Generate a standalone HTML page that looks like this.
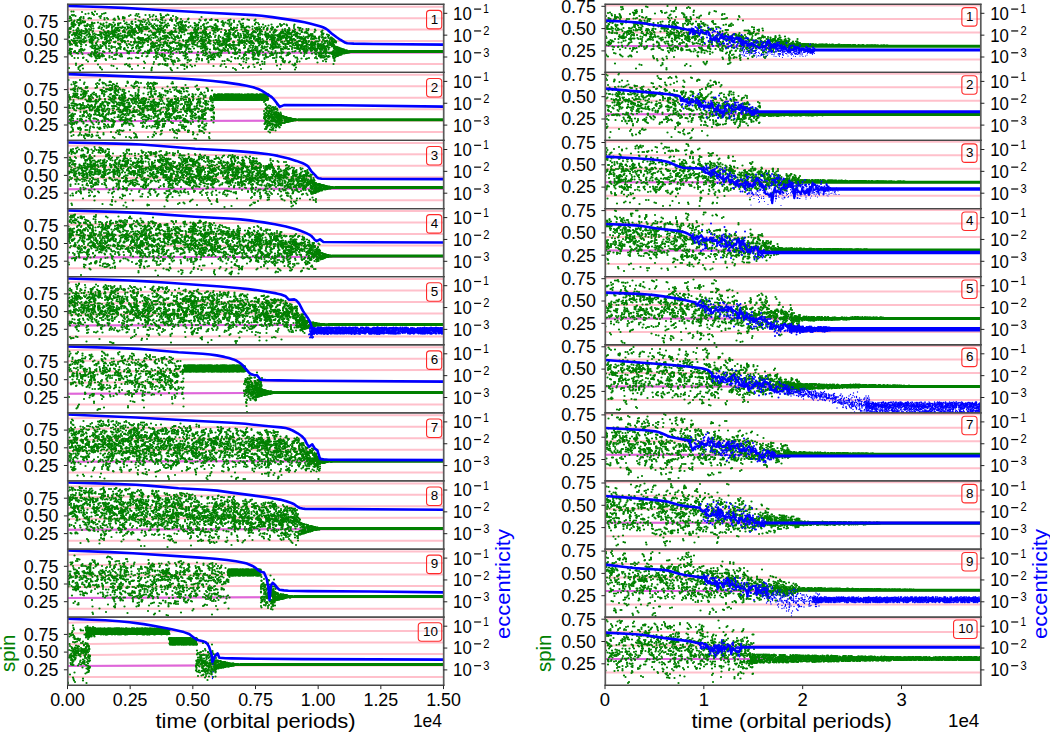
<!DOCTYPE html>
<html><head><meta charset="utf-8"><style>
html,body{margin:0;padding:0;background:#fff;}
svg{display:block;}
text{font-family:"Liberation Sans",sans-serif;}
</style></head><body>
<svg width="1050" height="732" viewBox="0 0 1050 732">
<rect width="1050" height="732" fill="#fff"/>
<g>
<path d="M67.5 64.00 L443.5 64.00" stroke="#ffc0cb" stroke-width="2" fill="none"/>
<path d="M67.5 53.14 L211.5 52.68 L443.5 52.54" stroke="#ffc0cb" stroke-width="2" fill="none"/>
<path d="M67.5 53.14 L211.5 52.68 L443.5 52.54" stroke="#dd66dd" stroke-width="2" fill="none"/>
<path d="M67.5 42.29 L211.5 41.36 L319.5 41.10 L443.5 41.08" stroke="#ffc0cb" stroke-width="2" fill="none"/>
<path d="M67.5 31.43 L163.5 30.38 L211.5 30.04 L319.5 29.65 L443.5 29.62" stroke="#ffc0cb" stroke-width="2" fill="none"/>
<path d="M67.5 20.57 L163.5 19.17 L211.5 18.72 L319.5 18.20 L443.5 18.16" stroke="#ffc0cb" stroke-width="2" fill="none"/>
<path d="M67.5 9.72 L163.5 7.96 L211.5 7.40 L319.5 6.74 L443.5 6.70" stroke="#ffc0cb" stroke-width="2" fill="none"/>
<clipPath id="c00"><rect x="67.5" y="4.50" width="376.00" height="68.10"/></clipPath>
<g clip-path="url(#c00)">
<line x1="352" x2="443.5" y1="51.6" y2="51.6" stroke="#008000" stroke-width="3"/>
<marker id="k0" markerUnits="userSpaceOnUse" markerWidth="1" markerHeight="1" overflow="visible"><circle r="2.2" fill="#008000"/></marker>
<path transform="scale(.5)" d="M139 37l-1 5 1 14 0 1-2 2-1 4 2 1-1 1 2 2-2 3-1 2 2 1 0 2-1 7 2 0-3 2 3 0 0 1-1 16 0 5-1 1 1 29 3-27 1-2-2-1 1-2 1-1-1 0-1-4 2-1-2-1 0-7 2-2-2-1 0-3 3-4-2-16 0-6 0-1 0-1 2-3 0-5-1-7 1-1-1-4-2 0 0-3 3-10 4 0-3 7 2 1 1 13-3 1 0 3 3 0-3 1 3 2-2 1 2 1 0 1 0 7 0 5-1 3-2 1 2 11 0 1-2 7 0 9 0 14 5 4 1-12-2 0 1-1 1-1 1-12-1-3-1-1-1 0 1-3 2-1-2 0 1-1-2 0 0-4 2-5 1-2-2-1 1-3-2 0 2-16 1-1-3-2 0-4 1-2 2-9-3-2 7 10-1 4 1 13-2 3 0 1 1 2 1 0-1 1-2 2 2 0 1 1-2 1 0 2 2 2-3 4 2 5-2 5 2 0-1 3-1 2 3 1-2 14 1 0-2 21 0 3 5 8 0-3 2-2-3-17 0-9 2-4 1-3-1-16 1-2 0-1-3-4 3-1-3 0 2-1 0-1 0-1 0-4 1-2 0-2-3-3 3-1-2-3-1-2 2-5 1-2-2-2 1-1 0-6 0-1 4-5-2 2 1 0 0 3 0 3 0 3 1 2 1 13-1 3-1 1 2 2-2 4 1 0 1 2-1 4-1 5 1 0 1 0-1 1 1 1-3 3 2 2 1 1-1 4 0 5-1 1 1 3 1 3-2 27-1 9 6-4-1-7-1 0 2-14 1-1-2-7 2-7-2-1-1-2 0-14 2-5-2-12 2-5-1-17 0-1 0-2 2-5 0-3-3-10 7 4-3 15 2 0 0 1-2 1 1 6 1 1 1 5-3 5 3 4-3 1 2 0-1 7 2 2-3 2 0 4 2 1 1 0-3 2 1 14 4 21-1-30 1-9 0-10 2-2-3-4 2-1-2-2 3-1-2-2-1 0 2-7-1 0 1-1-1 0 2-3 2-21 2 9-2 1 1 13 0 8 0 6 0 3 1 3-2 4 2 5 0 3-2 27-1 14 7-10-2-2-1 0 1-1 2-1-1-2-1-14 2-7-3-1 0-2 3-1-1 0-1-3 2-1-1-1 1-1 0-1-3-2 0-4 2-9-2 0 3-3-1-3-2-1 2-3 1-1-1-12 2-12 1 3 1 0-2 17 0 1 3 1-3 1 2 4 1 5-1 5-1 2 1 4-2 5 1 0 2 1-2 4-1 1 3 1-2 2-1 3 1 1 0 3-1 3 3 0-3 3 1 1-1 8 3 3 3 15 1-8 0-2-2-1-1-2 0-2 3-1-1-1 1-1-2 0 1-3 1-3-3-1 2-2 1-3-1-1-1-14 2-1 0-2-2-3 0-4 0-21-1-16 2-7 4 5-2 41 3 7 0 6-2 3-1 2 2 3 0 7-2 2 3 0 0 5-3 1 1 0-1 3 2 4 1 1-3 3 2 1-2 4 4 8 3-13-1 0 0-3-1-2 0-1-1 0 2-1 1-2 0-6-1-4-1 0 0-4 0-14 2-9-2 0-1 0 3-14-2 0 2-3-3-8 3-12 3-1-1 4 0 11 1 2 1 9-3 6 3 1-1 2-1 1-1 1 3 1-2 3 2 3 0 1-2 13 1 3-2 2 0 1 2 0 1 15-3 2 1 0-1 21 1 2 3 3 1-26-1-2 2-1-2-2 3-5-1 0-1-11 1-5 0-3-2-10 2-8 1-6-3-5 3-4-1-1 1-3-3-19 7-2-3 1 1 9 0 3 0 14 0 10 1 1 1 1 0 1-3 3 2 1 1 4-2 1 2 1-1 3-2 6 1 1 2 1-3 2 3 2-2 13-1 8 3 6 1 2 1-23-1-3 0-7 3-3-3 0 2-2 0-1-1-3 0-1 1-1-1-4 0-1 1-1-2-3 2-2 1-2-2-7 1-2-1-3 0-6 1-9 2 2 3 10-2 3 1 1-1 2 0 8-1 1 0 2 1 1 1 2 0 3-2 1 2 2 0 7 0 1 0 5 0 5 0 6 1 5 0 9 0 3 4 16-3-30 3-5 0-2 0-2-3-6 2-5 0-1-2-2 2-4-1-6 2-4-3 0 2-15-1 0 6-10 0 6-3 5 3 3-3 1 0 1 0 3 0 4 1 0 2 0-1 2 0 2-2 1 2 2 1 3-2 1 1 0 0 4 0 17-2 11 0 9 3 4 0 14 4-14-2-8 1-16 0-9-2-1 3-1-2-10-1-1 3-1-2 0 2-1-2-1 0-3 1-1-2-1 2-1 0-1 1-1-2-2 2-3-2-5 1-2 0-9-1-3 6 18-3 1 2 3-2 2 3 0-2 4 2 5-1 4-2 1 3 1-2 22 1 3-1 2 0 4 1 2-2 1 2 27 5-26-2-14 0-1 1-7 1-1-3-1 0-7 3-1-2-3-1-1 1-2 2-1-2-3 0-1 1-6-1-1 2-1-3-3 2-2-1-5-1 0 2-3-2 0 2-9-1-2-1-3 5 13 0 9 2 1-2 11 1 5-1 5 1 4 1 1-2 6-1 4 2 2-2 2 1 2 1 10 1 2-2 3 3 0 0-29 1-2 0-2-1-2 2-2-1-2 0-3 1-7 0-2 0-7-1-2 1-16 0-2 0-1 3 1 0 2-1 5 2 5 0 8 0 1-2 4 1 2 0 1 1 2-1 5 2 1 0 1-2 2-1 1 0 7 1 0 2 1-1 2-1 11-1 2 1 0 0 1 1 30 3-1 2-22 0-4-2-1 1-10-1-3 0-13 0-1 2-2-1 0 1-6-2-7 2-6-1-4-1-4 5-13 0 17-2 6 2 0-2 2 3 4-2 2 0 2-1 3 2 3-2 11 2 6-2 7 1 9 1 0 0 3 1 9-3 1 3 12-3 2 3 2 1 0 3-16-1-15-2 0 3-11-3-2 2-5 0-10 1-2-1-2-2-1 1-3-1 0 0-1 2-1 1-2 0-1-2-4 2-1 0-1-2-3 2-5 0-3-2-14 3 13 1 5-1 6 2 4-2 2 1 0 1 1 1 0-1 3-1 1 1 3-2 4 1 3 1 15 0 5-2 2 3 5-3 36 5-51 1-3-1 0-1 0 3-1-1-3-1-3 0-7 0-1-1-3 2-1-1-2-1 0 3-1-3 0 2-4 0-1 1-13 0-6 0-7 2-3 2 4-3 18 2 1 1 2-2 1-1 9 2 3 1 10-2 9 1 0 0 6 1 2-3 1 1 3 1 8-2 10 3 1 1 15 1-15-1-10 0-2 3-2-2-1 2-4-1-1-2-4 0-2 1-4 2-3-2 0 1-5 0-1-2 0 3-1-2-2-1-8 3-2-1-4 0-1 1-1 0-1 0-1-1 0-2 0 2-3 1-3-2-9 2-7-2-6 3 14 3 0-2 4 1 3 1 6-2 2 1 3 0 2 1 4-3 10 2 0-2 2 1 0 1 0 0 3-2 5 2 0-1 1-1 7 2 0 1 0-2 6 3 12 1-5 2-1-2-13 0-3 2-3-1-2-1-1 0-4 0-1 1-3-1 0-1-13 1-1-1-4 2-4-1-4-1 0 1-6 2-5 4-9 0 11-2 3-1 10 3 0-3 4 2 0 0 11-2 10 3 0-2 1 0 1 1 0-1 4 1 18-2 20 2 3-2 10 5-23 2-1 0-6-1-2 0-22 0-1-2-1 0-2 2-1 1-7-3-11 3-1-3-1 3-1 0-2-1-1-2-4 2-3 5-16-3 8 1 4 2 3-1 4 1 0-1 8 0 6 0 10-1 2 0 1 1 1-1 3-1 2 0 2 0 6 0 11 3 1 0 1-1 1 0 2-2 1 7 34 0-3 0-36-3-2 0-1 2-1 0-4 1-2-1-4 0-1 0-7-2-2 3-3-2-4 2-7-2-3 2-8-1-5-2-14 7-4-2 3 0 7 1 11-2 1 2 3 1 2-1 9 1 1-2 2 2 1 0 6-2 8-1 2 2 0 0 2 1 0-2 4 1 0 1 1-2 2 2 33-3 7 4-11 0-10 3-10 0-4-1 0-2-5 2-3 0-2-2-3 3-1 0-11 0-2-3-3 2-1 1-2 0-1-1 0-1-1 1-8-2-3 1-6 2-8 1-7 1 5-1 13 3 0-1 1-2 7 2 1-1 4-1 8 3 2-1 7 0 5 0 6-2 1 1 4 2 0-3 7 3 1-2 1-1 1 3 1-2 3-1 1 1 3-1 3 6 11-1 0-1-15 3-5-3-8 2-3-2-1 3-3-2-3 0-1 1-8-1-4 2-9 0-3-3-2 1-2-1-3 3-1-3 0 0-2 0-15 5-13 1 3 0 4 0 4-2 5 2 2-2 5 2 0 1 0-3 2 3 3-3 1 1 0 0 1-1 1 2 0 1 0-1 2-2 2 1 1 0 11 0 3 1 0-2 3 1 4-1 4 3 0-3 2 3 10-1 10-2 17 5 0 2-13-2-3-1 0 0-1 1-3-1 0 1-8-1-5 3-3-1-2 1-5 0-7-3 0 2-5 0-1 0-8 1-2-1-1 0-4 1-3-2-8-1 0 1-5-1-3 2-3-1 0 3-1 3 7-2 4 1 6-2 2 2 7-2 4 3 1-3 1 2 5-1 3 0 3 1 6 1 0-1 3-2 2 0 11 0 1 2 2-1 7 1 2-1 1 2 5-3 1 1 2 2 2 0 6-2 1 2 1 4 1-1 0 1-3-1-11-1-17-1 0 2-9 0-3-2-1 3-1-3 0 0-8 1-3-1 0 3-1-1 0-2 0 3-1 0-1-1 0-1-1 1-16-1-2 2-2-3-2 0-18 3-2 2 1-1 17 2 4 1 14-3 1 1 1-1 8 3 1-3 5 0 10 2 0-2 1 2 2-2 7 3 0-2 3 1 8-1 6 5 21-1-3 1-17-1-5 2-1-2-4 1-3 0-2 0-1-2-4 2-1-1-1 2-1-2-2-1-7 0-1 2-1 1-11-2-4 2-1-3 0 2-1-2-2 1-2 2-2 0-22-3 0 2-4 4-4-2 8 0 2 1 22 1 0-2 1 0 3 3 2-3 6 3 2-1 5 0 1-2 2 3 10-2 6 1 6-1 13 0 1-1 1 2 3 1 3-3 12 6-17-2-2 1-1-1-21 3-1 0-1 0-12-2-2 1-4 1-1-1-3-1-3 1-9 0-2 1-2 0-3-3-1 1-6 3-16 3 2-2 2 0 1-1 3 3 4-1 1-2 5 1 12 2 7-1 2-2 1 2 12 0 6-1 5 2 2-2 5 1 12 1 20 1-14 3-1-2-3 2-15-2-4 0-2 2-6-1-1 0-2-1-3 2-4-1-5-2 0 0-3 2-7 1-4-2-5 2-2 0-1-2-3 0-3 2-3-1 0 4-7-1 5 0 1 1 1 1 2-1 2 1 1-2 4 1 1 1 1-2 2-1 1 3 0-2 1 1 3 0 8 0 2 0 2-1 12 0 1 0 3 1 1 1 0-3 2 3 1-3 3 2 0-2 8 2 24 4 0-1-1 2-18 0-5-2-2-1 0 1-13-1-2 3-7-1-2-2-15 1-1 1-5-2 0 3-3-3 0 1-3 1-1 0-2-2-5 1-3 5 2 1 6-2 2 1 4-2 4 2 1-2 3 1 5-1 21 3 1-2 2 2 0-1 10 1 3-1 5 1 0 0 2-1 4-1 12 0 3 0 6 5-3 0-2 1-8 0-5-3-4 3-2-3-5 2-1-2-1 0-7 1-3 0-2 2-1 0-1-2-4-1-1 0-3 3-1 0-1-1-2-2 0 0-20 1-1-1-1 0-7 1-9 4-6-1 2 2 6-1 9 0 1-1 12 2 9 1 0-2 3 0 1 0 3 2 6-3 1 2 7-1 1 1 5 1 1-2 15 2 3 2 8 1-10 1-16 0-1-2-5 0-17 0-1 2-2-3 0 2-2 1-3-2 0 1-1 1-1-2-3 1-1-1 0-1 0 2-1 1-1-2-13 4 3-1 11 2 0-2 2 0 2 1 3 1 0 1 1-3 2 1 0 1 0 1 0-3 2 3 0-2 2-1 2 3 0-3 4 3 0-2 2 0 5-1 40 6-2-2-34 3-7-3-1 1-4 1-3 1-1 0-5-3-2 2-1 1-4 0-2-3-2 3-1-1 0-1 0 1-4-2 0 2-3-1 0 2-2-1-4 0-4-1-1 4 3 0 3-1 7 1 2 1 1-2 2 3 1-2 1 1 4-1 1 0 2 2 2-1 5 1 6-1 4 1 3-1 16 1 2 0 4-2 3 0 5 5-4 0-2-1-7-1-6 2-11 0-10-2-5 1-3-1-4 1-4-1-8 1-2-1 0 1-2-1-4 0-1 0-1 2-4 1-6 4-5-2 7 1 12 0 4-2 8 2 0 0 1-1 7 2 4-1 1 1 2-3 1 2 0 0 1 0 5-1 6 1 0 0 4 1 7 1 17 0-3 2-8 0-6 0-3-1-5 1-2 1-1 0-2-3-1 2-1-1-1 2-1-2 0 0-3 2-1-2-1 0-1 1-2-1-4-1-1 1-4 2-3-1-2-1-1 2-1-1-1 1-11-1-1 4-10 1 1-3 7 1 6 0 1 2 2-2 1 0 2 1 0 1 3-2 2 2 0 0 2-1 2 1 3-3 3 2 0-1 5 2 0 0 1-2 3-1 1 3 3 0 1-3 1 2 1-2 2 1 0 2 0-3 1 3 1-2 1 1 4 1 2-3 5 2 4 4 7 1-5-2-4-1-1 2-1-2-2 2-6-1 0 2-2-1 0-2 0 1-4 2-7-3-5 1-4 2-5-2-1 0-1-1-1 2-1-2-1 0-3 1-6 0-3 0-8-1-8 4 6 0 9 1 14 0 6 1 0 0 1-2 1 2 3 1 2-2 2 1 2 0 1 1 18-1 7-1 4-1 2 1 5 0 3 5-6 1-4 0-1-3 0 2-1 0-3-1-4-1-7 1-12-1 0 1-5 0-1 1-7-2-3 0-5 0-1 2-12-2 0 3-13-3 0 3-2 2 16 2 1-1 1-2 1 1 4 2 7 0 13 0 9 0 17-1 2-2 2 3 3-1 2-1 2 2 14 1-13 2-5-1-3 0-3 2-9-3-1 3-1-3-1 1-1-1-3 3-4-1-2-2-1 3-5-1-6 1-3 0-6-3-1 2-3-2 0 2-2-1-1 2-3-2-5 2-2 0-8 3 0 1 0-3 11 2 2 1 0-3 2 1 0 0 2 2 0-3 3 3 2-2 18 1 2 0 3 1 0 0 10-2 3-1 9 3 2 0 1 0 1 4 3-1-2-1-4-1-2 2-1 1-4 0-2-2 0-1-2 3-5 0-2-3-1 0-1 3-3-2 0 2-3-3-1 2-1-1-3 0-3 1-3-1-11-1-1 3-1-3-15 7 1 0 14-1 6-1 10 0 9-1 5 1 3 2 0-1 10 0 3 1 2-2 2 1 3 1 18-2 3 4-10-1-19 3-2-2-1 2-4-3-5 2-1-2-1 0-2 3-1 0-1-1-3 1-2 0-3-2 0 1-2 1-23-2-2 1-4 1-1-2-3 6 3-3 3 2 12 0 6 0 1 1 2-2 1 1 8 0 2-2 2 1 0 0 1 0 2 2 2-2 2 2 3-3 5 2 2 0 3-1 20 0 6 3 6 3-14 0-2-1-17-2-6 0-2 0-2 3-1-2-1 0-3 0-2 1-1 1-1-1 0-1-1 0-3 2-5-1 0-1 0-1-5 2-1-2-4 0-1 3-15 3-7-2 1 3 3-1 4 1 4 0 8-1 1 1 2-2 3-1 2 2 0-2 3 3 1 0 1-2 1 1 0-1 1 0 1 2 0-2 1 1 1-2 1 2 0-1 1-1 2 2 0 0 7-1 1 2 1-1 1-2 6 0 3 1 2 1 3 0 15 4 2 1-9 0-16-1-3-2 0 0-3 3-2-3-2 1-9 1-2-2-8 0-2 1-2 2-6 0-1-1 0 0-3 0-5 0-1 1-2-2-8 3 19 1 0 1 1 0 1 1 6-2 3 2 0 0 2 0 12-1 2 1 0-2 5 1 2 1 4 0 1-1 9 0 30 4 2 1-21-1-1-1-8 1-2 1-2-1-3 1-2-2-1 2-3-3-3 0-3 0-5 3-9-2-1 2-1 0-2-3-3 2-4 1-2-3-4 0-2 0-1 0-11 0-3 7 9-1 5-2 1 2 5-1 11 0 2-1 16 1 7 0 9 1 1-2 1 0 32 7-12-3-11 0-1 3-4-3-8 2-4 1-1-1-8-2-1 3-2-2 0 0-3 2-1 0-1 0-3-3 0 3-4-1-2-1-3-1-1 1-3-1-1 3-23-1 0 3 4 1 2 1 3 0 2 0 1 0 4-2 9 1 3 0 3 0 8 0 1 0 1 1 0-1 2-2 15 0 4 3 12-1 13 4 6 1-13-1-8-1-29-1-1 1-3-1-2 3-4 0-9-1-4-1-8 0-2 1-2 0-4-2-8 3-1 1 17 1 3 1 0 0 4 0 1 1 6-3 1 0 2 3 0 0 2-2 2 0 5-1 1 2 2-2 1 2 1-2 4 2 2 0 3-2 1 3 8-1 3-2 2 2 1-2 2 0 6 4 7 1-5 0-4-1-6 2-6-1-16 2-6-2 0 2-1-2-1 2-5-2 0-1 0 0-3 3-4 0-1-1-1-1-2 1-3-2-1 0-5 2-2 1-14 3 1-1 13 2 2-2 7-1 3 1 5-1 3 1 0 2 5 0 5-2 1 2 2 0 6-2 5-1 3 3 1-2 1 1 1 0 2-1 12 1 16-2 2 6-33-1 0 0-7 1-5-2-4 3-1 0-1 0-1-2-1 1-5 0-1-2-1 2-3 1-3-3 0 3-1 2-15 0 5 1 5 1 2-3 1 2 5 1 0-3 2 0 9 2 3-2 1 2 0 0 5 0 3-1 2-1 4 2 1 1 0-3 1 2 3-1 3 2 1-1 1 1 4-2 1 1 0 1 3 0 1 0 10 2 5 1-16 1-1-2-6 1-3-2-3 0-5 2-3 1-3 0-1-3-6 3-6-3-3 1-2-1 0 1-1 2-2-3 0 1-9 1-1-2-1 2-6 0-7 0-1-1-7 2-2 1 6 2 10-1 3-1 1 3 0 0 3-3 3 1 13 0 1 2 1-3 1 3 1-3 12 3 0-3 4 3 0-3 3 3 1-1 2 1 0 0 3-1 11 0 8 2-1 1-6 0-7-1-2 3-1-1 0-2 0 3-3-3 0 3-3-2 0 1-12 1-3 0-2-2 0 0-1 2-1-2-2-1 0 1-3-1 0 3-1-3 0 1-1 1-1-1-2-1-2 0-3 2-2 0-8-2-1 2-4 0-5-2-3 7 8-3 3 2 3-2 2 0 2 0 2 1 0 1 2-2 2 0 5 0 1 1 3 0 3 1 2-2 5 3 6 0 5-2 1-1 1 1 1-1 27 2 8 3-10-1-5 2-13 0-6 0-7-2-2 1-1-1-2 2-5-2 0 1-2-1 0 1-2 2-2-2-3 0-9-1-6 3-5-1-9 5 3-3 3 3 9 0 2-1 3 1 2-3 13 1 9 0 3 2 4 0 8 0 1 0 2-2 5 0 2 0 6 0 4 4-13-1-2 2-13-2 0 2-1-2-5 3-1-2-5 1-1-1-2 1-1-2-1 2-4 0-1-1-4 1-1-2 0 3-1-3-1 1-2 0-1 1-8 1-2-1 0 1-2 2-5-1 16 1 2 1 2-1 3 1 0-2 2 0 12 1 15-1 11 4-2 3-2 0-1-3-2 3-3-2-7-1-1 3-2-1-2-1-3 2-10-3 0 3-2-1-2 0-1 1-1-2-1 2-3-3-5 3-4-1-3 1-8 1 5 2 1-1 3 2 6 0 2-1 4-1 1 1 3 0 1-1 2 2 0-2 1-1 2 2 0 1 1-2 1-1 1 2 2-2 1 1 0 2 1-1 2-1 1-1 1 1 1-1 1 3 0-2 1 1 0 0 2 1 0 0 1-2 2-1 8 1 0 0 3 1 0 0 6 3 0 0-9 2-2 0-3-1-7-1 0 2-2 0-1 0-2-1-1-1 0 2-3-3 0 3-2-2-2 0-3 0-2 1-2-2-3 2-2-1-5 2-2-2-2 1-2 4-5-1 7 2 9-2 1 2 6-1 3-2 3 2 3 1 2 0 1-2 4-1 2 2 0 1 11-2 2 0 4 0 3-1 6 0 3 2 7 5-25-1-11-2 0 1-2 1-3 1-1-3-8 1-2 1-3 1-1-3-2 3-2-1-1 1-1 0-2-3-14 4-5 1 2 1 2 1 11-1 1-1 2 2 0 0 1-3 1 1 3-1 2 2 1 1 0-1 2 0 1 1 1-1 1-2 1 2 4-1 9 1 4 1 1-1 2 1 3 0 3 0 1-1 6-2 1 3 2-1 13-2 9 7-14-1-1-1-2 1-2 0-2 1-12-2 0-1 0 2-6-1-1 2-4 0-6 0-1-2-1-1-3 2-7-1-2-1 0 3-1-3 0 2-2 1-4 0-1-3-1 2-2-1-1 0-3-1-9 4-2 2 10 0 3 1 2-1 4 1 2-2 2 0 2 0 2 0 8 1 5 1 3 0 3-1 2-1 1 1 25-1 3 4-14 2-1 0-4-3-9 2-3 1-6-3 0 3-2 0-3-1-2-2-1 2-3-1 0-1 0 0-1 0-1 3-2-1 0 0-2-1-1 0-1 2-2-1-2 1-2 0-3-1-9-1-2 5 7 1 2-1 2 1 1-2 2 1 2-2 1 1 1 1 0 0 1-1 5 2 0-2 2 1 7-2 1 1 0-1 1 2 1 1 1-3 1 1 1-1 10 2 0 0 7 0 3-2 1 0 1 2 15 2-2 0-16 3-14-3-1 2-6-1 0 2-5-3-1 1-1 2-1-1 0 0-2-2 0 2-1-1 0 2-5-2-2 1-1-2-1 6-5 1 1-2 2-1 1 3 5-3 3 3 5-2 1 0 3-1 3 3 2-2 2 1 1-1 5-1 3 1 5 0 26 5 10-2-8 1-1 2-1-1-2 1-12-3-3 1-9 2-1-2-6 0-5 1-5-1-5 2-1-3-2 3-7-2-2 0-4 1-2-2-1 2-3-2-3 0-4 1-3 5 16-2 2 0 1 1 2 1 0-2 3 2 0 1 3-2 8 2 0 0 1-3 1 0 3 0 1 2 0 0 2 1 2-3 2 1 1 1 0 0 18 1 3-1 4 0 2-2 11 7-12 0-20 0-4-1-1-2 0 1-2 0-1-1-2 0-1 3-2-2 0-1-2 3-6-2 0 2-5-1-3 0-1-2-6 3-6 0-3 0-2-3-1 5 1 2 5 0 3-3 4 2 6 0 1 1 2-1 1-2 4 3 7-2 2 0 1 1 0 1 0-1 3 1 0-2 2-1 4 2 5 1 11 3-18-2-1 3-1-3-3 1-3 0-2 1-2-1-1 2-2-3 0 2-1-2 0 3-4 0-1-2-1 0-1 2-3-3-9 1-6 4 7 1 0 0 11 1 0-1 2-2 1 1 0 1 0-1 1 1 0 1 0-3 1 1 0 2 4-2 1 1 6-2 1 0 3 2 0-2 4 1 0 1 0 0 2-2 1 2 0 0 2-1 3-1 4 4 6 2-1-1-11 0-3 2-2-2 0 2-2-2-1 0-2 0-4-1 0 3-3-1-1-1 0 0-1 0-2-1-1 1-2-1 0 0-8 3-1 0-7-2 0-1-2 1-2 0-4 4 0-1 3 1 8 1 3 0 1-2 3 2 6-1 2-1 5 3 1-3 4 2 3 0 19 4-14-1-2 0-1 1-1 0-2-2 0 2-2 1-1-1-3-1-1 1-1 1-1-1-1 1-3-1-5 1-3 0-3-3-1 2-1-1-1 1-1 3 0 0 3 0 1 1 5-1 1-1 6 1 2 2 0-3 1 1 3 2 0-1 1-2 1 1 2 0 1 2 0-1 2 0 1-2 3 0 6 6 9 1-8-2-3 1-4 0-1-2-1 3-1-2-1 1-3-1-3 2-2-2-1 1-1 0-2-2 0 3-2-3-5 3-2-1-1-1 0 1-1 0-1-2 0 1-9 2-3-1-2 2 18 0 6 2 0 1 0 0 5 0 4-3 5 3 0-3 1 1 0 1 2-1 1-1 2 3 2-3 3 1 1-1 5 2 3 1 8 3-13 0-1 1-1 0-2-1-1 0-1 1-1-1-8-2-1 1-1 1-2-2 0 3-2-3 0 3-2-2 0 0-1 0-5 2-3-2-3 1-1 0-1 1-1 0-1 4-10 0 1 0 6-1 18-2 2 0 1 3 0-2 3 2 2-1 1 0 1-2 1 1 3 1 2-1 3 2 1-2 3 2 1-2 1 0 2 2 0 3 7 0-7-2-3 3-1-3-4 3-1 0-1-3-5 0-2 1-1 1-1 0-1 0-1-1-1-1 0 3-3-1-1-1 0-1-5 2-4 1-1-2-4-1 0 1-2 1-4-1-1 2-1-3-1 1-5 6 14-3 1 3 0-1 6-1 1 1 3-2 1 1 5 0 1 1 0-2 2 3 0-2 1 0 2 0 1 1 0-1 2 0 1 1 1-2 1 1 0 1 0 1 4-2 5 1 0-2 2 2 4 2 4 1-5-1-5 1-1-1-5 0-3 0-1 1-1-1-2 0-1 0-1 0-1 2-4 0-1 1-1 0-5-3-3 2-2 0-12 3 1 1 1-2 2 1 3 2 6-3 2 0 4 2 2-2 4 3 1-2 1 0 3-1 6 1 1 2 0-2 6 0 1 2 0-3 1 4-7 3-2-3 0 2-15-1 0 2-2-2-1-1 0 2-1-2 0 0-1 3-3-1-4-2 0 3-1 0-1 0-1-2 0 4 2 2 1-3 1 0 3 2 0-1 2 2 0-3 3 2 0 0 1-1 2 2 0-1 2-2 1 3 0 0 8 0 2-2 1-1 2 0 1 1 0 1 0 1 0-3 1 2 0 0 2 0 3 1 1 0 2 0 12 2-6 0-2-1-3 0-1 2-1-1 0 2-3-2-2-1 0 0-1 2-2-1 0 0-1 2-1-3 0 2-3 0-3 0-1-2-1 0-1 2-2-1 0 2-1-2 0-1 0 0-1 0-2 1-5 0-1 2-1-1 0 1-1-2-2 3 4 0 1 0 9 2 0-1 1 1 0 1 0-2 1 0 1-1 1 3 0 0 1-2 2 0 1 2 0-3 3 0 3 1 0 1 0 1 1-3 2 1 1 1 0 1 0-3 1 5-2-1 0 1-1-1 0 2-1-2 0 0-2 0-2 2-1-2 0 0-1 3-2-2 0 1-1 1-2-1 0-2 0 0-1 3-1-1 0-2 0 1-1 3 2 2 0-2 1 3 0-1 1-2 1 1 0-1 2 3 0-3 2 3 0-3 2 1 0 2 0-3 1 2 1 0 1 1 0-3 1 6-3-1 0 0-2 2-1-3 0 3-1-1-1-2 0 2-1-1 0 2-1-2 0 2-1-1 0-1 0-1-1 4 1 0 1 1 0-1 1 1 0 1 0-2 1 1 0 1 0 1 0-3 1 1 0-1 1 1 0 1 0 1 0-3 1 2 0 1 0-3 1 2 0 1 0-2 1 4-1 2-1-1 0-2 0 3-1-1 0-2 0 3-1-1 0-1 0-1 0 3-1-1 0-2 0 2-1-1 0-1 0 6 1 1 0-3 2 1 0 2 0-3 1 1 0 2 0 4-1-1 0-1 0-1 0 3-1-1 0-1 0-1 0 3-1-1 0-1 0-1 0 4 1 1 0 1 0 1 0-3 1 1 0 1 0 1 0 1 0 3-1-1 0-1 0-1 0 4 0 1 0 1 0 1 0 4 0-1 0-1 0-1 0 4 0" fill="none" stroke="none" marker-start="url(#k0)" marker-mid="url(#k0)" marker-end="url(#k0)"/>
<path d="M67.5 6.0 L102.0 7.0 L123.4 7.9 L155.6 9.7 L200.1 12.3 L253.9 15.1 L261.6 15.7 L272.3 17.1 L290.7 19.9 L298.4 21.1 L304.6 22.3 L310.8 23.7 L315.4 24.9 L320.0 26.2 L323.0 27.3 L326.0 28.7 L327.8 30.0 L331.3 33.3 L336.7 37.3 L340.2 39.7 L345.5 42.8 L347.3 43.3 L353.8 43.6 L373.7 44.0 L443.5 44.6" stroke="#0000ff" stroke-width="2.6" fill="none" stroke-linejoin="round"/>
</g></g>
<g>
<path d="M67.5 132.10 L443.5 132.10" stroke="#ffc0cb" stroke-width="2" fill="none"/>
<path d="M67.5 121.24 L265.5 120.65 L443.5 120.64" stroke="#ffc0cb" stroke-width="2" fill="none"/>
<path d="M67.5 121.24 L265.5 120.65 L265.8 120.65" stroke="#dd66dd" stroke-width="2" fill="none"/>
<path d="M67.5 110.39 L139.5 109.85 L265.5 109.20 L443.5 109.18" stroke="#ffc0cb" stroke-width="2" fill="none"/>
<path d="M67.5 99.53 L139.5 98.73 L265.5 97.75 L443.5 97.72" stroke="#ffc0cb" stroke-width="2" fill="none"/>
<path d="M67.5 88.67 L139.5 87.60 L265.5 86.30 L443.5 86.26" stroke="#ffc0cb" stroke-width="2" fill="none"/>
<path d="M67.5 77.82 L139.5 76.48 L265.5 74.86 L443.5 74.80" stroke="#ffc0cb" stroke-width="2" fill="none"/>
<clipPath id="c01"><rect x="67.5" y="72.60" width="376.00" height="68.10"/></clipPath>
<g clip-path="url(#c01)">
<rect x="214" y="95.00" width="54.60000000000002" height="4.80" fill="#008000"/>
<line x1="298" x2="443.5" y1="119.8" y2="119.8" stroke="#008000" stroke-width="3"/>
<path transform="scale(.5)" d="M137 160l-1 25 2 5-1 3 1 1 1 2-2 5 0 3 0 6 2 1-2 1 1 0-1 3 0 2 0 5 2 3-3 1 3 6-3 2 3 5-1 7 5 26-2-7 2-2 0-9-2-6 1-4-1-3 1-1 1-3 0-1 0-4-1 0 0-1 1-2-3-13 3-9-2-8-1-1 1-4 1-15 1-10 4-5 0 13-2 2 2 8 0 4 0 1-2 2 2 6 0 3-2 3 2 1-3 4 3 1-2 4 2 0-2 11 2 2-1 3 1 0-3 3 2 2 0 4-1 5 2 1-3 1 0 2 1 6 1 3 0 3 1 8 1-22 1-3 1-17-1-8-1-2 1-6 1-4-1-1 1-13 0-1-1 0 2-2-3 0 3-2-3-1 3-1-1-4-2-2 2-2 0-3 0-4-2-4 2-1 1-3 2 1 0 7 2 6 0 4-1 5 1 1-1 3-2 1 2 3-2 13 1 2 1 0-1 1 1 0 0 5-2 5 3 17-3 6 3 0-2 3 4 24 2-2-2-11 0-1 2-1-3 0 2-39 1-8-3 0 1-12 0-3 0-19 3-15 2 16-2 1 3 6-1 6 0 1-1 7-1 11 2 2 1 0-1 1 0 1-1 3 1 1-1 3 0 5-1 8 2 5-2 1 2 2-2 1 0 14 1 3 1 0-1 3-1 5 3 4 4-23 0-3-3-1 0-4 1-6 2-3-2 0 0-13 2-1 0-1-2-4 1-1 0-4-2-9 3-2-2 0 2-2 0-3-1-2 1-1 0-2 0-4-3-2 5-14-1 3 3 8-2 6 1 1-1 1 2 0-1 1-1 1 2 0-1 1-2 1 1 0 2 0 0 3-1 2 1 6-2 13 0 4-1 1 0 6 1 1 2 0-3 2 0 6 3 21 0 7 0 8-3 3 0 3 2 3 3-6 0-1 1-1 0-9 1-10-2 0-1-9 1-7 1-8-2-3 1-1-1-7 3-1-2-2 2-9-1-1 0-1-1-14 0-2-1-2 2-7 1-2-3 0 4 8 1 10 1 4 1 0-1 2 0 1 1 0-3 3 3 0-1 1-2 6 1 1 1 5 1 0 0 2 0 11-3 2 1 2 1 5 1 23 0 4-1 5 1 2-3 1 7 2-3-18 1-3 2-9-2-3-1-3 0-4 1-1 0-1 1-2 1-9-3 0 3-1-3 0 0-1 1-6 2-1-2 0-1 0 3-1 0-1-1-7-2 0 1-2 0-1 1-1-1-2-1-4 3-3-1 0 3-3-1 7 2 2 0 7-2 9 1 4 0 3 2 18-2 9 2 3-1 5-2 15 1 3 3-17 2-18-2 0 2-8-2 0 3-2-1-3 0-3-2-5 2-2-2 0 2-1 0-3 1-2 0-4-1-2-2-13 0-4 3-9 4-10-3 2 2 4 0 3-2 13 0 3 3 2-1 1-2 6 1 0-1 1 2 2-1 3 2 8 0 3-2 1 2 1-2 1 0 3 1 7-1 8 0 6 2 11 0 10-2 6 5 4-2-4 3-13-1-1-1-9 1-3-2-5 3-10-2 0 1-1 1-2-1-2-2-2 0-1 2-1 0-2-1-3 2-2-3-1 0-10 2-3 1-1 0-3 0-4-1-24 1-7 1-2 1 21 2 0-2 18 0 10 1 0-2 3 2 0-2 1 2 0 1 3 0 5 0 10-3 2 2 0-2 23 1 2-1 19 7-7 0-3-2-23-1 0 1-2 2-8-1 0-2-3 0-1 2-1 0-1 0-4-1 0 2-1-1-2-1-2 2-7-2-3 0-1 2-2-2 0 0-1-1-17 1-2-1-2 3-1-3-2 3-5-1-8-1-2 3 1 3 2-2 14 1 2-2 4 1 1-1 3 2 6 0 1 0 4 1 0-3 8 2 1-1 4-1 2 3 4-1 1 1 9-3 2 3 1-2 1 2 0-2 1 0 2 1 3-2 6 2 1-2 4 1 3 6-1-3-3 3-14-3 0 0-8 2-2 0-9-1 0 2-11 0-2-2-2 0-21 1-4-2-1 1-7 6-7-2 7-1 7 2 2-1 13 1 6-2 6 1 1 2 0-1 1-2 4 0 6 3 1-1 4-1 3 1 1-1 3-1 9 2 2-2 9 1 3 2 2 3 10 1-10-1-12 1-4-1-10 1-25-2-3 1-2-1-2-1-1 0-6 2-1-1-7 1-1-1 0-1-1 3-3-3 0 0-6 2-6-2-1 6 5-2 3 1 3 0 4 0 1 0 13 2 1-1 1-1 3-1 1 0 4 2 3-2 7 2 1-1 4 1 4-1 4 1 1-2 1 1 13 1 0 0 3 1 0 0 4 0 2-3 1 3 0-2 2 0 1 1 0 0 21 3 2-1-31 2-2-2-1 1-7-1-8 2-1-2-1 2-1-2-7 0-4 3-1-3-1 0-5 3-3-3-1 0-3 3-2-2-1 2-1-1-1-2-3 3-4-1-2-1 0 0-3 1-1 1-2 0-2-1-1 0-3-2-4 6-2-2 4 2 2-2 5 1 3-1 1 0 8 2 0 1 0-2 15 2 2-1 2-1 4 1 6 1 15 0 27 0 1-3 3 5 3 1-4 1-4 0-21-2-5 0-4 0-7 0-4 1-3-2 0 3-5-2-2 1-4 0-8 0-1 1-4-2-7-1-3 0-1 1-2 2-3-3-3 5 6 2 12-3 4 3 1-3 3 2 0-1 1 1 5 1 2-3 1 0 3 0 9 1 0 2 3-3 1 0 1 3 0-2 6-1 3 3 2-1 2 0 1-1 2 1 20-2 8 5-7 2-1-3-9 2-3-2 0 1-9-1-5 2-1-2-5 2-2-2-3 3-2-1 0 1-2 0-1 0-8-1 0-2-1 3-2-1-1-1-1 2-3-3-1 3-2-1 0-2-1 1-2 0-3 0-2 0-2-1-1 1-7 1-3 3 1-1 4 3 2-2 1-1 1 1 2 1 2-2 2 0 1 2 0 1 0-3 2 1 0 2 4-2 2 0 4 0 1 0 4 0 1 2 1 0 1-2 1 1 0-1 1 1 4 1 7-3 1 1 1 2 5 0 3-3 2 1 1 1 0 0 3 0 1-2 1 2 1 2 27 0-27 1-1-1-1 3-1-2-4 2-1-3 0 2-1-1-7 1-5 1-4-3 0 1-1 1-2-2 0 3-1-1-2-1-2 2-1-1-8 1-4 0-1-3-28 3-6 0-3 1 2 2 18 0 14-2 3 2 5 0 1 1 1-2 2 2 1-2 3 2 1-3 1 2 4 1 5 0 3-3 1 1 2-1 9 2 0-1 8 2 3 0 24 3 2-2-16 3-13-3 0 3-5-2-1-1-1 1-2 0-1 2-1-3-12 0-3 0-7 2-2 1-11 0-1-1-2 1-7-2-1 2-19 3 2 1 0-2 19 2 4-1 2-1 1-1 5 2 3 1 10 0 4-2 2 1 1-2 1 3 5-2 1 1 1-1 17 2 3 2 23 2-1 0-6-3-2 2-26-1-7 2-9-3 0 0-1 1-3 0-6 0-8 0-3-1-3 2-3-1 0-1 0 3-4 0-3 0-4-3-10 2-3-1-5 1-2 2-3 3 1-3 2 2 6 0 19 0 5-2 3 0 3 0 2 3 0-3 4 2 12-2 2 2 2-2 46 1 3 1 2 5-45-3-1 3-2-1-5-1-8 2-1-3-2 1-4 1-6-1-3 0-2-1-3 2-2-2-1 0-2 1-4 0-3 0-2 1-4-1-9 5 0 0 34-1 3-1 2 2 0-2 1 3 0-2 6-1 2 0 3 3 2-2 6-1 2 3 0-1 3 1 6-1 10 3 8 2-1-1-2-1-5 2-2-1-5-1-5 1-5 1-5-2 0 2-2-2 0 2-2-1 0 1-1-2-1-1-1 1-1 1-5 1-1-1-3-2-3 2-2-2-3 3-1-3-1 3-1 0-9 2-12-1 21 3 4 0 1-2 1 1 1-2 1 1 0 0 1 1 2-2 1 2 4 1 2-1 1-2 1 0 13 1 2-1 2 2 6 0 7 3 10 1-3-2-11 1-2 1-5-2-1 0-2 3-11-2-4 2-3-2-2 1-1 1-6-2-6-1-2 3-20-1-9 2-3 2 3-2 4 0 1 1 12-1 4 3 5-1 5-1 5 0 8 2 0 0 1-3 5 1 2 0 10 2 2-2 3 0 2 1 0-2 2 3 13-3 22 7-19-1-17 1-5-1-13-2-1 2-1 1-2-1-3-2-2 2-2-1-2 2-3-1-1-1-9 2-3-1-3 0-2 1-3-2 0 2-3-1-3-2 0 1-3-1 0 3-7-2-1 4 1 2 2 0 1-1 2 1 6-2 13 0 2 1 1 1 6 0 1-2 2 2 1 0 2-2 3-1 2 3 0-3 2 0 1 3 0-2 2 1 0 1 3-1 1 1 3-1 1 1 12-2 16 2 17-2 5 3-3 1-7 2-11-3 0 2-4-1-6-1-9 3-2-1-2 1-3-3 0 1-5 1-1 0-2-1-1 2-2-1-4 1-3-1 0-1-3 1-2-2-5 3-10-2-1 2-1-2-4 0-5-1-3 3-7-1-1 1-1-3-1 6 2-2 15 0 23 3 1 0 1 0 2-2 1 0 2 2 10-3 1 3 8-3 2 1 0 2 7-3 2 0 2 2 0 1 1-2 1-1 2 1 0 2 6-1 3-2 10 5-12-1 0 0-3 3-2-3-1 0-1 2-2-1-2 1-7-2-1 0-4 1-3 1-8-2-7 1-2 2-4-2 0 1-3 1-6-3-6 3-1-1 0 1-6 1 3 3 0-1 2-1 2 0 2 2 1 0 3-2 3 2 6 0 8-2 3-1 3 2 3-1 1 0 1 0 2 2 11-3 3 2 19 1 5-2 2 3-8 1-7 1-3 0-3-1-6-1-1 1-3 1-1 0-13 1-9 0-9-2-4 0-8 2-4-2-13 5 4 1 2 0 8-2 17 2 7 0 12-1 1 1 4-3 6 1 4 2 0-1 5-2 1 0 3 0 2 7-14 0-4-3 0 2-1 0-4-1-1 2-1-3-1 1-2-1-1 2-2-1-4 1-1 1-6-1 0 0-2 1-7-1-4 1-12 0-4-1 0 1-9 2 10 0 14 1 6 1 2-2 1-1 3 2 0-2 1 0 2 1 1 0 2 1 3-1 1-1 2 2 5-2 2 2 0 1 2 0 3-2 1 1 4 0 2 0 1 2 19 2-16 1-7-3-2 1-3 2-1 0-3-3 0 1-16-1 0 3-2-2-1-1-2 2-3 0-1-1-2 1-1 0-16-2-5 3-12 2-3 1 3 0 8-2 24 0 3 3 3-2 1 1 3-2 1 0 2 2 1 1 2-2 2 1 0 0 3 0 1 0 2 1 4-3 2 0 17 2 0-1 12 1 2 3 15 2-9-3-2 1-2 2-24-1-2-1 0-1-2 1-10-1 0 3-1-1-2-1 0 2-3-1 0-2-10 1-2 0-2 2-6-1 0 1-1-2-5 0-12 0-5 4-1-1 4 3 3-1 1-2 11 3 6-2 1 0 1-1 2 0 3 3 0-3 4 0 4 3 2-2 5 1 0 0 11-1 1 2 3-2 1-1 1 0 1 1 21 1 7 0 9 5-14-3 0 1-3 1-9 1-13 0-2-2-3-1-7 3-1-3-12 0-5 1-1 1-4-2-1 0-3 0-2 1-12 1-1-1 0 2-2 4-5-1 7-2 3 3 1 0 6-1 4 0 3-1 9 1 10 0 5-2 8 1 0 2 3-2 1 0 9 1 5 2 6 3-3-3 0 2-3 0-9 1-2-1-9 1-11-1-3-2-8 3-8-2-3 2-18 0-2-1-1 5-6-3 13 3 9-3 2 3 1-3 4 2 5 1 0-1 4-2 4 0 1 0 3 2 5 0 2-2 14 2 1 1 1-2 2 2 1-2 2-1 9 2 1-2 3 2 3 2-7 3-9-3 0 2-3-2-9 2-5-2-3 3-2-2 0 0-1 1-1-1-3 2-1-1-4 0-2 1-1-2 0 2-5-2-1-1-4 2-5 1-11-2-1 0-6 3 0 2 13-1 1 1 7 0 3 1 1-1 1-1 3-1 4 2 0 0 3 0 3 0 1-1 2 2 1-3 1 3 0-2 23-1 2 0 16 2 0-2 3 1 0 5-16-1-3 1-8 0-4-1-1 2-4-1-4-2-1 3-1-3-1 3-2-3-1 0-4 0-3 3-2 0-2-1 0-1 0 1-3-1 0-1-3 0-2 5-11 1 2-2 3 3 0-1 2 1 3-1 2 0 1 0 18-2 4 2 1-2 3 1 4 2 0-2 3 0 5 1 5 0 20 1 2-1 3 3 8 2-40-2-2 1-4 0-4 0-7 1-2-2-1 0-4 2-24 0-16 3-2 0 7 0 21 0 8 1 0-1 4-1 2 1 3-2 1 0 12 1 6 2 34-3 9 7-15 0-3-1-6-1-2 0-9 0-2 2-3 0-1-2-1 2-1 0-2-2 0-1-9 1-1 1-5-2-1 3-7-3-5 0-1 1-2 2-3-1 0-1-1 0-5-1-13 2-2 4 7 1 3-3 1 1 8-1 5 1 2-1 1 0 1 0 6 3 1-2 9 1 14-1 1 1 0-2 14 2 11 1 0 2 1 2-7-2-1 0-9-1 0 1-3 2-5-2-1 0-1 0-1-1-1 2-1-2-2 2-2-1 0-1 0 0-5 1-1-1-3 1-7 2-7 0-8 0-7-3-3 5-3 2 6-3 3 3 0-1 8 1 0 0 4-1 2 1 7-1 3-2 2 3 1-3 2 0 4 2 1-2 2 2 0 0 8 1 0-2 11 0 4 0 6 2 0-3 7 4-15 1-4-1-21 0-8 0-8 2-3-2-2 1-3 2-25-2-1 3 4 0 2 1 21-1 6 0 7 0 2 3 1 0 47-1 8 1 3 4-37 0-6-2-13 2-1-1 0 0-3 1-6-1-9 0-2 0-2-2 0 3-2-2-1 0-1 1-1 0-1 2-11 3 12-3 2 1 1 1 1-1 1 1 0 1 2-2 1 2 0-2 4 1 6-1 2 0 4-1 2 2 0-2 2 3 4 0 8-1 2 1 10 1-7 0-3 0-8 0-2 0-10 2-15-1 0 2-1-1 0-1 0-1 0 2-1-1 0-1 0 1-6-1 0 2-1-1 0 2-1-1 0-2 0 2-1-1 0-1 0 7 0-3 1 2 0 1 0-3 1 1 0 1 0 1 0-2 1 1 0 1 0-1 6-2 1 2 0 1 0-3 1 1 0 1 0 5 0-1 0-1 0-1 0 3-1-2 0 1-1-1 0-1 0 3-7-2 0-1 0 3-1-1 0-2 0 3-1-1 0-1 0-1 0 4 0 2 0 1 0-2 1 1 0 1 0-2 1 1 0 1 0-3 1 2 0-2 6 1 0-1 1 1 0 1 0 1 0-3 1 1 0 1 0 3 0-1 0 3-1-2 0 2-1-1 0-1 0 2-6-2 0-1 0 3-1-2 0-1 0 3-1-1 0-1 0 0-1-1 0 5 0 1 0 1 0-2 1 1 0-2 1 1 0 1 0-2 1 1 0 1 0 1 0-2 6-1 1 1 0 1 0-2 1 3 0 4 0-3 0 3-1-1 0-1 0 2-1-2 0 2-6-2 0-1 0 3-1-1 0-1 0 1-1-1 0-1 0 3-1-1 0-1 0-1 0 4 0 1 0 1 0 1 0-3 1 1 0 1 0 1 0-3 1 1 0 1 0 1 0-2 1 2 0-3 6 3 0-3 1 1 0 2 0-3 1 1 0 2 0 2 0 2-1-1 0-2 0 2-7-2 0 3-1-1 0-2 0 3-1-1 0-1 0-1 0 3-1-1 0-1 0 3 0 1 0 1 0 1 0-3 1 1 0 1 0 1 0-3 1 2 0 1 0-3 1 1 0 1 0 1 0 0 6-3 1 1 0 1 0 1 0-3 1 1 0 2 0 3 0-1 0-1 0 3-1-1 0-1 0-1 0 3-1-1 0-1 0 2-6-3 0 3-1-1 0-1 0-1 0 3-1-1 0-1 0 2-1-2 0 3 0 2 0 1 0-3 1 1 0 0 1 0 1 1 0-2 6 1 0 1 0-2 1 1 0 1 0 1 0-3 1 1 0 2 0 4 0-1 0-1 0-1 0 3-1-1 0-1 0 1-7 1-1-1 0-1 0-1 0 2-1-1 0-1 0 3-1-1 0-1 0 3 0 3 0-3 1 1 0 1 0-2 1 1 0 1 0 1 0-2 1 2 0-2 6 2 0 0 1-2 1 1 0 4 0-1 0-1 0 2-1-1 0-1 0 2-1-2 0 1-6 1-1-1 0-1 0 3-1-1 0-1 0-1 0 0-1 5 0 2 0-2 1 1 0 1 0-3 1 1 0 1 0-2 1 1 0 1 0 1 0-3 6 1 0 1 0-2 1 1 0 2 0-3 1 2 0 1 0 4 0-1 0-1 0-1 0 3-1-1 0-2 0 3-1-1 0-1 0-1-6 2-1-1 0 2-1-1 0-1 0-1 0 3-1-1 0 2 0 1 0 1 0-2 1 2 0 1 0-3 1 1 0 1 0-2 1 1 0-1 6 3 0-3 1 1 0 1 0 0 1 1 0 4 0-3 0 3-1-1 0-1 0-1 0 2-7-2 0 3-1-1 0-2 0 3-1-1 0-1 0 2-1-1 0-2 0 4 0 1 0 1 0-2 1 2 0-2 1 1 0 2 0-3 1 1 0 1 0-1 6 1 0-2 1 1 0 1 0 1 0-3 1 2 0 1 0 4 0-2 0-1 0 3-1-1 0-1 0-1-1 2-6 1-1-1 0-1 0 2-1-1 0-1 0-1-1 4 0 1 0 1 0 1 0-3 1 3 0-3 1 1 0 1 0 1 0-2 1 1 0 0 6 1 0-3 1 2 0-1 1 1 0 5 0-3 0 2-1-1 0-1 0 3-1-1 0-1 0 2-6 0-1-1 0-1 0 2-1-2 0 2-1 1 0 1 0 1 0 1 0-3 1 1 0 1 0 1 0 0 1-2 1 1 0 1 0-3 6 1 0 0 1 1 0 1 0 0 1 2 0-1 0 0-1 2-1-2 0 3-6-2 0 2-1-1 0-1 0-1 0 3-1-1 0-1 0-1 0 3-1-1 0-1 0 3 0 3 0-2 1 1 0 1 0-3 1 1 0 1 0-2 1 1 0 0 6 2 0-3 1 0 1 2 0 0 2-2 2 3 4 0 9-3 5 1 5 0 2 1 1 1 1-2 2 0 1-1 2 1 1 1 0 0 1 1 2 0 4 0 1-1 2-1 1 1 10 2 0 1-1 1-3-2 0 3-1-1-3 1-2 0-1-1-3-2-1 3-2-2 0-1-6 3-3-2 0 0-5-1-2 2-3 1-1-3-2 1-2 1-2 1-2-3-3 3-10-1 0-1 0-1 0 3-1-1 0-1 0-1 0 3-1-2 0-1 0 2-6 0-1-1 0-1 0 3-1-1 0-1 0-1 0 3-1-2 0-1 0 4 0 1 0 0 1-1 1 0 1 0 6 0 1 2 12-1 5 2 0 0 1 0 4 0 1-2 2 1 1-1 1 1 0-1 1 0 1-1 1 1 3 1 0 1 0-2 3 2 0 0 1-3 1 2 1-1 5 1 0 1 2-1 1-2 1 3 0-3 4 1 12 3 2 3-5-3-1 3-4-3-4 0-3 2-1-1 0 1-5 0-1 1-3-1-4-2 0 0-1 3-3-1 0-1-2 2-2 0-2-3-1 3-2 0-1 0-2-3-1 1-5 5 2-2 1 3 3-2 3 1 3-1 5 1 0 1 0-3 3 1 2 1 0 1 0-3 1 1 1 1 0-1 1 1 3 1 0-3 2 0 1 1 4-1 1 1 1 1 0-1 3 2 4-2 2 1 2 5 1-2-9 2-1 0-2-1 0 1-5-3-1 2-1 1-2-2 0 1-1-1-1-1 0 1-1 2-2-2-1 1-4-1 0 1-1-1 0 2-2-2 0 1-1-2 0 2-2-2-4 3-2-3 0 0-3 3-1 3-5 0 8-2 2 3 1-2 4 0 1 0 3-1 1 2 0 1 0-1 3-2 1 1 0 1 0 1 0 0 1-2 1 1 0 0 1 1 1 0 2 0 1 0 1-2 1 2 1-2 2 1 0 0 1-1 3 0 1 1 1-1 2-1 2 7 0 0-1-2-2-1-2 3-2-1 0 1-1-1 0 1-3-1 0 0-1-2 0 2-1 1-1-3 0 2-1-2 0 3-1-1 0 1-2-3 0 2-1-1-1-1 0 3-1-1 0-1 0-1 0 2-1-2 0 3-1-2 0-1 0 3-1-3 0 1-1 2-1-1 0 0-1-1-1-1-2 5 0 1 3 0 2-1 1 0 1 1 0 1 0-3 1 0 1 1 0 1 0-2 1 1 0 1 1-1 1-1 2 1 0 2 0-2 1 2 0-3 2 3 2-3 1 2 0-2 1 3 0-3 1 0 1 1 2 1 0 3-4 0-1-1-4 3-4-3-1 3-1-1-3-2 0 4 1 0 1 1 0-1 1 2 0-1 1 2 0-2 1 2 0-2 3 1 0-1 2 2 0-1 3-2 1 1 0 5-2-1 0-1 0 3-1-3-1 0-1 2-1 1-1-3-1 3-1-1 0 1-1-1 0-1 0 0-1 0-1-1 0 5 2 1 0 1 0-2 2 1 0-2 1 1 0 1 0 1 0-3 1 1 2 0 1 1 0-2 1 4-1 2-1-1 0-1 0 2-1-1 0 1-1 0-1-2 0 3-1-1 0-1 0 2-1-1 0-1 0-1 0 0-1 5 2 1 0 1 0 0 1-3 1 1 0 2 0-3 1 1 0 1 0 1 0-3 1 7-1-3 0 3-1-2 0-1 0 3-1-1 0-1 0 1-1-2 0 4 1 1 0 2 0-3 1 1 0 2 0 4 0-1 0-1 0-1 0 4 0" fill="none" stroke="none" marker-start="url(#k0)" marker-mid="url(#k0)" marker-end="url(#k0)"/>
<path d="M67.5 74.1 L109.5 75.6 L140.0 76.9 L169.6 78.0 L183.7 78.7 L199.2 79.8 L213.1 81.0 L225.2 82.4 L239.0 84.4 L246.7 85.8 L253.1 87.2 L258.3 89.0 L261.7 90.6 L270.3 96.1 L272.0 97.4 L273.7 99.1 L275.4 101.2 L279.7 106.9 L284.0 105.1 L339.5 105.3 L443.5 106.6" stroke="#0000ff" stroke-width="2.6" fill="none" stroke-linejoin="round"/>
</g></g>
<g>
<path d="M67.5 200.20 L443.5 200.20" stroke="#ffc0cb" stroke-width="2" fill="none"/>
<path d="M67.5 189.31 L205.5 188.87 L443.5 188.74" stroke="#ffc0cb" stroke-width="2" fill="none"/>
<path d="M67.5 189.31 L205.5 188.87 L443.5 188.74" stroke="#dd66dd" stroke-width="2" fill="none"/>
<path d="M67.5 178.41 L205.5 177.54 L307.5 177.29 L443.5 177.28" stroke="#ffc0cb" stroke-width="2" fill="none"/>
<path d="M67.5 167.52 L127.5 167.08 L175.5 166.45 L205.5 166.22 L307.5 165.83 L443.5 165.82" stroke="#ffc0cb" stroke-width="2" fill="none"/>
<path d="M67.5 156.62 L127.5 156.04 L175.5 155.19 L205.5 154.89 L307.5 154.38 L443.5 154.36" stroke="#ffc0cb" stroke-width="2" fill="none"/>
<path d="M67.5 145.73 L127.5 145.00 L175.5 143.94 L205.5 143.56 L307.5 142.92 L443.5 142.90" stroke="#ffc0cb" stroke-width="2" fill="none"/>
<clipPath id="c02"><rect x="67.5" y="140.70" width="376.00" height="68.10"/></clipPath>
<g clip-path="url(#c02)">
<line x1="335" x2="443.5" y1="187.6" y2="187.6" stroke="#008000" stroke-width="3"/>
<path transform="scale(.5)" d="M138 306l-2 14 2 6 1 1-1 1 0 4-1 11 1 1 0 2-1 1 1 0 0 12 0 2 5 46-2-16 0-19 0-3 1-11-2-4 0-9 0-2 3-1-1-3 1-4-3-3 1-7 2-3 0-2-3 0 1-2-1-3 3-7-2-5 2-1-1-1 1-1-1-1 4-1 0 5-2 2 2 17 0 4-2 3 3 0-1 11 1 1-3 4 0 11 1 31 1 4-2 19 7-42-1-9 0-6-2-2 3-1-3 0 2-1 0-3-2 0 3-3-3-1 0-4 3-1-1-5-2-3 3-1-1 0-1-6 1-8 0-7-2-1 7-11-3 2 2 5 0 1-1 2-1 11 3 19 0 6-3 2 1 4 1 7 1 3-2 2 0 2 0 2 0 21-1 2 5-4 0-14 0-9 2-9 0-3-1 0 0-2-1-7 2-3-1 0 1-3 0-3-1-30 5 2-1 10 1 2 0 2-3 16 3 1-2 5 2 0-1 10-2 13 1 16 0 4-1 4 2 0 0 3 4 10 1-22-2-5 0-7 2-4-3-1 3-3-1-2 1-2-3 0 3-1 0-1 0-1-1-2-1-1 2-3-1 0-2-1 1-1-1-2 2-3-2 0 3-4-3-19 1-1-1 0 3-2-1-8-2-3 5-3 0 15-1 3 0 3 2 4 1 4-3 3 3 0-3 3 2 2 0 3 0 2 0 5 1 1-1 5-2 2 2 5 0 4-1 3 2 15-3 2 5-9 1-3-1-6 2-5-1 0 1-3-2-1 2-2-2-1 1-2-1-1 0-6 2-2-2-1 0-3 2-4 0-2-1-7-1-1-1 0 3-1-3-6 3-7 0-9-2 0-1-1 4 3 1 1-1 3 0 1 3 8 0 3-2 2 2 1-1 11-2 4 1 0 2 0-3 1 3 8-1 3 1 4-1 13-2 9 2 9 0 5 0 7 2-1 1-10 2-6-1-3 1-6-3 0 2-1 1-3-3-4 1-6-1-1 0-4 3-1-3-2 2-1-1-4 1-3 1-1-3-2 1-3 1-1-1-1 0-2 2-2-2 0 0-3-1 0 2-4 0-3-2-4 3-11 3 3-1 4 0 10 1 5 1 6-1 3-2 1 0 1 1 1 1 0-2 1 1 0-1 1 0 3 3 0-2 6-1 5 3 1-3 5 2 1 0 2-2 4 0 4 3 3 0 1-1 3-2 11 5 17-1-8 2-1-1-13 1-9 0-4-1-7 0-11 1-2-1 0 2-3-1-1 0-3 0-1 0-4-1-2 1-2-2 0 1-2-1 0 2-1 1-3-2-3 0-9-1-10 2-4-1-4 4 6 1 24 1 5-3 2 2 7 1 2-3 3 1 0 2 0-3 5 0 11 3 3-3 3 0 2 1 0 0 2 5 16-2-2 0-14 1-4 0-3-1-4 1-9 2-1-3 0 1-3 1-1 1-2-1-2-1-6-1-2 3-9-3 0 1-2 0-16 1-1 1-3-2-1 2-5 2 1 1 0-1 4 2 1-2 5 0 14 0 7 1 0-1 5 0 9-1 2 1 3 2 7 0 1 2 54-1-40 2-13-1-3 1-1-2-1 3-4-2-2 1-10 0-3-2 0 1-4 1-2 1-2-1-2-1-17 1-1 0-3-1-2 6 3 0 2-1 2-1 14 0 3 0 4-1 3 3 2-3 1 2 2-1 1-1 3 2 0-1 1 0 3-1 1 1 0 2 3-2 1 1 2-2 1 2 0 1 0-3 3 0 1 1 6 0 5 1 3-1 1 4 6-1-4 0-9 0-3 3-11-3-6 2-2-2-9 0-6 2-3-2-9 3-1-1-2-2 0 3-2 0-10 3 1 0 5-1 3 0 2 1 1 0 1 0 4-1 1 1 2 0 21 1 6-2 1 0 1 2 8 0 2 0 23-2 5 4 24 2-50-2-3-1-11 0-5 2-5 1-1-1-2-2-1 3-1-3-2 1-8 1-3-2-5 6-5-2 8 1 6 2 8 0 10 0 1 0 2-1 1-2 1 3 4 0 4-3 7 2 2 1 14-1 3-1 7-1 2 2 7-2 6 0 3 0 7 7-7-3-20 3-23-1-1-2-5 1-5-1 0 3-1-3 0 1-1 0-2-1 0 1-1 2-1-3-2 1-2 2-5-1 0 0-3-2-1 3-4 0-1-1 0 0-3 1-2 3-5 0 3-1 9 0 2-1 5 1 1 0 1 2 2-2 3 0 2 2 1 0 3 0 3-1 9-1 8 1 3-1 3 3 6 3-3-2 0 1-4 0-4-2 0 1-4 1-1 0-1-1-1 1-8 1-2 0-6-1-1 1-3-3 0 0-1 0-2 1-1 0-5 2-4-2 0 0-3 2-1 0-3-2-6 4-3-1 9 2 9 0 1 1 1-2 2 1 0 0 3-2 11 0 13 0 2 0 32 7 16-3-14 2-5 0-1-1-2 1-11 0-5 1-10-1-7-2 0 0-11 2-3-2-3 3-2-1-5-1-2-1-1 2-7-1 0 2-1 0-3 0-12 4 2-1 1 0 1-2 1 1 0 0 3 1 0-1 1 2 2-3 1 2 5 1 3-2 3 0 2 1 0 0 1 1 1-1 12 1 6-3 2 3 6-3 3 2 0-2 14 0 1 3 0-1 14 1 14 2 9 0-33 1-1-2-3 2-1-2-11 3-3-3 0 1-1 0-1 1-3-2 0 0-2 3-4-3 0 2-10 0-1 0-8 0-3-2-1 3-1-1-2-2 0 3-1-3-2 3-1-1-4 0-11-1-4 1-3 4 0 0 2 1 7-2 12 0 1-1 3 0 2 2 9 1 0-3 2 1 3 1 2 1 2-2 3-1 16 3 5-2 3 3 17 3-7-3-13 1-2 1-1-2-3 2-1 1-12-2-1-1-1 2-1 0-2 0-7-1-3 0-5 1-7-1-5 2-9 3 17 0 2 0 1-2 2 3 3-2 9 1 0 1 0-2 2 1 0-1 1 2 3-1 12-1 3 0 3 1 0-1 2 1 2 0 31 3-29 2-2-3 0 2-5 0-5-2-9 2-3 0-3-1 0 0-2 1-1 0-7 1-4-1-5-2-1 2-9 0-5 0-4 2 10 3 5 0 2-2 1 2 0-1 4 0 1-1 3-1 3 0 11 3 1 0 3-1 4-2 3 1 3 2 2-2 4 2 1 3 16 1-3-1-12 0-19 0-1 1-4-3-1 2-2-1 0-1-2 3-4-3-2 2-1 0-2-2-5 2-1 0-1-2 0 1-1 0-5 0-10 6-7 0 11-2 1 2 0 0 3-1 5 0 2-1 1 1 1-2 8 3 0-1 1 1 3 0 1-3 1 3 2 0 3 0 1-3 5 1 0-1 2 1 0 0 1 2 2 0 4-1 14-1 20 3 0 1-5 1-13 0-2 1-2-2-11 2-3-2-5-1-4 3-1-1-3-2-1 3-1-1-4 0-1-1-5-1-5 2-1-2-1 2-2-1 0-1-5 1-12 2-2-3 0 6 6 1 6 0 7-1 14 1 3-1 5-1 11-1 4 1 3 2 2 0 3-3 1 2 0 1 3-2 5 6 34 0-2-3-34 0-3 2-1-2-6 0-2 1-2-1-2 2-1 1-15-2-5-1-1 0-2 1-19 1-2 1-1-2 0-1-1 3-1-3-5 5-2-1 13 3 2-2 5 1 4 1 4-3 3 1 2 2 3-3 11 3 2-2 5 0 10-1 3 3 11-2 3-1 9 2 16 3-20-1-3 0-8 3-1-2-13 1-3 0-1-1-8 2-4-2 0 2-1-2-1-1-1 2-5 1-1-1 0-2-2 3-2-2-2 0-24 2-1-1-2 1-1-3 0 0-1 2-1 5 2-3 18 0 2 0 1 2 0-2 2 3 2-3 1 2 1 0 1 0 4 1 6-1 1 0 3 1 0-3 3 1 0 1 3-2 8 7 23 0-2-3-3 1-1 0-18-1-4 1-3 0-5 2-11 0-2-3-1 2-1-1 0 1-3-1-6 1-4 1-8 0-4-3-1 2-1 0-1 2-2 1 2-1 7 2 23 0 3 1 3-1 1-1 4-1 4 0 2 2 0 1 0-3 2 2 0-2 8 3 27-1 2 3-4 1-13-1-11-1-3 0-15 2-1-2-1 0-2 3-3-3-2 2-3 0-10 1-2-1 0-2 0 0-2 2-9 1-8 3-1 0 8-2 4 2 3-2 2 3 0-2 1-1 1 1 0 2 0-3 4 3 6-2 2 2 1-2 2 1 2-1 1 0 1 2 5-1 1 1 0-1 3-2 11 1 12 6-2 0-15 0-2 0-3-1-1 0-1 1-3-3-2 0-1 0-2 2-1 0-3-1-5-1 0 1-3-1-1 3-4-1-1 0-3-1-4 0-3 6-3-1 1-2 5 2 3 1 1 0 3-2 6 2 1-3 2 3 3-3 7 3 1-2 1 1 7-2 1 1 4 2 0 0 5-3 8 0 5 1 13 2 1-2 26 6-11-2-2 2-5-2 0 2-3-2-10 0-22 2-1-1-1-2-3 0-1 0-1 0-1 0-1 2-1-2 0 0-6 2-5-2-2 0-1 3-1-1 0-2-1 1-4 1-4-2 0 2-3 0-2 1-1 0-2-2-1 0-7 2-3-2 0 0-3 6 2-2 11 1 2-2 5 2 2-1 1 0 1 2 2-2 5 2 2-2 1 2 2 0 2-2 2-1 10 1 1 2 0 0 2-3 1 3 1-3 4 3 0-1 1 0 2-1 1 1 4-1 3 2 6-3 2 3 1-1 6-2 3 5-4 1-2-1-11 0-5-1-1 1-1-1-6 3-2-3 0 0-1 3-1-3 0 2-1-1-3 1-1-1-2 1-1 0-3 1-8-1 0 1-2-1-1-1 0 0-2 0-2 1-1 1-1-1 0-2-1 3-1-1-2-1-8 5-12 1 3-1 1 0 13 1 4-1 5-1 1 1 0-2 4 0 1 2 3 1 5-3 2 0 2 0 4 0 7 1 0 0 6 1 0-2 3 1 2 2 3-3 1 3 7-2 11 6-10 0-1 0-1-2-1 2-18-1 0-2-1 2-2-1 0 1-3-2-9 0-5 3-8-1-1-2 0 1-8 1-2-2-13 2-4 5 24-2 2 1 0-2 2 1 2 2 2-2 4 1 1 1 0 0 3-3 3 3 0-3 3 1 4 0 3 1 0-2 7 0 1 3 2-3 13 3 0 1 25 3-2 0-15-2-5-1-20 3-2 0-2-2 0 2-6-3 0 0-4 0-1 0-8 2-4 1-2-2 0 2-6 0-2-1-3 0-11 1-4-3-6 0-3 4 6 2 3-1 6 2 3-2 7 0 3-1 1 0 3 3 7-2 1 2 2-3 1 3 2-2 7 0 1 2 4-3 1 2 14-1 8 0 2 2 1 4 20 0-44-1 0-1-6 1-1 1-3-3 0 2-1-1-2 0-3 0-5 0-2 2-2-3-2 2-3 0-2-2-1 2-4-2 0 3-2 0-4-2-3 2-4-3 0 5 0 2 6-3 1 0 1 2 1 0 1-1 1-1 1 2 4-2 8 3 3-1 2-1 2 1 1-2 1 0 5 0 7 3 7-3 1 3 2-1 13-2 3 0 2 3 1-2 22 5-39-1 0 0-1 1-2-1-2 1-5-1-6-1 0 2-3 1-3-3 0 2-2-1 0 1-5-1-2-1-2 1-2-1-2 3-1-1-5-2 0 3-1-2 0-1-2 2-1 0-3-2 0 5-10 1 5 0 2-2 2 2 12-2 6 2 1-1 1 1 0-1 2 1 1 0 2 1 3-1 2-2 1 1 1-1 7 3 0-3 2 2 1 0 3-1 1 1 2-2 4 3 0-1 1-2 14 1 4 3 15 2-2-2-30 0-5 2-1-2-1 3-3-2 0 2-6-3-2 1-1 1-3-2-1 0-6 2-2-1-1 2-2-1-1-2 0 0-1 2-5-1-8 2-1-2 0-1 0 0-2 2-2 2 1 2 3 1 1-3 1 2 0 0 3 1 0-1 2 0 1-1 3 2 1-2 9 0 1-1 5 0 6 3 0-3 2 0 1 1 0 0 2 2 1-3 1 2 2 1 0-1 11-2 1 1 2 0 22 3-15 2-2-2-1 3-8-3-2 3-4 0-1-3-1 1-2 1-1 0-8 1-1 0-1-3-3 3-18-1-2-2 0 2-3 0-3-2-4 3-9-1-2 4 13-1 2 2 2-3 1 3 7-2 5 0 1 1 0 1 2-1 2 1 2-3 6 0 1 0 1 2 0-1 3 0 1 0 13 0 3 1 37 5-36-3-1 3-5 0-8 0-1-1-1 1-1-1 0-1-4 1-2-2 0 2-1 1-2-3 0 1-1 2-3-3 0 1-3 1-1-2-2 3-3-3 0 1-2 2-2 0-1-2-2 2-1-3-2 2-6-1 0 1-3 1-1-1-2 2-4 2 3-1 5 1 18-1 2 0 1-1 3 1 1-1 2 1 0 2 0-3 1 2 1-1 3 0 1 0 3 2 1-3 1 3 1-1 5-1 3 2 0-2 5 2 14-3 2 1 1 3 4 2-10 1-14 0-1 0-3-2-2 0-3-1 0 3-4-3-11 0-2 2-1-2 0 3-1 0-3-1-1 0-1-2-14 0-4 3-2 3-2-2 5 0 6 3 2 0 12-3 2 0 2 2 4 0 5-1 4 1 1-1 2 0 1 2 1-3 1 2 8-1 5 5 18-2-4 3-1-2-8 2-4-1-5-1-6 2-2-1-3-2-3 3-2-1-1 1-21 0-8-1-5 0-3 3 0-1 3 1 2 2 3-2 2 2 3-1 5 1 3-3 1 0 7 2 0 0 2 0 1-1 1-1 2 2 3-2 3 3 0-1 1-1 1-1 2 3 0-2 9-1 8 0 20 2 4 5 8-3-6 3-16 0-16-1 0 0-2 1-6 0-1-3-1 0-3 2-3-1-1 1-7 1-2-2-3 1-1 1-1-2-1-1 0 0-5 1-1 2-2 0-5-1-3 1-1 2 1 1 8-2 3 2 4 1 2-1 1-1 1 1 0-2 1 3 0 0 1-2 1 2 3 0 5-2 1-1 3 1 3 1 0 0 2-1 2 0 3 0 1 0 2 1 0-1 5 2 1-2 8-1 7 4-23 1-2-1-3 2-1-1-3 1-9 1-7-3 0 3-4-3 0 1-1 0-1 1-5-2-7 2-6-1 0 3-6 1 4-1 1 2 12 0 6-2 5 2 8-2 2 2 0-2 3 0 5 3 2-3 4 0 17 1 9 1 8 0 2-1 2 1 1 1 1 4-19 0-14-2-8-1 0 1-1-1-13 1-3 0-8 0-2 1-3 0-7-1-2 2-6-3-2 1-1 5 6-1 2 0 2 1 1-1 1-1 13 3 2-1 2 0 2 0 1-1 22 5 19 1-3-3-16 1-3 1-14 0-2-1-4 1-2-2-7 2-1 0-3-2-2 0-3 3-3 0-2-3-8 2-3 2-1 2 14 1 5-3 2 1 3-1 2 1 4 1 3 0 2-1 1 2 7-3 3 3 1 0 7-1 16-2 3 2 5-1 25 4-22 2-3 0-7-1-1 1-14-1-2 1-2-1 0-1 0 1-3 1-4-3 0 2-2 1-1-1-1 1-3 0-3-3-2 2-2-2-2 3-1-3-3 3-2 0-4-1-3 0-1 1-2 3-13-2 3 1 12 2 6-3 1 1 2-1 1 2 0 0 1-1 1 0 2 0 4 1 1-2 2 0 4 0 4 2 3 0 4 0 2-2 1 1 1 1 1 0 6 0 9 5 30-1-29 0-13-2-3 0-1 0-1 1-2-1 0 3-2-1 0 1-2-2-9 0-10-1 0 0-1 2-2-2 0 0-2 2-2 1-2-3-1 1-1 2-6 0-2-1-3 0-1-1-6 4-1 1 3 1 0-3 1 0 1 0 9 0 3 0 3 2 0-2 1 2 3-1 4-1 1 2 0-1 3 0 1 0 2 2 0-1 3-1 1-1 1 2 1-1 1 2 5-3 1 0 1 3 1-2 2 0 3 2 20 2 0-1-10 0-2 1-2 2-5-1-9-1-2 2-2-2 0 1-3-2 0 3-1 0-2-1-3 1-4-3-4 1-1-1-6 0-2 2-4 1-2-1 0-1-3 0-2-1-2 2-2 4 3 1 11 0 7-3 3 1 1 0 1 1 1 0 1 1 0-2 2 2 0-1 2 1 1-3 1 0 4 2 0 1 2 0 4-2 2-1 26 0 3 2 10 5-22 0-5-3 0 2-2-2 0 3-3-3 0 0-1 0-7 1-2 2-1-2 0-1 0 0-6 2-3-1 0 0-3 0-1-1 0 3-3-1-1-2 0 1-1 0-12-1-7 0-3 4 12 2 3 1 6-1 3 1 1 0 2 0 3 0 1 0 4 0 3 0 1-3 2 3 1-1 3 0 3 0 1 1 2-1 1 1 6 1 8 1-9-1-2 2-1 1-1-2-3 0-1 2-8-1-8 0-2-1-1-1-2 0-3 2-2-1-2 2-1 0-3-1 0-1 0-1-1 2-2-1 0-1-1 1-1 2-3-1 0-2-2 2-2-1-4 6-2-3 8 0 5 1 1 0 3 0 2 1 0-2 11 3 0-3 8 3 2-3 9 2 0-1 6 1 2 0 5 2 1 0-13 3-3-3-1 2-2-1-1 2-4-3 0 3-3 0-5-2-1 1-3 0-4-2-1 2-2-1-18 5 2 1 16-3 2 1 4 0 1 2 2 0 3-2 1 2 2-1 1 1 2-3 2 3 2-2 3 2 1 0 2 0 2 0 2 0 1-2 1-1 15 0 2 4 27 3-2-1-13 1-15 0-4-1 0 0-8 0-5 0-3-1 0-1 0 2-2-2 0 0-1 1-2 0-1 2-3-3-7 2-3 1-4-1-10 1-3-3 0 0-3 0-2 0-7 6 3 0 1 1 4-3 1 3 0-1 3 1 0-3 1 1 2-1 2 2 0 1 0-3 2 0 2 1 0 1 1-2 1 2 1-1 1 1 6-2 2 1 0 0 3 0 1 0 4 1 2-2 1 0 1 1 0 0 1 2 2-3 1 1 6 1 1-2 3 0 4 2 0 0 1-2 1 0 6 0 10 3 11 2 1 1-1-1-15-1-3 2-1 1-6-2-17 2-4 0-2-3 0 3-1-1-1 1-4-3-8 3-4-2-1 0-1 1-2-1 0 1-8 0-4-2-6 5 0-1 5 2 1-1 3 2 2-3 5 2 2-2 2 2 0 1 0-1 4-1 6 2 1 0 3-2 2 2 4 0 2-1 1 1 1-2 5 2 2-3 7 3 8 1 19 1-21 1-2-2-10 0-4 1-2 0-2-1-5 3-1 0-2-3-3 0-1 2-2 1-1-3-1 3-3-3 0 2-6 0-1 0-8-1 0 2-1 1 1 2 2-2 3 2 0 0 3-2 3 1 3 2 2-3 2 0 1 1 3 1 0 1 2-2 1 0 4 1 0-2 5 3 8-3 1 3 1-2 8-1 6 0 3 2 4-2 1 2 1-1 3 6-16-2-16 1-2-1-1-1 0 3-1-3-1 2-5-2 0 1-2 0-4 0-1 1-1 0-5 1-10 4 1-3 3 2 4 1 0-1 2-1 2 0 1-1 1 2 1-2 1 3 0-2 1 1 0 1 0-3 1 2 1 0 1-2 1 0 1 3 0 0 4-3 3 1 10 2 6-2 3 2 0 0 6 4 14 0-10-2-3 0-4 2-6-2-4-1 0 1-3 2-3-1-7-1-1 0-2 1-1-2-3 0-1 1-1 2-1-1-11-1 0 0-1 0-1-1-1 3-2-1 0-1 0-1-1 3-1-2 0 5-3 1 1-1 1 1 0-1 1-1 1 2 1-3 2 2 0-1 1 0 17 1 1 0 3 1 3-1 7 1 2-2 1 2 3 0 9-3 5 3 3-3 4 2 0 0 4 4-13 1-8-2-5 0-2 1-1-2 0 3-7-2-3-1-2 2-2-1-2-1-16 2-3 0-2 0-3 1-1-1-3-1-5 0-3 5 4-2 7 0 1 0 2 2 2-2 1 1 0 2 2 0 1-1 3 0 3-2 5 2 1 0 1-1 2-1 1 1 3 1 7-1 1 0 5-1 18 4-7 1-10 2-3-1-1 0-2-1-1-1-1 0-1 3-2-2 0 2-4-1-3-2-4 0-2 1-2 2-1-1 0 1-2-1-1-2-4 7-15-3 22 1 4 2 1-2 1-1 1 3 0-2 2 2 4 0 5-3 12 4 14 3-7 0-3-3-7 2-2-1-3 0-1 1-5 1-2 0-2-1 0-2-2 2-1-1 0-1-1 0-1 3-1-1 0-2-2 2-2-2 0 2-3-2-5 2-2 0-3-2 0 1-9 4 15 2 3-2 1 1 6 0 1-1 1 0 1 0 1-1 1 3 1-2 3 2 1-3 3 0 5 2 0-1 2-1 1 2 1 0 12 1 8-2 2 2 5 2 1 2-18-2-3 0-7 0-3 0-2 0-4 2-5-1-2 1-1-1-3-2 0 3-5 0-5 1-17 2 16-1 3 1 3-1 3-1 1 2 0-1 1 2 0-2 1 1 0 1 0-1 3-1 6 2 2-1 1 0 2 0 6 0 1-1 1 1 5-2 1 3 1-2 20 5-10 0-4-2-1 3-1-2-8 2-4-2-2 0-1 2-4-2-9 2-2-3-1 2-5 1-1-2-1 2-1-2-1 0-2 0-1-1-1 3-3-2-1-1 0 3-1-3-5 2-1-2-6 6 8-1 2 0 5 0 8 1 2-1 1 0 9 1 1 0 2 1 0-2 2-1 5 2 0-2 3 2 1 1 1-3 1 1 12-1 5 7 21 0-7-1-3 1-6-2-3 0-2 1-16-2 0 1-1 0-2 0-1 1-3-2-1 1-1 2-4-3-1 3-2-1-1-1 0 2-5-3-17 4-2 3 5-1 1 0 2 1 0 0 2-1 1 1 0-2 1 1 4 1 0-1 3-2 3 3 1 0 1-2 2 2 3-1 3 1 1-3 1 3 5-3 5 1 2 2 2-1 2 0 1-1 1 1 24 4-7-2-1 2-23 1-6-3 0 1-3-1-9 3-9-2-2 1-1-1-1 0-1 0-3 2-1-3 0 1-1 2-1-3-6 5 4 0 4-1 1 2 4-2 3 1 0 2 3-3 3 2 0-1 2 0 1 2 2 0 4-2 3-1 1 0 1 1 4 1 3 0 1-1 1 1 16-1 4-1 6 6-23-2-1 2-9 0-1-2-2 2-1 0-1 1-2-3-2 1-2 2-1-3-2 2-2 0-2-1-2 2-2 0-4 2-12 1 3 0 6-1 2 0 2-1 1 0 1 0 2 1 0-1 3 3 1-2 5 1 5-2 3 3 0-2 4 1 8-2 15 4-8 2-1 1-8-1-2 0-1 0-1 1-4-3 0 0-2 2-2 1-2-2-3-1 0 2-2-2 0 3-2-3 0 3-2-1-1-2-3 2-1-2 0 3-1 0-1-2-7 0-6 5 5 0 1-1 7 1 1-2 3 1 0-1 1 1 2-1 1 1 1 1 0 1 1-3 1 2 1 0 1 0 1-2 1 0 6 1 0-1 2 2 0 0 1 1 1-3 1 2 0-2 1 2 0 1 3 4 10-2-3-1-13 1-2 2-1-2-1 0-1 2-1-2 0 2-3-1 0 1-1 0-3-1-1-1-3 0-4 0-2 2-1-1-1-2-1 3-1-3-1 3-2-3-2 3-2 1 5 0 1 1 0 0 6 2 0-2 7 2 3-3 1 3 1-2 2-1 2 2 0 1 0-2 2 1 10 1 2 1 17 3-11-1-2 1-2-1 0-1-1 1-1 0-5 0-1-1-2 1-3-1-3 0-2 2-2-1 0-1 0 2-2-1-1 1-2-1-1 0-4-2-1 2-3-1-1 4 0 2 7 0 4-2 1-1 1 0 1 1 0 0 1-1 1 2 0 1 0-3 1 1 1 1 2-2 3 0 1 3 0-3 1 1 1 0 2-1 1 3 3 0 2-3 1 3 0-2 2 1 0-1 1 1 0-1 8 2 5 4 1 0-15-2 0 2-1 0-1-2 0 0-2 2-2 0-1-3-1 2-1-1-2 2-1-1-3-1 0-1 0 3-1-1 0-2 0 0-1 1-1 2-1-2 0 2-1-2-1-1-3 1-1-1-2 0-11 4 18 2 3 1 1-1 2-1 1 0 2-1 1 1 2 0 3 0 1 2 0-3 1 1 0 1 0-1 1-1 14 0 6 5-21-1 0 3-1-1 0 0-1 1-1-2 0-1 0 0-3 3-1-2 0-1 0 3-3-1-1-1-1 1-2 1-1-1 0-1 0-1 0 4 1 1 0 2 1-3 1 2 0 1 1-2 1 2 1-3 1 1 0 1 0 0 1 1 0-2 2 2 1-3 1 1 0 1 0 1 0-1 1 2 0 3-3-2 0 2-3-1-2 1-1-1 0-1 0-1 0 3-1-3 0 2-1-2 0 4 1 1 0 2 1-2 1 1 0-1 1 2 0 0 1-2 1 1 1 1 0-2 1 1 0 1 0-3 1 3 0 4-1-1 0-1-1 1-1-2 0 2-1-2 0 0-1 3-1-1 0-1 0 0-1-1 0 5 1 2 0-1 1 1 0-2 1 1 0-1 1 0 1 1 0 3 0-1 0 3-1-1 0-1 0 2-1-1 0-1 0-1 0 3-1-2 0-1 0 4 0 1 0-1 1 1 0 1 0 1 0-3 1 1 0 1 0 1 0 3 0-1 0-1 0 3-1-1 0-1 0-1 0 4 0 1 0 1 0 1 0 4 0-1 0-1 0-1 0" fill="none" stroke="none" marker-start="url(#k0)" marker-mid="url(#k0)" marker-end="url(#k0)"/>
<path d="M67.5 142.5 L116.3 143.6 L131.5 144.1 L140.7 144.5 L154.3 145.5 L195.4 148.8 L228.1 150.5 L240.5 151.4 L254.6 152.6 L268.6 154.3 L273.3 155.0 L277.9 155.9 L288.7 158.5 L296.4 160.9 L302.8 163.3 L304.6 164.1 L306.3 165.1 L308.0 166.3 L309.7 168.7 L311.4 171.4 L314.9 174.9 L316.6 176.9 L318.3 178.3 L321.7 178.7 L357.9 179.0 L443.5 179.1" stroke="#0000ff" stroke-width="2.6" fill="none" stroke-linejoin="round"/>
</g></g>
<g>
<path d="M67.5 268.30 L443.5 268.30" stroke="#ffc0cb" stroke-width="2" fill="none"/>
<path d="M67.5 257.42 L205.5 256.98 L443.5 256.84" stroke="#ffc0cb" stroke-width="2" fill="none"/>
<path d="M67.5 257.42 L205.5 256.98 L443.5 256.84" stroke="#dd66dd" stroke-width="2" fill="none"/>
<path d="M67.5 246.54 L205.5 245.65 L301.5 245.39 L443.5 245.38" stroke="#ffc0cb" stroke-width="2" fill="none"/>
<path d="M67.5 235.65 L205.5 234.33 L301.5 233.94 L443.5 233.92" stroke="#ffc0cb" stroke-width="2" fill="none"/>
<path d="M67.5 224.77 L175.5 223.28 L205.5 223.00 L301.5 222.49 L443.5 222.46" stroke="#ffc0cb" stroke-width="2" fill="none"/>
<path d="M67.5 213.89 L175.5 212.02 L205.5 211.68 L301.5 211.04 L443.5 211.00" stroke="#ffc0cb" stroke-width="2" fill="none"/>
<clipPath id="c03"><rect x="67.5" y="208.80" width="376.00" height="68.10"/></clipPath>
<g clip-path="url(#c03)">
<line x1="332" x2="443.5" y1="256" y2="256" stroke="#008000" stroke-width="3"/>
<path transform="scale(.5)" d="M139 442l0 1-2 10 1 5 0 1-1 1 2 0 0 1-3 1 1 6 2 0-2 2 2 1-1 3 1 0-2 2 0 2 1 2 0 3 0 22-1 20 1 4 2-34 2-3-2-6 3-6-3-4 2-2-2-2 2-1 1-1-2-1 1-1-2 0 0-4 2-4-2-1 1-2 2-11-3-2 2-5-1 0 1-4-2-1 2-2 0-1 3 0 0 1 0 3 1 6-1 2 0 15 0 3-1 1 1 2 0 1 1 0-2 2 1 2 1 2-2 8 2 0-1 1 1 1-2 1 3 10-1 14 1 10-3 1 6 4 0-2 0-3-1-6 0-2 1-15 1-2-2-1 2-1-1 0 0-3-2-7 1-2-1-13 0-7 3-11-3-1 1-4 1-3-2-4 1-3-1-1 2-1 3 10-1 2 3 11-1 2 1 7-2 2 1 2-1 4 1 0 1 16 0 10 0 8-2 11-1 3 7-2-1-2 0-3-1-3 2-2-2-7 2-1-3-1 0-1 2-4-1-9 2-2 0-10-2 0 0-10 0-1 1-8 1-3-1-3-2-2 0-8 5-2 2 0-2 3 0 10 2 6-1 2-2 6 0 1 1 0 0 2 2 2-1 1-1 1 2 4-1 1-2 3 1 2-1 17 3 3-2 3-1 3 1 2 1 45 2-45 0-5 0-8 3-7-1-2 1-1-3 0 1-1 0-3 0-3 1-3 1-2 0-3-2-2 0-3 1-2-2-23 0-2 4-1 2 5 1 5-3 1 0 1 3 1-3 11 2 1 0 2 0 9-2 4 1 0 0 3 0 6-1 5 2 6-2 1 3 0-2 1 1 1-2 7 0 13 0 1 3 0-3 11 3 1-3 3 1 2 4-16-1 0 2-3 1-6-1-2 1-1-3-2 2-1 1-3-1-22 1-20-3-3 3-7-3-3 3-4 0-1-3-1 5 2 1 9-2 1 1 2-1 8 0 9 2 3 1 0 0 2-2 2 0 1 0 8-1 3 1 9 1 0-2 1 0 1 1 0 0 2-1 1 2 5-2 4 3 15 0 9 2 2 1-12 0-1-1-11 2-18-1-3-2-2 3-7-3 0 2-3-2-4 2-3-2-2 3-2-3 0 1-2 2-1-3-2 3-1-3-8 0-2 0-4 3-1-2-2-1-3 7-7-2 13 1 3-1 3 0 1-1 2 2 0-1 2 1 0 0 2 1 3 0 3-2 3-1 1 3 2-3 8 3 1-1 3 1 0-1 2-2 1 2 1 0 14 0 1 5 20 0-1-1-1 1-2-3-9 2-3 0-16-2-1 3-2-2 0 1-1-1 0-1-2 2-1 1-8-3 0 3-4-1-5-1 0 1-2-1-1-1-1 3-6 0-6 0-9 0-3 0-4 0-5 0-1-3 0 4-3 0 38 0 9 0 2 3 2-3 1 2 2 0 2-2 9 3 2 0 3-3 1 1 21 0 2 5-19 1-1 0-6-3-4 2-2-2-4 3-1 0-3-3-12 1-3 2-5-3-10 2-1 1-4-1-5 3 0 1 11 1 8-1 3-2 2 3 2-3 2 0 4 3 3-1 2-2 3 1 2 0 1 0 3-1 1 0 1 1 2 2 3-2 2 1 1-1 4 2 1-1 13-1 2-1 4 0 7 5 1 1-4-1-27 2-2-3 0 1-2-1 0 3-2-2 0-1-2 3-1-3-2 3-4-3 0 0-4 1-5 1-2-1-1-1-14 3-1-2-2 1-3-2 0 1-2 1-2-1 0-1-2 0-2 7 6-1 3-2 3 2 0 0 1-2 7 1 7 0 4 0 4 1 2 1 1 0 2-1 2-2 6 2 1-2 1 3 0-3 1 3 4-2 6 1 2 1 7-3 11 3 0-2 7 3 0 3-1-1-4 1-14-2-12 0-3 0-6 1-3-2-5 2-1 1-3-1-6-2-2 2-1 1-1-3 0 2-3 1-2-3-1 1-5 2-4-1 0-2 0 3-3 0-2-3 0 0-3 0-3 2-2 1-9-3-2 5 19 2 1-1 1 0 2-2 7 1 2-1 3 3 0-2 1 1 0-1 4-1 3 0 2 1 3 2 0 0 1-2 8 1 5-2 1 2 1 1 0-3 31 3 2-1 1 3 5 2-25-2-3 2-6-1-3-1-8 0-10 1-2-2 0 3-1-1-1-2-6 3-1-1 0 1-2 0-9-2-9-1-2 3-1-2-1-1 0 0-3 2-2 4 5-1 17-1 3 1 1 0 3 1 0-1 4 2 0-2 1 2 2-1 1 0 1 1 2 0 8-1 3-1 11-1 10 2 0-2 3 1 2 2 9-2 8 5 1 0-3-1-8-1-4 2-13 1-4-3-2 1-9 1-2-2 0 0-1 3-7 0-1-3 0 3-4-3-5 3-3-2-1-1-9 2-3 0-5 2-9 3 1-3 2 2 5 0 5-2 2 1 1-1 20 3 7 0 4-2 6 1 1 4 13 1-1-2-3-1-1 1-1-1-6 0-5 3-1-2-2-1 0 3-5-1 0 1-13 0-8 0-2-3 0 0-4 1-1-1-1 0-2 1-3-1-2 3-7 0-1-2-8 5 8 0 2-1 1 0 6-1 1 0 1 1 1 1 1 1 0-2 1 0 10 1 6 0 4-1 3-1 4 1 0 2 9-1 3 0 3-2 2 1 22-1 2 7-6 0-13-2-7 1-4 1-1-1 0-1-1 2-6-3-10 2-1-2-4 1-1 1-6 1-4-1-3 0-2 0-1-2-2 2-6 0-3 4-2 0 4-2 2 3 2 0 1-3 1 1 1 1 0-1 2 1 8-2 9 2 0-1 1 0 2 2 1-1 3 1 0 0 1-3 5 1 0 0 2 0 8 2 5-3 12 3 7 4 2-1-21 0-1 0-1-1-14 0-4 1-1-2-2 1-2 2-2-1-1-1-2-1 0 2-2-1-4-1-13 2-5 0-3 4-5-2 26 3 5-3 3 1 1 2 2-3 2 1 4-1 2 1 13 0 3-1 2 3 2-3 1 3 1-1 1-1 17 4-10 1-3-1-3 0-9-1-6 2-3 0-1 0-3 1-1 0-7-3-2 3-1-1-8 0-9-2-2 3-1-2-1-1-1 3-13-3-1 0-3 7 14-3 2 0 7 1 2-1 1 2 4 1 6-2 5 0 4 0 1 0 1 2 0 0 2-1 2 1 0-3 10 2 1-2 2 1 2 1 3 0 11-2 11 5-28 0-5 1-2 0-3-2-4 1-1 0-5 1-4 1-5-2 0-1 0 3-4-1-11-2-10 6-1 1 2-3 1 1 9 2 9-1 6-2 2 1 2 1 2-1 5 2 0 0 1-1 2 0 4-1 4-1 2 3 2-2 2 1 4-2 4 3 0 0 3-1 20-2 1 5 17 0-3 2-11-1-9-1-18 0-1 1-1-1-6 1-3 0-2-1 0-1 0 0-12 2-1-1-1-1 0 3-3-3-5 2-5-1 0 0-15 2-2-3-1 5-9 2 4-3 10 2 0 0 6 1 5 0 3-3 2 2 3 1 1-2 1 2 1-1 9 0 1 0 1-1 1 0 2 2 1-3 1 1 0-1 2 0 2 1 0-1 2 0 2 3 3-2 4-1 2 3 0-2 1 2 0-2 2 1 2-2 2 0 7 3 0 0 3-3 1 2 3 0 1-1 3-1 4 5-20 1-3 1-5-1-3-2-3 1-8-1-2 2-2 0-1 0-1-1-1 0-2 0-2-1-9 0-1 3-2-1 0 1-1-3-1 0-3 2-3 1-3-1-6 1-8-3 0 2-2 4 8-1 2 2 1-1 2 1 1-2 1 0 1 0 1-1 4 1 4 2 1-1 2 1 1-1 4-2 2 2 1 1 0-3 7 0 4 3 7 0 1-1 10 0 3 1 12-3 10 1 3 6-3-2-11 2-8-3-1 0-15 3-1-1 0 1-1-2-1 1-6 0-2-2-2 0-4 2-1-2 0 0-3 3-1 0-1-1-1-1-3-1-4 0-3 3-3-2-1 0-5 2-2 0-1 2-8 2 2-2 2 0 3 2 1-2 7 2 1-1 8 0 3 1 2 0 2 0 2-3 7 0 3 3 2-1 2-1 2 0 6 0 6 1 5 1 3-1 19 2-25 0-3 3-12-2-1 2-2-3-11 3-1-2-4 1-7-2-1 1-1 0-1-1-5 2-3 0-12 4-8-2 8 1 0 0 1 2 1-1 2-2 10 3 13-3 1 3 0 0 5 0 3-3 2 3 0-2 1-1 8 1 0 0 1-1 3 2 5-1 2 1 0 0 1-1 2 1 2 1 6-2 1 2 6-1 2 5 20-1-19-2-6 2-13-2-2 1-8-1-1 1-8-1 0 1-1 0-2 2-1-2-2-1-25 2-3 0-4-2-1 4 1 1 11 1 1-2 2 0 7 1 2-1 1 2 1 1 0 0 8 0 9-3 2 2 3 1 3 0 3-1 1 0 1 0 2 1 1-1 11 0 8-1 3 1 4 2 21 2-21-1-13 0-6 1-4-1-3 0-1 0-2-1 0 2-4 0-7-2-1 1-2 0-9 1-1-2-10 3-1 0-1-1-6-2-2 1-1 2-2 0-1-3 0 1-1 1-2-1 0 3-2 1 1 0 2 1 2-2 8 1 7-1 9 0 4 2 3 1 7-3 2 3 6 0 8-1 7-1 8 0 6 6 9-1-15 1-1 0-3-1 0 1-8-2-5 0-2 1-1-1-4 0-1 2-3-2 0 0-10 2-1 0-5 0-9 0-7-3-2 6-11-1 1 1 13-1 4 2 0-2 1 2 2-3 1 1 1 0 2 2 2-3 2 0 4 1 2 0 1 1 2-1 4 0 1-1 7 0 4 1 5 1 1 0 9 3 21-1-31 0-1 1-2 1-3 0-1-1-14 1-10 1-3-1 0-2-1 0-5 3-5 0-4 0-4 0-4-3 0 0-1 0-1 3-1-1 0 4 7-2 3 2 0-2 4 2 1 1 0-3 4 3 0-3 1 2 1 0 1-2 2 1 0 1 0-1 3 2 0 0 3-3 1 2 1 1 0-3 3 1 2-1 4 1 11-1 12 3 1 0 2 0 13-3 11 2 2 3-4-1-2 3-15-2-4 0-5 0-3 2-1-2-18 2-1-2-12 2-2-2-1 1-3-2 0 0-8 3-4 0-16 2 1 1 1 1 10-3 7 0 6 1 8 0 6 0 2 2 0-1 3 1 20-2 10 0 7 3-2 0-8 1-15 2-2-3-2 2-2-1-3 1-3-2 0 3-2-2-1 1-1 0-1-2-1 3-9 0-3-1-1 1-5 0-2-1-1-2 0 2-2-2-9 4-6 0 2 0 10 3 0-1 3-1 7 2 1-2 2 1 5 1 0 0 3-1 1-1 2-1 1 1 0 0 1 0 2 2 0-2 1 0 2 1 11-1 2 2 2-2 3 4 40-1-40 2-6-2-11 2-1-2-2 1-7 1-9-1-2-1 0 3-4 0-2-2-1 0-1 0-1 4-3-1 6 1 2 0 1 1 0 0 8-2 7 1 1 1 2 0 1-1 1 0 4 0 1 1 9 1 1-1 1 0 9-1 2 0 11 1 4 0 3 0 13 1 8 2-3 0-4 0-34 2-2 0-5-1-1-2-1 3-9-1-5 1-1-3-1 0-8 0-4 1-8 2-16 0-2 3-1-1 1 1 2-1 3 0 4 2 9-2 11 1 0-1 2 1 2-1 2 1 1 0 5 1 3-1 2-1 5 2 0-2 9 0 2 1 7-2 2 2 1 5 5 0-3 0-24 0-1 0-1-3-3 2-1-1-5-1-9 0-1 3-1-1 0-1-1-1-3 0-4 1-15 5 9 0 1 1 1-2 4 1 0-2 8 1 2 0 1 2 1-3 5 3 7-3 1 0 1 0 1 2 4 1 1-2 2 1 1 1 1 0 4 2 42 2-3-1-19 0-3 1-1-3-2 3-2-1-16 1-3-2-3 2-4-2 0-1-1 2-2 1-3-1-3 1-3-1-4 1-1-2-8 2-2-2-1 2-5-2 0 0-4 0-8 6 0-1 2 0 2-2 4 3 0-1 3 0 1 1 0-2 2 1 0 1 0-1 1-2 1 2 1-2 1 2 0-1 1 0 4 0 2 0 3 0 2 0 1 1 0-1 5 2 0-2 2 2 4-1 2 0 1-1 6 1 2 0 26 1 4 0 10 1-3 1-12 2-3-1-3 1-9-1-5-2-2 3-4-1-2 0-1-2-2 2-1 1-3 0-1-1-2-2-4 3-1-1-1-1-1 0-1 0-9-1-2 1-4 2-2-1-3-2-3 2-1-2-1 3-2-1 0-1 0 2-2-2-1 3 4 1 8 2 3-3 1 0 4 3 3 0 11-2 1-1 1 2 7-2 1 1 1 2 6-3 7 1 0 1 4-1 3 0 5 1 2-2 2 4 17 3-6 0-24-1-1 1-2 0-2-1 0-1-7-1-2 0-1 1-4 2-2-1-2 1-6-2-10 1-2 1-6-3-7 0-8 2-1 1-3 1-1 2 2-2 1 0 1 2 10-2 1 2 7-1 3 0 1 1 2 1 0-1 2 1 7-3 2 2 1 1 0 0 2-2 7 2 0-3 1 0 6 1 0 2 0-2 1-1 2 3 2-2 2 1 1 1 0-2 4 2 3-1 3-1 4 2 21 3-9 0-21-2-2 3-1-1-1 1-6-1 0 0-1-1-2 2-1-3-1 0-4 2-4 1-6 0-3-1-4-1-1-1-1 1-4 2-9 0-6 0-4 0-3 3-1 1 1 0 5-1 3-1 3 0 3 1 0-2 1 3 4-1 2 1 1 0 1-3 1 3 0-3 1 1 1 2 0 0 1-2 1 2 1-2 2 2 4-3 1 2 1 0 1 1 3-2 1 0 7 2 0-1 4-2 2 0 3 1 1 2 1-3 6 1 19 3-29 2-4-1-1-1-2 3-4-2-2-1-3 3-2-3-2 1-2 1-7 0-5-1-1-1 0 2-1 1-1-2 0-1-21 7 2 0 2-2 4 2 3-3 5 1 5-1 1 0 1 3 1-2 2 0 1 1 9 1 2-1 2-1 2 2 0-3 3 2 0 1 0 0 2 0 9-2 2 1 7 1 1-3 1 7 1-1-12-1 0 2-4-1 0 0-4 0-1 1-3-3-1 2-9-2 0 3-2-3-2 3-7-1-1-2 0 1-3 2-3-2-2 1-2 0-2-2-3 2-3-1-1 4 3-1 13 2 1 1 4-3 12 3 0-3 2 1 7-1 4 1 0-1 3 1 0-1 2 1 0-1 1 1 1-1 3 2 2 0 3-2 2 0 17 6 22-2-3 0-3 1-3 2-28-3-3 2-6-1-3-1 0 3-1-1-3-2 0 2-3-1-1 1-3 0-4 1-3-1-3 0-1-2-2 0-1 0-1 3-1-3-9 2-7 1-6-3-5 7 11-1 6-2 4 0 3 0 3 3 4-3 2 1 0 2 2-2 3 2 0-2 1 0 1 0 2 2 4 0 5-2 1-1 2 3 2 0 2 4 33-2-19 1-13 0-3 1-7-3 0 2-1-2 0 1-1 2-2-3-5 2-8-1-10 2-1-2-6 2-2 0-5-1-1 2-3 2 10 0 3 0 1 0 4 1 7-2 1-1 1 0 15 1 1-1 3 2 3-2 5 3 1-3 10 1 2 1 3-1 1 0 13 4-11 1-9 1-3 0-5 0-1-2-7 1-14-1-3-1 0 1-3 0-7 1-3 1-2-1-2-2 0 2-2 0-8-2-3 6 3-1 9 1 4 1 2-1 7-2 2 3 7 0 10-3 1 0 7 3 1-2 5 1 1 1 3 0 4 0 24 2-3 0-11 0-13 0-6-1-2 2-18-1-1 2-1-3-1 3-2-2-2 2-1-2-10 2-3-3 0 3-2-2-1 2-2-1-6-2-1 6 1 1 3-2 4-1 1 1 0-1 3 3 1-3 2 3 1-2 2 0 1 2 0-2 1 1 7-2 2 1 5 0 2 0 1-1 1 3 2-1 3-2 11 1 8-1 3 3 27 3 2 1-3-2-1 2-10 0-11-3-13 3-7-2-1 1-4-1 0-1-1 3-4-2-2-1 0 1-4 0-14 2-2-2-1 2-3 0-4 4-4-1 3 0 3-2 1 2 2 0 3 1 3-1 2-2 4 2 3 1 9-1 1 1 3-3 1 1 2-1 3 1 2 1 6 0 3-2 29 5-13 1-1 0-1-1-11-1 0 2-2-2-4 2-4 1-2-2-2 1-1-1-1 1-2-2 0 2-7-1-2-1-12 1-1 0-1 0-1-1-3 0-1 3-4-2-3 6-5-1 3 1 3-3 3 3 1-3 2 1 4 2 0 0 3 0 7-1 2-1 5 1 0 0 6-2 3 1 6 1 1 0 12-1 3-1 8 3 1 2 15 1-8 0-4 0-3-2-25 3-1-3 0 0-12 1-1 2-3 0-4-1-3 1-2 0-3 0-1-1 0 1-4-1 0-2-1 2-2-1 0 0-1 2-3-1 0-2-1 2-3-1 0-1-4 1-4-1-2 4 5 0 4 1 22 1 6 0 1-1 4 0 3 2 3-3 4 3 11-2 22 3 2 0-2 0-3 1-1 1-16-1-5 0-4-1-2 2-6 0-1 1-1 0-3 0-2-3-2 3-7 0-2 0-1-1 0 0-1-1 0 1-3-1-3 5-13-1 9 1 1-1 1 1 1 1 7-2 3 1 10-2 9 0 3 2 3-2 7 2 0-2 1 6 11 0-13 1-2-2-1 0-4-1 0 3-10 0-1 0-1-1 0 0-1-2-3 1-10 1-13-1-1 5-11-2 5 0 3 1 0 2 1-2 1 1 0 1 0 0 1 0 1-2 2 2 2 0 3-2 6 2 3-2 2-1 2 0 3 0 2 0 1 3 1-2 4-1 1 3 0-2 1 1 0 1 0-3 14 3 2 1 6 2-2 0-2-2-4 2-10 1-4-3-3 1-1 1-3 1-7 0-1 0-2-1 0-2 0 3-1-2-10-1-16 4 8 2 3 0 1-2 1 0 9 0 3 2 1 1 3-3 6 3 0-1 2 1 6-3 4 2 8 4 3 1-4 0-10-2 0-1-3 1-2-1-5 3-1-1-1-2-1 0-1 2-2-2 0 2-4 0-1-1-1 1-4 1-3-1-1-1-8-1-2 0-7 7-2-1 13-1 4 0 4 1 0 0 3 1 0-3 2 3 0-3 1 3 2-2 1-1 1 3 0 0 3-2 2 2 1-3 3 3 17-1 1-2 2 2 2-2 1 1 1 0 2 0 2-1 2 3 1 0 14-2 2 4-15-1-3 2-4 0-1-1-1-1-9 1-4 2-1-2-2 2-6-2-3 2-1 0-2 0-1-1-3 1-3 0-1-2 0-1-2 1-2 2-3-2 0 2-2-1-1-2 0 3-2-3 0 0-5 1-8 5 2-1 2 2 2-3 10 1 0 2 1-1 1-1 1-1 3 1 1-1 1 2 2-2 1 0 1 2 0-1 3 2 2-3 2 0 4 0 2 3 0-2 2 2 0-3 3 0 3 1 0 2 1-2 2 2 5-1 3 0 2 1 2-1 16 2-24 1-1-1 0 3-1-3 0 1-1 0-1-1-1 0-13 0-2 3-5 0-3-3-2 1-4 0-5 2-2-2-1 1-1 2-5 3 13 0 6 0 6-3 2 3 12-2 10 1 0-2 3 1 4 0 5 1 1 1 3-3 3 0 2 7 5-3-14 1-1-1-8 2-2 0-2-2 0 3-2-2-5-1-5 0-2 2-2-1-1 1-3 1-2-3 0 3-2-1 0-1 0 2-2-3 0 1-2 0-3 0-13-1-4 3-2 0-1-3 0 5 9 2 2-1 12-1 5 1 0 0 1 1 5 0 1-3 12 0 3 3 0-1 2-2 3 2 1 1 7-3 2 7 0-1-6-2-11 3-2 0-1-2-2 2-3-2 0 1-3-1-6 1-2 1-2-1 0-2 0 2-1-1-1-1 0 0-3 2-3 0-2-1 0 1-3-2 0 1-5 2-2-3-6 4 8 1 0 0 2 0 10-1 2 3 7 0 8-3 1 1 15-1 1 1 2 2 7-1 2-1 1 6 19-1-14-1-2 0-1 2-5-1 0-1-3 2-3-3 0 1-1 2-1-1-3 0-1 0-4-2-11 0-3 2-1 1-4-3 0 0-8 3-1-3-1 2-1-2-1 0-2 1-2 0-4 0-2 5-4 0 4 0 5-2 1 2 1-2 1 1 1 2 1-1 1-1 3 1 0-2 1 1 0-1 1 3 7 0 3 0 18-1 3 1 0 0 7 0 5-3 1 0 17 4 1 3-5-3-2 2-17 0-8-2-1 3-1 0-1-2-2-1-2 0-3 3-2-1 0-1-3 0-3-1 0 0-3 3-2-2 0 1-1-2-2 3-3-2-2-1-1 0-1 2-6 1-2 0-1 0-2 2-4 2 0-2 2-1 3 3 2-2 2 2 3-1 6-2 2 2 0 1 3-1 1-1 1 1 2-1 1 2 2-3 13 3 1-1 15-1 18 5-16 0-2 1-4-2-4 2-2-3-1 3-8-1-7-1 0 1-2-1-1 1-3 0-1-2 0 3-1-2-2 1-2-1 0 1-4-2 0 0-6 5-4-1 1 3 1 0 9 0 2-1 2-1 1 1 0 0 1-2 5 2 0 1 1-3 7 1 0 1 1 1 2-3 1 2 1-1 1 2 0-3 9 0 6 1 10 6-12-2-3 2-2-1-2 0-3 1-2-1-1 1-1-1 0-1 0 2-6-3 0 0-3 1-2 2-1 0-1-3 0 0-4 2-1-1-3 0-13 5 11-1 1 1 0 0 1-1 6 1 1-1 2 1 0-1 5 1 1 1 0-2 2 2 0-1 1-2 4 2 0-2 5 1 0 2 6-3 1 1 4 0 2 0 4-1 3 3 2 3 7-2 0 1-5-1-9 0-4 1-7 0-5-1 0 1-1 0-1 0-3 2-1-3-1 0-1 3-1-1-2 1-2 0-2-2 0 1-1-1 0 2-1-3 0 3-1-1-1 1-3-3-2 0-1 2-2 0-2-1-3 1-1-2-5 1-1 3 0 3 1-2 2 1 5 1 1-1 2 0 2-1 1 0 2 2 1-2 5-1 1 2 2 0 2 0 4-1 2-1 3 0 1 2 19 0 6-2 5 5-8 0-3 2-8-1-3-2-13 0-1 3-1 0-2 0-3-2 0 2-4-1-2 0-1-1 0-1 0 2-1 0-2-1 0 1-2-1 0 0-2 2-1-1-3-1 0 1-8-1 0 3-3 1 11-1 5 0 1 1 1 2 1-1 1-1 1-1 3 0 1 2 0-2 1 3 0 0 3-2 2 1 2-2 5 1 3 1 1 0 17 3 0 2-18 0-5-1 0-1-6 1-3 0-3-2-2 0-2 2-1-2-13 3-2-2 0 6 13-2 1 2 0-3 3 3 2 0 6-3 2 2 0-2 2 3 0-2 8 1 1 0 1 1 3 0 4 0 24-1 1 2-2 3-5-3-16 1-1 0-17 1-3 1-7-3-4 3-2-1 0-1 0 2-6 0-1-3 0 2-3-1-3 3 2 1 3 1 5-1 1 1 4-1 2 1 3 1 0-2 3 1 0-1 2 0 4 1 13-1 2-1 1 2 7 5 12-3-8 3-1-3-1 3-2-3-3 1-12 1-1 1-2-2-2 0-1 2-1-1-6-1-5 2-2-1-11 4 2 1 3-3 1 3 3 0 1-2 1 1 2 1 1 0 4 0 1 0 2-1 1 1 0-2 1 2 0-3 1 2 0-2 1 3 0-1 2-1 1 1 0 0 4-1 3 1 1 1 1-3 1 0 6 2 2 1 1-1 12 4-5 0-13-2 0 3-1-3 0 2-2 1-3-1-6 0-2-1 0-1-3 3-2-2-1 0-1 1-1-2-1 3-1-1 0 0-1 1-2 0-2-1 0-2-1 5-4 2 0-1 2 1 0-1 2-2 3 2 0 0 3-2 3 2 3-1 3-1 1 1 1 2 1-3 1 1 2 1 1-1 1 2 0 0 3-3 15 1 3 6 4-3 0 1-16-1-8 2-2-1 0 1-2-1 0-1-1 0-1 2-2-1-1 1-2-2-3 1-5 1-1 0-2-2 0 0-6 6 11-2 2 0 1 3 0-1 2 1 0-2 1 1 0 1 0-2 2 0 1 1 0-1 1 2 0-2 1 0 1-1 1 1 0 2 3-2 1 2 3-1 1-2 1 2 1 1 2-2 1 4-1 0-2-1 0 0-1 0-2 2-1-1-1 2-1 0-3-1-1-1 0 2-1 0-1-3 0 2-1-2 0 1-1 0-1 2-1-1 0-1 0-1 0 2-1-2 0 0-1 1-1-1 0 2-2-2-4 0-1 3-5-2-2 3 14 0 4 1 0 1 1-1 4-1 2 1 0 2 0-3 1 0 2 1 0 0 1 0 1 2 0-2 2 3-1 3-1-1 0-1 0-1 0 3-1-2 0 2-1-3-1 1-2 2-2-1-1-1 0 2-1-1 0 0-1-1 0-1-1 4 2 1 0-1 1 1 0 1 0 1 0-3 1 2 0-1 1 1 0-2 2 0 1 1 0 1 0-1 1 1 0 1 0-3 1 1 0 6-2-1 0-2 0 3-1-3 0 3-1-2 0 1-1 1-1-3-1 4 1 1 0 1 1 1 0-2 1 1 0 1 0-2 1 2 0-3 1 1 0 6-1-1 0-1 0 2-1-1 0-1 0-1 0 2-1-1 0 3 1 1 0 1 0 1 0 4 0-1 0-1 0-1 0 4 0" fill="none" stroke="none" marker-start="url(#k0)" marker-mid="url(#k0)" marker-end="url(#k0)"/>
<path d="M67.5 210.5 L114.8 211.9 L139.1 212.9 L154.3 213.9 L195.4 216.8 L232.7 218.8 L240.5 219.4 L249.9 220.4 L263.9 222.4 L274.9 224.2 L285.9 226.6 L295.2 229.1 L299.8 230.6 L302.9 231.7 L306.3 233.1 L309.7 234.9 L311.4 236.0 L313.1 237.8 L314.9 240.0 L316.6 241.1 L320.0 239.4 L323.4 242.0 L363.9 242.3 L443.5 242.5" stroke="#0000ff" stroke-width="2.6" fill="none" stroke-linejoin="round"/>
</g></g>
<g>
<path d="M67.5 336.40 L443.5 336.40" stroke="#ffc0cb" stroke-width="2" fill="none"/>
<path d="M67.5 325.53 L241.5 325.01 L443.5 324.94" stroke="#ffc0cb" stroke-width="2" fill="none"/>
<path d="M67.5 325.53 L241.5 325.01 L443.5 324.94" stroke="#dd66dd" stroke-width="2" fill="none"/>
<path d="M67.5 314.66 L181.5 313.87 L241.5 313.63 L301.5 313.48 L443.5 313.48" stroke="#ffc0cb" stroke-width="2" fill="none"/>
<path d="M67.5 303.79 L181.5 302.61 L241.5 302.24 L301.5 302.02 L443.5 302.02" stroke="#ffc0cb" stroke-width="2" fill="none"/>
<path d="M67.5 292.92 L181.5 291.34 L241.5 290.85 L301.5 290.56 L443.5 290.56" stroke="#ffc0cb" stroke-width="2" fill="none"/>
<path d="M67.5 282.05 L181.5 280.08 L241.5 279.47 L301.5 279.11 L443.5 279.10" stroke="#ffc0cb" stroke-width="2" fill="none"/>
<clipPath id="c04"><rect x="67.5" y="276.90" width="376.00" height="68.10"/></clipPath>
<g clip-path="url(#c04)">
<line x1="328" x2="443.5" y1="324.6" y2="324.6" stroke="#008000" stroke-width="3"/>
<path transform="scale(.5)" d="M137 566l-1 13 3 2 0 7-1 1 1 6-2 2-1 5 3 0-1 1 0 1-1 7 2 0 0 2-3 9 2 0-1 1 0 3 2 17 0 1 0 3-2 1 5 29-2-3 0-23 2-5 0-1 1-2 0-12-2-4 0-2 0-2 0-2 1-14-2 0 2-2 0-1-1 0-1 0 2-4 1-17 0-3-1 0-2-3 6 9-2 7 1 3 2 1-3 3 1 1 0 2 0 2 0 5 0 1 0 13-1 6 1 8-1 6 0 32 3 0 4-22 0-7-3-1 1-7-1-14 3-1-3-2 1-2 0-1-1 0 1-5-1 0 3-2-3 0 1-2 1-2 1-1 0-2-3 0 0-1 1-3 1-3 0-2 1-2-1-1-1-2 1-4 2-18 1 4 1 1 0 4-2 6 2 2-2 2 0 1 2 2 0 2 0 1-2 1 2 0-1 2 2 1 0 1-2 1 1 7 1 3-3 8 0 2 3 0-3 8 3 2-1 22-2 3 1 0 1 4-2 14 3 1 2-12 1-10-1-4 2-2-3 0 2-1 0-4-2-1 3-2-2-6-1-1 1-1-1-1 2-1-1-6 2-2-1-4-2-12 3-8-2-1 2-1-3-1 2-2-1-4-1-16 2-3 0-1 3 11 2 2-3 2 3 4-2 8 0 2 0 2 2 6-3 2 3 3 0 3-1 3 0 5 0 4 0 7-2 13 1 1 1 3 4 1 1-9-1-3-2-11 3-1-2-1 2-1 0-1 0-3-2-3 2-2-2-3 0-2-1-13 3-10 3-16 1 5-1 6-1 4-1 2 0 5 3 1-1 1 0 11-1 1 2 1-3 3 2 2-1 3-1 1 3 0-3 1 0 3 3 8-1 17 3 38 1-17 0-6-1-5 1-3 1-14 0-7-3 0 1-7 2-3-2 0 0-3 1-2-1-5 2-6-2 0-1 0 0-2 2-6-1-7 4-6 2 5 0 4 0 1-3 1 2 0-2 1 2 5 0 5-1 4-1 1 1 2 2 0-3 2 0 3 2 0 0 2 0 3-2 6 1 3 2 3-2 5-1 12 1 7-1 6 7-23-2-5 0-4 2-3-2 0 0-3 2-3-1-5-1 0 1-1 0-8 1-6-3 0 0-1 0-4 3-2-1-1 1-8-1-1 0-2 1-3-1 0 1-4-2 0 5-2-1 3 1 8-1 2 0 3-1 3 1 0 2 0 0 1 0 3-2 11 1 4 0 3-1 1 2 0-3 1 0 2 3 3-2 2 2 2-3 6 1 2-1 3 1 5 3 20 3-23-2-3 2-13-1-2-1-3-1 0 0-1 1-3 1-3-1 0 1-2-2-2 2-3-1-3-1 0 3-2-3-1 3-2-1 0-1-4 0-2-1-2 3-2 0-4-2-10 3-5 2 10-2 12 3 2 0 14-2 22 2 3-2 2 0 6 0 4 2 2 0 5 0 12-3 2 7 13-3-28 2-2-2 0 0-1 1-4 2-13 0-2-2 0 0-7 1-3-2 0 2-2-2-1 2-1-2 0 2-1 1-1-1 0-2 0 2-5-1 0 1-12-1 0 2-3-2 0 0-2 2-1-2-1 2-2-1 0-1-1 1-2 1-1-3-1 0-9 4 11 1 4 0 3 0 4-1 13 0 9 0 2 2 3-1 2-1 2 1 1 1 1-2 9 3 0-3 14 2 5 0 2 1 1 2 7 0-12-1-3 3-10-3 0 2-6 1-2 0-3-3-1 0-4 0-1 0-2 2-5-1-1 2-3-3-4 0-12 3-21 4-5-3 3 3 4-2 2 1 5 1 2-3 1 2 0 1 4-1 3 0 6-2 13 1 1 2 7-3 2 3 1 0 1-3 3 2 1-2 1 1 1 2 6-2 14 6-5 0-7 0-4-1-2 1-2-1 0-1-5 2-4 0-5-2-5 0-2 1-1-1 0 2-4-2-6 2-1-2 0 1-2 0-1 0-1-2-16 3-1-3 0 2-1-1-1 0-3 4 0-1 7 3 13-1 3-1 3 2 0-3 3 3 5-2 2-1 3 3 0-1 4-2 2 3 0-2 2 2 3-2 4 2 0-1 6 1 7-3 1 1 0 1 1-2 6 2 0 1 0-2 1 0 3 2 9 4 25-3-1 3-25-3-2 2-3 1-17-2-8 0-6 2-2-2 0 1-1-1-3 1-1 1-3-3 0 0-2 3-7 0-6-2-2-1-3 0-3 2-1-1-3 2-1 0-2 0-2-1-5-1-4 3 2 1 3 1 6-2 3 3 6-3 6 1 2-1 7 2 0-2 1 3 1-3 4 2 0 1 2-1 3 1 2-3 1 1 0 0 1 2 0-1 5-2 2 0 4 1 3-1 5 2 0-1 1 0 15 2 29-1 1 2-27 2-4-1-18 1-3-2-7 1-5-1-2 2-1-2 0 0-6 0-18 3-1-2 0-1 0 3-6-3-3 1-1 2-2-2-2-1-7 1-2 6 5-3 1 0 2 3 1 0 11-3 3 3 0-1 4-1 3 1 10-1 4 1 1-2 2 1 1 0 2 1 1-2 2 1 2 2 0 0 1-2 5 1 28 2 2 3-2-1-17-2-14 0-3 0-2 2-6-2 0 3-2 0-1-2-1-1-12 3-5-1-4-1-2-1 0 0-5 0-7 2-2 3-6 0 3 2 3-3 15 3 5-3 4 2 2 1 0-3 1 1 2 0 1 2 3-1 2 1 1 0 3-1 12 1 2 0 23 2 5 0-4 0-5 2-3-3-1 2-5-1-8 0-21-1-5 2-2-1 0 0-3-1-1 3-1 0-3-3-2 1-2 2-13 0-1 1-1 2 1-1 2 2 4-1 3 1 5-3 5 0 5 0 9 2 1 0 1 1 0-3 2 0 8 3 2-3 4 1 4-1 2 2 2-1 5-1 4 1 6 2 3 2 9 2-1-1-6 0-2 0-3 0-3 0-6 1-2 0-1-1-6 1-1 0-2-1-6-1-2 2-1-1 0 1-4-2-2 2-15 0-2-2-1 0-2 1-1 1-2 0-9 2-8 1 29 0 3-1 12 1 3-1 14 2 3-2 11 1 7 4 17 0-26 0-9-1-1-1-12 2-1-1-3 1-2 1-3 0-5-2-1 1-1-1-1 0-2 0-1 2-15 0-2-1-1-1-8 1-8-2-2 4 4 2 5 0 1 1 1-2 1 2 3-3 8 2 1 0 18-2 1 0 2 1 2 1 1-1 3-1 2 2 4 1 10-2 1-1 1 3 0-3 8 1 25 4-2 0-8 0-4-1-24 3-4-2-2 2-2-1-2-2-4 3-7-1 0 1-1-2 0-1 0 1-4 1-1-1 0-1-3 1-5 0-3-1 0 3-4-3 0 1-8-1-1 0-5 2-6-2 0 5 3 0 9 1 4 0 2-2 6 1 0 0 3 1 1-1 2 0 3-1 3 2 0 0 2 1 0-1 2-1 1 2 2-2 1 2 0-1 1-2 2 3 1-2 5-1 3 2 1 0 1-1 1-1 1 3 0-1 2-2 33 4-13 1-9 0-11 0-4-1 0 1-1 1-2-1-3 1-1-2-1 0-1 2-2-1-9-1-25 0-3 0-5 5-2 1 3 0 11 1 2-3 11 1 20 0 3-1 2 3 3-3 3 1 3 1 2 1 40 1-3 3-23-2-6 1-15-1 0 1-2 0-3-1-1-1-2 1-2 2-1-1-2-1-1 2-8-2-9-1-11 1-1 5-16 0 20-2 1 3 0-1 1-1 2 1 3-2 6 3 2-3 1 0 1 1 1 1 1 0 1-2 3 3 2-1 2 1 1-1 3-2 2 0 5 1 0 1 1 1 1-1 5 0 2 1 0 0 4 0 5 0 2 0 2 3 24 0-9 1-9 0-12-3-3 3-2-2 0 2-7-2-1 0-4 2-8-1-3-1 0 2-2 0-3-2-3 2-4-2 0-1-1 2-1-1 0-1-3 3-3-2-1 1-3 3-5 0 6 1 1-2 6 3 4-2 3 1 3 1 1-3 1 3 2-3 3 1 0 1 3 0 1 0 1-2 1 1 1-1 2 2 3-2 1 1 3 0 1 0 1 1 0-1 2 0 1-1 2 0 2 3 9-2 5 1 10-1 2 4-14 1-10-2-8 0-7 3-1-3-9 3-2-2 0 0-4 2-1-2-4 0-1 2-7-2-4 0-22 6-5-2 2 0 2-1 3 1 0 0 7 1 6 1 9-3 3 0 1 0 2 1 3 2 3 0 2-1 3 0 6-1 5 2 9-2 2-1 8 2 9 5-8-1-3-2-2 3-19-3 0 1-2 0-1 1-1 1-13-3 0 3-7-1 0-1 0 0-8 0-10-1-2 2-1 5-3-2 9 1 1 1 2 0 2-3 1 1 0 1 0 1 8-3 1 3 0-3 1 3 5-3 1 2 9 0 1 0 3 0 10-1 10-1 7 2 2-1 1 1 8 5 10-2-3 0-11 2-2-2-1 0-2 1-10 1-2-1-10-1-2 2-9-1 0-2-1 2-2 1-11-2-6 2-3-2-5-1-9 2-3 0-1 0-3 4 1-1 17 1 2-2 1 2 11-1 3-1 7 2 1-1 5 2 4 0 2-1 3 0 1-2 2 3 3-1 8-2 11 4 8 3-2-1-4 1-12-1-2 1-1-1-4-2-5 3-3 0-4-1 0 1-3-2-15 2-3 0-4 0-2-2-5 1-17-1-3 6 1-1 7 1 2-2 1-1 12 2 2 1 0-2 7 1 1-2 1 1 1-1 4 2 2 1 0-1 1 0 1 1 0-3 1 3 1-3 3 0 2 2 0-2 2 0 1 2 1 1 5 0 11-3 1 1 1 0 1 1 2 0 10 4-13-1-4 2-6 0-2 0-2-3-1 2-3-2-3 0-1 0-1 1-1 1-3 0-23-1 0 0-11-1-7 2-2 0-3 4 6-2 3 1 13-1 2 3 10-3 1 0 2 2 1 1 0-1 6 1 2-3 2 2 7-2 2 2 4-1 1 1 0-1 3 1 0-2 4 1 0-1 6 2 1-1 1 5 34-1-13 0-3 0-19 1-2 1-2-2-4-1-1 3-3-3-3 0-2 0-1 1-1 2-1-2-2 2-1-3-17 2-3 1-17 1-4 3 15-2 6 0 3 1 9 0 3 0 4 0 2 1 0-1 1-2 1 0 12 2 6 0 5-2 5 0 9 4-13 1-2 2-3-3-11 0-4 1-3 2-3-2 0 0-1 0-3 0-4-1-10 2-8-2 0 0-8 3-1-3-1 2-12 4 11 0 4 0 3-2 3 2 2-2 1 0 4 3 2 0 12 0 5-1 1 1 3-1 1 1 0 0 4 2 16-1-3 1-4 2-2 0-1-1-6-1-3 0-3-1-2 2-6-2 0 1-1 1-2-2 0 1-1 2-3-1-2-2 0 2-3 1-1-1-1-2 0 0-2 0-20 2-9 2 9 1 3 2 0-2 9 1 8-2 1 0 5 0 1 2 0 1 1-1 1 1 0 0 3 0 2-1 8-1 2 1 5-1 3 1 0 0 4-2 3 7 6-1-6 0-1-2-1 1-4-1-3 3-1-1 0 1-10-1-1 0-1 0-2-1-1-1-4 1-8 1-5 0-1-1-2 1-1 0-1-1 0 2-2-2-8 2-7 4-2 0 1 0 3 0 10-1 3 1 1-3 2 1 0-1 1 0 2 2 0-2 14 3 7-2 1 0 1 2 1-2 2 0 1-1 1 1 1 1 0 0 1-2 3 0 4 1 0-1 1 0 2 3 0-3 1 2 6 1 4-1 11 1 10 2-18 0-15 0-8 0-1-1 0 2-2-2-2 0-1 2-3 0-1-2 0 2-1-1 0 0-1 2-3-2 0 2-1-3-1 0-10 2-3 0-1 1-1-3-2 2-1 0-5 0-1 4-6 1 7-2 5 1 0 0 1-1 2 1 0 1 0-2 2 0 1 0 6 1 3-2 2 0 1 1 3 1 0 1 10-2 13 2 0 0 2 4 21-1-8 1-11-1-5 0-15 0-2-2-1 3-1-1-1 1-6-1-5 0-3 1-3-3-1 2-2-1-2-1-2 2-2-1-3 2-1 0-1-1-5-2-2 5 3 2 1-3 1 1 4 2 0-1 10 0 1 0 1-1 2 1 1 1 0-2 3-1 1 1 2 2 1-3 1 1 4 1 1 0 1-2 1 2 2-2 1 2 1 1 1-1 1-2 1 0 21 0 1 0 4 1 8 1 3-2 2 1 1 3-6 0-2 2-3-1-15-1-2 2-1-1-3-1-3 1-1 2-10-1 0-2 0 0-6 3-1-3-2 2-3-2-1 1-4-1-2 0-1 2-1 0-1-1-2 1-3 0-3-2 0 0-11 5-1 1 2-2 12 1 7-1 1 1 2 0 2 0 3 1 3-2 1 0 5 0 6 0 2 0 5 3 0-1 3-2 15 3 7-2 9 2 0 1-6 2-4-2-6 3-6-2-2-1-1 1-2 2-2-3-1 3-2-2-4-1 0 1-4-1-3 0-3 1-7-1-1 2-1-2-9 0-3 0-3 2-9-1-2-1-6 4 8 3 1 0 11-3 3 1 8 2 0-1 1 1 3-2 2 1 3-1 6 1 2 1 0-3 1 0 1 2 1 0 4 0 3 0 2-2 8 2 7 0 3-1 19 2 1 1 2 0-5 3-25-1-7 0-3 1-3 0-2 0-2-2-1 0-7-1-1 2-2 0-2-1-2 0-2 2-1-3-4 1-2 2-6-2 0 0-2 1-1-1-1 1-3-2 0 1-2 5-7 0 8 1 5-2 3 0 2-1 5 2 1 0 6-1 14 2 6-2 1 0 8 1 4 3 14 2-3 0-14-2-9-1 0 3-1-2-5 0-4-1 0 1-2 0-14 0-2 2-3-1-11-2 0 3-1-2-10 1-1 2 0 3 6-1 3 0 3-2 1 0 1 1 2 1 16-2 1 0 9 3 0 0 1-3 3 1 2 2 1-2 1 2 1-1 2-2 6 2 4-1 1 1 1-1 10-1 4 0 23 7-5-3-40 0-1 0-9 2-5 0-2 1-6-3-2 1-3-1-4 2-4-2-3 2-9-1-6 6-4-1 3-2 6 0 3 2 0 1 2-2 1 1 4-2 1 2 1-1 2-1 2 1 1 2 0-3 1 2 3-2 3 0 2 2 0 1 0 0 1-3 1 0 1 0 1 2 1-2 2 1 3-1 6 1 2 0 2 2 0-1 11 0 3-2 6 2 3 2-7 1-1 1-1-1-4 2-2 0-1-2-1 0-4-1 0 2-5-2-2 2-1 1-2-1 0-2-2 0-2 2-6-2 0 3-4-2 0 2-2-2-13 0-1-1-1 1-7-1-2 6-1 1 4-1 4 1 3-1 2-1 3 0 3 2 1-3 4 2 0 0 8-1 3 1 1 0 3-1 1-1 1 2 0 1 4-3 1 1 0-1 2 3 5-3 9 3 4 0 3-2 3 6 12-2-25 0-2 1-2 0-5-2-5 0-3 3-1-1-3 0-4-2 0 3-1-2-2-1-2 3-8-3-4 1-1 1-1 0-4 1-7 0-3 1-5 3 4-2 1 1 1 1 6 0 8 0 4 0 11 0 1-3 1 1 3 0 17 1 3 0 1 4-7 0-3 1-12-2-2 1-6-1-1 2-6 0-1-3 0 1-15 0-1 2-5 1-1 3 1-3 3 3 0-2 16 1 1-2 7 1 0-1 2 0 1 0 2 2 1 0 1 0 6-1 1 2 2-3 1 3 2-1 1 0 2-1 1-1 2 3 12-1 11-1 3 4-2 0-14 2-7 0-1-1-2 0-2-2-9 1-1 2-3 0-2-3 0 2-3-2-4 0-3 1-3 2-14-2-3 1-1 3-6-1 2 1 0-1 4 3 12-3 2 1 2 2 3 0 3 0 1-1 2 1 3 0 2-3 1 2 4-1 1 1 1 1 3 0 3-2 2 2 2-1 3 0 2-2 5 3 3 0 2-1 2-1 1 1 1 1 1-2 3 2 10 2-2 1-12-1-4 1-1 1-6-3-11 2-6 0-1 0-4-2-1 3-2 0-6-2-1 2-3-3 0 2-7-1-9 6 8-3 1 2 0-2 6 0 5 3 1-3 1 1 1 0 4-1 4 2 3 0 16 1 3-1 3 1 0-1 4 5 29 0-1-2-32-1-18 3-1-2-2-1-1 3-15 0-2-2-1 0-7 1-1-2-1 0-1 3-4 0-3-3 0 1-1 0-4 0-3 3 12 3 1-2 2 2 1-2 13 1 0-2 2 2 0-2 7 2 1-2 1 1 0-1 2 3 0-1 2 1 3-2 1-1 1 1 3 1 0-2 2 1 1 2 0-3 3 1 2 0 8 1 29-2 4 7-11-2-9 1-21-1-2-1-7 3-2-2-2 1-2 1-1-3-2 2-4-1-5 2-2-3-1 1-1 1-4-2 0 0-7 2-1 1-10 2-3 1 0-1 1 1 1-1 6 1 4-1 1-1 4 3 1-2 2 1 0 1 0-3 7 2 3 1 2 0 3-2 2-1 5 0 14 0 3 0 15 3 1 2-8 0-11 1-1 0-3 0-7-1-1 1-3-1 0-1 0 2-8 0-2 1-3-3-2 2-1 1-1-1 0-1-3 1-8-1-2 0-12 3 3 2 0-1 2 2 6-3 6 1 3-1 3 2 0 0 6-2 3 3 7-3 4 3 2-2 5-1 4 2 7-1 2 0 4 1 1-2 1 6 4 0-9 0-8 1-12-2-1-1-4 0-3 3-1-1-2 0-3 0-3-2-6 0-2 3-5 0-3-1-4-2-2 0-1 3-3 2 16 1 3 0 1-1 1 2 1-2 5-1 1 1 2 2 6-3 2 1 0-1 15 2 4-1 9 2 3 3 0-1-5 2-1 0-7-3-11 3-9 0-2-3-6 0-4 1-3 1-7 2-1 1 7-1 1 2 3 1 2-3 6 3 1-2 11 2 4-1 16-1 2 0 2-1 7 7 6-3-15 2-2-2-1 1-8-1 0 3-1-3-2 3-1-1 0-2-4 3-4 0-4-2-5 0-2 1-1-2 0 1-3 2-1-1 0-2-2 3-2-2 0-1-2 3-1-1-6-1 0 0-7 3-1 0 2 2 6 0 1-2 9 2 5 0 1-1 2 1 0-2 3 1 1 0 1 2 6-2 1-1 1 0 1 2 0 0 1 1 0-3 2 2 1-1 4 0 1 2 1-3 6 0 13 7 17 0-7-3-9 0-30 3-1 0-3 0-2-2 0 1-5 0-4-1-6 0-8-1-1 2-3-2 0 0-3 2-1 5-6 0 15-3 3 1 3 2 0 0 1 0 12-1 2-2 2 2 1-1 1-1 1 0 4 3 1-3 3 1 0 1 0 1 8-3 1 3 0-3 16 7-14-3 0 3-21-1-2 1-1-3 0 0-1 0-1 3-2-1-1 0-2 0-4-2-2 3-2-2-4 1-2-1-3 2-12-2 0 3-1 3 4-3 3 1 0 1 7-2 5 0 4 0 3 1 0 0 2 1 8-1 1-1 4 2 0 1 1-2 2 2 0 0 2-2 3 2 1-1 5 0 2 3 33 0-15 0-8 1-4-2-3 1-1-1-7 3-1-3-2 0-2 2-2 0-1 0-3 1-1-1-1-2-1 3-1-2 0-1-1 3-1-3-1 1-1 1-1-1-3-1-3 3-1-3-2 2-2 1-2 0-3-2 0-1-2 2-2 0-2-2 0 2-7 1-1 2 0 0 9 2 3-2 1-1 1 0 3 2 1 1 11-3 5 2 4-1 1 2 1-3 1 2 1 0 1 1 2-3 1 3 2-2 7 2 0 0 4 1-2 3-1-1 0 0-3-1 0 2-1-1-2 1-1-3 0 2-3-2-1 1-2-1-1 3-2-1-1-1-6 2-3-1 0 0-4-1-3 1-1 1-1 0-1-2 0-1 0 2-2-1 0 2-1-3-2 2-9 3 1 2 0-3 1 3 1-3 4 2 0-2 6 1 0 0 8 2 0 0 3-2 8 0 2 0 1 1 0 1 6-2 11-1 24 7 0-3-1 1-27 1-7-1 0 2-2-1-5-2-9 2-1-1-1-1 0 1-1 0-1 1-1-1-12 2-2-2 0 0-3 2-2 0-1-2-1 4 3 0 1 2 8 0 2-2 1-1 2 3 4-3 2 1 1 0 1 1 0 1 0-3 3 1 2-1 1 2 0-1 3 1 0 1 0 0 2-2 13 2 3-3 12 3 2 1-4 1-3-1-10 3-1-1-2-1-2-1 0 3-2-1 0 1-2-3-4 1-1-1-1 2-2-1-2-1 0 2-2 0-2-2-1 0-1 2-3 0-9 0-9-1-1-1-1 6 0 1 2-1 1-1 3 0 1-1 4 0 11 1 5 1 0 0 6-2 2 1 0 1 2-2 10 3 33 3-31 0-5 0-3-2-1 2-3-1-3-1 0 3-2-3-1 3-2-2 0 2-3-1-4 0-3 0-2 1-2 0-7-1-6-1 0 6 1 0 3 0 3-1 1 1 0-2 3 0 1-1 1 3 3-2 7 1 0-2 1 1 0-1 1 2 1-2 2 3 1 0 3-2 4-1 1 1 6 1 1 1 4-2 2 0 2 6 2-1-1-1-1-1 0 2-1 1-1 0-2-2-1 0-2 1-2 0-6 1-4-2-1-1 0 3-1-3-1 2-1 0-2 1-2-3-1 2-2 0-2-1 0 1-1-1-1 0-2 0-6 1-4-1-1 3 5 2 0-2 2 3 3-1 1 1 0-3 5 0 1 1 1 2 2-2 1 1 0-2 2 1 0-1 2 1 0 1 0 1 3-3 4 1 0 0 3-1 4 1 15 2 3 4 1-1-5 0-2 0-1 0-2-1-1 1-3-1-15-1-1 2-10-2-1 2-3-1-2 0-1 1-1-1-1 0-1 0-1 2-3 0-1-3-1 4 6 1 1-1 3 0 1 1 0-1 1 1 1 0 3-1 4 1 0 2 3 0 1-2 1 1 3 1 10-2 15 1 3 3-9 2-17-3-1 2-1-2-2 3-3-2-1 2-2-2 0 0-1 1-10-2 0 1-3 2-1 3 0-2 2 2 2 0 3-2 1 1 2 0 1 2 2 0 1-2 1 1 1 1 1 0 1-3 3 2 1-2 2 0 2 3 1-3 1 2 0 0 1-1 2 2 0-3 2 2 2-2 3 1 0 1 2-1 2-1 6 4-6 2-3-1 0-1 0 3-1 0-1 0-3-3-1 3-2-1 0 1-1-3 0 2-1-1 0 0-1 1-1 1-5-2-2-1-1 3-2-3-3 7 2 0 3-1 1-2 3 3 0-3 1 0 1 0 1 3 0-2 1 1 0 0 2 0 6-1 1 2 0-2 2 0 1-1 2 1 0 2 1-2 4 1 1 1 0-2 1 5 2-2-3 0-1 0-1 2-1-2 0 2-1 1-2-3-2 3-1-2 0 1-1-2 0 1-1 1-1 0-1 0-1-1 0 2-1-1 0-2 0 2-1 1-1-1 0 0-1 1-1-3 0 2-1-1 0-1 0 2-1-1 0-1 0 3-2-3-1 3-1-1-1-1 0 0-1-1-2 1-1 1-1-1 0-1 0 5 6 0 1 0 2-1 2 0 1 1 0 1 0 1 0-2 1 1 0 1 0-1 1 0 1 1 0-2 1 1 0 0 1 1 1-3 2 1 0 2 0 0 1-1 1 1 0-3 1 3 0-3 1 0 1 1 0 2 0-1 1-1 2-1 1 2 0-1 8 4-9 2-1-1 0-2-2 2-1 0-1-1 0-1-1 1-3 0-1-1 0 2-1 1-1-2-1 2-1-2 0-1 0 3-1-1 0-1 0 3 1 1 0 1 0-1 1 1 6 1 1-1 1 0 1-2 1 2 0 1 0 0 1-3 1 7-2-1 0-1 0 1-1 1-2-1 0 1-2-1-1-1 0-1 0 2-3-1 0-1 0 5 0 1 0 1 0-3 1 1 1 2 0-3 1 2 0 1 0-3 1 2 0-2 2 1 0 1 0-2 2 1 0 1 0-1 1 3-1 3-1-1 0-1 0 2-2-3 0 1-2 2-1-3 0 3-1-1 0-2 0 4 0 1 1 1 0 1 0-2 1 1 0 1 0 0 1-2 1 1 0-1 1 2 0 4 0-2 0-1 0 1-1-1 0 3-1-3 0 3-1-1 0 0-1 3 1 1 0 1 0-3 1 1 0 1 0 1 0-3 1 2 0 1 0-2 1 1 0 4-1-1 0-1 0 3-1-3 0 3-1-1 0-1 0-1 0 4 0 0 1 1 0 1 0 1 0-3 1 1 0 1 0 1 0 2 0-1 0 3-1-1 0-1 0-1 0 4 0 1 0 1 0 1 0 4 0-1 0-1 0-1 0 4 0" fill="none" stroke="none" marker-start="url(#k0)" marker-mid="url(#k0)" marker-end="url(#k0)"/>
<marker id="k1" markerUnits="userSpaceOnUse" markerWidth="1" markerHeight="1" overflow="visible"><circle r="2" fill="#0000ff"/></marker>
<path transform="scale(.5)" d="M618 669l2 6 2-1 0-3 0-3-2 0 3-1-1-3-1 0 1-1 1-1-3 0 0-4 0-1 1-1 0-1 3 0 1 1 2 0-3 1 3 0-1 1-2 1 3 0-3 2 2 0-1 1 1 0 0 1 0 1-2 2 1 0 2 0-3 1 1 0 1 0-2 2 0 1 2 4-2 1 1 0 3-7 1-1 1-1-1 0 1-1 1-1-1 0-1 0 1-1-2 0 0-1 3-1 0-1 0-1-1-1-1 0-1 0 2-1-1 0 0-1 6-1-3 2 3 0-2 1-1 1 2 0 0 1 1 0-1 3-2 1 1 0 1 1-1 1 1 2 4-1-1-1 1-1-1-1 1-1-1-1-1-2 3-1 0-1-1 0-1 0-1 0 2-1 1-1-3 0 1-1 3 0 3 0-2 1 2 0-2 3-1 1 2 0-2 1 1 0 1 0-1 1 2 1-3 2 2 0 1 0-2 1 2 0-2 1 2 0 1 0 3-3-2 0 2-1-1 0-1 0 1-1-1 0-1 0 3-1-2-1-1 0 1-2 2-1-1 0 1-1-1 0 4-1-2 2 3 1-3 1 2 0 1 0-1 2 0 1 1 0-1 2 1 0-3 1 3 0-3 2 2 0-2 1 7 0-1-1-2 0 1-1 0-2-1 0 2-1-1 0-1 0 0-1 3-1-2 0 0-1 2-1-2-1 2-1-1 0-1-1 1-1-1 0 4 0 1 0 0 1-2 1 2 1 1 0-2 4-1 1 0 1 2 2 1 0-3 2 6-1-1 0 0-1 2-1-3-1 3-2-1 0-2 0 3-1-3-1 2-1-1 0-1-1 3-1-1 0-2-1 0-1 4 0 2 1 1 0-2 2 1 0-1 1 0 2 2 0-3 1 2 0-2 2 1 0 1 0-1 1 2 0-3 2 6 0-2 0 3-1-2 0 1-1 1-1-1 0-1 0-1 0 3-1-3-1 3-1-1-3 1-1 0-1-1 0-1 0 1-1 3 0 1 1-2 1 1 0 1 0-2 1 3 1-2 1-1 2 1 0 0 1 1 0-1 2-1 1 3 0-3 1 2 0 1 0 3 0 0-1-1 0-1 0 3-1-1 0-1 0 2-1 0-1-2-1-1-2 3-1-1-2-2 0 2-1-2 0 3-1-1 0-2 0 5 1 2 1-2 1 0 1 1 0-2 2 3 0-3 1 1 0-1 1 0 1 1 1 1 0-1 2 1 0 5 0-2 0 2-1-1 0 1-2-1 0-2 0 3-1-1-2-2 0 2-2-2-1 3-2-1-1-2 0 6 0-1 3 2 0 0 1-1 1-2 1 1 1 2 0-2 1 1 0-2 2 3 0-1 1 1 0-2 1 4 0 1-1-1 0 0-1 2-1-1 0-2 0 2-1-2 0 1-1 0-1-1 0 3-3-1 0 1-1-2 0-1 0 0-1 0-1 6 0-2 1 2 0 1 1-2 1-1 1 1 0-1 2 1 0 1 1-2 1 3 0-3 1 2 0-2 1 2 0-1 2 6 1-3-1 3-1-2 0 1-1-2 0 3-1-1 0-1 0 2-1-3-1 2-2 1-1-3 0 3-2 0-1-3 0 0-1 6 0-1 1 1 0 1 0-3 1 1 0-1 2 1 0 2 1-3 1 0 3 2 0-1 1 1 2 3 1 2-1-1 0 0-1-1-1 1-1-2 0 2-1-2 0 3-1-2 0-1 0 2-1 1-1-3 0 2-4 1-1-1 0 4 0-2 1 1 0 1 0-1 1-1 3 2 0-2 1 0 1 1 0 2 0-2 1 0 1-1 2 2 1 4 0-1 0 2-1-2 0 2-1-1-2 0-1 1-1-2 0 2-2-1-1-1 0 0-1 5-2 0 1 0 1-2 1 0 1 2 1-1 1 0 1 1 0 1 1-2 1 2 0-1 1-2 3 6-2-2 0 2-1 1-1-2 0 1-1 1-2-2 0-1 0 3-4-1 0 1-1-2-1 4 2-1 1 1 0 1 0 1 0-2 1 1 0-2 1 0 1 1 0 0 1-1 1 2 0 1 0-1 1 0 1-2 1 2 0-1 1 2 0 1-2 1-1 1-1-2 0 3-1-1 0-2 0 0-2 1-1 1-1-2 0 2-2-2 0 1-1-1 0 4 0 0 1 0 1 1 0 1 0 0 1-2 2 1 0-1 1 0 1 0 1 2 0-2 1 1 1 1 2 1 0 4 0-1 0-1 0-1 0 2-2 1-1-3 0 1-1-1 0 3-1-1 0-1 0 2-1-1 0-2 0 2-1 1-1-2 0 1-1-2-1 6-1-2 1 1 0 1 1 1 0-3 2 1 1 0 1 2 1-3 1 2 2 1 0-3 1 7 0-2 0-1 0 2-1-2-1 2-1-1-1 0-1-1 0 3-1 0-1-3-1 2-2 0-1-2-1 6 0 1 0-3 1 1 0 1 0-1 1 0 1 2 0-2 3 1 0 0 1-2 1 1 0-1 1 2 0-2 1 3 0-1 2 1 0-1 1 5 0-1 0 0-3-1 0-1 0 3-1-1 0 1-2-2 0 2-1-2 0 0-1 0-1 2-1-1-1 1-1-3-1 4 1 1 0 1 0 1 0-1 1-2 1 1 3 1 0-2 1 1 1 2 0-1 1 1 0-3 1 3 0-3 1 2 1 4 0-1-1-1 0 3-1-1 0-1-1 2-2-1 0 0-1-2 0 2-2-2 0 1-1 1-1 1-1-2 0-1-1 5 0 1 1 0 1 1 0-3 1 2 1-1 1-1 1 0 1 1 3-1 1 2 0-2 1 6-1-1 0 0-1 2-1-1-1 0-1-2 0 3-1-1-2-2 0 3-1-1 0-2 0 2-1-1 0 0-2 5 1 1 1-3 1 1 0 1 0-2 1 3 1-2 1-1 1 3 0-3 1 3 1-2 2 1 0-1 1 5 0-2 0 3-2-2 0-1 0 2-1-1 0-1 0 3-1-2-1 1-4 0-1 1-1-2 0-1 0 7-1-2 1 1 0 1 0-1 1 0 1 1 1-2 1-1 1 0 1 1 0 2 1-1 1 1 1-3 1 3 0-3 1 2 0 1 0 4 0-1 0-1 0 1-1-1 0-1-1 3-1-1 0 1-1-2 0 2-1-2 0-1 0 3-1-3 0 1-1 1-3 0-1 2-1 2 1-2 1 3 0-3 1 0 1 1 0 1 1-2 1 3 4 0 1-3 1 2 0 3 0 0-1-1 0 0-1 2-1-1 0 0-2 0-1 0-1 0-2-1-2 5-1-1 1 3 1-3 1 1 0 1 0 1 0-2 1-1 3 2 0-1 1 2 0 0 1-3 3 5-1 1-1-1 0 1-1-1 0-1 0 3-1-3 0 3-2 0-1-1 0-1 0 1-2-1 0-1 0 1-3 5 0-2 1 1 1 1 0-1 2-1 1 3 0 0 1-3 2 1 0 2 0-1 1 1 0-3 1 1 0 1 0 1 0 4 0 0-1-1-1 0-1 0-1-1 0-1 0 3-1 0-2-1 0-1-1 0-1-1 0 1-1 3 1 2 2-1 1 2 0-2 2 2 0-3 1 2 0 0 1 1 0 0 1-1 1-2 1 0 1 3 0 2 0-1 0 2-1 1-1-1 0-1 0-1 0 1-2 1-1-1 0 1-1-2-1 1-1-1 0 2-2 0-1 3 0 1 1-2 1 0 1 1 0 1 0 1 0-3 1 1 1 2 0-1 1 0 1 1 0-2 1-1 1 1 0 1 0-1 1 1 0 1 1 1 0 1-1-1 0 1-1-1 0 0-2 3-1-1 0-2 0 1-1 1-2 0-1-1 0-1 0 1-1-1 0 7-1-2 2-1 1 1 0 1 0 1 0 0 2-3 1 1 0-1 1 1 0-1 1 2 0 1 0-3 1 1 0 4 2 1-1-2 0 3-1-3 0 2-1 1-1-2 0 0-2 2-2-3-1 2-2 3 0 1 1 1 0-3 1 1 1 1 0 1 0-3 2 0 1 3 0-3 1 1 0 1 0-1 1 1 0-1 1 0 1 1 0-1 1 2 0 3 0-1 0 0-1-1-1 3-1-1 0 1-1-3 0 2-1-1 0 0-1 1-1-1-1 1-1 1-1-1-1-1 0 4-1-1 3 1 0 1 0 1 0 0 1-3 1 2 0 0 1 1 0-3 1 2 1 1 0-3 1 1 0-1 1 3 0-3 2 1 0 2 0 4 0 0-1 0-1-2 0 2-1-2 0-1 0 1-2-1 0 1-2 2-1-2-1-1 0 3-1-2-1-1 0 4 0 3 0-3 2 1 0 2 0-3 1 1 0-1 1 2 0-2 1 2 0 0 1 1 0-3 2 0 1 3 0-3 1 2 0 1 0 4 1-1 0-1 0-1 0 3-2-3-1 3-3-1 0 1-1-1 0-1 0-1 0 3-1-1 0 1-1-1 0 1-1-3 0 2-2 2 1 2 0-2 1 2 1 0 1-2 1 1 0 0 1 1 0 0 1 1 0-1 1 1 0 0 3-3 1 7 0 0-2-2 0-1 0 1-2-1 0 0-1 2-1-1 0-1 0 3-1-1 0-1 0 1-2 0-1 0-1-2 0 4-1 0 1 3 0-2 2 1 0-1 1 2 0-3 1 2 0-2 1 1 0 1 0 1 0-1 1 1 0-3 1 1 0 2 0-2 4 5 0 1-1-2 0 2-1-2 0 2-1-2 0 2-1-2 0 2-1-1 0-1-1 2-1-3 0 3-1-3 0 0-2 2-1-2 0 5 0 1 0-2 1 3 0-2 2 2 0-3 1 2 0-2 1 1 0 0 1 0 1 1 0-2 1 3 0-3 1 3 0-1 1 1 1 2 0-1 0 3-1-2 0-1 0 1-2-1 0 1-1-1-3 3-1-1 0-1 0 0-1 0-1-1 0 2-1" fill="none" stroke="none" marker-start="url(#k1)" marker-mid="url(#k1)" marker-end="url(#k1)"/>
<path d="M67.5 278.5 L108.7 279.7 L130.0 280.5 L146.7 281.4 L168.0 282.8 L220.3 286.5 L237.4 288.0 L248.3 289.1 L257.7 290.3 L265.5 291.5 L276.4 293.4 L281.0 294.5 L285.7 296.3 L287.4 298.2 L289.1 299.7 L294.3 299.4 L296.0 300.1 L297.7 301.9 L299.4 304.0 L301.1 307.3 L302.9 310.9 L304.6 313.5 L308.0 318.3 L309.7 321.1 L312.0 328.0 L314.0 329.5 L316.0 330.6" stroke="#0000ff" stroke-width="2.6" fill="none" stroke-linejoin="round"/>
</g></g>
<g>
<path d="M67.5 404.50 L443.5 404.50" stroke="#ffc0cb" stroke-width="2" fill="none"/>
<path d="M67.5 393.64 L247.5 393.04 L443.5 393.04" stroke="#ffc0cb" stroke-width="2" fill="none"/>
<path d="M67.5 393.64 L247.5 393.04 L252.0 393.04" stroke="#dd66dd" stroke-width="2" fill="none"/>
<path d="M67.5 382.79 L175.5 381.96 L247.5 381.59 L443.5 381.58" stroke="#ffc0cb" stroke-width="2" fill="none"/>
<path d="M67.5 371.93 L175.5 370.69 L247.5 370.13 L443.5 370.12" stroke="#ffc0cb" stroke-width="2" fill="none"/>
<path d="M67.5 361.07 L133.5 360.19 L175.5 359.42 L247.5 358.67 L443.5 358.66" stroke="#ffc0cb" stroke-width="2" fill="none"/>
<path d="M67.5 350.22 L133.5 349.11 L175.5 348.15 L247.5 347.22 L443.5 347.20" stroke="#ffc0cb" stroke-width="2" fill="none"/>
<clipPath id="c05"><rect x="67.5" y="345.00" width="376.00" height="68.10"/></clipPath>
<g clip-path="url(#c05)">
<rect x="184" y="365.90" width="61" height="5.40" fill="#008000"/>
<line x1="276" x2="443.5" y1="392.6" y2="392.6" stroke="#008000" stroke-width="3"/>
<path transform="scale(.5)" d="M139 703l0 7-1 3 1 17 0 1-1 4-1 4 2 3-1 52 4-25 0-3-2-12 3-12-3-3 1-1 0-8 0-1 0-22 4 8 0 3-1 5 1 5 1 18-1 2 0 2 2 1-3 1 3 1-2 6 1 6-1 2 1 0 5-2-2-1-1-17 0-11 2-8-2-3 2-1 1-3 1-14 2 0-2 15 0 3 2 1 1 2 0 7-3 2 2 7-1 3 2 1-1 2 1 1-2 1 2 2-1 4-1 13-1 1 3 43-2 2 3-5 2-3 1-42-1-3 1-1-1-3-2-20 1-15 0-3-1-1 2-1-2-16 5 16 1 3-1 7 0 3 2 0-2 3-1 11 1 3 1 3 0 3 1 0 0 10 0 2 2 3 1-5-2-3 1-5-1-3 2-2 1-2 0-1-3 0 3-12-2-5 1-8 1-1-2-1 0-2 1-4-2 0 1-6 0-4 6 7-1 3 0 20-2 1 3 2-3 1 1 2 1 3 1 3-3 1 3 1-1 1 0 9 0 24 1 2-1 1-2 10 5-24 2-1-2-22 0-8 1-4 5-29 0 26 0 9-1 2-2 2 1 5 1 10 0 4-2 3 3 4 0 20 1-4 3-2-2-18 0-2 0-1 1-2 1-4-3-1 2-1-2 0 3-2-1-2 0-3 0-2-1-4 0-3-1-2 0-4 0-20 2-2 0-4-2-1 3-2 2 4 1 10 1 21-3 1 2 2 1 3-3 2 1 3 0 23 0 10 1 0 1 3-2 1 3 14 0-3 0-15 2-10 0-13 0-5-2 0 1-2-1-2 0-2 1-1 1-3-2-6 2-4-1-10 0-9 6 6-3 1 1 0 0 3 0 7-1 3 1 1 2 7 0 71 2-2 0-40 2-8-2 0 2-4-3-2 3-30-2-7 0-3 6-6-3 20 0 2 1 3 2 4-1 15 1 1-2 4 2 2-2 5 2 2-3 1 1 0 2 3-1 10-2 28 4-20 3-4-2-2 0-13 1-3-2 0 2-2-2-1 0-1 3-2-3-10 2-12-1-3 2-3-1-1 0-4 0-1 0-13-2-2 1-2-1-7 3-7-3-2 5 4 2 3-2 6 2 2-1 7-2 2 0 4 0 1 3 3-3 1 2 4 0 1 0 2-2 3 1 29-1 40 5-37 1-8 1-8-2-3 0-2 2-2-3-4 0-6 2-1 0-5-1-3-1-9 3-16 0-2 1 22 1 10 1 1 1 0-2 8-1 2 3 19-3 5 3 7 2 10-1-3 0-14 1-2-1-18 0-4 1-1-1-11 0-3 2-7 0-1-2-3 3-9 4 0-3 7 3 3 0 1-2 2 0 21-1 5 3 36 1-15 2-2 0-4 0-6-1-15 2-4-1 0 0-8-2-1 3-8-3-6 4 9 0 10 2 2-1 1-1 5 3 1-3 9 0 10 0 4 0 13 2 2 5-5-1-3 1-6-1-15 0-3 0-5-1-2-1-2 3-1-2-1-1-1 0-1 1-4 2-1 0-5-3-6 0-4 3-1-2-14-1-3 3-2 4 9-1 9-1 24 0 4-1 1 1 0 2 1 0 3-2 3-1 2 3 8 1 12 3-22-2-2 1-31-1-3 1-1-2-4 1-2-1-1 3-2 3 7 0 2-2 6 1 13-1 3 2 10 1 11-1 4 1 21 4-1 0-5 0-15-1-4-1 0 2-4-1-5-1-3 1-7-1-7 0-9 2-6 4-7-2 2 1 10-1 2-1 6 3 3-3 3 3 0-3 1 2 2 1 7-2 10 2 3-1 17 0 1 0 1 0 2 0 4-2 22 0 3 5-13 1-16-2-21 2-1-2-3 2-10 1-1-1-3-2-5 0-12 3-6-3-12 4-5 3 1-3 5 0 3 1 3 0 7-1 36 1 2-1 1 3 1-3 2 2 20-2 2 0 3 2 10 3 1-1-16 1-8 1-6-1-3 2-2-2-8 2-2 0-1-1-3 1-3 0-22 0-3-2-2-1-14 4 9 1 7-1 11 0 3 2 2-1 2-1 5 3 8 0 4-3 1 0 2 2 0 0 2 1 12-3 3 2 1-2 1 5-9 1-2-1 0 1-3 0-3-1-10 2-1-1-8-2-6 2-5 1-6-3-2 0-5 1-5 3 8 0 1 2 1 0 1 0 4 1 8-2 5 0 6 2 12-3 4 2 12 5 20-2-1 0-8 0-3 1-3 0-4-1-8 2-3-3-2 2-5 0-21-2-11 3-1-3 0 1-7 5-8-1 1-1 4 1 2 2 5-1 2 0 1 1 2-3 6 3 4 0 19-1 10 0 3 1 2-1 7-1 6-1 25 7-52 0-4-3-9 1-2 2-1-3 0 2-5-2-6 3-3-3 0 1-3 0-13 1-5-2-3 6 5 1 1-2 28 2 2-1 1-1 8 2 10-2 2-1 19 3 0 4 5-2-16 0-4-1-3 2-2 0-10 1-2-2 0-1-4 0-2 1-2-1-2 3-5-1-19-2-1 0-6 0-2 6 4-1 27 0 9 0 1-1 2 3 5-1 1-2 9 1 0 1 1-1 3-1 2 0 4 1 10 3 1 3-10-2-5-1-23 3-3-1-8 1-13-1-3-1 0 1-2 0-8 2 5 2 8 1 19 0 4-3 9 3 0 0 3-3 10 3 1 2 11 2-2 0-6-1-11-2-6 3-1 0-4 0-7-2 0-1 0 3-1-3-1 0-2 2-7-2-1 2-13-1-4 6-2 0 1-2 22 1 1-1 2 1 1 0 3 1 1 0 2-2 5 2 0-3 3 0 4 3 0-3 4 2 5 0 4 0 16 5-12 0-3-2-2 0-2-1-11 1-9 1-1 0-2 1-1 0-4-1-6-1-11-1-2 0-4 2-2 1-2-1 0 3-2 0 3 2 12-1 15-2 5 1 2-1 2 3 0 0 1-1 3 1 2 0 1-2 3 1 2-1 10-1 4 2 1 2-10 0-3 3-2 0-1 0-10-3-3 0-11 3-3-2-6 0-13 6-4-2 9 1 3 1 13-1 13 0 4-2 4 2 2-1 7 1 17 3-8 2-2-2-1-1 0 2-3-2-1 2-5-1-3-1-2 1-3-1-12 2-1 0-3-2-1 0-3 2-13 0-1-2-3 2-6 4 2-2 2 1 7 1 21 0 3-2 10 0 2 1 0-1 8 2 4-2 20 0 4 1 9 5-11 1-3-2-3 2-11-1-2 0-11-1-13 1-2-2-2 1-1-1 0 1-6 1-3 1-8-2-4 5-4-2 10 0 4 0 1 3 0-2 8 0 1 2 2-1 1 0 1-1 1-1 2 3 0-1 8 1 0-3 2 1 0 1 1 0 15 0 7 4-10-1 0 0-3 0-22 0-14 2-2 0-3-2-1-1-10 5 0 0 10 2 11-2 1 2 20-1 11 5 38 0-16-2-9-1 0 1-3 0-7 2-3-1-12-1 0 2-6-2-9 1-3 1-1 0-1-1-1-1 0 1-1 0-2 2-8 1 0 1 0 1 0-3 1 2 0 1 0-3 1 1 0 1 0-1 8 0 1 1 0 1 0-3 1 3 0 4 0-2 0-1 0 2-1-1 0-1 0 3-1 0-7-3 0 3-1-1 0-1 0-1 0 3-1-2 0 2-1-2 0 3 0 1 0 1 0 1 0-3 1 1 0 2 0-3 1 2 0 1 0-2 1 1 0 1 0-2 7 1 0-2 1 1 0 2 0-3 1 2 0 1 0 4 0-1 0-1 0-1 0 2-1-1 0 2-1-2 0 0-7 2-1-1 0-1 0 2-1-1 0-2 0 3-1-1 0-1 0-1 0 4 0 1 0 1 0 1 0-3 1 1 0 1 0 1 0-3 1 1 0 2 0-3 1 2 0 1 0-2 7 2 0-3 1 2 0 1 0-1 1 1 0 4 0-2 0 1-1-2 0 3-1-2 0 0-7 2-1-2 0 1-1-2 0 2-1-1 0-1 0 4 0 3 0-3 1 1 0 1 0 1 0-3 1 1 0 1 0-2 1 1 0 2 0 0 7-3 1 1 0 1 0 1 0-3 1 1 0 1 0 1 0 3 0-1 0 2-1-1 0-1 0-1 0 3-1-1 0-1 0 2-7 0-1-1 0-1 0-1 0 3-1-1 0-1 0-1 0 3-1-1 0-2 0 4 0 1 0 1 0 1 0-1 1-2 1 1 0 1 0 1 0 0 1-3 7 1 0 2 0-3 1 1 0 1 0 1 0-3 1 2 0 5 0-1 0-1 0-1 0 3-1-1 0-1 0 2-8-1 0-1 0 2-1-2 0-1 0 3-1-1 0-1 0-1 0 3-1-2 0-1 0 4 0 1 0 1 0-2 1 1 0 1 0-2 1 1 0 1 0 1 0 0 1-1 7-2 1 1 0 2 0-3 1 1 0 1 0 2 0 3-1-1 0-2 0 3-1-1 0-1 0 2-7-1 0 1-1-1 0-1 0-1 0 3-1-2 0-1 0 3-1-2 0-1 0 4 0 1 0 1 0 1 0-3 1 1 0-1 1 3 0-1 8-2 1 2 0 1 0-3 1 1 0 2 0 4 0-1 0 1-1-1 0 1-1-2 0 0-7 2-1-2 0-1 0 2-1-1 0 2-1-1 0-1 0-1 0 5 0-1 1 1 0 2 0-2 1 1 0 0 1 1 0-1 7 1 0-3 1 1 0 2 0-3 1 1 0 1 0 3 0-1 0 1-1-1 0 3-1-1 0 0-7-1 0 2-1-1 0-1 0 2-1-1 0-1-1 3 0 1 0 1 0 1 0-3 1 1 0 2 0-3 1 1 0 1 0 1 0-2 1 1 0-2 7 1 0 1 0 1 0-3 1 3 0-3 1 2 0 1 0 3 0-1 0 2-1-1 0-1 0-1 0 3-1-2-7 2-1-2 0-1 0 3-1-1 0-1 0-1 0 0-1 4 0 1 0 2 0-3 1 1 0 1 0 1 0-3 1 1 0 1 0-1 1 2 0-3 8 1 0 1 0 1 0-3 1 1 0 1 0 1 0 3 0-2 0 2-1 0-1-1 0-1 0 3-7-2 0 2-1-1 0-1 0-1 0 3-1-2 0 2-1-1 0-1 0-1 0 4 0 1 0 1 0 1 0-3 1 2 0 1 0-3 1 1 0 1 0 1 0-1 1 1 0-3 7 1 0 1 0 1 0-3 1 3 0-3 1 1 0 1 0 4 0-1 0-1 0 3-1-1 0-1 0-1 0 1-1-1 0 2-7-1-1 1-1-1 0-1 0 2-1-1 0 5 0-2 1 1 0 1 0 1 0-3 1 1 0 1 0 1 0-3 1 1 0-1 7 1 0 2 0-3 1 1 0 2 0-2 1 1 0 1 0 3 0-2 0 2-1-2 0 3-1-1 0-1 0-1 0 3-8-1 0-1 0-1 0 2-1-1 0-1 0 2-1-2 0 4 0 1 0 1 0 1 0-3 1 1 0 1 0-2 1 1 0 1 0-1 1 1 0 1 0-1 7 1 0-3 1 2 0 1 0-3 1 1 0 2 0 1 0 3-1-3 0 3-1-1 0-2 0 3-7-3 0 3-1-2 0-1 0 3-1-1 0-1 0-1 0 2-1-1 0-1 0 5 0 1 0 1 0-3 1 1 0 1 0-2 1 1 0 1 0 1 0-2 1 2 0-2 7 2 0-3 1 1 0 2 0-3 1 2 0 1 0 4 0-1 0-2 0 3-1-2 0-1 0 3-8-1 0-1 0 2-1-2 0-1 0 3-1-2 0-1 0 2-1-1 0 3 0 1 0 2 0-3 1 1 0 1 0 1 0-3 1 1 0 1 0 0 1-1 7 1 0-2 1 2 1 5 0-1 0-2 0 3-1-1 0-1 0 1-8-1-1-1 0 3-1-1 0-1 0-1 0 2-1-1 0-1 0 5 1-1 1 2 0-2 1 1 8 1 0-1 1 2 15-1 4 1 0-1 3-2 3 3 1-3 12 0 1 1 5 1 2-1 3 5 32-1-12 0-6-1-1 0-1 2-4-1-1 1-8-1-5 0-1-1-2 0-1 1-1-1 0 2-2-2 0 2-4-1 0 2-1-1 0 1-2 0-1 0-5-1-1-1-2-1 0 0-1 0-2 3-1-3 0 3-3-3-14 7 9-2 6 2 1-2 5-1 1 0 1 3 0-1 1-2 2 2 3 0 1 0 2-2 1 0 2 1 2 2 0-1 1-2 2 3 0-3 1 2 1-1 1 2 2-2 2 0 4 0 2 4 5-1-3 2-5 0-3 0-2 0-1-1 0-1-2 2-4-2-2 0-4 3-1-3 0 3-2-3-2 3-4-1-2-1-1-1-5 3-1-2-1 2-6 0-1 2 18-1 2 1 0-1 1 1 1-1 1 1 1 2 0-3 2 1 0-1 1 1 3 1 0-2 1 2 0 1 0 0 2-3 2 3 0-2 1 1 0 0 2 1 0-2 2 1 0 0 1 1 0-3 2 1 0 2 3 0 1-2 1 1 0-1 1 6 4-2-2 1-4 1-2-1 0-1 0 2-5-3-1 2-1-1 0 2-1-2 0-1-1 1-1 2-3-1 0 1-1-1-1-1 0 2-1-1-1-2 0 3-1-2-2 0-2 2-2 0-2 0-1 0-1-1 0 1-3-2 0 1-7-1 0 5-10 1 15-3 5 3 0-3 2 1 1 1 0 1 0-3 3 3 0-3 1 1 0 1 0-2 3 0 1 1 0 1 0-2 2 1 0-1 1 2 0-2 1 3 1-2 1 2 0 0 2-3 1 2 3-1 2 2 1-3 1 1 1 1 0 1 0-1 1 1 0-3 4 0 2 7-7-2 0-1 0 3-1-2 0-1 0 3-1-1 0-1 0 0-2-1 0 1-1 2-1-1 0-1-1-1 0 3-1-1 0 1-1 0-1-3 0 2-1-1 0-1 0 3-1-3 0 3-2-3 0 2-1-2-1 3-1-1 0-1 0 0-1-1 0 3-1-1-4 1-1-2-2 1-3 1-2 0-1-2 0 0-1-1 0 4 2 2 2-1 2 1 0 0 3 1 1-3 2 3 0-3 2 2 0-2 3 1 1 1 0 1 0 0 1-1 1-2 1 2 0 0 1-1 1 0 2 1 0 1 0-2 1-1 1 1 0 1 0-2 1 1 1 2 1-3 1 1 0 2 1 1-1 2-2 1-1-2 0 2-1-1 0-1 0 2-2-2-1-1 0 3-1-1 0 1-1-2 0 2-1-1 0-2 0 2-1-2 0 1-1-1 0 0-23 5 24 0 1 1 0 1 0-3 3 1 0 1 0 1 0-3 1 1 0 2 0 0 1-1 2 1 0-3 1 0 1 1 0 2 0 4-1-2 0 2-1-3 0 3-1-1-2-1 0 1-1-1 0 0-1-1 0 3-1-1 0-2-1 4 1 0 1 1 0 2 0-2 1-1 1 3 0-2 1 2 0-2 1 2 0-3 1 1 0 4 0-1 0 1-1-1 0 3-1-1 0-2 0 3-1-2 0 2-1-1 0-2 0 3-1-1 0-1 0-1 0 4 1 1 0 2 0-3 1 1 0 2 0-2 1 2 0-3 1 7-1-1 0-1 0-1 0 3-1-1 0-1 0 1-1-1 0-1 0 4 1 1 0 1 0 1 0-2 1 6-1-1 0-1 0-1 0 4 0" fill="none" stroke="none" marker-start="url(#k0)" marker-mid="url(#k0)" marker-end="url(#k0)"/>
<path d="M67.5 346.5 L114.6 347.9 L138.9 348.9 L149.5 349.7 L178.5 352.2 L202.7 353.7 L210.4 354.5 L216.6 355.4 L224.4 356.9 L228.9 358.0 L233.4 359.4 L236.6 360.8 L238.3 361.8 L241.7 364.3 L243.4 366.1 L248.6 372.2 L250.3 373.7 L252.2 374.5 L254.0 375.0 L257.1 375.4 L260.6 379.7 L262.3 379.9 L265.7 380.1 L277.9 380.4 L306.8 380.7 L443.5 381.6" stroke="#0000ff" stroke-width="2.6" fill="none" stroke-linejoin="round"/>
</g></g>
<g>
<path d="M67.5 472.60 L443.5 472.60" stroke="#ffc0cb" stroke-width="2" fill="none"/>
<path d="M67.5 461.76 L199.5 461.29 L443.5 461.14" stroke="#ffc0cb" stroke-width="2" fill="none"/>
<path d="M67.5 461.76 L199.5 461.29 L443.5 461.14" stroke="#dd66dd" stroke-width="2" fill="none"/>
<path d="M67.5 450.91 L199.5 449.99 L307.5 449.68 L443.5 449.68" stroke="#ffc0cb" stroke-width="2" fill="none"/>
<path d="M67.5 440.07 L133.5 439.23 L199.5 438.68 L307.5 438.22 L443.5 438.22" stroke="#ffc0cb" stroke-width="2" fill="none"/>
<path d="M67.5 429.22 L133.5 428.11 L199.5 427.38 L307.5 426.76 L443.5 426.76" stroke="#ffc0cb" stroke-width="2" fill="none"/>
<path d="M67.5 418.38 L133.5 416.99 L199.5 416.07 L307.5 415.31 L443.5 415.30" stroke="#ffc0cb" stroke-width="2" fill="none"/>
<clipPath id="c06"><rect x="67.5" y="413.10" width="376.00" height="68.10"/></clipPath>
<g clip-path="url(#c06)">
<line x1="330" x2="443.5" y1="461.2" y2="461.2" stroke="#008000" stroke-width="3"/>
<path transform="scale(.5)" d="M138 858l1 4-2 3 2 10-2 6 0 4 1 3-1 17 2 6-3 1 3 2-2 3 0 3 0 1 5 13 1-8-3-4 1-2 1-4 0-4 1-3-1-1-2-1 0-11 3-1 0-1-3 0 3-9-2 0 2-1-3-2 2-1 1-14 0-6-2 0 2-3-1-3 0-9 0-2 2-5 2 2-1 8 2 1-2 8 2 1-3 2 3 1 0 6-1 1-2 2 3 4 0 4-3 3 0 4 3 0-3 2 0 3 1 2 2 2-1 7 1 5 0 9-1 3 1 3-1 1 1 2 0 10-1 1-2 3 3 1-1 1 3-1 2-2-3-1 1-4 0-5 1-3-2 0 3-11-1 0 1-7-3-7 0-1 3-6 0-1-3-7 2-1-1 0 0-3 2-2-3 0 3-2-1 0 1-1-1 0 1-2-2-4 2-1-2 0-1-2 2-1-2 0 2-1 0-10 3 8 0 2-1 4 1 7 2 0-1 3-1 1-1 5 2 0 0 2-2 8 0 3 2 0 1 0 0 1-3 1 1 1 2 1 0 4-3 4 3 1-3 4 3 2 0 34 2-26 0-17 0-1 2-4-1-1-1 0 0-4-1-1 3-2-1-1-2-3 0-24 2-1 0-2 0-1 1-1 2-9 1 6 0 4 1 6-1 3 1 7-2 2 2 2-3 8 2 4-1 3-1 1 1 1 1 13-1 15 5 21 0-30 1-1-2-4 2-12-2 0 0-4-1-1 0-1 1-2 0-1 1-7-1-1 1-2-2-1 2-2-1 0 1-9-1-2 1-5-2-1 1-3 2-2-1-4 1-12 2 14-1 12 3 8-1 2 1 10-1 5-2 1 1 6-1 14 3 1-3 1 0 5 3 11-3 20 6-33-1-3-1-2 0-1 3-1-1-5-1-3 1-1-2-2 0-5 2-6-2 0 3-1-1 0-2 0 2-3 1-4-3-2 3-1-3-1 0-1 1-2 1-2-1-6-1-2 1-6 1-7 3 0 1 7-2 1 2 23 1 1-2 2 1 2 0 2-1 1 1 3 0 7 1 6-2 3 0 4 1 0-2 11 7 28 0-29-1-22 1-3 0-2-2-3-1-21 0-20 1-5 3-2 1 8 2 2-1 10 0 4 1 0-3 1 3 2 0 7 0 3-1 1-2 9 3 1-3 2 1 0-1 1 1 4 1 1-2 2 3 1-1 17 0 19 2-3 1-3-1-16 2-15 0-1 0-1-2-3 0-4 1-1 2-2-3-1 3-2-1 0 1-1-2-5-1-1 0-1 2-5 0-6-1-2 2-3 0-3-1-1-1-1 3-7 2 1 1 5-3 4 3 0-2 9-1 1 3 2-3 1 3 6-2 7 2 2-2 2 1 3 1 0-1 1-1 4 4 23 2-2-1 0-2-8 0-11 0-1 0-4 2-2-2-2 1-1 2-5-2 0 1-10-2 0 2-4-2-2 3-3 0-11-2-4 0-5 2-5 0-1-3 0 6-2-2 1 3 6-3 3 3 0-1 1 0 12 0 4 1 0-3 12 2 0 1 1 0 2-1 6-1 5 1 7-1 6 0 12-1 3 2 25-2 7 4-16 0-4 2-2 1-3 0-6-2-3 1-9 1-2-3-10 3-4-3-2 2-1 0-1-1-2 1-3-2-3 1-1 0-2 1-1 1-3-3-2 3-1-1-1-1-8 1-3-1-9 2-5-1-4 2 7 1 11 1 3-1 3-1 10 3 0 0 2-1 1 1 1-2 2-1 2 3 0-1 2-2 2 2 6-2 4 2 8-1 8 0 42 6-18 0-2 0-3-3-3 2-3-2 0 1-3-1-4 1-6 2-1-1-1-1-12 2-2 0-7-3-2 2-1 1-14-1-2 1-2-2-8-1 0 0-12 0-1 5-10-1 2 1 2 1 5 0 1-2 2 1 20 2 4-2 1 2 2-1 2-2 1 3 1 0 3-1 1-2 1 0 1 2 1-2 3 3 1-1 1 1 2-1 8-2 3 1 5 2 0-3 1 0 1 3 0-2 3-1 2 1 8 2 4-2 3-1 1 1 4 3-13 2-5-1-9-1-3 2-3 1-5-1-3 1-3-1-2 1-3-1-1-2-1 2-1 1-1-1-6 1-2-1-3 1-1-3-2 2-10 0-7 1-13 3-1 1 7-1 6-2 9 0 1 3 0-2 4 2 4-3 7 1 3 0 5-1 4 2 0-1 5 1 2-1 6-1 2 1 0-1 1 0 2 1 0-1 1 1 2 2 0-1 3-2 1 0 3 1 1 1 21 1 1 1-33 2-3 0-4-2-4 3-1-2-2-1 0 3-2-1-2-1-3 2-2-1 0-2-2 2-9 0-2 1-3-1 0-2-12 3-1-1-8 3-7 0 3-1 7 0 9 1 3 2 0-3 5 0 3 2 0-1 3 2 2-3 2 1 2 2 0-3 6 2 0 0 3-2 6 0 1 0 3 1 6 0 12 0 3 2 0-3 3 2 2 5-3-2-1 2-16-3-1 1-4 1-10-1-3 1-3 0-1 1-3-3-5 1-3 1-1-1-2 1-8-2-2 1-2-1-1 0-8 1-4 3 1 1 6 2 0-2 3 0 5 1 7-1 2-1 4 3 5 0 2 0 1-2 3 0 2 0 5 2 1-1 1 0 2 1 0 0 1-1 4 1 1-3 1 0 1 3 6 0 8-3 6 1 11-1 4 2 0 1 2 0 3 4-17-1-8-1-8-1-3 3-1-2-1 2-3-2-5 2-8-1-2-1-1 1-3 1-1 0-2 0-1-3-1 2-2-2-5 1-8 0-7 2-1-2-3 2-2 2-7 2 7 0 3-3 4 2 9-2 1 2 0-1 9 2 1 0 3-1 2 1 13 0 1-3 7 1 1 1 11 1 5-2 1-1 2 0 5 0 5 6-3-2-13 3-2-2-10-1 0 2-2-2 0 2-2-1-1 0-4 0-3 1-12 1-2-1 0-1 0 1-1-1-1-1-9 0-8 1-17-1-2 6 4-2 9 3 6-1 2-2 3 3 1-3 3 2 5 1 0-2 2-1 1 1 0 0 2 2 2-3 1 1 1 2 6-3 6 3 0 0 4 0 1-1 1-1 1-1 1 3 10-2 1 0 1-1 2 1 1 2 21 0 2 3-3 1-15-2-16 2-3-3 0 3-3-2-9 2-4-3-2 2-1-1-3-1-1 3-2 0-2 0-1 0-3-3 0 1-2 1-4-1-3 2-1-3 0 2-1-1-2 1-1 1-9-3-2 4 1 2 1-2 8 1 0 1 11 1 1-3 1 2 0-2 3 1 2-1 16 3 2-2 2 2 0-1 3 0 1 0 1 1 2-2 2 1 0-1 1 1 5 5 17-2-16 2-6-2 0-1-1 1-1 2-1 0-5-3-1 2-5 1-8-2-2 1-1 0-12-1 0-1-3 3-2-3-1 1-4-1 0 0-1 3-2-3 0 1-2-1-7 5 10 2 2-2 1-1 1 3 1-1 4-1 4-1 2 1 3 1 5-2 1 1 1 2 0-3 5 0 1 2 3 0 1-2 1 2 0 0 1 0 2 0 4 1 0-2 1 1 1-2 3 1 2 0 3 1 2 0 4 0 3 1 1-3 4 0 10 3 11 1 3 0-9 1-8 0-8 2-3 0-2 0-3-1 0-2-4 2-1 1-6-2-2 1-2 1-5-2-2-1-1 1-1-1-1 0-6 0-3 0-3 3-3-3 0 2-3-1 0 0-2-1-1 1-1-1-1 2-2-2 0 2-1 1-1-2-7-1-3 1-3-1-1 1-2 5-3-1 4 2 11 0 1-1 9 0 2-2 1 2 0 1 0-3 1 3 3-2 4 1 12-1 8-1 7 1 0-1 1 3 0-3 4 1 1 0 1-1 11 1 2 6 19-2-1 2-16-2 0 2-3 0-4-2-1 2-2 0-1 0-4-1-9 1-3-1 0-1-1 1-3-1-7 2-2-3 0 0-1 3-1-1-6-1 0 0-1-1 0 3-1-1 0-2-5 0-5 3-11 0-3-1 0-1-5 0-6 3 0 2 5-2 3 0 1 2 10 0 6 1 0-3 2 2 0-2 3 1 10 1 2-1 2 0 2 1 7-1 1 1 7 0 1-2 3 2 3-2 3 2 0-2 1 0 6 2 2 1 13 0 10 3 1-1-5 1-26-1-1 0-5-1-5 1-3 2-4-1 0-2-2 2-2 0-4-2 0 0-8 2-6-1-3-1-1 2-2-2-1 2-6 0-15-1-2 5 7 1 20-2 1 1 1 1 5-3 2 0 9 2 0 0 1-2 2 1 0 1 1-1 3 2 0-1 3-1 5 2 13-1 19 4-21 1-3-2-2 0-2 2-3-2-1 0-3 1-9 1-1-2-3 1-2-2-2 1-6 0-4 0-2 2-2-3-1 2-2-1 0 1-3-1-11 1-10 4 9-1 2 2 0 0 8-3 2 1 0-1 3 0 9 2 5-2 5 2 3-2 3 3 3 0 3-3 3 3 1-3 4 0 10 1 2 2 2 4 20-1-16 1-2-2-14-1-2 2-2-2-3 0-4 0-2 3-4-3-8 0-4 3-2-2-2 1-2-1-1 2-5-1-2 0-1-1 0 0-1 1-3-2 0 1-4-1-2 4-8 3 13-1 1 1 3-2 2 0 1 1 2-2 2 3 0-1 3 1 6 0 6-2 5-1 2 1 1-1 11 0 3 1 7-1 1 1 1 1 2-1 1 2 1-1 19-2 10 5-11-1-14 0-6 3-1-3 0 1-1-1-11 2-1 1-1-1-1 1-1-1 0 0-5-2 0 3-3-1-2-2-2 1-6 1-4 1-3-2 0-1 0 1-1 0-1 0-3 1-8-2-1 2-5-2 0 6-12 0 11-2 1 1 0 2 2-1 14-2 3 2 3-1 4 1 5 1 0 0 1-1 2-2 2 3 2-2 5-1 1 1 4 2 3 0 4-1 3-1 3 2 4-3 14 6-10 1-34-2 0 0-5 2-1 0-1-3-5 1-1-1-2 1-13 2-6-2 0 0-2 2-1-2-2 5-1 1 11-2 1-1 9 2 6-1 2-1 3 1 0 2 3 0 1-3 2 3 4-3 1 3 19-2 13-1 3 3 2 2 0-1-8 3-8-3 0 2-1 1-7-2-5 1-1 1-1-2-9 0-2 2-2-1-1-2-11 1-2 2-2-1-8-2-4 0-2 2-2-2 0 0-3 6 6-2 2 3 8-1 1-2 2 2 1 0 2-2 2 3 0-3 1 0 1 0 3 1 0 0 1 1 3 1 2 0 4 0 3-2 2 0 1-1 4 1 1-1 5 2 1-1 8-1 2 0 6 2 2-2 4 0 17 1 2 1 4 4-20 1-3-1 0-1-2 0-1 1-1 0-10 0-12 0-10-2-1 1-1-1-4 2-2-1-3-1-5 2-3-2 0 2-1-1 0-1-3 3-14-1-5 3-3 2 5-2 1-1 2 0 4 0 1 0 10 0 1 2 1-1 2 1 1 1 3-3 5 3 5 0 1 0 10-1 3 1 1-3 2 1 10 1 6-2 3 2 0 4 19-2-22 0-2 2-2-2 0 0-17 2-2 1-2-2-2-1-3 3-2-2-1 2-2-2-3 0-12 2-4-3-7 1-2-1-2 2-3-1 0-1-7 3-1-1 0-2 0 5 10 2 0 0 2-3 2 1 3 0 13 2 7-3 1 3 0 0 2-1 3 1 2 0 3-1 4-2 3 2 0 1 0-1 4-2 1 2 1 1 2-3 5 1 3 0 2 2 0 0 3-2 1-1 2 6-5-2 0 0-3 1-1-1-4 3-9-1-3 1-1-1-3 1-3 0-2-2 0 2-2-2-1-1-1 2-3 0-3 1-12-3-6 0-3 1-3-1-3 2-6 3-7 0 9 0 26-1 5 1 1 1 0-1 4-1 2 0 7 1 0-1 6 1 5 2 4-2 1 0 1 3 24 2-25 1-1-3-1 0-2 0-1 1-3 2-2-2-6-1-4 2-2-1-1 0-1 2-2-2-1 2-3-2-5 1-8-2-8 3-1 0-3-3-1 0-3 4-5 3 3-2 12-1 1 0 8 3 3-1 3-1 5 0 2 0 7 0 1 1 0 0 6 0 13-1 1 2 3-1 3 3 17 1-2 0-5-1-10 1-1-2-3 3-13-1-3 0-1-1-4 2-4-3 0 2-1 1-3-2-12 1-1 0-2-1-3 1-2 0-2-1-7-1 0 1-1 0-2 2-3 4-3 0 9-3 1 0 2 3 6-1 5-2 9 1 1 0 1 2 5 0 1-3 1 2 8-1 1 2 13-2 2-1 19 1 1 3-2 1-10-1-7 3-14-3-4 3-1-1 0 1-3-3-1 1-35 1-2-1-3-1 0 0-4 5 15 0 1 2 1-2 3-1 7 0 2 2 6 1 1-2 1 2 2-1 2-2 1 2 2-2 1 2 5-2 1 2 0 1 1-3 2 2 0-1 2 0 1 1 3-2 7 0 7 2 1 5 15-1-3 1-15 0-9-3-2 0-2 2-4-2 0 2-2-1-7-1-1 0-4 0-7 0-1 3-1-3-7 2-1-2-4 0-2 3-2 2-19 0 4 2 11-3 1 2 2-1 15-1 3 1 0 2 0-2 4-1 5 2 1 1 2-3 1 1 0 1 2-2 1 1 3 1 3-2 2 0 3 3 0 0 1-3 3 3 0 0 7-1 14-2 8 0 4 5-36 2-2-1-2 1-1-1-3 0-1 0-10 0-8 1-2-1-1 1-1-3 0 1-3 2-2 0-2-3-4 2-17 0-3 5 13-2 9 0 6 1 1-1 5 1 1-2 1 0 3 3 1-2 4 0 3 0 9 0 2-1 10 3 7-1 7 1 0 3-2 1-5-1-2-2-8 1-4 0-2-1-3 0-1 2-7-2-3 0-6 1-1 0-1 0-3 0-3 1-1-1-3 2-2-3-5 2-1-2-5 3-1-1-3-2 0 4-1 1 5 1 1-1 3 0 8-1 3 3 4 0 4 0 6 0 1-3 3 3 7-3 1 2 6-2 3 3 1-3 2 3 3-2 1 1 4-1 12 6 21-2-3 2-4-2-29 2-3-2 0 1-3-1-3-1-1 0-3 0-7 1-10 2-1-2-1-1-2 2-1 0-2-2-28 5 10 0 3 0 2 2 4-3 2 2 1-2 4 1 6 1 12-2 13 1 0 1 4 0 11 2 21 1-4 2-3 0-8-1-14-1-5-1 0 1-5 0-3-1 0 1-4-1 0 3-4-1-10 1-1 0-3-2 0 2-1 0-3-3-2 2-2-2 0 2-1-1-12 2-4-3 0 1-4 3 7 3 11-3 5 1 0 1 1 1 1-2 1 1 0-2 1 1 0 2 8-3 1 3 0-2 2 2 2-1 1 0 1-2 2 0 6 3 4-3 3 2 2-2 3 2 10 2 2 0-13 1-4 1-10-2-4 1-3-1-1 2-1-2-7 3-1 0-1-3 0 2-1 0-2-1 0-1 0 3-2-2-1 2-3-2-2 2-11 4-11-2 19 1 1-2 1 1 2-1 5 1 2 1 2 1 0-1 2 1 0-2 2 1 15-2 2 0 11 0 2 1 3 6-8-1-13 1-7-1-4-2-12 0-2 0-3 2-4 0-8-1-2-1 0 1-5 5-1 1 3 0 1-1 2 1 2-3 1 2 2-2 2 3 10-2 3 1 1-2 2 1 1 0 3-1 1 3 2-2 2 1 0 0 10 1 1-1 3-1 4-1 3 7 30-3-1 3-8-2-2 2-3-1-10 1-4-3-10 2-2-2-10 3-4-2-2-1-2 0-11 0-1 2-16 4 7 1 10-3 4 0 1 0 8 1 0 1 1 0 5-2 3 2 2-1 2 2 2-1 3 1 0-2 2 0 4 2 0-1 3-2 9 1 3 5 2-1-5-1 0 1-3 1-11 1-5 0-6-2 0 2-2-1 0-1 0 0-3 0-5 0-1 2-1-3-3 1-6 1-3-1-4 0-3 0-3 2-4 4-3-1 3 0 1-2 8 3 7-2 1 2 2-1 1-2 3 3 1-2 3 0 1-1 1 0 2 2 1 0 5-1 2-1 11 3 0-1 2 1 3-3 7 1 4-1 9 2 3-1 1 0 2 6 12-1-42-2-5 3-5-1-2-2-2 1-3 1-2-1-4 0-9-1-1 0-1 2-1 0-3-2-1 1-9 5 4 0 3 0 3-1 2 1 5 0 3 1 0 0 2 0 6-1 5 0 4 0 1-1 3-1 7 1 0 0 1 0 1 0 10 1 11 4 11 1-12-1-8-2-1 2-15 1-17 0-4-1-4 1-1-2-1-1-1 0-6 3-18 3 1-1 3 1 4-1 2 2 2-1 11 1 7-3 9 2 2-2 1 3 6 0 1-2 3 1 8-2 12 1 27-1 2 4-3 3-29-2-1-1-8 0-5 2-1-1-7 1-1-1-6 0-2 0-9 1-7-2-1 3-2-2-5-1-9 5-1 2 2 0 15 0 7-2 1-1 1 1 0 0 1 0 1 0 2-1 4 2 3 1 0-3 1 3 0-2 1 0 1 1 0-2 3 0 12 1 0 0 6 6 36-2-34 2-1-1-7-2-2 0-1 0-2 1-3 1-17 0-1-2-1 1-7 2-10-2-1 1-7-1-1 3 2 3 1-3 1 1 0 1 2 0 1 1 7-2 8-1 4 0 3 3 4 0 1-3 1 2 4-1 2 2 2-3 2 1 0 1 1 0 3-2 2 1 0 1 1 0 1-2 9 2 0 0 2 0 1-2 5 2 25 2-24 3-1-2-3 1-8 1-10-3 0 2-7-2 0 1-4 2-3-1 0-2-11 2-3-2-1 2-7 0-1 1-2-3-8 3-1-3-1 0-4 2-3 4 18 0 4-1 4 0 5 2 1 0 1-2 2 1 3-2 6 3 1 0 1-3 4 2 8 1 0 4 7 0-1-3-2 3-2-1-1-2-1 3-6-3-5 3-5 0-5-3-1 0-1 3-1-1 0 1-2-3-4 2-1-1 0 2-3-2-3 2-17 0-2 1 17 2 0 0 4-1 2 1 3-1 2 1 1 1 1-1 1-1 1 0 4-1 1 2 0 0 1-1 11-1 1 3 1-3 5 2 3 1 5-2 1 2 2-3 1 3 0-2 11 0 3 3 3 2-6 0-6-1-2 0-9 0-11 1-2-2-11 2-3-1 0 0-3-1-5 2-4-2 0 0-4 0-6 7-6-2 13 2 2-1 1 0 1 1 0-1 6 1 3-3 1 1 1-1 3 3 0 0 6-2 6 0 1 2 3 0 17-2 4 6 3-2-5 2-2-3-4 3-3 0-4-3 0 2-1-2 0 3-1-2 0 1-1 1-1-3-1 3-11-3-2 1-5 1-1 0-1-2 0 3-2-1-3 1-1-3-1 1-1 2-1-3-5 3-2-2-1 0-9-1-2 4 0 2 3-2 1 2 6 1 0-3 1 0 3 1 0 0 1 2 3-1 1-1 2 0 1 1 4 1 8-3 1 3 5 0 14-1 3 1 11 0 1 1 14 0-21 1-4 1-4 1-9-3-2 1-2 2-9-3 0 0-3 2-3 1-4-1 0-1 0 0-1 2-1-2 0 2-2-3 0 2-1-2 0 3-2-3-2 0-1 0-7 6-9 0 23-1 2 2 0-2 1 1 1 1 1-3 3 1 1 2 0-3 3 3 1-1 3 1 4-1 6-1 8 2 5-1 3 0 2 0 1-1 1 1 17 3 0-1-12 3-2 0-9 0-9-2-1 1-2-2 0 1-2 2-1-2-3 1-6 1-1 0-3-2 0 0-1 1-3-2-1 2-1-1 0-1-1 1-1 2-1-1 0-2 0 2-1 0-3-2-1 3-2 0-5 0-6-1-3-2-2 3-1-2-3 3 4 0 4 0 2 2 5-1 3 1 0-2 1 3 0-3 3 2 0 1 0-2 2 2 0-2 4 2 1-1 1 1 7 0 2-3 2 1 0 0 3-1 2 0 1 1 10-1 2 0 1 0 1 0 1 1 0 2 3-3 1 2 2-2 1 2 0-2 2 2 0-1 4-1 10 3 0-2 3 0 4 5-12 0-12-2-2 3-5-2 0 0-3 0-8 2-1-3 0 3-4-2-2-1-8 2-2 0-1 0-3 0-6-2 0 3-17-3-2 7-3 0 4-1 6-1 19 0 1 2 11-2 3 2 5-2 1 0 3 2 2-2 7 2 27 2-4 2-21-1 0-2-3 0-3 3-3 0-3-2 0-1-7 2-2-2 0 3-1-1-2 1-4-1-2 1-4-3-1 3-3-3 0 3-4-1 0-2 0 2-5-1 0 0-3 0-1 0-2 2-1-2-5-1-1 3-1-2 0 5 0 1 5-3 1 1 3 2 9-2 1 0 4 2 0-3 2 1 1 1 0-1 3-1 2 1 2 2 2-1 1 1 1-3 1 1 1 1 0-1 2 0 3 1 4-2 4 1 3 3 38 1-2 0-2 1-24-2-1 0-8 3-5-3-1 2-1-2-2 3-1-1 0 1-1-3-4 1-1-1-1 2-1-1 0 2-4-1-1-2-1 1-3 2-1-1-2 0-4 1-2-1-1-1-1 1-3-2-15 5 9 0 5 2 2-3 1 2 3 0 1 1 1 0 1-2 1 0 1-1 4 0 1 1 5 0 2-1 2 2 3 1 1-2 2 0 3 1 3-1 7 2 1-2 2 1 3 0 10-1 4-1 1 3 7 3-26-1-11 0-1 0-4 2-4-3-1 2-5-2-2 2-3-2-5 3-1-1-4 1-1-2-1 2-2 4-4-2 7 1 3 1 1-2 1 1 1 1 1-3 3 2 0-1 3 1 0 1 0-3 2 2 0 1 7-1 6 1 3-2 4 1 2 4 22-2-1 3-2-2-5-1-13 2-1-2 0 3-2-3-4 0-1 2-3 0-2-1-1 0-1 2-1-1 0-2-3 2-7 1-3-1-3-2-1 2-3 1-7-2-3 0-2 5 6-2 2 1 12 1 1-2 7 2 3-2 3 1 5 2 4 0 2 0 1-3 2 1 0 2 1-3 2 3 2-1 11-2 2 2 2 0 4 2-3 0-11 3-3-3-8 2-2-2-1 3-2-1-2 1-4-2-4-1 0 1-4 2-3-2-7 4-7 2 2-1 1-2 1 1 3-1 3 1 1 1 5 0 15-2 1 1 6-1 3 0 8 6 11-2-22 3-2 0-3-1-1-1-1 1-2 1-8-1 0 1-1-2 0-1-1 2-3-1 0 2-1 0-1-1 0-2-1 0-10 1-3-1-1 2-1-1-4 5-2-2 3 0 1 3 1-3 1 3 4-1 1 0 17-1 1 1 3-1 1 1 0 0 1-2 1 3 10-1 4-1 1-1 15 6-7 0-2-2-1 1-4 2-8-2-1 2-1-2-8 2-7-1-3 1-2-1-2 1-2-1 0 1-2-2-6 0-2 1-2-1-3 3 10 1 1 1 0 0 2-1 9 2 0-3 1 2 3-1 1 2 1-3 2 1 1 0 9 2 0-2 3 1 0-2 5 1 1-1 3 3 8 3-2 1-3-3-10 3-2-2-4 2-3-3-1 2-1-1 0 1-1-2-1 2-1 1-5-2-1 2-1-3-1 3-1 0-2-1 0-2-3 3-4-3 0 1-1 0-1 2-2-3 0 4 5 3 3-3 7 1 3 0 1 1 3 1 1 0 4-3 2 0 1 2 2-2 2 2 6 1 4 0 9 1 2 1-3 1-1-1-5 2-4 0-5-2 0 1-2 0-3 1-1-3 0 3-1 0-1-2 0 0-2 2-2-3-1 3-2-2 0 0-1 2-1-2 0 2-1-3-1 3-1-3-3 1-3 2-1-1 0-2 0 4 8 3 0-3 2 1 0 1 1-2 1 1 2 1 1 0 5-2 1 0 1 1 0 2 0-2 2 2 3-2 3 2 0-1 2 1 0-2 1-1 3 3 0-1 5 4 6 0-14 0-1-1-4 2-3-3 0 0-3 3-1-2 0-1-3 2-8-2-1 3-2-1 0-1-2-1-1 4-3 2 3-2 2 0 1 0 2 1 2 1 2 1 0-1 1-1 7 1 0-2 1 3 2-1 1-2 2 3 0-3 1 3 1-3 2 3 6-2 6 3 2 1-7 1-1 1-1-1-1 0-3-2 0 1-1-1-3 1-2 1-1-1 0 2-1-3-1 2-2 0-1-1 0 2-1-1 0 0-1-1 0 2-1-1 0-1 0 1-1-1-1-1 0 1-1 1-1 0-1-1 0 0-3-1-7 5 9-1 2 1 2-1 2 2 1 1 0-3 1 3 0-1 1-2 1 2 0-2 1 1 0 0 2 1 0 1 0-2 1-1 1 3 2-1 1 1 1-2 1 0 2-1 1 1 0-1 1 1 0 1 0 1 3 0 4-2 5 4 15 2-17-1 0 0-1-2-5 0-1 0-4 1-1-1 0 2-1-1-2-1 0 1-3 0-1 2-1-2 0 2-1-3 0 3-1-2-1-1 0 3-1 0-1-2 0-1 0 1-1 3 2 1 0-1 1 1 0 2 0-2 1 0 1 0 1-1 1 2 0 1 1-1 1 1 0-3 1 0 2 0 1 0 5 0 4 7-11-2 0-1 0 2-1 0-1-1 0-1 0 3-1-1 0-2 0 2-1-1-2-1 0 3-1-1 0-1 0 4 1 1 0 1 0-3 1 1 0 2 0-2 1 1 0 0 1-2 1 2 0-2 1 1 0 1 0 1 0-3 1 7-2-2 0 2-1-1 0-1 0-1 0 3-1-1 0-1 0 2-1-2 0-1 0 4 0 0 1 1 0 2 0-3 1 1 0 1 0 1 0 4 0-1 0-1 0 2-1-1 0-2 0 4 0 1 0 1 0 1 0-3 1 4-1" fill="none" stroke="none" marker-start="url(#k0)" marker-mid="url(#k0)" marker-end="url(#k0)"/>
<path d="M67.5 414.5 L135.8 417.5 L198.5 421.0 L231.2 422.7 L245.2 423.8 L268.6 426.3 L281.0 427.4 L285.7 428.0 L287.4 428.4 L289.1 429.0 L292.6 430.5 L297.7 433.3 L301.2 435.7 L302.9 437.3 L304.6 439.1 L306.8 443.6 L308.9 446.9 L312.3 444.3 L314.9 448.6 L317.4 450.3 L320.0 458.9 L323.4 459.4 L328.6 459.7 L349.8 459.9 L443.5 460.1" stroke="#0000ff" stroke-width="2.6" fill="none" stroke-linejoin="round"/>
</g></g>
<g>
<path d="M67.5 540.70 L443.5 540.70" stroke="#ffc0cb" stroke-width="2" fill="none"/>
<path d="M67.5 529.87 L235.5 529.31 L443.5 529.24" stroke="#ffc0cb" stroke-width="2" fill="none"/>
<path d="M67.5 529.87 L235.5 529.31 L443.5 529.24" stroke="#dd66dd" stroke-width="2" fill="none"/>
<path d="M67.5 519.04 L175.5 518.18 L235.5 517.91 L443.5 517.78" stroke="#ffc0cb" stroke-width="2" fill="none"/>
<path d="M67.5 508.21 L175.5 506.92 L235.5 506.52 L301.5 506.33 L443.5 506.33" stroke="#ffc0cb" stroke-width="2" fill="none"/>
<path d="M67.5 497.38 L133.5 496.46 L175.5 495.65 L235.5 495.13 L301.5 494.87 L443.5 494.87" stroke="#ffc0cb" stroke-width="2" fill="none"/>
<path d="M67.5 486.55 L133.5 485.39 L175.5 484.39 L235.5 483.73 L301.5 483.41 L443.5 483.41" stroke="#ffc0cb" stroke-width="2" fill="none"/>
<clipPath id="c07"><rect x="67.5" y="481.20" width="376.00" height="68.10"/></clipPath>
<g clip-path="url(#c07)">
<line x1="320" x2="443.5" y1="528.6" y2="528.6" stroke="#008000" stroke-width="3"/>
<path transform="scale(.5)" d="M139 975l-2 7-1 9 1 3 2 2-1 1 1 2-1 1 1 4-1 1-2 3 2 1 0 1 0 17 1 0-2 3 1 9-2 1 3 9 0 3 4 15-2-1 2-16-1-22-1 0 1-3 0-11 0-4 0-3-2-5 3-2-2-1 0-1 0-4 1-4-2-10 3-5 3 1-2 2 1 0 0 3 0 8 2 1-1 4-2 1 2 1 1 0-3 3 1 16 0 1 0 7-1 3 2 0-1 1 2 5-2 1 6 34 0-2-1-9-2-3 0-1 3-6 0-13 0-3-1 0-1-2 1-5-2 0 2-2-1 0-1-2 3-3-3 0 1-1 0-1-1 0 3-1-2-1-1 0 0-4 3-11-3 0 3-1-1-5 1-1 0-10-2-1 3 7 2 10-2 2 0 3 3 1-2 9 2 1-3 1 3 1-2 10 1 8-2 2 1 0 2 0-1 2 0 3-1 2 2 0-2 24 2 2 4-28 0-14-1-1 0-2-1-3-1-1 0-1 1-3-1-1 3-1-2-8 2-3-3-1 3-10 0-4-3-6 3-6 3 2-2 1 3 0-3 4 3 1-3 7 2 1 0 2-1 4 2 6-1 9 1 5-1 5 1 4-3 26 1 4 0 31 3-26 2-17 1-11-1-2 1-3 0-3 0-6-3-1 2-2 0-1-2-2 3-3-1 0-1-12-1-1 0-7 0-13 4 5 0 4 1 0 1 2-1 9 1 2-2 1 3 1-1 6 0 1-2 1 0 1 0 12 0 5 2 3 0 6-1 1 2 1-3 7 3 2-2 3 5 29 1-19-2-2 2-3-2-3-1-2 3-4 0-6-2-3 2-1-1-2 0-7-1-1 2-6 0-9-2-3 0-3 0-1-1-5 1-1-1-12 0-3 0-5 7 4-2 2-1 2 2 3 0 4 1 3-3 4 1 1 1 0-2 8 3 1 0 25-2 4 1 0-1 3 2 1 0 3-1 1-1 3 1 10 0 2-2 19 1 3 3-22 3-7-2-1 2-9 0-11 0-8-3-13 0-2 0-5 1-3 1-3-1-2 2-10-3-2 3-1 0-1-3-5 3-1 2 4 0 6 0 9 1 1 1 0-3 2 2 2 0 2 0 2 1 8 0 2-2 2-1 24 0 3 3 0 0 1 0 2-1 9 1 5 2 1-1-4 1-2 1-11 1-14-1-5 1-1-1 0-2-1 3-1 0-1-1 0 0-1-1 0-1-2 0-1 3-2-2-1-1-6 1-5 2-6 0-11-2-1 2-2 4 13 0 1-1 2 1 1-3 1 0 1 2 11 1 1-1 1 0 2 1 1-3 3 1 0 0 2-1 1 2 4 0 1-2 10 3 8-3 1 3 5 4 33 0-7-3-17 1-6 2-14-1 0-2-13 2-8-1-5 2-2-2-5 0-2 0-1 1-19 5-10-2 1 1 9 1 6-2 1 1 2-2 9 2 6 0 13 1 7-3 2 1 1 0 17 1 3 0 14 1 0-1 2 0 5 3 2 2-14-2-3 0-5 1-6 1-1-2-2 0-17-1-3 1-1 0-7 2-10 0-3-2 0 0-7 1-3-1-5-1 0 3-1-1-3 0-10 1-2 1 4 0 2 2 2-2 1 1 1 1 0 0 6 0 1-2 1 2 6 1 6-1 1-1 2 2 2-3 2 2 5 0 2-2 2 0 6 2 0-1 4 0 3 2 2-2 1 1 0-1 5-1 2 2 7 1 12-2 4 1 2-1 2-1 6 0 3 4-12 1-7 2-7-2-4 0-13 0-9 0-4 2-4-2-1 2-1 0-3-3 0 2-1-2-1 0-3 2-3 1-8-2-1 5-20-2 12 0 3 3 3-1 10-1 1-1 2 0 4 3 0-3 2 1 1 1 0-1 1-1 2 3 0-2 2-1 1 3 2 0 1 0 8-1 3 1 1-2 1 1 4 0 5 0 15 5 12-2-13 0-7-1-4 1-3 1-5-1-3 1-3-2 0 2-3-2-5 1-3 0-2 1-2 0-1-2 0 3-1-1 0-2-2 2-6-1-11 2-1 0-3-1-18 4 5 1 5-3 3 1 0 0 3 2 3-3 14 1 1 1 1-2 2 0 2 0 4 2 3-2 2 3 1 0 3-3 2 1 7 0 16-1 2 7-13 0-4-2-3 0-7 2-2-2-2 1-8-1 0 2-3-2 0-1-1 1-11 2-1 0-5-3 0 3-1 0-18-2 0 3-2 1 0 1 11-2 1 1 0 1 3-2 8 1 0 2 3-2 2 1 8-1 1 1 2-1 1 0 1 1 0-1 12 1 2 1 6-3 1 1 1 1 2-2 6 1 18 5-5-2-3 2-2-1-13 0-1 2-3-1-11 1-1 0-1-1-2-2-5 1-1 2-9-2-4 1-5 1-5-2-2 2-2-2-8 2-1 1-2 3 5-2 2 1 5 1 4-2 1 1 2 0 2 1 3-3 2 0 3 0 1 3 2-1 5 0 4-1 1 0 1 2 1-1 1 0 3 0 4 1 3-2 2-1 9 0 5 3 0-3 7 2 2 0 3 1 2-3 1 3 18 4-4-1-7-2-13 2-5 1-1 0-2-2 0-1-2 2-2-2-10 2-1 1-2-1-1 1-1-1-2-1-1 0-3 2-1-1 0 0-1-1-1 2-2-2 0 0-1-1-2 3-5-3-3 3-1-3-1 2-4 1-13-3-9 6-3 1 26-3 1 0 1 3 8-2 4 2 0-3 2 1 0 0 1 2 1-3 10 2 3-2 1 1 3 1 5-1 4-1 5 1 1 1 2 0 1-1 12 5-3-2 0 3-3-3-7 1-13-1-1 2-3-2-2 0-8 1-3 2-6-3-3 3-1-1 0-1 0-1 0 3-3-1-6-2-27 0-3 7-1-3 2 0 9 0 17 2 0-1 2-1 5 1 12-1 2 3 8 0 2 0 1-1 3-1 23 6 6 0-3-1 0-2-16 1-3 2-8-1-4-2-1 0-4 3-8-2-1-1-3 1-7-1 0 1-1 1-3-2-2 1-3-1-3 3-2-2-3 2-2-2-2-1-2 4-3 3 0-2 1-1 1 0 1 1 2 2 3-3 1 0 3 2 1 1 3-1 3 0 5 0 20 0 2-1 1-1 1 3 1-1 2-2 2 2 2 0 12-2 3 1 9 0 1 2 1 2-25 2-2-2-2 2-2 0-5-2 0 0-3-1-1 3-9-2-11-1-5 0-8 2-7 4-3 1 15-3 2 2 1-2 2 1 5-1 1 1 0 0 1-1 1 2 0 1 1-2 1 1 2-1 2 0 4 1 7 0 3 1 0-3 3 0 9 2 13 5 24-3-1 1-33-1-2 3-4-3-1 0-7 1-6 1-6-1-1 2-2-2 0 0-1-1 0 0-1 1-2 2-2 0-5 0-1-1-2-1-2 2-11 0-8-3-2 6 0 0 5 1 2 0 4 0 2-2 5 0 2-1 1 1 0 1 1 0 1 0 2 1 0-3 5 1 5 2 0-3 4 2 0-2 5 3 2 0 4-3 1 2 7-2 3 2 0 1 2 0 3 0 4-2 1-1 1 3 13-1 27 2-31 3-22-3 0 0-8 0-1 2-2-1 0-1-3 1-1 2-7-1-2-2 0 0-4 3-3-2-1-1 0 1-1 1-2 1-4-3-1 1-4 0-3 0-2 2-1-1-2-2-2 7 18-2 3 2 1-3 1 1 0 2 0 0 1-3 13 0 1 2 7-2 4 1 2 0 3 1 0 0 1-2 2 2 3 1 2-3 1 3 0-3 3 2 12 1 3-2 6 0 20 3-22 2-17 0-4-2 0 1-5 2-2-2-8 0-1-1-1 3-3 0-3-3 0 1-5-1-2 3-2-3-1 0-1 1-3 1-2 1-1-1-2-1-4-1-3 5-8 0 1-1 1 0 1 1 5-1 3 0 7 0 1 0 12 0 20 3 1-3 3 2 14 3-1 0-2 0-4 2-3-3-3 2-1-2-16 0-3 3-6-2-5 0-4 4-32 0 1 0 1-1 4 1 1 0 13 1 1 0 2-2 6 1 12 0 1 1 0 1 2 0 1-3 8 1 1 0 4 1 0-2 11 2 0-1 3 0 1-1 15 4 1 2-2-2-17 1-2 0-1 1-1 1-1-3-9 1-4 2-4-3-8 1-2 2-3-1-1-1-12 1-7 1-3-2 0-1-3 0-1 1-2 3-5 1 1 0 2 2 4-1 2 0 3 1 2-2 7 0 2-1 2 1 1-1 2 0 3 1 0-1 2 0 1 1 2-1 1 2 2-2 3 1 6 2 3-3 1 0 3 3 8-3 4 3 3 0 2 0 5 0 1 0 3 2 7 2-1-2-8 1-2 1-9-1 0-1-2 0-3 0-5 2-3-2-1 2-4-3-1 2-1 1-1 0-1-3-1 2-7-1-1 2-3-1-1 1-4 0-4-3 0 0-4 3-2-1-1-2-1 1-1 2-2-1-1-1-1 0-2 0-10 4 14-1 1 1 12 1 0 1 0-2 4 2 1-2 3 0 13 0 3 2 2-1 4 1 4 0 4-1 2-2 1 2 0 1 1 2 1 2-3-3-1 2-2-1-6 0-2 0-1 0-5 2-2-2 0 2-4 0-3 0-11-3-6 1-7 4-13 2 3 0 9-2 5 2 0-1 8 1 0 0 4 0 4-1 8 0 3-2 2 1 5-1 1 2 4-2 3 1 0 2 8-2 2 1 3-2 11 0 7 7 18 0-22-1-15 1-6 0-1 0-3 0-3-2-2 0-8 2-3-1 0 1-2 0-5-2 0-1 0 3-2-2 0-1-3 3-3-1-4 0-4-2-1 0-1 3-1-2 0 1-5-2 0 3-1-3-3 3-6-1-3 5 3-3 6 1 3-1 1 3 0-1 2 0 1 1 1-2 1 2 0-1 8-1 11 0 8 0 6 1 4 0 3-2 13 3 0-1 13 1 2-2 6 3 2 2-2 0-6-2-1 2-26-1 0 2-4 0-2-2-3-1 0 1-2-1 0 1-3 2-1-3 0 3-1-3-7 0-4 3-6-1-1-2 0 3-2 0-12-1-4 5 9 0 3-2 1 2 0-3 2 1 3 2 1-1 1 1 1-1 5 1 0-1 4 1 0-2 3 2 1-3 1 2 3 1 1-3 1 0 1 1 0 1 1-2 1 2 6-2 1 1 10 1 1-1 2-1 21 2 4 3 3 0-18-1-12 3-4-3-1 1-2 2-4-1-1-2-7 0-1 0-1 3-4-2-3 2-11-3-1 2-1-1-2 2-3-1 0-2-3 0-8 0-2 2-3-1-1 0-2-1 0 5-1 2 3-3 2 1 5 0 1 2 1-3 5 3 2-2 10 1 3-2 4 0 3 1 0 0 1 2 0 0 1 0 1-2 1 0 2 0 4 1 1 1 2-1 1 1 0-1 4-1 5 2 1-2 1 0 1 1 1 0 13-2 17 5-23-1-15 1-8 0-5 0-2-1 0 2-4 0-1-1 0 1-1-2-1 2-9-2-5 2-1 1-2-2 0 0-3-1-1 1-7 0-2 3-9 3 0-2 3 2 2-3 5 3 1-3 3 1 3 2 3-2 3 2 0-1 1 0 2-2 1 1 4 2 0-1 8-2 2 3 1-1 2-2 20 1 3 1 3 1 2 3 3 1-2-1-5-1-1 1-2 1-19-3-2 1-2 1-2-1-8 2-1-3 0 0-3 1-4-1 0 0-2 3-3-3-14 2-4 3 1 2 3-1 2-2 11 1 15 2 4-1 8 1 0-1 9 0 3-2 16 3 3-3 1 6 0 1-11-1-5 0-12 0-3 1-2-3-1 2-1-1 0-1-6 1-1 0-1-1-2 1-1 0-2-1-1 0-12 1-2 0-1-1-6 0-1 2-5 4 2 1 1-1 4 0 3 1 0-2 1-1 5 1 11 1 1 0 1-1 2 1 0 0 3 1 5-2 3 1 4 1 1-3 1 0 4 3 11-3 4 2 0-2 3 2 9-2 1 0 1 6 23-2-14 2-2 0-3-1-6 2-3-3-3 3-2-3-2 2-1-2-8 1-3 0-6 0-2 1-4-2 0 1-2-1-1 2-16 0-3-1-3 2-8-3-1 1-4 1-4 3-1 0 7-1 10 2 13 1 0-3 2 1 0 0 3-1 4 1 3 2 0-1 1-1 1 2 0-3 1 1 2 1 0 0 2-2 7 3 4-1 12-1 4 2 1 3-18-1-1 0-3-1-3 3-1-2-1 0-3-1 0 1-1 0-5 1-8-1 0 1-2-2 0 2-3-2-5 2-8-2-1 2-4 1-3-1-4 4 9 0 3-2 8 0 2 0 1 3 0-2 2 0 4 1 0-2 1 1 0 2 4-1 7-2 2 2 0 0 2 0 7 1 4-2 4 2 2 0 3-3 1 3 0-2 1 0 1 2 0-1 12 2 10 3-1-3-7 2-14 1-1-1-3 1-7-3-3 0-1 1-7 1-2 1-2-1-3-1-1 2-4-1 0-1-3-1-10 3-2-2-1 0-1 1-4-1-2 6-10 0 15-1 6-2 12 2 1-1 2 2 3-2 3-1 3 3 2-3 3 2 20-1 3-1 3 2 10 1 3 3-1 1-18-3-1 1-1 2-1-1 0 0-4 0-17-1 0 1-1 1-1-1-1 1-4-2 0 0-6-1 0 3-3 0-1-2-4 0-3 1-1 3-2 0 2-1 1 0 5 2 0 0 3 1 0-2 3 0 5 0 1 1 0-1 1 2 1-3 1 2 0 1 7-3 1 2 1-2 3 1 3 2 0 0 13-1 2 1 6 4-7-3 0 0-6 2-15-2 0 0-6 0-1 2-1 1-3-3 0 0-8 2-3 0-3 1-5-3 0 3-6 0-10 0-2 2-1-1 3 3 9-2 13-1 1 0 3 1 0 2 0-3 7 1 5 2 2-3 3 2 1 1 0-3 2 1 5 0 15 1 11 1 5-2 2 2 2 1 3 3-2 0-10-3-3 0-6 3-4-1-3 1-8-1 0-2-1 1-3 2-1-1-1 0-4 0-3 1-1-2 0 2-2 0-2-3-1 2-2-2-2 3-1 2-32 1 4-2 8 3 9 0 2-1 3-1 1 1 4-1 4 2 3-1 2-1 3-1 1 2 0-1 3 1 3 1 0-3 3 0 14 1 0 0 15 2 8 2 2-1-11 3-7 0-6 0-18-3-4 3-4-3-1 3-3 0-1-1-4-1 0 0-3 2-1-1 0-2 0 1-1 2-2-3 0 1-1 0-6-1-1 1-4 2-1 0-2-2-6 1-1 5-1-2 7 1 4-2 1 3 2-3 1 1 0 2 0-3 3 0 5 2 5 1 0-2 3 1 2 1 0-2 3 1 7-1 6-1 6 0 3 2 4 0 4-1 6 0 15 4-7-1-3 2-1-1-14-1-1 2-2-2 0 3-1-2 0-1-7 1-10-1-1 2-1-2 0 2-1-1 0-1-3 0-14 3-1-1-1 0-1-1-4-1-19 1-1 5 3 0 7 1 0-2 6-1 2 3 2-2 1 1 5 1 3 0 10-3 2 3 2-3 3 1 0 1 3-1 2 2 1-2 2-1 1 3 2 0 1 4 12-1-9-2-6 3-7-3-1 3-1-3 0 0-3 1-1 2-2-2-3 2-2 0-4 0-2-2-7 1-3 0-1-2-2 1-1-1-12 4 1 2 8-1 3 0 3 1 7-2 4 2 1-1 1 1 1-2 6 0 1 3 0-3 3 2 1 0 3-2 3 1 7 1 1 1 35 2 1 2-3-1-6-1-12 0-1-1-16 0-8 2-4 1-2-1-2-1-4 2-4-2-3-1 0 2-16 1-1 0-3 2-5 2 8-3 3 1 5-1 3 3 2-3 2 1 1 0 2 2 3 0 2-3 5 3 0-1 1-1 2 0 3 2 0-2 7-1 2 1 11 0 7 6 27 0-21 0-3 0-9-3-1 2-10 1-2 0-9-3-1 2-2-1-3 1-6 1-3-1-3-2-1 0-1 3-2-3-19 6 2-2 4 1 3-1 2 1 3 1 0 0 6 0 12 1 3 0 1-1 4 0 1 0 1-1 2 1 1-1 2 2 0-2 1 2 0 0 6-2 5 0 1 5 9-1-3 1-2 1-1-1-1-1-1 2-2-1-1-2 0 2-2-1-2 2-3-1-1-1 0 0-1 1-3-1-1 1-1 0-2-1-1 0-1 2-1-2 0 1-2-2-7 1-1-1-2 2-2-1-2-1 0 3-1-3 0 2-3 0-3-2 0 2-3-1-1-1-1 2-3-2-3 0-6 6 13-1 2 1 7-1 7 1 0-2 2 0 1 3 0 0 1-3 15 1 0 1 3-1 1-1 11 2 1 0 14 1 3 0 6 1 2 0-23 2-2 1-8-1-2-1-4 2-2-3-1 3-5-2-6 0-1-1 0 1-11 0-5 1-3-2-2 7 8 0 4-1 1 1 0-2 3-1 3 0 3 3 1-2 2 1 0 1 0-3 2 2 0 1 0-1 8-2 2 0 2 1 1-1 6 0 3 5 29 2-3-1-33 0-3 0-2 1-3-1 0-1-3 0-1 0-1 0-1-1 0 2-1 0-6 1-7-3-2 2-6 1-6-1-5 5-3-1 3 0 5 0 2 1 0-2 2 2 7-3 2 1 4 1 1 0 2 1 0 0 4 0 1-2 1 1 1-1 3 0 4-1 2 2 11-1 4 2 3-1 19 3-22 1-10-2-2 2-2-2-2 2-1 1-4-2-2 0-6 2-3-2-3 1-3 0-4-2-1 2-1-1-1 0-3 0-2 1-2-1-3 5 1-2 13 1 1 1 4-2 3 1 0 1 2 0 5-2 1 0 2 1 0 1 1-2 1 2 1-1 3-1 1 2 3-2 1 0 2 3 9-1 1 1 0 0 1-2 2 1 1 0 3-1 1 2 6 3-7 1-3 0-1 0-1-3 0 2-2 0-3-2 0 3-1-3-3 3-1-2-2 1-1-2-1 2-2 0-7 0-2 1-7 0-4-2-22 0-2 3-1 0 9 3 1 0 3-3 2 1 0 2 8-2 13-1 4 1 7 1 2 1 0-3 5 2 2 1 0-1 11-1 14 3-23 1-2 0-1 1-7 1-2-2-14-1 0 1-7 0-7 2-2-2 0 1-2 0-1-2-1 1-4 3-1 3 5-1 1 1 0-3 5 2 6 0 2 0 1-2 1 3 1-1 1 1 5 0 1-2 1 2 1-3 1 3 2-1 13-2 3 3 1 4 13-1-8 1-2-1-7 0-2-2 0 2-2 0-4 0-4 1-3-2 0-1-1 2-1 1-4-2 0 1-13 1-2-1-3 5-6 0 7-2 5-1 1 1 0 2 1 0 4-3 4 3 0-3 7 2 2-1 1-1 2 1 0 1 0 0 3 1 1-1 2 0 1-1 5 0 13 6 7-3-1 2-6 0-14-2 0 0-3 3-2 0-2-1-2-2 0 0-1 0-10 2-6-2-3 1-1 2-1-3 0 0-1 3-1-1-5-1-4 2-5 4-1-1 3-2 2 1 4 1 1-1 11-1 5 2 2 0 1-1 11 2 1-2 1 1 0-2 2 0 2 1 0 1 2-1 13 0 2-1 9 6-9 1-10-1-15-2-1 3-2 0-2-2 0-1 0 3-2-3 0 1-1-1-1 0-2 2-1-2 0 3-6-1-4 1-2-1-1-2-1 1-3 4-9-1 1 3 0 0 7-3 7 0 2 2 2-1 5-1 2 3 1-2 2 1 1 0 1-1 2 2 0-2 1-1 1 1 0 1 0-1 1 2 0-1 3 1 0 0 4-2 2 1 4-2 2 0 5 1 17 2 2 1-6 0-3 3-10-3-5 0-3 0-1 1-4-1-7 1-3 0-1 2-6-1 0 0-3-2-5 1-7 2-3-3-2 3-4-1-2 3-2 1 5 1 0-2 3 1 0 0 3 1 0-1 15 0 3 1 0-3 1 0 4 0 2 3 1-2 3 1 2-1 1 1 3 0 1 0 5 0 5 1 3 2 2 1-4-2-2 1-2 2-5-2-3 0-6 2-1-1-1 1-1-3-1 3-1-3 0 3-1-1-3 0-3-1 0-1-2 1-3 0-7-1-2 0-1 1-2 2-1-1-1-2-1 0-1 1-1 1-2 2 3 1 3 0 4-1 3 0 3 2 4 1 1-1 4-1 2 0 3 0 1 1 2 1 1-1 1 0 1 1 0-2 7-1 2 1 8 1 3 4 9-2-1 1-11 2-10 0-2-1 0 1-2-1 0 0-4-2-2 1-4 0-4 0-1-1-2 0-4 2-1 0-2-1-7 5 3 0 3-2 3 1 1 2 1-2 3 1 1-2 1 1 1 0 2 1 5-1 1 1 0 1 1 0 1-3 2 0 1 1 2 2 0-3 1 1 1 1 0 0 2 1 4-1 4 0 8 1 4-2 7 2 2 4-1 0-3-1-9-2-2 1-7 0-4 0-1 1-3-2 0 1-2-1-2 3-1-2-1 2-1-2 0 1-1-1 0 2-3-1 0-2 0 3-1-3 0 3-3-2 0-1 0 0-3 3-2-2 0 2-3-1-3 0-14 2 3 3 2 0 2-2 2-1 2 1 1-1 6 0 2 2 0 1 0 0 1-2 2 2 3 0 1-2 1 1 0 1 0-2 1-1 1 3 2-2 1 2 15-1 2 1 4 0 2-3 1 0 1 3 0-2 2 3 4 0-3 3-2-1-3-2-7 2-2 1-7 0-2-2-4 0-1 2-3-2-1-1 0 1-1-1 0 3-1-3 0 3-2-2-1 1-5-1 0-1-1 3-4-1-1 1-2-3 0 2-1 1-4-1-3 5 3-1 1 1 4-3 8 1 4 1 2 1 0-3 2 0 2 1 0 0 1 0 2 2 1-1 2-1 7 2 2-3 1 0 3 2 4 1 0-2 7 2 3-3 2 2 4 5 6-2-3 0-12 1-8-1-2 0-2 1-3 1-8 0-1-3-1 2-3-1-1 2-5-2 0 1-2 1-10-2-3 1-4 2 1 2 0 1 2-2 2 0 1-1 2 1 1 2 0 0 2-2 1 0 6 2 0-3 1 2 1 0 1-1 5 1 0-1 2 2 1-2 2 1 3-1 13 0 23 5-11 0-5-1-2 2-4 0-7-1-4-2-3 2-3-2-3 3-1-1 0-2-1 0-1 1-2 0-1-1 0 2-2-1 0 0-1 1-3-1-2 2-8-1 0 1-1-2-1 1-3 4 3-2 6 0 2 3 2-2 2 1 1-1 3-1 3 2 0-2 2 2 1-1 1 2 0-1 1-2 4 3 2-1 3 0 11 0 8 1 4-3 14 4-9 0-5 0-4 2-3-1-2 0-3 2-2 0-13-2-3 2-1-2-1 2-2-3 0 3-3-1-2-2-2 0-7 4 11 1 7 1 0 1 1-2 3 0 5 0 6 2 1 0 1 0 3-3 1 3 0-1 1-2 1 1 0 5-2-1 0-1 0 3-2-2 0 0-1-1 0 3-4-1 0-1 0 2-1-2 0 0-4 2-2-3 0 2-3-1-1-1 0 2-1-1 0-1-1 4 1 0 1 0 1 2 4-2 1 2 1-1 1 1 2-1 1 1 1-2 2 1 1 1 1 0 1-2 1 5-2-1 0 1-1 0-1-1 0 3-3-1-4 1-1 0-1-1-1 1-1 0-1-1-1-2-1 4 1 1 2-1 1 2 0 1 0-2 1 2 2-3 1 1 0 0 1-1 1 2 0-2 1 1 0 2 0-3 1 3 0-2 1 1 0-2 1 1 0-1 1 1 0 4-1-1 0 2-1-1 0 0-1-1-1 1-1 2-2-1-2-2 0 3-1-1 0 1-1-1 0-1 0 2-1-2 0 3 1 2 0-2 1 3 0-3 1 2 0 1 0-2 1 1 0-1 1-1 1 1 0 1 0-2 2 2 0 1 0-3 1 1 1 6-2-1 0 1-1-2-1-1 0 3-1-1 0-2 0 1-2-1 0 3-1-2 0-1 0 6 1 1 0-2 2 2 0 0 1-3 1 1 0 1 0 1 0-3 1 7-1-1 0-2 0 2-1-2 0 3-1-1 0-1 0 2-1-1 0-1 0-1 0 5 0 1 0-1 1 1 0 1 0-2 1 1 0 4 0-1 0-1 0 3-1-1 0-1 0-1 0 4 0 1 0 1 0 1 0 1 0" fill="none" stroke="none" marker-start="url(#k0)" marker-mid="url(#k0)" marker-end="url(#k0)"/>
<path d="M67.5 482.5 L113.0 483.9 L135.8 484.8 L148.0 485.6 L178.5 488.2 L206.5 489.7 L217.4 490.6 L231.4 492.6 L252.6 495.4 L266.2 497.3 L273.8 498.5 L279.9 499.6 L286.3 501.2 L291.4 503.0 L293.1 503.7 L294.8 504.7 L298.3 507.2 L300.0 508.0 L303.4 508.8 L305.1 508.9 L443.5 509.8" stroke="#0000ff" stroke-width="2.6" fill="none" stroke-linejoin="round"/>
</g></g>
<g>
<path d="M67.5 608.80 L443.5 608.80" stroke="#ffc0cb" stroke-width="2" fill="none"/>
<path d="M67.5 597.98 L259.5 597.35 L443.5 597.34" stroke="#ffc0cb" stroke-width="2" fill="none"/>
<path d="M67.5 597.98 L259.5 597.35 L260.6 597.35" stroke="#dd66dd" stroke-width="2" fill="none"/>
<path d="M67.5 587.17 L169.5 586.32 L259.5 585.90 L443.5 585.88" stroke="#ffc0cb" stroke-width="2" fill="none"/>
<path d="M67.5 576.35 L169.5 575.08 L259.5 574.45 L443.5 574.42" stroke="#ffc0cb" stroke-width="2" fill="none"/>
<path d="M67.5 565.53 L169.5 563.84 L259.5 562.99 L443.5 562.96" stroke="#ffc0cb" stroke-width="2" fill="none"/>
<path d="M67.5 554.71 L169.5 552.60 L259.5 551.54 L443.5 551.50" stroke="#ffc0cb" stroke-width="2" fill="none"/>
<clipPath id="c08"><rect x="67.5" y="549.30" width="376.00" height="68.10"/></clipPath>
<g clip-path="url(#c08)">
<rect x="228" y="569.90" width="32.60000000000002" height="5.40" fill="#008000"/>
<line x1="294" x2="443.5" y1="596.6" y2="596.6" stroke="#008000" stroke-width="3"/>
<path transform="scale(.5)" d="M138 1143l-1 9 2 4-2 2 1 5 0 2 0 1-1 3 2 0-2 4 6-1 0-17-3 0 2-2-1-2-1-1 0-2 1-5 1-14-1-4 3 0 1 0-1 2 2 5 1 4-1 18 0 8 1 0-2 2 1 10 0 5-2 12 3 15 3-3 0-24-2 0 2-1 0-2-1-1 2-2 0-7 0-10 0-4-1-4 1-1-2-1 2-1 0-6-3 0 1-28 5 7-2 4 3 0-1 19 0 3-1 1 1 0-1 1 2 0-2 5 1 2-1 2 1 10 1 2-2 3 1 2 1 2 0 2-1 1-2 1 2 0-2 3 3 28 2 0 0-3-1-27 1-3-1-1 0-2 0-3 3-10 0-5-1-7-1-1 0-3 1-8 1-17-3-1 7 12 0 2-2 20 2 3-1 3-2 16 0 9 1 6 5 1 0-4-2-3 3-14-3-1 1-3 0-7 2-3 0-4 0-6-2-2 1-11-1-4 5 4-2 10 0 3 1 0 1 0-1 1 2 0-2 5 0 2 2 2 0 7-2 8 1 4 1 11 0 1-3 1 0 4 6-4-1-12 0-11 1-3 0-4-2-3 0-1 2-6-1 0 2-2-1-7 1-2-2-3 6-4-2 5 1 0-2 2 3 4-3 5 1 2 2 2-2 9 2 8-1 1 0 2 0 1-1 2-1 1 6 11 1-3-3-7 1-2-1-1 0-1 2-7 0-2-1-3 2-7-2-2 1-2-2 0 0-1 0-3 1-3 0-4-1 0 1-4 0-3 1-2-2 0 5-7 2 4 0 12-3 9 1 0-1 3 3 0-2 6 0 9 1 7-2 30 1 13 0 12 1 3 4-50-1-7 2-1 0-8-1-11 1-18-1-7-1-3 0-2 3 8 1 2 2 21-1 1 1 3-1 4 0 2-1 7 1 3 0 2 1 1 4 42-3-30 2-14-1-3-1-11 3-12-1-3-2-15 0-2 5 14 2 1-3 5 2 0-1 1-1 1 3 2 0 4 0 4 0 1-2 25 5 8 1-3-1-2-1-3 1-7 0-4-1-2 1-1-1-1-1-3 0-8 3-3-2 0 1-2-1-8 2-1-1-2-1-3-1-8 4 11 1 2 1 3 0 7 1 4-2 1 1 2 0 33 2 29 0-32 3-1 0-6-3-6 0-13 3-1-3-13 0-11 0-5 2-2 0-19 2-2 3 1-1 9 1 5 0 14-3 2 2 6-2 1 2 5-2 2 3 1-2 20-1 30 5-19 0-16 1-6-1-7 1-10-1-3 0-3-1-11 1-3-1-5 0-2 1-9 3 3 0 21 2 3-2 9 0 2 0 1 3 1-1 1 1 1-3 10 2 0 0 5-1 1-1 2 3 2-1 4-1 3 0 11 2 2 0 1 3 17-2-2 2-1 1-4-2-5-1-3 0-3 3-2-3 0 1-6 1-4-1-3 2-2-3-6 2-6-2-1 0-6 1-4 2-1-3-2 3-1-3 0 2-9-2-7 2-3-2 0 1-3 2-8 3-1-2 7 0 17 3 3-1 3-1 5 1 1-1 2 0 1 0 3 1 16 0 13 4 3-2-19 0-3 1-1 2-3 0-2-3-9 3-8-2-12 2-12-1-5 3 10 1 3-1 3 2 1-1 1-1 3 0 3 0 4 1 3 1 0-3 2 3 1-2 1 1 8 0 2 0 1-2 5 2 0-2 2 0 1 3 0-2 1 1 0-2 2 0 6 1 2 1 0 1 2-3 5 2 3-1 2 2 0-2 2 5 0 1-6-1-13-1-11 1-3-1-10 2-1 0-4-2-2 0-18 1-6 3-1-1 3 0 1 3 3-3 1 1 6 1 2-1 2 0 3 1 3 1 3-3 6 2 1 0 23 1 2-1 10-1 18 6 13 0-50-2 0 0-1 2-2-3-10 1-4 0-9-1-5 1-3 1-1-1 0 0-4 2-1-3 0 3-13-1-5-2 0 4 26 1 5-1 10 2 5 1 3-1 7-2 13 3 0-1 3 2 1 1-3 2-2-3-18 0-4 3-2-2-8 2-6 0-5-1-8 1-3 4 0 0 19-2 10 1 1-1 12 0 8 0 1 0 2 2 0-3 6 2 4-1 2 1 3 0 3 2-9 3-1-1-7-2-1 1-2 2-7-3-2 0-13 2-11-2-22 1-3 6 22 0 25-3 4 2 16 1 3 0 11-2 7 4-1 0-1 1-1 0-5 0-8-1-6 2-3 0-2 0-4 0-1-2-7 1-3 1-2 0-1-1-5-2-1 3-1-2-5-1 0 2-3 0-4 1-2-1-5-2-4 6-5 0 1 1 0-1 2-2 2 3 8 0 9-1 2-1 2 2 11-2 2 2 1 0 1-2 6 0 2-1 6 1 4-1 2 2 1 1 5 0 3 1 0 1-3-1-8 0-1 3-1-2-12-1-4 2-2-1-1 2-1 0-24-3-8 6-4 1 11 0 4-1 7 1 15-1 1-1 5 0 3 0 4-1 5 4 0 3-5 0-4-3-2 2-5-2-8 3-2 0-9-1-7 1-5 0-4-1-3-2 0 5-15 1 6-1 2 0 9 1 5 1 3-3 2 1 0 2 4-2 3 0 18 0 3 0 16 1 2 0 1-2 1 2 16-2 11 6-15-1-16-1-2 1-1 2-3-2-3-1-9 2-4-1-9-1-21 2-3-2-2 1-2 1-1 1-1 2-3 2 3-2 1 1 1-1 1-1 6 1 1 0 2 0 10-1 11 2 3-2 3 2 0-2 2 1 4 2 3-3 1 2 3-2 4 0 5 0 1 1 1 2 1-1 3-1 9 3 23 2-2-2-22 3-29-1-10-2 0 2-2-2-2 0-2 1-2-1-3 2-2 0-10 0-2-2-8 0-4 7 12-2 9 0 9 0 3-1 7 1 4 0 5-1 3 2 5 1 2 0 5 4 29-2-10 2-6-3-10 2-7-1-28 1-1-2-2 1-7 0-2 2-7 0-8-1-7 5 0-3 4 1 14-1 5 2 3-1 1 1 6-1 1 1 10-1 3 2 5-1 28 4-6-1-17-1 0 0-10 1-14 1-1-2-1 0-2 2-3 1-5-1-1-2-2 1-1-1-3 2-1 2 2 0 2 3 0-2 2 1 1 1 0 0 4-2 2 0 4 1 3-1 13 1 0 1 3-2 3 2 23 0 3 2 25 0-41 1-1-2-2 3-8 0-4-1-3-2-11 3-1-1-6-1 0-1 0 1-4 1-3-1-1 1-2 1-1-3-1 1-3 2-7-3-1 1-1 4-5 2 3-1 10-2 2 1 1-1 1 0 4 2 0-1 2 2 0-3 7 1 0 2 4-1 1-2 3 3 7-1 1-2 2 1 1 0 2 1 21-1 10 0 4 0 3-1 18 6-24-2-1 1-32 0-3-1-1 3-2-3-3 1-5 0-6 2-1-1-3-2-2 4 2 0 2 3 0-3 1 0 3 2 11-1 15 0 8 1 6 2 11 3-2-1 0 0-3 1-16 0-1-3-9 2-2-1-17 1-4 1-3-2 0 1-24 2 3 1 3-1 10 3 2-3 2 2 1-2 4 1 2-1 2 1 1 2 2 0 2-2 16 0 3 1 9 1 6-2 9-1 5 4 0 0-5 2-9 0-4 1-3-1 0-2-2 1-1 2-7-2-3 2-3-3 0 2-3-1 0 0-5-1-3 2-3-2-3 3-8-1-21-1-1 2-1 3-1 1 5-2 5-1 2 3 1-2 7 0 3-1 4 3 4-1 1 1 8-1 10-1 2-1 8 0 5 2 1 0 1-2 4 2 0-2 3 2 29 5-30 0-11-3-1 2-4 0-3-1 0 0-3 1-2 0-9-1-6 2-7-2-5-1-15 1-1 2-3 1 11 2 4-2 1 0 1 1 2 1 0-2 2 2 3-1 13 0 2-1 11 0 6 3 9-1 7-2 2 0 3 3 3 3 0-2-2 2-22 0-6-1 0 0-5-1-5 3-8-1-16 0-3 3-10 1 1-2 1 2 2 1 2-2 2 0 3 2 3-2 1 1 11 1 3-1 1 1 0-1 20 0 13-1 8-1 2 6 1-1-7-1-2 2-1-2-3 2-2-1-11 2-7-1-7-1-3-1 0 3-2-1 0-2 0 2-1-1-5 6 1-3 5 2 12 1 0 0 6-3 1 3 2-3 5 0 20 3 15-2 3 3-29 3-5-2-4 2-2-2 0 0-13 0-19-1-2 3-3 0-12 3-7-2 10 0 1 2 5-1 1 1 1-2 4 3 0-2 1 2 1-2 2 2 4-3 1 1 1 1 0-2 10 2 9 1 2-2 9-1 3 3 0-2 1-1 2 7-11-3-6 2-1-2-3 0-4 3-1-3-1 3-3-2-6 0-5-1-2 2-1-2 0 0-1 3-9 0-2-1 0 0-3-2 0 5 7 0 1 0 5 1 9-2 5 2 0 1 0-3 1 0 1 6 49 0-18 1-20-1-3-1-1 1-1-1 0-1 0 3-11-1 0 1-3-1-3 1-4-3-6 3-12 0-3 3 20-2 1 2 2-1 11 2 1-2 26 1 7 0 14-2 2 6-1-2-12 2-6-2-1 2-7-2-2 1-14 0-7 2-10-1-1 1-19 4-3-2 5 1 1-1 3 2 3-1 13-1 1 1 2 1 0-1 5-2 2 3 8-2 3 0 1 1 2-2 1 2 1 1 2 0 6-2 3-1 4 3 2-3 2 5 2 0-2 1-1 0-3-1-1 2-1-1-11 0-4-2 0 0-1 2-2 0-13 1-5-1 0 1-2-3-3 0-15 2-9 3-1 0 4 1 4-2 2 1 3 0 2-1 3 0 3 3 0-1 8 0 5-1 16-1 12 0 14 3 0-3 27 7-27-3-3 2-10-1-1 1-1-2 0 0-7 3-1-3-6 2-1 1-7 0-3-3 0 0-3 3-5-1-6 1-5-2-3 0-8 3-4 2 9-2 12 2 2 0 7 1 7-1 2-2 11 3 1-3 9 3 0-2 1 1 7-2 16 3 7 2-19 0-8-1-7 1-23 2-1-3-1 0-2 2-3-2-5 2-6-2-1 3-6-3-5 7-1-1 3 0 1-2 1 3 8-3 2 3 0-2 7 0 6 1 4-2 2 3 11 0 3-3 13 3 1-2 2 6-2 0-14-2-2-1-8 3-1 0-13-3-2 0-4 7-13-3 10 0 18 3 0-2 2 2 1-3 12 3 26-2 1 4-9 0-4 2-30 0-1-2-1 1-1 1-1-1 0 1-15 2-5 1 0 1 0-1 1 1 0-3 1 3 0-2 1-1 2 0 3 0 3 1 0 1 0 1 0-2 1 1 0 1 0 0 3-2 6 0 4-1 27 3 4-2 22 6-66-1 0-2 0 3-1-1 0-1 0-1 0 2-1-1 0-1 0 1-7-1 0 3-1-1 0-1 0-1 0 2-1-1 0-1 0 3-1-1 0-1 0 3 0 1 0 1 0 1 0-3 1 1 0 1 0-1 1 2 0-1 1 1 0-3 7 2 0-2 1 1 0 1 0 1 0-3 1 1 0 1 0 1 0 4 0-2 0 2-1-1 0-1 0-1 0 3-1-1 0-2 0 3-8-3 0 2-1-1 0-1 0 3-1-1 0-1 0-1 0 4 0 1 0 1 0 1 0-3 1 1 0 1 0 1 0-2 1 1 0 1 0-3 1 1 0-1 7 1 0 1 0-2 1 1 0 1 0 1 0-3 1 7 0-1 0-1 0-1 0 3-1-3 0 3-1-1 0-2-7 3-1-1 0-2 0 1-1 1-1-2 0 4 0 1 0 1 0-2 1 1 0 1 0-2 1 1 0 1 0 1 0-1 1-1 7 1 0-2 1 1 0 1 0 1 0-3 1 1 0 6 0-1 0-1 0 2-1-1 0-1 0-1 0 3-1-1 0 0-7-2 0 3-1-1 0-1 0-1 0 3-1-1 0-1 0-1 0 3-1-1 0-1 0-1 0 5 0 2 0-3 1 1 0 2 0-3 1 1 0 1 0 1 0-2 1 1 0-2 7 2 0 1 0-1 1 1 0-2 1 1 0 5 0-1 0-1-1-1 0 3-1-1 0 1-7-1 0-1 0 2-1-1 0-1 0-1 0 3-1-1 0-1 0-1 0 3-1-1 0-1 0-1 0 4 0 1 0 1 0-2 1 1 0 1 0 1 0-3 1 2 0 1 0-1 1 1 0-1 7 0 1 1 0-3 1 2 0 1 0 3 0-1 0 2-1-2 0-1 0 2-8 1-1-1 0-1 0 2-1-1 0-1 0-1 0 3-1-2 0 3 0 2 0 1 0-3 1 1 0 1 0 1 0-3 1 0 1 3 0-2 7-1 1 1 0 1 0 1 0-3 1 2 0 1 0 4 0 0-1-2 0 2-1-2-7 2-1-3 0 3-1-1 0-2 0 3-1-1 0-1 0-1 0 4 0 1 0 1 0 1 0-3 1 1 0 1 0 1 0-3 1 1 0 0 1 1 0 1 0-3 7 2 0-2 1 1 0 1 0 1 0-2 1 1 0 1 0 3 0-1 0-1 0 2-1-2 0 2-1 1-7-1 0 1-1-1 0-2 0 3-1-1 0 1-1-1 0-1 0-1 0 5 0-1 1 1 0 0 1-1 1 1 0-1 7 1 0-1 1 1 0-1 1 1 0 2 3 0 7 0 1 0 7-1 3 0 2 0 2 0 2 0 5 0 2 1 9-1 2 1 0 0 2 0 3-1 4 0 7 1 3 1-12 1-2 1-2-2-5 2-1 1-15-1-1-2-4 3-1 0-1-2-3 1-1 1-1 1-8 1 11 1 1 0 2 0 2-1 1 1 4-2 2 3 2 0 1-2 1 2 2-3 1 3 1-1 4-1 1-1 2 0 3 2 1-1 3-1 7 3 1 1-3 3-2-3-1 2-1 1-7-1-1-2 0 3-2 0-1-2-1 1-4 1-2-2-6 2-3-2 0 0-8 2-5 0-1 2-3 1 1-2 9 0 6 0 2 1 1-1 6 3 0 0 2 0 2-3 1 1 1 2 0 0 1-3 1 1 0 0 2 1 0-2 1 3 6-1 8-2 2 0 4 6 2 1-4-1-7-1-4-1 0 2-2 1-1-1 0 1-11-3-1 1-4 0-4 0-1-1-1 3-1-3-1 2-2 1-1-1-1-2-3 1-18 6 16-2 6 2 5-3 2 1 0 2 1-1 1 1 1-3 1 3 0-3 1 2 0 1 0 0 1-3 1 2 0-2 1 2 0 0 1-1 1-1 1 1 0 1 0-2 1 3 1-1 1 1 1-1 1 1 0-1 4 1 0-3 1 2 0 0 1-2 1 1 0 1 0-2 2 1 0 1 3-1 2 2 1-1 1-1 7 5-8-1-6-1-1 1-1 2-2-1 0-1 0-1 0 1-1 2-1-1-1-1 0 2-2-1 0-1 0-1-1 3-2-2-1-1 0 1-1 1-1 0-1 1-1 0-2-2 0-1 0 2-1-1 0-1 0 3-1-3-1 3-5 0-2-3-3 3-2-3-3 0-9 4 27 3 0-3 1 2 1 1 0-3 1 3 1-3 3 2 1 0 2 0 2 0 1-2 1 1 0 2 0 4-1-1 0-1 0-1 0 0-1 1-1 2-1-2-1 2-1-2-1 1-1-2 0 3-1-1-1-2-2 0-1 5 1 2 1-2 1 1 1 1 0-3 1 2 0 0 1-1 2 1 0 0 1-1 1 1 0 1 0-3 1 1 0 1 0 1 0 2 0 2-1-3 0 3-1-2 0 1-1-1 0 1-1-1 0-1 0 1-1 2-2-2 0 2-1-1 0-2 0 3-1-1 0-2 0 5 1 1 0 1 0-3 1 2 0-2 1 1 0 1 0-2 1 3 0-1 1-1 1 0 1 1 0 1 0-3 1 7-2-2 0-1 0 2-1-1 0 1-1 1-1-2 0-1 0 3-1-1 0-1 0-1 0 1-1 3 2 2 0-2 1 1 0 2 0-3 1 1 0 1 0 1 0 0 1 2 0-1 0 3-1-1 0-1 0-1 0 3-1-1 0 1-1-1 0-2 0 4 0 0 1 1 0 1 0 1 0-3 1 2 0 2 0 3-1-1 0-1 0-1 0 5 0 1 0" fill="none" stroke="none" marker-start="url(#k0)" marker-mid="url(#k0)" marker-end="url(#k0)"/>
<path d="M67.5 550.5 L110.2 552.1 L133.0 553.2 L199.7 557.6 L214.8 558.8 L226.9 560.0 L236.0 561.3 L243.6 562.7 L246.8 563.6 L248.5 564.2 L252.0 565.7 L253.7 566.6 L255.4 567.8 L258.9 570.7 L260.6 571.7 L264.0 572.6 L266.6 578.6 L268.3 587.1 L269.5 600.0 L270.9 585.4 L272.6 582.9 L274.3 584.2 L277.7 588.3 L279.4 589.7 L283.9 590.4 L288.4 590.8 L308.2 591.1 L370.6 591.5 L443.5 592.4" stroke="#0000ff" stroke-width="2.6" fill="none" stroke-linejoin="round"/>
</g></g>
<g>
<path d="M67.5 676.90 L443.5 676.90" stroke="#ffc0cb" stroke-width="2" fill="none"/>
<path d="M67.5 666.06 L193.5 665.45 L443.5 665.44" stroke="#ffc0cb" stroke-width="2" fill="none"/>
<path d="M67.5 666.06 L193.5 665.45 L195.3 665.45" stroke="#dd66dd" stroke-width="2" fill="none"/>
<path d="M67.5 655.21 L157.5 654.22 L193.5 654.01 L443.5 653.98" stroke="#ffc0cb" stroke-width="2" fill="none"/>
<path d="M67.5 644.37 L109.5 643.80 L157.5 642.88 L193.5 642.56 L443.5 642.52" stroke="#ffc0cb" stroke-width="2" fill="none"/>
<path d="M67.5 633.52 L109.5 632.76 L157.5 631.54 L193.5 631.11 L443.5 631.06" stroke="#ffc0cb" stroke-width="2" fill="none"/>
<path d="M67.5 622.68 L109.5 621.73 L157.5 620.20 L193.5 619.66 L443.5 619.60" stroke="#ffc0cb" stroke-width="2" fill="none"/>
<clipPath id="c09"><rect x="67.5" y="617.40" width="376.00" height="68.10"/></clipPath>
<g clip-path="url(#c09)">
<rect x="86" y="629.10" width="83.6" height="4.80" fill="#008000"/>
<rect x="169" y="638.60" width="28" height="5.60" fill="#008000"/>
<line x1="240" x2="443.5" y1="664.6" y2="664.6" stroke="#008000" stroke-width="3"/>
<path transform="scale(.5)" d="M139 1268l0 5 0 15-1 12 1 12-1 3-2 50 0 2 4-18 3-20-1 0-1-3 1-6 1-3-1-2-2 0 0-1 3-2-2-2 0-1 2-2-1-6 1-7-3-2 2-21 0-3 4-17 1 5-2 6-1 3 2 4 0 1 1 5-1 9-1 12-1 1 2 3 1 1-2 2 1 1-2 7 0 1 2 1-1 6-1 2 3 1-2 2 0 2 0 4 2 0-1 25 1 3 3 6-2-3 1-16 1-26-1 0 2-2 0-2-2 0-1-1 1-3-1 0 3-1-1 0 1-2-3 0 1-1-1 0 2-2-2-2 3-1-2-3 2-1-3 0 2-3-1-10 2-1-2-6 1-1-1-3-1-2 0-13 4 19 3 1-1 4-2 8 3 3 0 1-2 2 2 0-3 4 2 1 0 1-2 2 0 1 2 0 1 0-2 5 3 20 2-3 1-17-2-1-1-3 0-2 0-2 1-1-1-2 2-2 0-5-2-1 3-11-1-1-2-3 5-18 1 2-2 17 2 8 0 10 0 4-2 2 3 0 0 2 0 1-3 3 1 1 0 4 0 8-1 3 2 5 4 32 0-4-1-22 1-8-2-1 2-2 1-1-1-4 1-12-3-1 3-3-1-1 0-2-1-1-1 0 0-1 1-12 1-3 0-22 5-6-2 14 2 17-3 3 0 2 3 6-3 1 2 2 0 1 0 1-2 2 1 0 1 0 1 4-2 3 1 0 0 2 0 3-1 5 0 3 0 1 0 3 2 19 2 19 1-21-1-8 1-6-2-1 2-6 1-5-2-3-1-7 0-3 2-1 0-2 0-1 0-1-2 0 2-1-2-4 0-1 0-1 2-1 1-1-1 0-2-4 3-1-3 0 0-12 2-1 0-2-2 0 1-2-1 0 3-2-1 0-1 0-1 0 3-1-2 0 2-1-1 0-1 0 2-2-1 0-1-2 0-1 2-1-1 0-2 0 3-1-1 0-1 0 2-1-1 0-2 0 2-1-1-1 1-1-2 0 3-3 1 3 0 1 0 1 3 0-3 1 2 0 1 0-3 1 1 0 2 0-3 1 1 0 1 0 1 0-2 1 2 0-2 1 2 0-3 2 1 0 1 0 1 0-3 3 1 0 1 0 1 0-3 1 2 0 1 0-3 3 2 0-1 1-1 1 2 2-2 3 0 12 0 2 2 0-2 1 2 1 0 3-1 1 2 0-2 1 1 3-2 3 1 5 0 2 1 1-2 1 2 0 0 2 1 1 0 4-3 1 2 1-2 4 1 5 0 2 2 0-3 2 2 0 1 0-1 1-2 2 2 2-1 2 0 1 3-10 0-13 0-8 0-2 3-38-3 0 3-1-1-1 1-3-1 0 0-1-1 0-1 0 2-1-1 0 2-1-1 0-1 0 1-2-1-1 2-2-1 0-1 0-1 0 3-1-1 0-2 0 3-1-2 0-1 0 3-1-1 0-2 0 0-2 6-1 1 1-3 2 0 1 1 0 1 0 1 0-3 1 1 0 1 0 1 0-3 1 1 0 1 0-2 1 3 0-1 2 1 0-1 1 1 0-3 1 0 1 1 0 2 0-3 1 1 0-1 1 2 0 1 0-3 1 2 0 1 0 2 4-1-2 1-2-1 0 3-1-2 0-1 0 3-1-1 0-2 0 1-4 1-1-1 0 1-2-2 0 3-1-1 0-1 0-1 0 3-1-1 0-1 0 1-1-1 0 1-1 2 1 3 0-3 1 1 0 2 0-3 1 2 0 1 0-3 1 1 0 2 0-3 6 0 1 1 0 1 0 1 0-3 1 1 0 1 0 1 0 3 0-1 0 1-1-1 0 1-1-1 0 2-6-2 0 2-1-1 0-2 0 3-1-1 0-1 0-1 0 3-1-2 0 4 0 1 0-2 1 1 0 2 0-3 1 1 0 2 0-3 1 1 0 2 0-3 6 1 0 2 0-3 1 2 0-1 1 1 0 1 0-1 1 5 0 0-1-1 0-1 0 2-1-1 0-1 0 0-1 1-6-1 0-1 0 3-1-1 0-1 0-1 0 3-1-1 0-1 0 0-1 3 0 1 0 1 0-1 1 1 0 0 1 1 0-3 1 1 6 2 0-3 1 2 0-2 1 1 0 2 0 0 1 4 0-2 0-1 0 3-1-1 0-1 0-1 0 3-1-2 0-1 0 1-1 2-6-1 0-1 0-1 0 3-1-1 0-1 0-1 0 2-2 2 0 1 0 1 0 1 0-3 1 1 0 1 0 1 0-3 1 2 0 1 0-1 1 1 0-2 6-1 1 1 0-1 1 1 0 1 0 1 0 3 0-1 0-1 0 2-1 0-7-1 0-1 0 3-1-1 0-1 0-1 0 3-1-2 0-1 0 2-1-1 0 4 0-1 1 1 0 2 0-2 1 1 0 1 0-1 1 1 0-3 6 1 0 2 0-2 1 2 0-3 1 1 0 1 0 1 0-3 1 6 0-1-1 2-1-1 0-2 0 1-1 2-6-1 0-1 0-1 0 3-1-1 0-2 0 3-1-2 0-1 0 3-1-2 0-1 0 4 0 1 0 1 0 1 0-3 1 1 0 1 0 1 0-3 1 1 0 1 0-2 1 3 0-1 6-1 1 1 0 1 0-3 1 2 0 1 0 4 1-3 0 3-1-1 0-1 0-1 0 3-1-2 0-1 0 3-7-1 0-1 0 2-1-1 0-1 0-1 0 2-1-2 0 3-1-1 0-1 0-1 0 4 0 3 0-3 1 2 0-1 1 1 0 1 0-2 1 1 0 1 0-3 6 2 0-2 1 1 0 2 0-3 1 1 0 1 0 1 0-1 1 5-1-1 0-1 0-1 0 3-1-1 0-1 0 1-1-1 0-1 0 3-6-1 0-1 0-1 0 3-1-2 0-1 0 3-1-1 0-1 0 2-1-3 0 7 0-3 1 1 0 1 0-1 1 1 0 1 0-3 1 1 0 1 0-2 7 1 0 1 0-1 1 1 0 1 0-1 1 1 0 3 0 1-1-1 0-1 0 2-1-2 0 0-1-1 0 3-6-1 0-1 0 2-1-1 0-1 0 2-1-1 0-1 0-1 0 2-1-1 0-1 0 6 0-1 1 1 0-2 1 2 0 1 0-3 1 2 0 1 0-2 6-1 1 1 0 1 0 1 0-3 1 2 0 1 0 3 0-1 0 0-1-1 0 2-1 1-6-2 0 2-1-1 0-2 0 3-1-1 0-1 0-1 0 3-1 1 0 1 0 1 0-1 1 1 0 1 0-3 1 1 0 1 0 1 7-3 1 1 0 1 0 1 0-3 1 2 0 1 0 4 0-1 0-1 0-1 0 3-1-1 0-1 0-1 0 1-1-1-6 3-1-1 0-1 0 2-1-1 0-2 0 1-1-1 0 5 0 1 0 1 0-3 1 2 0 1 0-3 1 1 0 2 0-2 1 1 0 1 0 0 6-2 1 1 0 1 0-3 1 1 0 1 0 1 0-1 1 5-1-1 0-1 0-1 0 3-1-3 0 3-1-2 0 2-6-2 0-1 0 3-1-1 0-1 0-1 0 3-1-1 0-1 0-1 0 3-1-2 0 4 0 2 0-3 1 2 0 1 0-3 1 1 0 1 0 1 0-3 1 1 6 0 1 2 0-3 1 1 0 6 1-2 0 2-1-2 0-1 0 3-2 0-6-1 0-1 0-1 0 3-1-1 0-1 0-1 0 3-1-1 0-1 0-1 0 2-1-1 0-1 0 5 0 1 0 1 0-3 1 1 0 1 0-2 1 1 0 1 0-2 1 1 0 2 0 0 6-3 1 1 0 1 0-2 1 2 0-1 1 6 0-1 0 0-1-1 0 2-1-1 0-1 0-1 0 3-1-1 0-2 0 2-6-1 0 2-1-1 0-1 0-1 0 3-1-1 0-1 0-1 0 2-1-2 0 4 0 3 0-3 1 1 0 1 0 1 0-3 1 1 0 1 0 1 0-3 1 1 0-1 6 3 0-3 1 2 0-2 1 1 0 1 0 1 0-1 1 1 0 3-1-1 0-1 0 3-1-1 0-1 0-1 0 2-1 1-6-1 0-1 0-1 0 1-1-1 0 2-1 1-1-2 0-1 0 5 0 0 2 1 0 1 0-3 1 1 0 2 0-1 7 1 0-3 1 1 0 1 0 4 1-2 0 3-1-1 0-1 0 1-1-1 0-1 0 0-1 3-6-2 0-1 0 2-1-2 0 3-1-1 0-2 0 2-1-2 0 5 0 1 0-2 1 1 0 1 0 1 0-3 1 2 0 1 0-3 1 1 0 1 0 1 0-1 6 1 0-3 1 1 0 1 0-2 1 1 0 6 0-3 0 3-1-1 0-1 0-1 0 0-1 3-6-1 0-1 0-1 0 3-1-1 0-1 0-1 0 3-1-1 0-1 0-1 0 1-1-1 0 5 0-1 1 1 0 2 0-3 1 1 0 1 0 1 0-3 1 1 0 1 0 1 0-3 6 1 0 0 1 1 0-2 1 2 0 1 1 4-1-1 0-2 0 3-1-2 0-1 0 3-1-1 0 1-6-1 0-2 0 3-1-2 0-1 0 3-1-1 0-2 0 3-1-2 0 4 0 1 0 1 0-3 1 3 0-3 1 1 0 1 0 1 0-3 1 3 0-3 7 1 0 1 0 1 0-3 1 3 0 3 1-2-1 3-1-1 0-2 0 1-7 2-1-1 0-1 0-1 0 2-1-1 0-1 0 2-1 2 1 1 0 1 0 1 0-2 1-1 1 1 0 1 0 1 0-1 6-2 1 1 0 1 0-2 1 1 0 2 0 0 8-1 1 1 0 0 1-1 1 1 8 4 2-2 0-1 0 3-1-1 0-1 0 2-1-1 0-1 0-1 0 2-8-1 0-1 0 3-1-1 0-2 0 3-1-1 0-1 0-1 0 3-1-1 0-1 0 5 0-2 1 1 0 1 0 1 0-3 1 1 0 1 0 1 0-2 1 1 0 1 0-3 8 3 0-3 1 3 0-3 1 1 0 1 0 1 0 4 0-1 0-1 0-1 0 3-1-1 0-2 0 1-1 1-8-1 0-1 0 3-1-2 0-1 0 2-1-1 0 0-1 3 0 1 0 1 0-1 1 1 0 1 0-3 1 2 0 1 0-1 1 1 0-3 8 1 0 2 0-2 1 1 0 1 0-3 1 3 0 4 0-1 0-2 0 3-1-1 0-1 0-1 0 3-1-1-8 1-1-1 0-2 0 3-1-1 0-1 0 1-1-1 0 4 0 2 0-3 1 1 0 1 0 1 0-3 1 1 0 1 0-1 1-1 8 2 0 1 0-1 1 1 0-1 1 1 0 4 0-1 0-2 0 2-1-1 0-1 0 3-1-2 0 2-8-1 0-1 0-1 0 3-1-1 0-1 0-1 0 3-1-1 0-2 0 1-1-1 0 4 0 3 0-3 1 1 0 1 0-1 1 1 0 1 0-3 1 1 0 1 0 1 0-3 8 1 0-1 1 2 0 1 0-3 1 1 0 2 0 4 0-2 0-1 0 3-1-1 0-1 0-1 0 3-1-1 0-1 0-1 0 3-9-1 0-1 0-1 0 3-1-2 0 2-1-2 0 5 0 1 0-2 1 1 0 1 0-3 1 1 0 1 0 1 0-3 1 1 0 1 0-2 8 1 1 1 0 1 0-1 1 1 0 4 0-2 0-1 0 2-1-1 0-1-1 3-8-2 0-1 0 3-1-1 0-1 0-1 0 3-1-2 0-1 0 0-1 7 0-3 1 2 0 1 0-3 1 2 0 1 0-2 1 1 0 1 0-3 8 3 0-3 1 2 0 1 0-2 1 1 0 1 0 4 0-2 0-1 0 2-1-1 0 0-1 2-8-2 0-1 0 3-1-1 0-1 0 2-1-1 0-2 0 3-1-1 0-1 0-1 0 4 0 0 1 2 0-2 1 1 0 1 0 0 1-2 8 1 0-1 1 1 0-1 1 1 0 1 0 0 12 1 6-1 2-1 12 0 1 1 0 0 2-1 3 2 1-2 2 2 0-3 1 0 2 1 2 0 3-1 3 2 2 2 9 1-8 1-3 1-8-2-2 0-5 1-1 1-1-2 0 1-1-1 0 1-3-2-1 3-4-3 0 3-6-3-3 6-2-2 1 3 5-2 1 2 0-1 1-2 2 3 1-2 2 0 2-1 2 2 0 1 3-2 4 0 1 2 13-3 3 3 6 3-1 1-1-2-7 2-1-1-4-1 0 0-2-1-1 3-1 0-1-3-2 1-3-1 0 3-1-2 0 0-2 1-1 1-1 0-1-2 0-1-3 2-8 1-1-1-7 0-16 4 12 1 3-2 9-1 7 2 5 1 0-2 2-1 1 2 0-2 2 2 0 1 1 0 1-1 1 1 0-3 9 1 0 1 0-2 1 1 2 0 1 2 0 0 2-1 10 5 5-3-8 0-4 3-1-1-5 0-1-1 0 2-1-3-3 3-4 0-1-2-1-1-3 1-1-1 0 2-1-2 0 2-2-1-5 0-3 0-1 0-2 2-1 0-1-3-1 0-24 4 1 0 17 0 1 3 2-2 3 2 4-2 2 2 5 0 4-3 2 3 0-1 1-2 3 3 1 0 1-1 1 1 0 0 1-2 2 0 3-1 4 3 3-1 6 5-4 0-1 0-2 0-2 0-1-2 0-1-3 3-3 0-1 0-3-2-3 0-2-1-2 3-2 0-2-2-2 2-2 0-2-2-4 0-2 3-21 1 13 0 3 2 3-3 3 2 4 0 1-2 1 1 0 1 1 1 0 0 4-1 1 1 1 0 1-3 1 0 2 2 1 1 5-3 4 1 1-1 1 3 2-1 12 5-1 0-8 0-2 0-1-1-2 1-1-2 0 2-1-1 0-1 0-1 0 3-1 0-1-1 0 0-1 1-1-2-1 1-2-1 0 1-1-2-1 3-1-1 0-2 0 0-2 2-2-2 0 3-1 0-1-2 0-1 0 2-1-1-1-1 0 1-4 1-6 1-1 1 2 0 5 0 5 1 0 1 0 1 1 0 2-1 1-2 1 0 4 0 1 2 0-1 1-1 3 2 1-1 1 1 0-2 1 5-1 0-1-1 0 3-1-1-1 1-1-1 0-2 0 2-3-2-1 1-3 0-4-1-1 4 1 1 0 0 1 1 0-1 1 2 0-2 3-1 1 1 0 1 0-2 1 3 1-3 1 2 1 1 0-3 2 2 0-2 1 2 1 5-1-1 0-2 0 3-1-1 0-1 0-1-2 3-1-3-1 3-1-1 0-2 0 2-1 1-1-3 0 3-1-1-1-1 0 2-1-2 0 4 0 1 0-2 1 3 0-1 1-2 1 1 0 2 0-1 1 0 1-1 1 0 1 0 1-1 1 3 0-3 1 2 0 1 0 3-1-1-1-1 0 3-1-2 0 0-1 2-1-1 0 1-1-2 0 1-1-1 0 2-1-1 0-1 0 1-1 2 1 2 0-2 1 3 0-3 1 2 0 1 1 0 1-2 2 1 0 1 0-3 1 1 0 1 0 5-1-1 0-1 0 1-1-1 0 2-1-3 0 2-1-1 0-1 0 1-1 1-1-1 0 4 0 1 0 1 0-3 1 1 0 2 0-2 1 2 0-1 1-2 1 1 0 1 0 1 0 1 0 2-1-2 0 3-1-1 0-2 0 2-1-1 0-1 0 4 0 1 0 1 0-2 1 1 0 1 0 1 0-3 1 1 0 1 0 1 0 3 0-2 0 3-1-1 0-1 0-1 0 0-1 4 1 1 0 1 0 1 0 3 0-1 0-1 0" fill="none" stroke="none" marker-start="url(#k0)" marker-mid="url(#k0)" marker-end="url(#k0)"/>
<marker id="k2" markerUnits="userSpaceOnUse" markerWidth="1" markerHeight="1" overflow="visible"><circle r="1.4" fill="#0000ff"/></marker>
<path transform="scale(.5)" d="M424 1321l2 8 0 15-1 9 0 4" fill="none" stroke="none" marker-start="url(#k2)" marker-mid="url(#k2)" marker-end="url(#k2)"/>
<path d="M67.5 618.8 L91.7 619.7 L105.3 620.3 L119.0 621.2 L129.7 622.2 L143.7 624.1 L154.6 626.0 L171.7 629.3 L179.4 631.0 L183.9 632.1 L188.4 633.7 L190.1 634.7 L195.3 638.7 L197.0 639.7 L198.7 640.3 L203.9 641.6 L205.6 642.3 L207.3 643.9 L209.0 646.6 L211.6 654.3 L212.4 662.0 L215.0 656.0 L217.6 653.4 L219.3 657.7 L225.3 658.2 L231.4 658.4 L260.0 658.8 L302.1 659.1 L443.5 659.6" stroke="#0000ff" stroke-width="2.6" fill="none" stroke-linejoin="round"/>
</g></g>
<g>
<line x1="605.0" x2="980.6" y1="59.60" y2="59.60" stroke="#ffc0cb" stroke-width="2"/>
<line x1="605.0" x2="980.6" y1="46.10" y2="46.10" stroke="#ffc0cb" stroke-width="2"/>
<line x1="605.0" x2="980.6" y1="46.10" y2="46.10" stroke="#dd66dd" stroke-width="2"/>
<line x1="605.0" x2="980.6" y1="32.60" y2="32.60" stroke="#ffc0cb" stroke-width="2"/>
<line x1="605.0" x2="980.6" y1="19.10" y2="19.10" stroke="#ffc0cb" stroke-width="2"/>
<line x1="605.0" x2="980.6" y1="5.60" y2="5.60" stroke="#ffc0cb" stroke-width="2"/>
<clipPath id="c10"><rect x="605.0" y="4.50" width="375.60" height="68.10"/></clipPath>
<g clip-path="url(#c10)">
<line x1="790" x2="980.6" y1="46.2" y2="46.2" stroke="#008000" stroke-width="3"/>
<path transform="scale(.5)" d="M1211 41l-1 5 3 65-1-2 1-19 2-5-2-9-1-3 2-15 1-2-3-1 2-3-1-8-1-12 4-6 1 10 2 1-2 2 1 3-1 6 1 1-2 3 0 5 0 1 3 0-1 6 1 1-1 18 0 3 1 0-1 1-1 4-1 22 4-24 2-2-2-1 3-2-2-4 2-14-1-8 1-4-3-9 1-7 2-10-3-3 4 6 3 10-2 1 1 0 0 1-1 2 0 1-1 10 2 1-1 4 0 3 0 2-1 15 0 1 3 1-2 10 1 6 4 28 1-20-3-1 0-12 2-16 0-12 1-8 0-7 0-2-2-10-1 0 3-2-1-2 0-2 0-3 4 4-1 1-1 2 3 13-3 1 0 1 1 2 0 7 1 5 0 1 2 27 1-1 0-8 0-7 1-5 1-3-3-10 3-1-3-2 1-22 2-7 3-14 1 5-3 11 1 2 0 1 1 2-2 3 2 9 1 12-1 14-2 2 3 1 0 9-3 14 0 10 2 2 3 2 0-19-1-3 3-9-1-5 1-1 0-1-1-1-2 0 3-1 0-1-2 0 2-3-2-7 2-6-3-7 1-2 1-29-1-4 5 50-2 3 1 8 0 1 2 5 0 15 4-5-3-17 2-4-1-4 1-2 0-1-2-18 0-3 0-1 2-3 4 0 0 18 1 1-1 4-2 1 0 3 1 3 2 0-1 10 0 8-1 2 0 25 6 0-1-2-2 0 0-14 0-12 3-1-1-4-2-1 2-1-1-2 1-4-1-6 2-2-1-1-2 0 2-2 0-4-2-29 6-3 1 12-1 8-1 10 2 5-1 5-2 4 2 1-2 7 3 0-1 19 0 3-2 3 6-5-2-1 1-19-1-6 0-3 3-7-1-7-1 0 0-2-1 0 2-2-2-2 3-1 0-2 0-8-3-7 2-3-2 0 3-1-3 0 2-5 3-1-1 3 2 0-1 3 1 10-1 12 2 0-3 10 3 2-1 1 0 9 1 6-2 20 1 8-2 33 7-8-1-36 1-7-2-8 1-19 0-4-2-4 3-10 0-9 1 8 3 2-2 1 2 4-2 2 1 6 0 1 1 2-2 2 2 6-2 7 0 5 2 8 0 2-2 2 2 2 0 38 1-48 0-4 1-4 1-7-2-4 1-10-1-3 2-15-2-1 0-10 0-4 7 16-2 5 0 4 2 0-3 2 1 0-1 23 2 0-2 24 3 3-2 1 4-3 0-1 1-2-2-9 3-3-3-9 0-2 2-3 0-1 1-3-3-1 3-1-1 0-1-2 1-11 0-1 1-3 0-2-2-7 2-20-3-1 4 25 2 0 0 1 1 3-3 7 3 1-3 8 2 2-2 7 1 11 0 1 6 20-1-20-2 0 0-3 3-2-3-1 2-3-1-1 0-1 2-2-3-2 1-26-1 0 7 8 0 6 0 5-2 1-1 3 2 0-2 7 3 6-2 2 1 4 1 9 0 4-2 5 2 0-1 14 1 3 1 2 3-43-1-2-1-3 0-4-1-1 3-6-1-31 5 46-1 10 0 2 1 8-1 25 1 3 3-25 1-5-2 0 1-3-1-3 2-8-2-4 0-20-1-7 6-24 1 0-2 22 0 5 1 0 0 1 1 0-1 3 1 4-2 6 1 13 0 2 1 2 0 1-3 15 3 3-1 32 3-2 0-3 2-6-2-3 1-17 0-21-1-4 0-18 2-1-3 0 1-1 2-3-2-9-1-18 6 1-1 28 0 2 0 1 0 2 0 3 2 13-2 9 2 3 2 52 0-3 1-19-1-4 2-17-2-13 1-12 0-4 0-4-1-1 2-4-3-1 1-2-1-2 0-2 1-26 2-13 4 19-3 4 2 2 0 7 0 5 0 3-1 1-1 5 1 7 0 4-1 1 2 2 1 1-1 2-2 8 0 4 1 1 1 3 1 4-3 7 2 3 3-4 1-2-2-2 2-6 1-9-2-13-1 0 3-1-3-1 2-3-1-2 0-8 1-1-2-12 3-5-2-7 2-7 4 1-1 21 1 0-2 2-1 4 1 2 2 4-3 2 1 7 0 2-1 10 0 4 1 3 0 5 2 6-3 2 2 1-1 4 3 12 2-13 0-9 0-12-1-1 1-3 0-2 1-1-2-2 1-1-2-2 0-3 0-5 1-2 1-1-1-8 2-1-3-1 0-2 1-2 1-3-1-18 3-7 0 3 0 16 2 11-2 6 1 2 1 1-2 3 2 4-1 4 0 6 1 0 0 4-2 2 2 6 0 10-2 2 4 3 0-2 0-1 2-7 1-11-2-2-1 0 1-3 1-2-1-2 2-2-1 0-2-3 0-17 6 13 0 4 1 0-3 9 3 0-3 14 0 3 3 7 0 1-1 2 1 2 2-1 0-2-1-12 2-2-2-4 0-8 2-3-2 0 3-9-1 0-2-2 3-2-1-4 0-4 1-19 0-2-3-1 5 4-1 4 3 1-1 12-2 19 1 5 2 1 0 3-1 3-2 7 3 8-1 38 3-3 0-28 2-7-1 0-2 0 2-2-1-3 0-8 2-3-3-1 2-2 1-1 0-5-2-3 1-15-1-7-1-2 3-2-2 0-1-3 1-2 1-18 3-2 1 26-2 2 1 4-1 1 0 2 1 16 1 0 1 0-1 3-2 2 1 1 0 2 0 1 2 0-3 2 2 1-1 3 0 1-1 1 3 1 0 16-3 1 5 32 1-29-2-2 0-22 3-22-2-10-1-4 2-4 0-2-1-3-1-18 7 8 0 6-1 17-2 2 0 9 3 8-2 8 2 1-3 1 1 9 1 3 1 15 4-2-2-3 0-11 1-7 0-3 1-3-3-1 2-1 0-4 1-2 0-3-3-42 6 14-2 8 2 18-2 1 1 3 2 1 0 5-2 1 1 0 1 2-3 4 1 8 2 19 0 6 1 2 1-9 1-9-2-8 1-5 2-3-1-7-2-7 1-3 0-5 1-1 1-1-1-2-2-2 3-1 0-2-3 0 2-12 1-3 3-2 0 12 1 11-2 1 2 24 0 2 0 3-3 4 3 7-3 2 1 0 2 0 0 5 0 3 4 19-1-24-1 0 0-1-1-1 1-8 1-5 0-2-2 0 2-4-2-1 3-1-2 0 1-3 0-7-1-2 1-5 1-12-2-1-1 0 3-1 4 3-3 1 1 2 1 9-2 5 1 2 1 20-1 13 0 5 0 21 2 2 2-3 1-3 1-20-3-2 0-33 3-6-1 0 1-11 4-26-1 3-2 28 3 2-2 2 1 24 1 5-2 2 0 2-1 1 3 0-3 2 3 1 1 11 0-5 1-5 2-13-3 0 0-3 2-1-1-21 0-2 2-1 3-15-2 1 2 2 0 12 0 3 1 1-1 9-2 2 0 10 0 4 0 3 1 16 6-7-1-17 1-6 0-27-3 0 1-26 3 1 0 31 2 17 0 3-2 5 2 0 0 3-1 2 1 2-1 5 2 1 2 2 0-3 2-3-3 0 2-6 1-14-1 0-2-1 2-12-2-1 4 9 0 2 1 6 2 0 0 3-3 1 3 0 0 1-2 8 1 5-2 9 1 2 0 1 5 17-1-3 0-13-1-1 2-3-2-2 1-2 1-3-2-4 1-1 1-3 1-9-2 0-1-3 3-2-2-1 0-6 2-12-3-12 0-8 1-2 4 0 2 9-3 1 3 22-1 7-2 3 2 0 1 7-2 2 0 12 2 3 1 13 2-2-1-10 1-16-2 0 1-14 1-5-2 0 0-11 2-13 4 15 1 0-1 1-2 8 0 9 1 3 2 2-3 3 1 2 0 1 2 4-3 4 0 8 2 14 1 3-1 3 1 3 0 2 0 6-3 1 5-3 0-9-1-10 0-1 0-2 3-2-3-21 1-3 1-25-1-3 2-2 3 3 0 19-2 2 0 3 3 2 0 13-2 2-1 4 3 0 0 14-3 1 3 6 2-1 0-1 2-12-2-7 1-18 1-6 0-1 0-2-2 0 3 1 1 3 0 3 0 1 0 2 2 0-2 6 2 13-3 4 1 14 6-3 0-20-3-8 2-2-1-1 1-3-2 0 2-5-2-1 3-1-2-2 2-3-3-27 3-5-1-2 4 40-2 2 1 4 1 0-1 2 0 3 0 4 0 3 1 3-1 5-1 4 0 8 1 5-1 2 1 3 3-19 1-3 2-4-1-4 1-4-3-4 1-2 2-2-3 0 3-3-3 0 2-1 0-1-2-1 2-31 3 20 1 9-2 7 2 6 1 3-2 1 1 0-1 5 4 6-1-2 2-1 1-1 0-2-3-10 2-5-2-3 0-13 4 0 1 0 2 1-1 2-2 3 0 10 1 1-1 1 1 1 2 1 0 1-2 4 2 2-2 9-1 5 2 0 1 0-1 3-2 12 7-12-2-6 0-4 2-3-3-1 2-1-2 0 2-11-2-10 1-1 2-1-3-1 1-1 3-11 2 12 1 0-3 2 1 4-1 4 0 4 3 1-2 7-1 1 3 3-3 8 2 2-1 11 0 1 3-3 3-17-3-1 1-8-1 0 3-1-3 0 0-1 3-1-3 0 3-12-3-7 0-4 0-4 7 5-1 7-2 1 0 12 1 5 2 0-1 9 1 1-3 2 7-5-3-1 3-1 0-1-2 0 0-1-1-5 2-6-2 0 3-1-2-9 1-5 0-3 4 17-1 4 2 2-3 2 2 0 1 0-2 4-1 1 2 0 1 11 4 9-1-4 0-3-1-7 2-1-2-1 1-2-1-1-1-1 2-3 0-2 1-9-1-1-2 0 3-1-2-2 1-10-1-4 5 17 0 8-2 2 3 0 0 1 0 14-2 4-1 11 2 2 2-3 0-8 0-7 2-1 0-1 0-7-2-1 3-1-2-2 0-1 0-6 3-4 0 4 0 2 2 0-2 3 2 5-1 1 1 2 0 1 1 2-1 4 1 2 3 1 0-1 1-3-2-1 2-1 0-2-3 0 2-1 1-2-3-1 2-1-2-5 2-1 0-2-1-2 0-3 5 3-1 2-1 1 2 0-1 2 0 1 0 5 2 0 0 1-2 5 2 3-1 3 2 3 0-8 3-1-1-1-1-1-1 0 1-1 2-1-3-2 1-1-1 0 2-2 0-5-1 0 1-3-1 0-1 0 3-3 0-1 0-2 1 9 0 1 2 0-2 1 0 5 3 0-3 6 0 1 5 7 2-15-2-2 0-1-1-4 1-2-1 0 3-3 0-4 2 4-1 4 3 1-3 3 1 0 1 0 1 0 0 2-2 1 1 0 0 2 1 0-2 2 2 0-3 1 2 0 1 1 0 1-1 3 1 1 1-5 0-1 1-2 0-1 1-1-1-1 1-1-1-2 5-10 1 5-2 2 2 1-3 2 3 1-1 2 1 1-3 1 3 0-3 1 2 3 1 4 1 2 0-1 3-2-3-1 1-3 0-1 0-6-1-1 0-2 5-4 2 2-3 3 2 0-2 2 0 2 0 4 2 0-1 2 0 2 1 0 0 2 1 0-1 2 1 0 0 1-2 1 0 1 2 1 4-2-1-1-1 0 2-1-2-1-1-1 1-1 1-1 1-2 0-1-2 0-1 0 2-1-2 0 3-1-2-1 2-1-1 0-2 0 6-4-1 2-1 1 3 1-3 1 1 0 0 1 1 0-2 1 1 0 1 0 1 0-3 1 1 0-1 1 3 5-3 1 0 2 6-3 1-1-2 0 2-1-1-4-2 0 3-2-1 0-1 0-1 0 0-2 7-9-3 5 2 0 1 0 0 2 0 1-1 1-1 1 2 0-2 1 2 0-2 1 2 0-2 1 2 0-3 1 1 2 2 1-2 3-1 1 7 0-2-2 1-2 0-1 1-2-3 0 3-2 0-1-1 0 1-1-2 0-1 0 2-2 2 0 0 3 1 0 1 0-1 1 1 0 1 0-3 1 2 0-2 10 7-11-1 0-1 0 2-1-1 0-1 0 2-1-1 0-2 0 4 0 1 0 2 0 0 1-2 1 2 1 1 0 1-1 2-1-2 0 1-1 3 0 1 1-2 2 3 0 3 0-1 0-1-1 3-1-1 0-1-1 5 0 0 1-2 1 0 1 4 0 3-1-1 0-1 0 2-1-1 0 3 0-1 1 3 0 2 1 1-1-2 0 2-1 2 0 2 0-1 2 6 0-3-1 3-1-2 0-1 0 6 0-2 1 5 1-1 0 2-1 0-1-1 0-1 0 7 0-3 1 7 1-2 0 2-1-3 0 4-1 2 0 0 1-2 1 3 0 4 0-1 0-1 0 2-1 2 0 1 0 0 1 5 0-1 0-1 0 2-1-1 0-2 0 3-1-2 0 6 1-1 1 4 0 1-1-3 0 5 0 1 0-2 1 1 0 1 0 1 0 3 0-1 0 2-1-1 0 2 0 1 0 1 0-2 1 1 0 5 1 1-1-2-1-1 0 6 0 1 0 0 1-3 1 2 0 4 0 1-1-1 0-1 0-1 0 2-1 2 2 2 0 4-1-1 0 0-1 3 1 2 0 5 1-2 0-1 0 2-1-1 0 1-1-1 0 3 1 2 1 5-1-1 0-1 0 3 0 2 0 1 0-2 1 2 0 4 0-1 0-2 0 3-1-1 0-1 0 3 0 1 0 1 0-2 1 1 0 3 0 3-1-1 0-1 0-1 0 4 0 3 0 0 1 3 0-2 0 0-1 6 0-2 1 1 0 1 0 1 0 4 0-1 0-2 0 3-1-3 0 4 0 1 0 1 1 1 0 4 0-2 0-1 0 3-1-2 0 3 1 1 0 1 0 5 0-1 0-1 0-1 0 4 0 2 0 1 0 3 0-1 0 3 0 1 0 1 0 1 0 4 0-1 0-1 0-1 0 5 0 1 0 1 0 3 0-2 0 4 0 2 0 1 0 4 0-2 0-1 0 4 0 1 0 1 0 2 0" fill="none" stroke="none" marker-start="url(#k0)" marker-mid="url(#k0)" marker-end="url(#k0)"/>
<line x1="805" x2="980.6" y1="49.9" y2="49.9" stroke="#0000ff" stroke-width="3"/>
<marker id="k3" markerUnits="userSpaceOnUse" markerWidth="1" markerHeight="1" overflow="visible"><circle r="1.2" fill="#0000ff"/></marker>
<path transform="scale(.5)" d="M1482 95l-2 3 2 0 0 6-2 4 6 2-2-1 3-3 0-1 0-2-2-3 4-1-1 2 1 1 0 8 0 1-1 1 4 1 3-6-3 0 0-1 0-2 3-1-1 0-1-1 2-3 4 3-3 1 2 3 1 4 1-2 3-1 0-1-2 0 0-2 1-2-2 0 2-1 2 2 0 4 3 1 2 4 2-5-2 0 2-2 0-3-3-1 6-2-1 2 0 4-1 5 1 4 3-2 1-1 2-4-2-2 1-1 3-6 2 9 0 2-1 1-2 2 7 0 0-3-2 0 1-6-1-6 5-2-2 6 1 0 1 7 1 6 4-3-1-1 0-3 1-3-2-3 4 1-1 1 0 2 0 3 4-2 3-1-1-1 0-1-1 0 1-1 1-2 2 2 0 2-1 4 0 1 4 3 0-3 1-3 1-2 1-4 2-4-1 17 7 0-1-2-1-3-1 0 3-1-2 0-1-5 6-7-1 1 0 4 1 0-2 1 1 1 0 1-1 4 5 8 1-4 1-1-2-1 1-1-1 0 1-2-2-1 3-1-2 0 1-1-1-1 0-2 3-4 0 4 3 2-3 2 3 3 3 1-1-1 2-3 1 0 1 0 2 0-1 3-2 5 7 5 0-7-1-1 1-2-2-5 6 3-2 1 0 3 2 3 4 1 0-5-1 0-1-1 0-1-1-2 3-1-1 0 3 0 2 1-1 1 0 2-1 1 2 1 2-1 0-2 2-1-1-3-2 0 7 1-1 2-2 1 0 2 2 0-2 4 6 1-2-3 1-2-1-2 3-1 0-5-2 0 4 1 1 3-2 1 1 0 2 7 3-2 1-3 0-3-3-1 4-3 2 0 0 3 2 4 1-1-1-1 0-1 1-1 1-4 5-1-1 3-1 2 0 2 0 4 4-2 0-4 0-2 0-5" fill="none" stroke="none" marker-start="url(#k3)" marker-mid="url(#k3)" marker-end="url(#k3)"/>
<path transform="scale(.5)" d="M1379 60l0 8 2-2-1 0 1-2 0-3-1-1 0-1 4-2 2 1 1 0 0 3-3 2 1 0 0 1 1 4 0 1 4-1-2-2 1-2 2-10 3 2-1 8 6 6-2-3 0-6-1-2 5-6 1 6-1 3 2 13 4-9 2 20 5-11-1-6 0-2 0-1 0-1 1-2 3-8 0 15 0 12 6 3-1-6-1-1-1 0 1-1 1-18 3 6 2 10-1 2 0 15 3-12-1-2 2-2-2-2 3-2-1-9-2-1 5-4 2 6-1 6 1 13 3 0-1 0 1-4-2 0 0-8 2-5 3-9-1 12 3 3-3 17 7-2-1 0 1-8-3-3 1-1 2-1-2-3 0-4 3 20 4 10 2-9-1-6 1-2-2 0 3-1-3 0 1-6 3 1 3 3-1 1 1 6-1 9-2 1 6-2 1-2-3-4 3-4-2-9-1 0 5-2-1 3 1 1 2 1-2 2 0 3 3 15 2-11-1 0-1-17 5 7 1 0 0 15-1 4 3-7 2-5-2-4 2-3 5-5-3 12 1 1 0 1 0 2 1 0 0 2 1 0 2 9 2-2-1-5-2 0 0-3 1-6 6-4-2 9 2 1-3 3 6 1-2-8 2-7 2 1 0 6 0 5 3 3-3 1 3 4 4 3-3-8 0-2 3-3 3-5-2 6 2 5 1 4-2 1 4 5 2-1-2-11 0-9 5 1-2 4 2 8 2-9 6-2 1 7-2 4 2 16 3-10 1-5-2-1 1-2-2-4 2-2 1-1 1 0 3 8-1 1 0 4 5-8-2-5 4-3 2 3-2 1-1 10 3 1-1 6 2-4 1-3 2-1-2-2-1 0 1-4 6-1 0 4-3 1 0 9 0 1 7-7-1-2 0-6 4-3 1 3-3 1 0 2 2 2 1 4-3 1 3 0 0 1 0 1-3 3 7-6-1-1 0-11 5 5 0 7 0 3-3 2 0 6 5-6 2-3 1-7 1 1-1 3 0 3 1 4 4-5-1-2 1-10 5 9-1 3 1 1-2 3 5 3 0-3-1-3 0-6 0-1 3-1 4 0 0 9 0 1 2 2 2-4-2 0 0-2 1-3-1 0 0-1 4 1-1 1 0 1 2 0-1 2 0 3-1 6 6-1 0-1 1-2 0-3-2 0 2-4 1-5 3 6-3 2 1 2 2 0 4-4-1 0-2 0 4 2 0 3 3 1 4 0-1-1 0-2 1-4-2-1-1-1 6 3-1 7 6 1-2-1 0-3-1-4 0-8 6 6 0 4 0 1 1 1-3 1 5-4" fill="none" stroke="none" marker-start="url(#k1)" marker-mid="url(#k1)" marker-end="url(#k1)"/>
<path d="M605.0 20.6 L627.9 21.7 L638.6 22.6 L643.3 23.2 L655.7 25.2 L674.3 27.1 L679.2 27.9 L689.1 29.9" stroke="#0000ff" stroke-width="2.6" fill="none" stroke-linejoin="round"/>
<path d="M689.1 29.9 L689.0 29.3 L690.3 30.7 L691.6 29.9 L692.9 31.1 L694.2 30.4 L695.5 31.2 L696.8 32.3 L698.1 32.6 L699.4 33.9 L700.7 32.9 L702.0 30.9 L703.3 32.7 L704.6 33.3 L705.9 32.3 L707.2 31.3 L708.5 32.2 L709.8 34.8 L711.1 39.0 L712.4 40.3 L713.7 39.0 L715.0 40.4 L716.3 37.7 L717.6 39.1 L718.9 40.1 L720.2 37.4 L721.5 34.8 L722.8 38.1 L724.1 38.3 L725.4 35.7 L726.7 36.6 L728.0 37.2 L729.3 37.4 L730.6 36.7 L731.9 41.3 L733.2 42.1 L734.5 39.9 L735.8 38.2 L737.1 37.7 L738.4 39.5 L739.7 38.1 L741.0 39.0 L742.3 45.2 L743.6 40.9 L744.9 42.7 L746.2 42.2 L747.5 44.7 L748.8 44.8 L750.1 43.3 L751.4 44.6 L752.7 43.4 L754.0 44.8 L755.3 45.2 L756.6 46.4 L757.9 46.9 L759.2 48.3 L760.5 47.4 L761.8 47.5 L763.1 46.8 L764.4 45.8 L765.7 46.6 L767.0 42.0 L768.3 40.1 L769.6 42.1 L770.9 45.0 L772.2 45.2 L773.5 47.5 L774.8 45.1 L776.1 46.5 L777.4 46.1 L778.7 44.9 L780.0 46.1 L781.3 46.1 L782.6 48.5 L783.9 47.1 L785.2 47.7 L786.5 49.8 L787.8 51.6 L789.1 51.6 L790.4 49.5 L791.7 49.8 L793.0 49.8 L794.3 48.0 L795.6 48.5 L796.9 47.8 L798.2 47.4 L799.5 48.8 L800.8 49.6 L802.1 49.3 L803.4 49.8 L804.7 49.2 L806.0 49.6 L807.3 49.7 L808.6 49.9 L809.9 50.7 L811.2 52.2 L812.5 52.8 L813.8 51.2" stroke="#0000ff" stroke-width="2.2" fill="none" stroke-linejoin="round"/>
</g></g>
<g>
<line x1="605.0" x2="980.6" y1="127.70" y2="127.70" stroke="#ffc0cb" stroke-width="2"/>
<line x1="605.0" x2="980.6" y1="114.20" y2="114.20" stroke="#ffc0cb" stroke-width="2"/>
<line x1="605.0" x2="980.6" y1="114.20" y2="114.20" stroke="#dd66dd" stroke-width="2"/>
<line x1="605.0" x2="980.6" y1="100.70" y2="100.70" stroke="#ffc0cb" stroke-width="2"/>
<line x1="605.0" x2="980.6" y1="87.20" y2="87.20" stroke="#ffc0cb" stroke-width="2"/>
<line x1="605.0" x2="980.6" y1="73.70" y2="73.70" stroke="#ffc0cb" stroke-width="2"/>
<clipPath id="c11"><rect x="605.0" y="72.60" width="375.60" height="68.10"/></clipPath>
<g clip-path="url(#c11)">
<line x1="758" x2="980.6" y1="114.4" y2="114.4" stroke="#008000" stroke-width="3"/>
<path transform="scale(.5)" d="M1210 186l1 68 0 2-1 1 3-1 0-1 2-2-2-5 1-10-2-5 2-22-1-14 2-2-2-8 1-27-2-3 3-6-3-2 4 21 3 5-1 3-1 3 1 7-1 24 0 3-1 5 0 1 2 1-1 9 0 9 2 35 2-11 1-40-2-12 3-14-3-10 5-8 0 9 2 10-2 6 0 10 2 2 0 12-3 1 2 0 5 10-3-10 3-1-2-18 0-6 0-3 0-2-1 0 3-11-1-15-2-11 1-2 0-2 3 18 1 9 2 2-2 4 2 1-3 5 1 1 2 2 0 4 0 2-2 3 1 0 1 10-2 9 2 0-1 2 4 27 1-27-2-2 0-7 2-4 0-4-1-2 0-3 1-2 0-1-2 0 0-2 0-4 2-6-2-2-1-1 0-1 3-2-1 0 0-3-1-1 2-2-3 0 1-9 2-9-2-15 1-3 5 27-3 12 3 4-3 8 0 3 3 6-3 3 1 5 2 3 1 25 3-7-1-7-1-13 0-11 1-7 0-1-1-1 0-8 2-3 0-10-3-13 6 12-2 15 0 7 0 5 2 0 1 3-1 26-2 9 3 3 0 2 3 4 1-18-3 0 1-1 0-3 1-9 0-1 1-14-1 0-1 0 1-1-2-1 1-28 2-9 2 7-1 19 2 1 0 9-2 3 3 0-2 3-1 5 0 4 0 1 0 12 1 5 1 2-2 2 3 6-2 1 3 20 2-3 1-18 0-3-3-1 0-1 0-1 0-1 3-7-1-7 1-4-3-1 3-7-1-1 1-1 0-3-2 0 1-14-1-4 1-9-2-1 4 1 1 11 0 9 0 9 1 1 1 0 0 3-2 4 2 1-1 4-2 4 2 7-2 14 2 5 0 3-2 17 1 3 5-34 0-27 0-3-2 0 1-7-1-1 3-6-2-4 2-2-2-1-1 0 3-4-1-9 1-1-2-1 5 1-1 6 2 11-1 2-2 6 3 1-3 1 2 13 0 8-1 2 1 0 0 5 0 17-2 25 6-4-2-24 0-3 2-14-2-2 1-2 2-3-3 0 3-5-2 0-1-3 3-5-3 0 2-6 0-4-2-9 5-9 2 3-3 5 3 4 0 4-2 7 1 8-2 4 2 0-2 1 3 3 0 1 0 7-3 39 0 5 4-8 1-2 1-17 0-23-1-8 2-11-2-4 1-2-1-5 0-3 2-1-1-3-2-2 0-4 3-1 3 11-2 11 3 0 0 6 0 8 0 5-2 3 0 21 0 1 1 1 1 2 0 1 0 16-3 1 6-15-2-6 1-4 2-7-3-10 1-10 2-3 0-4-2-8 2-1-2-7-1-3 5-3 0 5 1 0 1 1-2 1 1 3 0 2 0 7 0 6-1 9-1 1 0 1 0 3 2 0 0 1 1 0-3 8 0 3 0 16 7-9-1-2-2-2 3-28-2-12 0-2 2-2-2 0 1-4-2-4 3-15 3 1 1 7 0 11-1 3-1 3 2 1 0 1-2 25 0 3 2 11 0 7 3-4-1-1 2-10 0-3-3-5 3-6-2-18 2-2-1 0 1-3-3-13 7-22-1 25-2 1 1 10 0 15-1 5 2 0-1 4 2 11 0 2 4 23-3-26 0-1 2-4 0-11 1-18-1 0-1-2 2-1 0-13-2-16 3 2 2 0 0 16-2 11 1 4-1 11 1 6 2 4-3 2 3 1-2 2-1 30 4 0 0-1 1-16 0-3 1-25 0-4 0-1 0-2-2-3 0-4 6-21 1 4-1 9-1 1 2 3-1 6 0 9-2 42 7 26-1-21-1-6-1 0 2-4-2 0 3-15-1-6-2 0 3-2 0-9-1-21-2-1 1-9 4-15 2 29-3 11 2 0 0 1-2 2 1 1-1 2 1 3 2 0-2 7-1 2 2 1 1 0-1 5-2 2 2 9-2 6 2 3-2 1 7 33-1-35-1-10 0-14 2-1-2-8-1-8 1-1-1-2 0-8 1-18 2-13-3-2 4 34 2 1 1 2-1 8 1 1-1 5 0 4 1 12 0 3-2 5-1 12 6 17 1-4-1-26-2 0 0-1 3-7-1-1 1-2-3 0 3-5-1-1 1-1-2 0-1-2 2-1-1-3 1-2 1-7 0-2-2-1 1-2-1-8-1-2 0-14 4-13 1 2 1 8 0 19 0 9 0 5 1 3-2 3 2 21-3 2 1 4 1 17 3 18-1-13 3-3-3 0 1-3-1 0 1-13 0-1 1-2-1-2 2-19-3-3 7-22-1 2 0 12 0 3 1 11-3 9 2 2-1 9 1 0 1 4-3 1 0 11 0 18 7 2-1-5-2-28 0-20 0-25 0-3 3-1-1 0-1 0 2-3-1-9 1-12 2 3-1 10 3 14-1 4-2 1 0 2 3 18 0 3-3 13 3 7-3 23 1 10 6-32-2-1 1-18 0-5 1-2-3-13 3-1-3-12 5 10 1 1-1 2 1 1 0 18 0 2 1 10-2 14 2 23-3 1 5 10 2-2 0-31 0-3-3-8 1-5 2-8-2 0 1-1-2 0 1-12-1-4 0-1 3-1-2-10 2-8-2 0 1-28 2 1 2 28-1 1 2 2-2 2-1 9 2 3 1 20-3 1 3 8-1 6-2 1 1 3 1 18-2 3 5-32 2-15-2-3 2-3 0-5 0-7 0-2 4-34-1 2 1 29 0 4-2 2 0 4-1 4 3 5-3 2 0 4 2 3 4 15 1-6 0-11-1-2-1-5-1-9 1-1 1-3 1-2-1-1 1-34-2-1 3 21 0 5 2 3 1 1-2 1 1 3 0 7 1 1-3 4 1 2 0 13 2 5-2 8 0 1 0 1 0 1 0 3 2 3-1 8 2 12 3-26-3-1 1-3-1 0 3-4-3-1 0-21 2-1-1 0-1 0 2-3 0-1 1-1 0-3-2-2-1-4 0-13 5 18 2 1-1 1-1 1 1 22 0 22 1 2-3 5 7 21 0-19-3-2 3-13-1-3-2-5 1-4 0-2 2-13-2-16-1 0 3-2-3-14 0-3 3-5 2-3-1 6 1 16 0 18-1 5 0 1 3 0-2 3 2 10-1 9 2 5 0-8 0-4 1-3 1-3 1-5-1 0 0-3-1-4-1-2 3-13-2-8 2-3-2-10-1-2 2-1-1-10 5 9 0 25 0 6 0 4-1 19 0 4 1 3-1 1 1 8 1 2 0 3 0 3-3 6 4-23 3-7-2-1-1-1 3-9-2-2-1-2 2-2-2-2 2-7-2-1 3-33-3 0 2-1 2 3 0 2 0 30 2 7-2 4 1 10-1 1 3 0-2 2 1 1 1 4-3 3 0 11 0 2 3 4-3 2 2 2 3-1 0-1 1-18 0-2-1 0 1-8 0-1-1-7-1-1 2-6 0-41 5 5-2 3 2 13-3 1 1 10 2 3-2 14 0 3 1 8-2 3 2 4-2 1 2 3-2 13 6 0-2-15 2-1-1-3 1-3 1-11-3 0 3-3-1-1-2 0 3-1-2-3 2-2-2-5 3-12 0 5 2 10-2 4 3 1-2 3 0 1 1 2 1 12-2 1 0 3 1 17 2-1 0-5 1-4 0-3-1 0 1-8-1-2 1-4 1-13 0-2-1-8-1-3 7-12 0 3-2 3 1 2-1 17 2 1-3 1 2 1 0 5 0 1-2 3 3 0-3 4 2 0-2 2 2 3-1 6 2 1-3 1 7 3-2-6 2-2-1-10 1-4-1-3-1 0 1-2 0-1 1-10-1-2-1 0 2-11-1-6 5 2 0 4 0 7 0 3-1 9-2 2 0 2 1 0 1 1-1 7 0 2 1 0 1 2-2 3 2 13 3 8 1-3-3 0 1-7-1-6 0-2 3-7-3-1 1-1 1-1-2-1 2-4-2 0 1-4-1-1 0-8 2-3-2-4 5 5-1 11 2 4 0 1 1 0 0 1-3 2 3 17-1 3-1 3 3 13 3-3 0-1 0-13-2 0-1 0 2-2-2 0 1-2-1 0 2-2-2-1 2-3-1 0 2-2-1 0-1-8-1-1 2-1 1-5-2-19 6 8 0 8-2 1-1 1 1 3 0 6 1 7 1 12-3 1 1 0 1 0-1 4 0 1-1 4 6-4-1-4 2-4-1-1 0-3 0-6-2-2 1-2 1-3-1 0 1-2 0-1 1-1 0-6-1-2-2-10 1-1 6-5-3 4 1 11 1 3 0 5 1 1-2 2 1 0-1 1 0 2 1 0 0 9-2 1 1 2 1 0-1 1 0 2 2 0-2 1 2 0 0 1-3 1 1 6 4 3 0-16 2-1-1-2-2 0 0-1 1-5-1 0 0-4 1-2 0-2 1-1-1-5-1-1 2-1 1-2-1-8 0-4 2 14 1 3 1 8-2 4 2 6 0 3 1 5-1 3-2 13 7-7 0-2 0-2-1-1-2-4 3-3-1 0-1-1 2-3-2 0 1-1-1-2 0-3 1-5-2-1 5 0 2 4-3 1 3 1-1 4-1 4-1 1 3 0-3 1 3 0 0 1 0 10 1-7 1-2 0-2 0-7 2-2-1-1-2-2 5-3-1 2 3 0-1 1-1 4 0 1 2 1-2 1 2 5-2 1 1 4-2 2 1 2 5 5 1-1-2-10-1 0 3-4-1 0 1-2-1-1-1-1 0-2 1-1-1-11 2-2 0-5-3-2 4 9 0 2 0 11 0 1 1 0 1 2-2 1 1 1 6 0-2 0-1 0 3-1-1 0-1 0-1 0 0-1 2-1-2 0 3-1 4-1-1 1 0 1 1 0-3 4 2 0 5-3-1 0 0-1-2 0 4-1 1 0 0 3 0 1 1 1 4 0 0-1-1 0 0-1 0-1 0-1-1 0 1-1 3 0 2 3 1 0-2 1 1 0 1 0 4 0-3 0 1-1-1 0 1-2 1-1-1 0 3 0 1 1 1 1-2 1 2 0 1 1-1 1 1 0 2 0-1-3 0-1 5-1-1 1 1 0 0 1-1 1 1 0-1 1 3 0 3-1-2 0 2-2-1 0-1 0 0-1 6 1 1 0-3 1 2 0-2 1 2 0-2 1 1 0 5-1-1-2 1-1 3 0-1 1 1 0 0 1 1 0 0 1 1 1 4 0-3 0 0-1 3-1-2 0 2-1-1 0-1 0 0-1 5 0 0 1 0 1 1 1-3 1 7 0-2 0 1-1-2 0 2-2-2 0 0-1 6 0 1 0-2 1 1 0 1 0-2 1 1 0 1 0-2 1 0 1 2 0 4-1-3 0 3-1 0-1-1 0 5-1-3 1 1 1 1 0-2 1 3 0-3 1 1 0 2 0 4-1-3 0 3-3 1 2 3 0-2 1 1 0 1 0 1 1 1-1 2-1-1-1-2 0 4 0 1 0 1 0 1 0-2 1 2 0-2 1-1 1 2 0 4 0-1-1 1-1 1-1-1 0 3 0 2 0-2 1 1 0 1 0-3 1 1 0 2 0-3 1 1 0 2 0 4-1-2 0 0-1-1 0 0-1 4 0 2 0-2 2 2 0 1 0-1 1 5-1-2 0-1-2 5 0 1 0 1 0-3 1 3 0-1 1 3 1 2-1-1 0-1 0-1 0 1-1 0-1 5 0-2 1 1 0 1 0-1 1 1 0 4-1-2 0 2-1-1 0 3 0 2 0 1 0-3 1 3 0 3 1 1-1-2-1 3 0 2 0 1 0 0 1-1 1 5 0-1 0 1-1-2 0 1-1-1 0-1 0 4 0 1 0 1 0-2 1 0 1 1 0 5 0-1 0 2-1-1 0 0-1-1 0-1 0 4 0 3 0-3 1 1 0-1 1 3 0 4 0-1 0-1 0 2-1-1 0-2 0 2-1 2 1 1 0-1 1 1 0 1 0 1 0 3 0-1 0 1-1-1 0-1 0 0-1 4 0 0 1 1 0 1 0 1 0-2 1" fill="none" stroke="none" marker-start="url(#k0)" marker-mid="url(#k0)" marker-end="url(#k0)"/>
<line x1="750" x2="980.6" y1="111.8" y2="111.8" stroke="#0000ff" stroke-width="3"/>
<path transform="scale(.5)" d="M1363 210l4 7-2-9 1-6-1-6 3 5 0 2 3 0 1 6 3-6 0-1-3-3 3-1 3 6 0 7 3-2 0-8 1-3 4-6 0 1 0 6-1 3 1 3-1 6 6-5 4-2-2 2 3 2 3-2 0-4-1 0-1-14 3 16 2 9 1 1 4 5 0-7 0-1-1 0-2 0 2-9 3 0 2 3-3 6 1 1 0 1-1 2 5 20 4-30-1 9 3 0 0 3-1 4 3-7 0-3 1-3 0-2 0-4 2 3 0 3 1 0-1 2 2 0 0 4-2 15 4-6 1-2 1-2 1-24-3 0 5 20-1 2 0 1 2 3-1 5-1 2 1 2 3 6 1-1 2-11-1-1 1-1-2-1-1-6 1-4-1 0 1-2 1-18 2 20 0 11 0 4 5 9 0-1 1-2 0-1-1 0 1-1 0-3-2-7 6-15-1 7 1 6-1 7-1 4 6-7-2 0 1-4-1-15 4 0 1 24 2 5 0 4 0 1 4-11-1 0 1-4-2-24 3 13 0 2 0 7 5 17-1-5 3-7-3-10 3-4-2 0 2-1-1-4-1-1 3 0 7 15-2-1 1-1-1-2-1-1 0-2 1-3-1-5 5 5 1 0-1 5 2 1-3 2 3 4 0 2-1 1 2 3 2-6 0-3 0-6 0-1-1-5 5 7-1 1 1 5 1 0 1 6 1-3-1-7 7-7-2 8 1 2 1 3-1 1-2 1 7 6-2-4-1 0 3-1 0-3-3-4 2-3 3-1 2 5-1 9 1 1 4-4-2-5 2-4 4 4-3 3 0 4 4 4 1-8" fill="none" stroke="none" marker-start="url(#k1)" marker-mid="url(#k1)" marker-end="url(#k1)"/>
<path d="M605.0 88.6 L660.4 93.4 L668.1 94.2 L676.2 95.4 L678.1 95.8 L680.0 96.5 L681.7 101.6" stroke="#0000ff" stroke-width="2.6" fill="none" stroke-linejoin="round"/>
<path d="M681.7 101.6 L681.0 100.1 L682.3 98.5 L683.6 99.2 L684.9 101.1 L686.2 101.2 L687.5 102.8 L688.8 103.6 L690.1 102.1 L691.4 102.2 L692.7 101.9 L694.0 101.5 L695.3 101.1 L696.6 98.9 L697.9 100.6 L699.2 106.6 L700.5 102.9 L701.8 105.7 L703.1 106.2 L704.4 108.3 L705.7 105.3 L707.0 107.3 L708.3 105.6 L709.6 107.2 L710.9 104.2 L712.2 106.0 L713.5 108.3 L714.8 109.7 L716.1 109.4 L717.4 106.5 L718.7 110.9 L720.0 109.9 L721.3 113.0 L722.6 111.8 L723.9 112.3 L725.2 107.0 L726.5 105.6 L727.8 104.7 L729.1 106.4 L730.4 108.2 L731.7 108.1 L733.0 109.6 L734.3 109.7 L735.6 109.2 L736.9 108.5 L738.2 108.7 L739.5 108.0 L740.8 105.6 L742.1 108.0 L743.4 108.8 L744.7 107.9 L746.0 108.1 L747.3 108.2 L748.6 109.9 L749.9 109.5 L751.2 113.2 L752.5 114.7 L753.8 114.6 L755.1 112.8 L756.4 112.3 L757.7 112.0 L759.0 112.6" stroke="#0000ff" stroke-width="2.2" fill="none" stroke-linejoin="round"/>
</g></g>
<g>
<line x1="605.0" x2="980.6" y1="195.80" y2="195.80" stroke="#ffc0cb" stroke-width="2"/>
<line x1="605.0" x2="980.6" y1="182.30" y2="182.30" stroke="#ffc0cb" stroke-width="2"/>
<line x1="605.0" x2="980.6" y1="182.30" y2="182.30" stroke="#dd66dd" stroke-width="2"/>
<line x1="605.0" x2="980.6" y1="168.80" y2="168.80" stroke="#ffc0cb" stroke-width="2"/>
<line x1="605.0" x2="980.6" y1="155.30" y2="155.30" stroke="#ffc0cb" stroke-width="2"/>
<line x1="605.0" x2="980.6" y1="141.80" y2="141.80" stroke="#ffc0cb" stroke-width="2"/>
<clipPath id="c12"><rect x="605.0" y="140.70" width="375.60" height="68.10"/></clipPath>
<g clip-path="url(#c12)">
<line x1="795" x2="980.6" y1="182.2" y2="182.2" stroke="#008000" stroke-width="3"/>
<path transform="scale(.5)" d="M1211 307l-1 5 1 4 0 35-1 11 5 35-2-18 0-2 1-3 1-2 0-1-3-27 3-2-1-2 1-1 0-19-3-1 0-1 3-1-3-2 0-6 1-5 2-4-2-4 6 13-3 21 2 0 0 19 0 7 1 8-1 9 5 14-1-3 1-16-2-2 0-3 2-15-2 0-1-2 0-1 1-1-1-1 2-3 0-1 1-1-1-4-1-12 2-5-2-11 2-1 4 8 0 2-3 10 0 7 2 8 1 1 0 4 0 4 3 41 0-2 0-2 1-9-2-3-1-3 3-1-2-4 2-3-2-1 0-4-1-6 1-4 0-8 0-10 0-2 0-4-1-26 7 17-1 9 1 3-3 11 1 14 2 2-2 2 0 8 2 1 0 2-2 1-1 22 2 17 5-34-1-8-2-1 1-1 0-2 2-3-1 0-1 0 0-2-1 0 3-1-2-3 1-1-2-13 3-2 0-3-1-15 1-2 0-1 0-7-1-14 3 16 1 3-2 1 0 3 2 10-2 1 3 1-3 2 3 7 0 6-3 6 1 0 1 2-2 1 3 6-3 1 0 1 0 1 3 0-2 2 2 8-3 2 3 12 1-3 2-7-2-1 1-1 1-12-2-2 0-7 3-3-3-8 3-1-1 0-1-1 2-2-1 0 0-1 0-3-2-1 0-4 2-7 0-5-2-16 0-2 7 31-1 11-2 2 1 4-1 2 3 7-3 3 3 1 0 3 0 3-1 3-1 5 1 2-1 1 2 0-3 2 0 10 3 14-3 2 6-12-1-13 1-7 0-3 1-7-3-5 1-6-1-10 3-2 0-1-3-1 2-6-2-3 3-6-1-4-1-22 3 21 1 24 0 19 2 1-3 12 2 0-2 2 0 4 1 10 3 15 2-16-1-3 1-11-2-1 2-4 0-8-2-1 2-2 1-1 0-8-3-3 0-4 1-5 2-1-3-4 3-14-1-12 2 15 2 5-2 3 2 0 1 3-2 1 2 0-3 3 1 0 1 0-2 3 2 4-2 10 0 5 2 28 1 10 2-1 1-16-1-21 0-6 2-8-1-3-1-6 0-6 0-1 2-32 0-4 3-2-2 44 2 8-1 5 2 3 0 13-2 2 2 13 4 29 0-27-1-7-2 0 3-15-1-4-2-3 2-2-2-9 2-11 0-3 1-15-1-1-1-7 0-7 0-3 4-3 0 1-1 2 3 1-3 38 0 1 3 1-3 6 2 1 0 3 0 16 1 5 4 8-1-9 1-13-1-28 0-5-1-15 1-12 2 12 3 15-3 1 3 15-1 7-2 7 0 15 3 2-2 7-1 3 2 3 2 21 3-31-3-2 2-2-1-5-1 0 0-3 1-2 2-8 0-3-2-2 1-4-1 0 0-3 2-12-3-9 1-2 2-8-1-1 3-1 2 28-1 10 1 5 0 16-3 23 1 16 4-17-1-9 1-17 2-3 0-6-2-5 0-4-1 0 3-3-3-8 2-1-1-4 1-8 2-14 2 16-1 5 2 2-1 3-1 9 1 2-2 1 3 7-3 2 1 0 0 2 0 5 0 6 1 12 1 3 0 2 2 27 2-23-2-1 1-3 1-4 0-16-1-12 0-11 1-7-3-3 3-31 3 1 0 9 1 12-3 21 3 7-2 12-1 3 3 0-1 5 0 10-2 5 3 0-2 4-1 2 0 21 6-26 1-3-3-8 2-2 0-2-1-1 1-2 0-1-1-19 1-17 5-38-1 33-2 4 3 13-3 1 2 5 1 3-1 11-1 7 1 9-2 2 2 0-2 3 6 34-1-40 2-3-2 0 2-2-1-2-2-1 3-6 0-8-1-1-1-20-1-4 3-28 3-3 0 12-1 50 1 13 5 16-3-3 3-1 0-22-3-1 3-2-3 0 3-14 0-2-2-1-1-1 0-7 3-2-3-2 2-32-1 0 5 0 1 6-2 1 2 13-3 9 0 16 1 1 1 1-1 12 1 5 1 9-3 17 4 26 1-23 0-1 1-20-2-4 3-1-3-7 1-4 0-4-1-6 0-12 2-2-1-14 0-10 3-2 2 1-1 20 1 20-2 12 2 7-1 22-1 2 1 17 3-39 1-2 2-3-3-14 2-2 1-8-2-11-1-1 0-9 4-14 3 2-3 1 2 29-1 6-1 4 2 6-2 1 0 3 1 0 2 1-3 1 3 15-3 9 1 0 2 0-3 1 2 0 0 2-2 13 6 13-2-19 3-9-3-13 2-12-2-4 3-3-3 0 0-13 3-14-2-17 3 25 0 2 3 0-3 1 0 2 3 1-2 1 0 5-1 2 3 9-2 2-1 2 3 4-3 2 1 0 1 3-1 4 1 3-2 6 7-6-2-2 2-1-2-6-1-2 3-2 0-11-1-3-2-1 3-1 0-4-1-1 0-3-2 0 2-2 1-1-3-3 1-3-1 0 3-4 3-19 0 20-2 6 1 5 1 2 0 3-1 1 0 2 0 2 1 9-1 2 2 4 1 5 2-2 0-4-1-3 0-3 2-15-2 0 0-8-1-1 0-2 0-15 1-9 0-12 3 1 1 3 0 43 2 2-3 1 2 3 1 0-3 2 2 6 1 6-2 1 1 13-2 36 1 3 6-36-3 0 2-2-1-15-1-3 3-2-1 0-1-3-1-9 3-1-2 0 2-2-3-2 0-17 0-3 3-6-1-1 1-3 1 0 2 2 0 9 0 3 1 6-2 2 1 15 0 7-1 18 4 10 2-19-3-5 2-2 1-1-3-4 0-18 4 8 1 14 0 7 2 0 0 4 0 6-1 3 5 44-3-34 0-3 0-3 0-6 0-5 0-5 0-2 3-1-1-1 0-1-1-2-1-1 3-2-3-17 1-2 2-4-2-3 1-2 1-6-3-13 3-2 1 16 0 1 3 0-3 13 0 1 3 2-3 1 3 1 0 2 0 19-3 21 2 9-1 2 1 0-1 10 2 1-2 2-1 4 6-21 0-24 1-3-2-3-1-7 1-3-1-6 2-2 5-6 0 19-2 6 1 3 0 1 1 6-3 3 0 4 4-1 0-3 3-4-1-2-2-3 0-3 0-14 0-9 1-2 4-22 1 6-2 15 0 9 3 0 0 7-2 11-1 4 1 2 2 2 0 10-1 7 1 3-2 6 4-23 1-3-1-6 0-4 0-3 0-3 0-9-1-3 1-1 0-2-1-1 2-1 1-3-2 0-1-3 3-12-1 0-2-3 6-2-2 1 3 20-1 4-1 4 0 10 2 1-3 2 3 1-3 2 1 1 0 2 1 0-2 1 3 2-1 4 1 2-1 2 1 2-2 2-1 1 3 0-1 3-2 2 3 4-1 26-1 2 5-17-1-3 2-3-3-13 0-1 2-2-2 0 2-9-2-2 1-4 0-3 1-4-2 0 3-1 0-1-2-11 1-3-1-3 5-16 1 14-2 7 2 3 0 8-2 2 1 6 1 0 0 44-1 11 5-22-1-3-1 0-1-28 1-1 2-4-2-4 0-1 0-2 0-8 2-4-2-1 0-9 2-2 2 9 0 7-1 8 1 6 1 18-1 1-1 1 5 5 2-13-3-1 3-1-1-9 1-7-1 0-1-5 0-7 6 2-3 10 1 2 2 1 0 5-1 10-2 3 3 2-3 5 2 7-1 3-1 3 1 10 6-13-2 0 2-3-1-2-1-12-1-3 0-3 0-9 1-7 0-1 0-4 0-2 4-21 0 3 0 1 2 20 0 3-2 1 1 2 1 5 0 4 0 18-2 13 4-2 1-3-1-8 0-1 2-1-2-5 2-1-3-2 3-6-3 0 1-6 1-4-1 0 2-2-2 0 2-1-3-1 3-2-1 0-1-1 1-3-2-2 6-18 0 9-2 18 2 0-1 3 2 0-2 3 2 21 1 11 3-4-3-5 2-2-2-9 2-2 1-3-3-2 0-4 0-4 2-1-1-7-1-2 2-11 5 14 0 19-2 6 0 8 0 2 1 0 5 7 0-8 0-2 0-6-3 0 0-3 3-8-3-2 3-4 3 2 0 1-2 1 1 0 1 2 0 3-1 1-1 5 3 1-2 7 0 3 0 3 5 0-2-3 1-4-1 0 1-4 0-3 2-3-2-6-1-6 1-14 5 9-2 1 2 1 1 2-3 2 3 3-3 1 1 2 0 1 0 4 0 4 2 0-1 2 1 1-2 1 2 0 0 3-3 3 1 4 1 9 5-4-2-3 2-5-1-3-1-5 0-1 1-2 1-1 0-5 0-1-2 0-1-1 1-1 1-2-2 0 2-2-1-1 1-2 0-1 4-3-2 6 3 1-1 1-2 9 0 6 0 5 2 2 0 3-2 1 3 2 0 4 1 18 2-19 1-3 0-16-3-6 1-5 2-7-1-1-2-1 2-3 0-10 1-1-3-1 5-2 0 10 0 3 2 4-2 6-1 2 3 0 0 1 0 1-2 3-1 1 1 0 2 2-2 2 2 2-3 1 1 0 2 10 4 5-1-1 0-5 0-1-1 0 0-2 2-3 0-1 0-2-2 0 0-1-1 0 2-1-2-5 2-1 0-14 1-2-3 0 2-1 5 8-3 7 0 3 3 0 0 1-3 1 0 2 3 2-2 6 2 3-3 4 2 3 0 2 3-2 2-4 0-4-2-1-1-3 0-7 3-2-3 0 1-1 0-6 1-2 0-2 0-2-1 0 6-8-1 5-2 3 2 1-2 4 1 1 1 1 0 2 1 0-3 12 1 0 2 2-2 1 2 1-3 1 2 1 3 5 0-5 2-6-3-12 2-1 1-1-2-1-1 0 2-1-2-4 0-7 6 8-2 2 0 2 1 2-1 1 0 2 2 0-1 3 1 1 0 2-1 3 2 1-2 11 1 1 1 1 1 2 1-3 2-5 0-1-3 0 1-1 2-1-1-2-1-3 1-4 0-1 1-1 0-2 0-5-2-1 0-1-1-5 0-2 6 1-1 3-1 3 2 1 1 1-2 4 0 3-1 1 2 1-1 1 2 0 0 2-1 4-2 3 2 1-1 2 6 15-1-16 1-5-1 0 1-3-1-4 1-1-1-1-2-2 0-2 1-1-1 0 6-15-1 1 1 2 0 3 0 14 1 1-1 6 0 1-1 1-1 1 2 0 0 2 0 1 0 15 3-14 2-1-3-2 3-3-3-1 3-1 0-1-1 0-1 0-1-1 2-2-1 0 1-2-1-2 2-4-3-2 2-3 3-3 0 6 2 2 0 3 0 2-1 2 1 1-1 5 0 8 4 6-2-3 2-6-2 0 1-1 1-1-1-2 1-1-1 0 1-2-2-1 2-3 0-2 0-1 0-3-2-10 0-4 4 13 3 3-2 3 1 0-2 3 0 6 3 1-2 2 1 0-2 2 3 0-1 6 3 2-1-11 0-1 1-1 1-1 0-2-2 0 3-1 4-4-3 1 1 2-1 1 3 0-3 1 3 1-3 2 0 1 2 2-2 1 1 1-1 8 3 0-1 2 3 0-1-5 1-1-1-2 1-1 1-3-2 0 2-1-2-1 1-1 2-3-1-2 0-1-2-1 3-1-1 0-2 0 2-4 1-3-2 0 0-3 6 3-2 2 2 3-1 2 1 2-3 1 0 1 1 2 2 0-2 1 2 0-3 1 0 1 1 1 2 0-1 3 3 3 2-5-3-5 3-1-1-1 1-1-3 0 1-10-1 0 3-3-1 0 4 6 1 1 0 1-2 1-1 3 2 0-1 1 0 3 0 1-1 1 1 0 0 2 0 3 1 2 1 4 0 2 2-14 2-4-1-1-1 0 0-4 2-1-3 0 3-3-2-2 3 6 3 2-3 2 0 1 1 0-1 2 3 0-1 2 1 1-2 2 0 6-1 3 4-7 3-2 0-2-3 0 3-3-3 0 1-1 2-1-2 0-1 0 1-1-1 0 1-3 1-2 2-3 2 8-2 1 2 0 0 1 0 1-2 3 0 1 0 4 6-10-2 0 2-1 4 0 1 0 0 1-2 1 1 0-2 1 2 0 5-1-1-1-2 0 2-1-1 0 5 0 0 2 1 0-2 1 1 0 1 0 4-1-1 0-2 0 0-1 4-1 1 0 0 1 1 0-1 1 6 1-3-1 2-1-1 0 2-1 3 0 1 2-3 1 6-1-2 0 0-1 1-1 4 0 0 1 1 2 4 0 0-1 0-1-2 0 2-1 2 1 1 0 1 0 1 1-3 1 3 0 4-2 2 0 1 0 1 0 0 1 0 1 3 0 0-1-1 0-1 0 3-1-1 0-1 0 4 0 1 0-1 1 1 0-1 1 1 0 5-1-1 0-1 0 2-1-2 0 4 0-1 1 0 1 1 0 4 0-1 0 2-1-1 0 1-1 4 0-2 1 1 0 1 0 1 0-3 1 2 0 1 0 4-1-3-1 7 0-3 1 1 0 1 0 1 1 4 0 0-1-2 0-1 0 4 1 3 0 4 0-1-1-1 0-1 0 6 0 1 0-2 1 2 0 4 0-2 0-1 0 3-1-2 0-1 0 4 0 1 0 2 0-3 1 2 0 1 0 2 0 1-1-1 0 3 0 1 0 2 0-3 1 2 0 2 1 3-1-1 0-1 0-1 0 3-1-1 0-1 0-1 0 4 0 2 0 0 1 1 0 3 0-1 0-1-1 6 0-2 1 1 0 1 1 5-1-1 0 1-1 1 0 0 1 1 0 2 0-1 1 5 0-2 0 2-1-2 0 6-1-3 1 1 0 1 0 1 0-3 1 2 0 5-1-1 0-1 0-1 0 4 0 1 0 1 0 1 0 0 1 3 0 1-1-1 0-1 0-1 0 4 0 1 0 2 0-2 1 1 0 1 0 2 0 0-1-1 0 4 0 2 0 1 0-3 1 6 0-1 0-1 0 3-1-1 0-1 0 3 0 0 1 1 0 6 0-1 0-1 0-1 0 0-1 7 0-3 1 2 0 1 0 4 0-1 0-2 0 2-1-1 0 3 0 1 0 1 0-2 1 2 0 4 0-1 0 2-1-1 0 3 0-1 1 1 0 1 0 5 0-1 0-2 0 4 0 1 0 1 0 1 0 4 0-1 0-1 0-1 0 4 0 1 0 1 0 1 0 4 0-1 0-2 0 5 0 1 0 1 0 3 0-1 0-1 0 4 0 1 0 2 0 4 0-3 0 4 0 1 0 1 0 1 0 4 0-2 0-1 0 6 0 1 0 1 0" fill="none" stroke="none" marker-start="url(#k0)" marker-mid="url(#k0)" marker-end="url(#k0)"/>
<line x1="820" x2="980.6" y1="189.1" y2="189.1" stroke="#0000ff" stroke-width="3.5"/>
<path transform="scale(.5)" d="M1501 381l2 1-1 2-2 4 3 5-3 2 2 15 4-20-1-5-1-1 4 13 6-6 1-2-3 0 0-2 0-2 4-4 2 3-1 7 0 1 2 3-2 4 2 4-1 2 5-8 0-3-3-5 0-16 5 2 0 6 2 4 0 8 0 4 2 6-1-7 0-9 2-1 0-5 2 1 3 2 1 25 2-14 1-1-1-1 1-2-1-2 0-3-2 0 0-8 7 0-1 8 0 8-1 6 4-2 2-5-2-5 2-2-3-4 6 3-2 1 0 7 3 9 2-9 0-5-1 0 1-6 2-2 1 0 0 5 1 7 1 3 4 16 0-25-2-2 6 1-2 4 2 2-2 5 2 2 2-18 4-4 2 6 0 1-2 1 1 3 2 2-2 1 3 5 1-2 0-6 6-11-2 3 1 1 0 5-1 1 1 4 5 3 0-4-3-10 4 7 3 0-1 6 1 0 4-2-1-1 1-3-2 0 0-1 1-1-1 0 1-2 2-6 0 4 1 5 1 0 0 5 1 7 1 0 2-5-1-7-1-3 3-3 1 3 2 1-2 6 6 1 1-2-3 0 3-7-1-3 3 4 2 0-2 4-1 1 0 5 0 3 0 3 7-9-1-4-2 0 3-3 0-2 4-5-2 6 1 1 1 0 0 4-3 2 3 4-2 4 5-10-1 0 1-1-2-9 5-5 1 5-2 9 1 0-1 3 2 0 1 4 4 2-2-6 2-2 0-4-3-3 7 2-2 3 2 6 3-4-1-2 2-7 1-2 0 6 0 1 3 2 1 2 0-2 3-1-1-1 1-1 3-3-2 2 2 3-2 4 2 3 2 2 2-3 0-3 0-3-1-6 1-3 3 1 0 6 1 6 2-1 2-4-2-1 2-1-1-1 3-1 1 4 2 0-1 1-1 2 2 1-3 2 4 1 2-9 0-2-1-2 3 6 2 7" fill="none" stroke="none" marker-start="url(#k3)" marker-mid="url(#k3)" marker-end="url(#k3)"/>
<path transform="scale(.5)" d="M1407 335l0 1-3 4 3 4 4 2 0-7-3-1 1-3 4-3 0 4-1 2 3 2 0 1 0 5 2-1-1 0 1-10 5 6 1 4-3 5 2 0 0 3 3-3 0-1-1 0 1-2-1-6 2-1 4-2-1 2-1 3 0 6 7 17-1-10 1-1-2-3-1 0 1-16 1-2 2 15 3 6-3 2 3 3 3-4-1-7-1-4 0-7 4 1 3 3-1 2 0 8 1 0-3 4 3 3-1 3-2 7 4-4 0-5 1-17 1-2 0-5 5 12-1 5-2 4 5-4 0-1-1-2 3-1 1-4 3 5-3 10 6 16-2-21 0-4 6 0-2 2 2 11-2 12 5-9 0-4 0-1-1-7 4 5 2 2 0 12 3 9 1-25 3 2 0 11 0 12 6-6-2-10 0-1-1 0 3-2-1 0 1-4 1-10 2 4 0 2 1 0-3 8 1 6-1 11 3 7 3-2-2-12 2-1 0-4-1-16 6 2-2 16 1 1-2 1 7 16-3-2 2-18 1-2-2-7 6 8-1 3 5 11-2-20-1-3 3-1-3-9 5 12 2 8 1 11 1-1 2-4-1-3-1-3-1 0 3-2 0-7-2-1 2-9 2 2-1 9 1 8 1 2 4 2-2 0 3-2-2-10 5-14 0 15-2 12 7 2-1-3 3-21 2 14-1 5 0 17 2-19 1-1 0-7 2-1-3 0 0-12 4 4 2 7 0 2-1 3 2 3-2 13 3 17 0-5 0-19 2-8-2-2 1-5 0-3 4-5 1 4-2 2 1 2 1 12 1 1-1 4 3 5 0-13 1-2-1-8 6 0-3 3 3 11-1 4-1 8 0 2 2 1 2 9-1-18 0-2 0-1 0-2 2-2-2-2 0-10 5 11 2 1-1 7 3-3 2-4-2 0 1-8 1-1 2 4 2 1 0 7-2 1 2 1 3 11-2-3 3-16-3-1 6 6-2 7 1 3 6 14 0-11-2-9 1-1-1-5 3-6 1 4 1 3-2 1 2 12 3-11 1-3 3-6 0 5 0 5 1 1 1 0-2 1-1 1 1 5 2 3 3-2 1-12-1-1 0-10 2 9 1 4 2 6-1 1 0 1 4 9 1-2-3-5 3-1 0-4 0-1-1-8 4 10 1 0-3 1 0 1 0 3 6-2 1-4-1-4 0-3-2-1 1-5 6 14-3 1 1 0 4 3 1-5 0-1-2-1 1-1 2-4 3 2 1 0-3 3 0 1 0 3 0 3 1 1 0 1 1 3 3-11 1-9 1-5 4 24 0 2 2-6-1-1 2-5-1-4 4-5 0 2 1 1-2 7 2 2 2 1 0-1 3-3-1 0-1-2" fill="none" stroke="none" marker-start="url(#k1)" marker-mid="url(#k1)" marker-end="url(#k1)"/>
<path d="M605.0 156.6 L635.6 158.3 L649.5 159.3 L658.8 160.3 L665.0 161.2 L668.1 162.0 L671.2 163.2 L677.4 166.0 L680.5 167.1 L682.1 167.5 L683.6 167.7 L688.2 168.0 L702.1 168.6" stroke="#0000ff" stroke-width="2.6" fill="none" stroke-linejoin="round"/>
<path d="M702.1 168.6 L702.0 168.8 L703.3 170.2 L704.6 171.1 L705.9 172.8 L707.2 172.5 L708.5 174.1 L709.8 172.4 L711.1 173.0 L712.4 170.6 L713.7 169.7 L715.0 172.4 L716.3 173.2 L717.6 175.0 L718.9 174.9 L720.2 176.4 L721.5 178.2 L722.8 177.6 L724.1 181.1 L725.4 178.0 L726.7 177.7 L728.0 177.6 L729.3 181.4 L730.6 183.0 L731.9 179.6 L733.2 181.9 L734.5 183.9 L735.8 185.5 L737.1 181.3 L738.4 186.2 L739.7 185.3 L741.0 183.9 L742.3 184.0 L743.6 185.9 L744.9 189.1 L746.2 182.6 L747.5 182.2 L748.8 185.3 L750.1 183.6 L751.4 185.8 L752.7 187.1 L754.0 182.6 L755.3 181.2 L756.6 178.1 L757.9 178.4 L759.2 181.5 L760.5 185.2 L761.8 185.3 L763.1 187.2 L764.4 190.8 L765.7 193.9 L767.0 194.0 L768.3 194.6 L769.6 195.8 L770.9 193.3 L772.2 203.1 L773.5 193.4 L774.8 187.7 L776.1 192.5 L777.4 191.1 L778.7 191.6 L780.0 193.8 L781.3 188.3 L782.6 187.8 L783.9 186.5 L785.2 188.4 L786.5 188.5 L787.8 186.9 L789.1 183.4 L790.4 186.7 L791.7 182.5 L793.0 187.4 L794.3 198.1 L795.6 189.4 L796.9 189.2 L798.2 191.3 L799.5 192.0 L800.8 194.3 L802.1 189.8 L803.4 190.4 L804.7 193.7 L806.0 192.8 L807.3 189.2 L808.6 194.5 L809.9 186.8 L811.2 189.6 L812.5 183.8 L813.8 184.1 L815.1 184.5 L816.4 186.8 L817.7 189.0 L819.0 190.2 L820.3 189.2 L821.6 187.2 L822.9 187.7 L824.2 191.3 L825.5 189.1 L826.8 187.7 L828.1 186.9 L829.4 186.7" stroke="#0000ff" stroke-width="2.2" fill="none" stroke-linejoin="round"/>
</g></g>
<g>
<line x1="605.0" x2="980.6" y1="263.90" y2="263.90" stroke="#ffc0cb" stroke-width="2"/>
<line x1="605.0" x2="980.6" y1="250.40" y2="250.40" stroke="#ffc0cb" stroke-width="2"/>
<line x1="605.0" x2="980.6" y1="250.40" y2="250.40" stroke="#dd66dd" stroke-width="2"/>
<line x1="605.0" x2="980.6" y1="236.90" y2="236.90" stroke="#ffc0cb" stroke-width="2"/>
<line x1="605.0" x2="980.6" y1="223.40" y2="223.40" stroke="#ffc0cb" stroke-width="2"/>
<line x1="605.0" x2="980.6" y1="209.90" y2="209.90" stroke="#ffc0cb" stroke-width="2"/>
<clipPath id="c13"><rect x="605.0" y="208.80" width="375.60" height="68.10"/></clipPath>
<g clip-path="url(#c13)">
<line x1="775" x2="980.6" y1="250" y2="250" stroke="#008000" stroke-width="3"/>
<path transform="scale(.5)" d="M1210 480l0 3 1 17 0 2 0 14 4 2 0-10-2-9 1-4-2 0 2-2 1-2-1-4-2 0 2-3-1 0 0-3 1-28 1-2-2 0 1-3 1-1-1-3 1-1-1-2 5-3 0 2 0 5-1 4 0 4-2 27 0 7 0 3 2 3 1 1-2 3-1 7 2 3-2 13 1 7 3-24 2-9 0-3-1-3-1-18 1-10 1-3-2 0 0-3 3-2-3-1 3-3-1-5 3 6-1 1 3 14-1 7-2 5 3 8-3 4 3 17 3-15-2-2 3-3-1-3 0-5 0-11 1-5-1 0-2-3 2-25 0-12 2 1 1 13 1 3-1 6 2 13-1 1-2 1 2 2 0 3-2 20 0 4 0 7 2 10 0 3 3 29-1-3 0-28 3-8-1 0-2-2 1-5 2-5-1-5-2-6 1-1 1-3 0-4 0-11-1-1 1-3 1-3-2 0 3-14 3 3-1 3 0 1 0 8-1 3 0 7 0 8 2 15-1 3-2 3 0 2 2 0-1 1 2 2 0 4-2 2 1 2-1 1-1 4 4-11 1-4 1-1 0-1-1 0 0-2 1-10 0-10-2-3 1-3 0-3 2-3 0-5-1-6-2-2 0-1 1-3 2-3 2 5 2 4 0 5-1 4 0 3 0 2 0 3-2 4 3 14-2 9 0 3-1 50 6-58-2-6 1-2 2-1-3-1 3-3-2-1 0-2-1-3 1-1 1-4-2-4 2-16 2 0 1 4 1 3-1 2 0 4 1 7 1 0-3 1 2 1-1 1 2 7-2 6 2 2-3 6 1 1-1 20 1 5 2 1-1 18 4-2-2-15 0-4 1-4-1-1 2-2 0-1 1-2-2-4-1-1 0-9 3-2-3 0 2-3-2-1 0-2 0-3 1-1 1-3-1-7-1-7 3-23-1-3 0-2 3 0 0 18 1 4 0 11 1 1-1 5-1 7 0 2 0 3 0 2 2 4 0 3-3 12 3 1 0 38 3-40-1-9 2-3-2 0 2-3-2 0 1-6-2-1 0-2 1-2 0-7-1-1 2-2-1-13 3-28 3 0-2 28-1 8 3 1-3 1 1 4 1 2 1 1-3 15 3 3-1 6-1 5 0 2 1 5 4 9-2-4 1-4 0-3 1-1 1-6-3-1 1-1 1-9 1-10 0-3-3 0 1-2 0-11 0-3 0-1 2-1-3 0 3-5-1-3 1-9 0-2 4 12-1 11-1 2-1 1 1 0 0 2 2 6-1 6-1 4 2 2-2 9 1 5-2 2 0 4 3 1-3 1 3 1-1 11-1 22 6-22-3-19 2-3-2-3 3-9-2-2-1-6 1-2 1-6-1-10 5-16 0 2 1 18-1 4 1 8 0 5-3 7 0 9 3 17-2 1 6 34-1-5 1-29-2-1 1-13-2 0 0-3 3-2-3-18 0-9 0-2 0-4 3-1 0-6 0-1-2-3-1-10 1-1 0-3-1 0 6 24-2 7 0 5 1 2 2 0-2 6 0 10 1 2-2 1 1 6 1 1-2 2 3 7-1 6 0 1 0 26 4-19-2-1 1-13 1-19 0-1 1-7 0-4-1-7-2 0 2-3-2-2 0-4 3-5 4-5-2 2-1 8 3 2-2 1 2 2-3 8 0 13 0 11 0 11 3 4 3 18 0-16-2-1 1-4 2-6-2-4 2-4-2-4 1-2-1-3 1-4 1-3-3-3 0-2 3-1-2-1 0-4 2-2-2-3 1-12 1-5-1-12 5 14-1 3 1 7-2 3-1 2 2 2 0 1 0 1-2 3 1 3-1 3 0 8 1 0 1 6 1 6-2 2-1 1 1 1-1 9 1 1 1 3-2 3 1 3 6-12-3-1 2-4-2 0 1-4 1-1 1-1-1-18 0-4-2-8 2-2 0-5 5-20 0 8-2 1 1 10-2 2 1 1 1 15 0 18-2 3 0 2 3 0-2 6 0 2 2 3 0 31 2-32-1 0 1-8 0-9 1-1-2-1 1-3 2-4-1-42 5 10-2 1 2 1-2 1 0 4 2 8-2 25 1 1 0 5-2 10 1 2 6 32 0-27-1-4 1-5-1-17-2-1 3-4-2-3 2-2-1-5 1-6-1-4 1-13 4 1-2 1-1 19 3 4-1 6 1 3-2 4 0 8 2 5-2 6-1 37 6-42 1-10-2-3-1-18 3-4 0-3-1-12-1 0-1-2 0-2 5 5 2 12-2 3 2 13-3 6 2 6 0 9 1 19-1 8 5 9-3-11 3-4-2-2 2-16-2-2 1-3-1-3 2-2-3-4 1-3-1-2 3-2-1-2 0-4 0-3-2-6 4-31 0 3 2 5 0 2 0 1-1 4 2 0 0 4-1 11-1 3 2 7-3 5 1 0 1 2-1 2 0 8-1 7 1 1 1 0 0 2 1 19 1-21 0-2 3-1-1-2-1-19 2-3 0-4-1 0 0-2-2-7 3-6 4-6-1 3 1 2-3 3 1 1-1 3 2 4 0 5 1 2-2 2 2 0-3 2 1 3 2 12-2 3-1 1 3 0-2 1-1 3 3 13-1 3 1 2-2 11 3 0 3-6-3-2 1-3 0-2-1-1 1-3 0-8 1-8 0-2 0-1 1-7-2-3 1-9-1-9 2-12-1-3 3 25 0 2-1 2 2 0 0 3-2 4 1 3 0 3 2 4-2 5-1 4 1 10 6 18-1-15-2-3 2-1 0-1 0-3-2-2 0-4 2-2-2-11 0-7 2-4-2-2 0-1 1-1 2-33-2-3 2-3-3-7 4 1 1 2 2 18-1 3-2 2 0 26 3 20-3 2 1 2 1 0 1 9-3 1 1 1 2 11 0 3 0 1 0 3 4-18 0-35-3 0 1-2 0-2 1-9-2-10 5-8 0 3 1 2 0 3-2 1 0 4 3 12-1 4-1 1 0 3 2 2-1 1 1 1 0 2-3 1 2 13 1 2-1 1-2 6 2 1-1 1-1 17 3 4 4-14-1-1-2-2 3-2 0-4-2-26-1-2 1-12 0-5 0-5 4-18 1 3 1 8-3 2 0 4 1 12 2 11-3 3 2 0 0 9 1 1-2 2 1 18 0 1 2 11 2-2 1-5-1-13 0-12 1-3-1-3-2-16 1-5 1-3-1-3 1-10 2 14 3 15-2 4 1 3 1 1-2 16 1 2-2 1 6 22-1-20 1-3-1-24 2-2-3-2 0-16 1-14 2-20 1-4 3 0-1 53 1 2-3 5 2 1 1 2-3 20 1 28 2 3 1-23 2-20 0-3 0-3-1 0 0-3-1 0 1-4 2-18-1-4 4-2 1 22 0 15 0 1-3 1 1 14 4 27-1-25 2-6 1-10 0-3-2-10-1-1 2-1 1-17-3-4 5-31 0 38 2 7-2 10-1 10 3 28-2 13 5-24 0-4-2 0 2-1-1-12-1-8 3-8-2-12-1-6 3-1 1-32 2 2 0 29 0 1 0 11-1 1 1 1 1 4-3 15 1 6-1 9 2 2-2 8 5-13 0-3 1-20 1-6-2-2-1 0 3-3-1-11-1 0 3-1 0 2 3 12-3 5 3 0-1 5 1 4 0 16 3 12 0-5-2-7 3-1 0-3-2-11-1-12 0-40 3-2 4 26 0 8-1 1 0 4-2 7 2 3-1 5 2 10-2 1 0 4-1 2 1 2-1 5 3 11 0 3 3 9-1-21 1-4-2-14 0-3 1-4 2-4-2-3-1-7 3-1-2-2-1-1 0-8 1-2 5 11-2 2 3 0 0 2 0 6-2 3-1 3 3 2-1 1 0 6 1 7 0 1-3 2 7 5 0-1-2-3 1-2-2-11 1-5 1-2-1-1-1 0 3-1-1-5-2-2 0-1 3-6-1-2 3 15-1 5 3 3-1 1 1 3-1 4 1 2-1 8 1 8-2 6 4 6 1-3 0-16-1-8 2-3-2 0-1-1 1-1 2-9-3 0 0-3 1-8 2-2-2 0 0-7 1-3 2 4 2 6 0 3-1 16-1 3 2 1-2 1 0 3 1 5 1 1-2 1 1 3 5-3-1 0-1-2 2-2 0-1-1-2 2-2-3-1 0-4 3-3 0-2-2-7-1-10 1-26 0-3 6 31-3 6 1 0 2 0-1 3-2 1 1 0-1 2 2 1-1 4 1 1-2 9 2 0 1 1 0 4 2 14 1-5 1-3-1-13 0-5-2-3 0-7 2-7-1 0 1-1 1-2-2-2 5 0 0 16 1 0-3 1 2 3-1 2 1 2-2 6 2 0-2 2 2 0-2 6 3 0-3 12 6 0 1-8-2-13 2-2-2-2 0-4 2-1-1-2 0-1-1 0 1-1-2-1 3-1 0-3 0-1 2-11-1 8 2 3 1 3-1 3 1 6-3 2 1 6 1 1 1 0-3 2 3 1-3 4 2 0 0 1 1 1-2 2 0 8 2 0 1-21 2-2-2-1 3-1-3-4 3-2-3 0 0-1 2-6 1-2 0-10-1-4-1-4 0-8 3 10 1 1 2 9-1 3-2 3 3 1-1 1-2 9 2 0-2 6 3 2-1 2 3 11-1-3 3-6-3-14 3-1-3 0 3-6 0-11-3 0 6 7 1 1 0 2-2 1 2 0-3 4 1 2 2 0 0 2-2 1 2 10-1 8 0 4-1 4 6-7-3-2 0-3 2-10 1-1 0-1-3 0 3-1-3 0 1-1-1-3 3-5 0-1 0-7-2-1 1-1-2 0 1-4-1 0 1-4 3 0 2 1-2 10 3 10-1 3 1 0-1 2 0 1-1 2 1 2-2 3 2 1 0 8 4-7 1-2-2-13 2-1-2-4 1-2 0-2-1-10-1-4 5 18 1 0-2 2 1 1 1 0 1 0-1 1 1 0-1 1-2 1 1 0 2 1-1 2-2 4 2 2 1 3-2 1 1 9 3 7-1-10 3-2 0-4 0-5-1 0-1 0-1-2 1-2-1 0 3-1-1-1-1-2 2-5-3-1 0-1 1-3 3 0 2 3-2 2 2 6-2 3 2 0-2 1 2 4-1 2-1 1 0 2 1 4 3 5 2-4 0-5-1-3 1-5-1-2 1-1-1-7 0-2 0-1 1-2 4 9 1 0-2 1-1 4 2 0-1 1-1 2 1 0 1 0 1 4 1 6 0-3 3-1-1-3 0-2-1 0 1-3-1 0 2-1 0-1-3 0 0-4 7-4-3 9 0 1 2 0 1 0-3 1 1 1 1 1 1 1-2 1 0 6 3-1 1-1-1-2 2-1-2-1 3-5-2 0-1 0 2-1 0-1-1 0-1-3 4 3 2 0-2 2 1 0 1 0 1 0 4 0-1 0-1 0-1 0 2-1-2-1 6 1-2 1 3 0 1 1 3-1-1-1-1 0-1 0 5 0 1 0-2 1 1 0 1 1 4 0-2-1 3-1-1 0-1 0-1 0 4-1 1 2-1 1 2 0 1 0 4-1-1 0-2 0 1-1 4 0 1 0-2 1 1 0 1 0 1 0 3 1-2 0 0-1 3-1 1 0 1 0 2 0-2 1-1 1 1 0 4 0 3-2 0 1 1 0 0 1 2 0 4 0-1-1-1 0-1 0 7-1-3 1 1 0 1 0-2 1 1 0 6 0-1-1-2 0 2-1 2 1 3 0 0 1 3 0-2-1 5 0 1 1 5-1-1 0-1 0-1 0 4 0 1 0 2 0 4 1-1 0 2-1 1 0 1 0-1 1 6-1-1 0-1 0 3 0 2 0 1 0-3 1 2 0 1 0 4 0-1 0-1 0-1 0 0-1 6 0-2 1 1 0 2 0 3 0-1 0-1 0 3-1-1 0-2 0 6 0-2 1 1 0 2 0 4 0-3 0 1-1-1 0 6 0-2 1 1 0 1 0 1 0 4 0-1 0-2 0 4 0 1 0 1 0 0 1 4 0 1-1-1 0-1 0-1 0 5 0 1 0 1 0 4 0-1 0-1 0-1 0 4 0 3 1 3-1 2 0 1 0 1 0 1 0 4 1-1 0 0-1-1 0-1 0 5 0 1 0-2 1 3 0 4 0-2 0 3-1 1 0 1 0-1 1 1 0 5 0-1 0-1 0-1 0 2-1-1 0-1 0 5 1 1 0 1 0 4 0-1 0-1 0 3 0 2 0 1 0 4 0-1 0-1 0-1 0 4 0 1 0 1 0 1 0 3 0-1 0" fill="none" stroke="none" marker-start="url(#k0)" marker-mid="url(#k0)" marker-end="url(#k0)"/>
<line x1="760" x2="980.6" y1="252.4" y2="252.4" stroke="#0000ff" stroke-width="3.5"/>
<path transform="scale(.5)" d="M1386 468l0 3-1 4 2 2-1 1 1 1 3 7-1-2 0-3 2-2 0-2-3-1 4 2 3 2 3 8 1-1-2-1 2-3-3 0 1-6 1-2 0-1-1 0 0-1 5 0-1 8 1 21 4-3-1-10 0-6 1-3 1-2-3-18 5 17 1 2-1 10 2 1-1 1 1 1 0 4-1 1 3-1 2-15-3-1 3-1-3-1 1-3 6-11 4 38 0-20-2-3 0-2 1-2 0-7 0-21 5 28-2 1 1 4-1 3 0 8 3-9 2-2 0-1-1-9 5 10-2 1 3 5-1 1 0 3 0 2 5-2-2-5 2-9 4 7-2 7 1 3 1 0-1 22 3-24-1-7 0-13 3-2 2-15 0 19 2 14-3 5 3 1-3 1 4-4 2-13 1-2 4-7-2 15 2 2-1 12 1 0-2 3-1 1 6 15-2-14 0-16 0-8 6 2-2 3 5 20 2-24 1-15 0 31 1 2 6 8-1-28 3 9 1 14 2 10 3-8-1 0-1-1 0-3-1-1 0-7 0-1 3-5-1 0-1-3 5-18-1 13 0 5 1 6-2 17 6-3 0-1-1-1 0-3-1-1 5-8 0 5 0 7 1 3 3 0 0-2 6 1 0 2 0 4 2 12 1-7 0-18 5 7-3 13 4 3 2-7-1 0-1-1 1-2 2-2 0-1-3 0 1-1-1-5 1-4 6 10-2 1 0 1 0 5 4 4 2-3-3-2 1-2-1 0 2-3 2-4" fill="none" stroke="none" marker-start="url(#k1)" marker-mid="url(#k1)" marker-end="url(#k1)"/>
<path d="M605.0 224.0 L627.9 224.9 L638.6 225.6 L643.3 226.2 L657.2 228.5 L675.9 230.6 L682.1 231.7 L685.1 232.5 L686.7 233.2 L692.9 236.6" stroke="#0000ff" stroke-width="2.6" fill="none" stroke-linejoin="round"/>
<path d="M692.9 236.6 L692.0 237.8 L693.3 238.1 L694.6 237.4 L695.9 237.3 L697.2 236.2 L698.5 238.4 L699.8 236.7 L701.1 235.2 L702.4 237.0 L703.7 239.5 L705.0 241.2 L706.3 239.2 L707.6 239.9 L708.9 240.2 L710.2 237.8 L711.5 239.0 L712.8 240.5 L714.1 241.3 L715.4 240.8 L716.7 241.3 L718.0 243.1 L719.3 242.2 L720.6 242.4 L721.9 237.6 L723.2 240.2 L724.5 239.3 L725.8 241.9 L727.1 246.8 L728.4 245.2 L729.7 244.1 L731.0 245.8 L732.3 247.6 L733.6 245.4 L734.9 244.0 L736.2 244.7 L737.5 239.7 L738.8 239.1 L740.1 248.6 L741.4 240.9 L742.7 240.6 L744.0 244.7 L745.3 245.9 L746.6 248.9 L747.9 252.3 L749.2 249.5 L750.5 252.8 L751.8 246.9 L753.1 248.4 L754.4 249.9 L755.7 246.7 L757.0 248.9 L758.3 251.1 L759.6 251.3 L760.9 251.3 L762.2 251.6 L763.5 250.5 L764.8 253.0" stroke="#0000ff" stroke-width="2.2" fill="none" stroke-linejoin="round"/>
</g></g>
<g>
<line x1="605.0" x2="980.6" y1="332.00" y2="332.00" stroke="#ffc0cb" stroke-width="2"/>
<line x1="605.0" x2="980.6" y1="318.50" y2="318.50" stroke="#ffc0cb" stroke-width="2"/>
<line x1="605.0" x2="980.6" y1="318.50" y2="318.50" stroke="#dd66dd" stroke-width="2"/>
<line x1="605.0" x2="980.6" y1="305.00" y2="305.00" stroke="#ffc0cb" stroke-width="2"/>
<line x1="605.0" x2="980.6" y1="291.50" y2="291.50" stroke="#ffc0cb" stroke-width="2"/>
<line x1="605.0" x2="980.6" y1="278.00" y2="278.00" stroke="#ffc0cb" stroke-width="2"/>
<clipPath id="c14"><rect x="605.0" y="276.90" width="375.60" height="68.10"/></clipPath>
<g clip-path="url(#c14)">
<line x1="800" x2="980.6" y1="318.6" y2="318.6" stroke="#008000" stroke-width="3"/>
<path transform="scale(.5)" d="M1211 573l0 19 0 45 0 16 3-18 0-10 1-4-1-5-2-3 2-23 0-17 0-1 3-1 1 36 1 2 0 2-1 2-2 4 1 0-1 4 2 1 0 10 1 3 3 34-2-3 2-19 0-4 0-10 0-1 1-3-2-6 0-8 2-1-3-1 1-1 0-1 2-2-1-3 1-3-2-25 2-1 0-7-1-5 4 3 0 7-1 5-1 51 4 18 2-10 1-16-3-2 3-16-3 0 3-14-2 0-1-3 2-27 4 0-1 40 2 0-2 9-1 8 3 0-3 3 1 0 1 0 0 4-2 7 2 3 1 0 0 6-2 3 5 15-1-14 0-13 0-22-1-7 1-1 1-3 1-11-2-25-1-3 6 20-1 3 0 4 1 0 1 16-1 29 1 3-1 5-1 24 2 18 2 3-1-47 2-2-2-1 0-6 0-3 0-19 2-2 0-4 1-6 0-23 0-7-3 0 7 1 0 8-1 3 1 3 0 1-1 6 0 1 1 1 0 6-2 11 2 0-3 3 1 6 1 3-1 1-1 3 3 1-2 3-1 3 0 5 1 52 6-34 0-4-3-13 3-12-3-1 2-1 1-1-1-3-1-8 1-1-1-3-1 0 0-3 1-1 0-8 0-3 0-5 2-1-2-2 2-17 2 25 2 1 0 8 0 1-2 23 1 4 0 1 0 4-2 10 2 4 2 17 1-2 2-17-2-9 1-8 0-1-1 0 1-22 1-6-1 0-2-1 0-5 0-20 5-11 2 25-1 2 1 3-2 5 1 3-1 6 2 20 0 7-3 1 2 2-1 8 1 16-2 1 5-21 0-4 2-16-2-1 2-2 0-2-2 0 1-13-1-1-1 0 0-3 0-3 1-11 1-5 2-7 2 12 0 9-1 7 0 5 1 7-1 1 1 11 0 4 0 5-1 6 5 11 0-3-1-13 0-2-1-3 1-5 1-4-1 0 1-27-2-1 3-2-1-2-1-1 1-2 1-13 2-3 0 4 1 19-1 3 0 3-1 2 1 2 0 2-1 11 2 1-1 1 1 3 1 0-3 1 3 0-3 1 2 9 1 0-3 2 1 2 0 11 4 10 2-6 0-10-3-9 2-9 1-3-1 0-1 0 0-9 2-9-2-6 2-2-2-1 1-18 1-9 2 11 2 14-3 1 1 4-1 2 0 4 0 21 1 3 0 4 2 0-3 7 3 1-3 4 2 0 2 16 3-2-2-17-1-7 0-5 0-3 2-3-1 0 0-2 2-8-3 0 2-10-2 0 3-1-1-2 5-18 0 14 0 3-3 2 2 3 0 3-2 21 0 3 1 0 2 1 0 1-1 6 0 19 5 13 0-15 0-21 0-2 0-11-2-2 2-2-3-7 0-1 3-3-2-1 1-3-1 0 2-1-3-1 0-3 3-5 1-28 2 1-2 35 2 1-1 3 0 4 0 16 0 1 2 32 4-17-3-1 2-1-2-1 1-3 1-15-2-19 2-2 0-18-2-14 5-3 0 12-1 2 2 21-2 4 2 18 1 1-3 1 2 19-2 15 0 17 5 1-1-19 2-4 0-1 0-1 0-13 1-2-1-1-2-1 3-2-2-9 2-12-2-2-1-7 1-3 6-2-1 9 0 1-1 2 1 4 0 14 0 3-2 13 7 44-2-6-1-41 0-3 1-1-1 0 2-8-2-2 0-7 3-9 2-7 2 0 0 2-1 3 0 2 1 0 0 4 0 4-2 2-1 3 2 1-1 3-1 4 3 27 0 8-1 10-2 6 0 8 6-26-2-17 3-18-3-3 3-4-1 0 1-6 0-2-1-3-1-3-1-4 3-4 0-3 0-27-2-1 5 14 0 11 1 4-1 1-1 1-1 11 3 4-3 4 1 2 1 0 0 2 1 1-2 39 5 22-1-3 1-5 1-21-1-8 0-5-2-9 2-3-2 0 0-13 1-6-1-13 1-6 5-13 0 9-2 2 1 1 2 2-3 16 3 4-1 9-2 1 0 2 2 1-2 3 3 0 0 1-2 4 0 3 1 1 0 16 1 0-2 23 2 3 2-20-1-8 3-2 0-11-3-1 0-2 3-1-1 0 0-5-2-5 2-7 0-6-2-1 2-3 0-3 0-3 0-6-2-8 3-2-2-2 0-3 1-3 2 3 1 11 2 13-2 6 1 0-1 9 1 16 1 1-3 21 7-12-3-15 0-4 3-4-1-18 1-2-3-2 1-1 2-2-3-3 4-4 2 8-2 6 3 4-1 2 1 1-3 2 1 0 0 4 2 2-1 2 0 4 0 10 1 2 0 2-1 28 1 16 1-38 1-2 1-6 1-6-2 0 2-1-2-3 1-1 0-3-1-2 0-10 0-6 1-3-1-1 1-7 1-2 3-23-2 22 0 1 3 0-3 3 2 4 0 16-2 10 1 2 0 1 2 2-3 11 1 6 0 3 3 10 3-16-3-11 3-12-1-1-1 0 2-2 0-1-1-1 0-1 1-3-1-33 1-3-2-7 3-2 0 14 1 3 0 7 1 2-2 5 0 13 1 5 1 6 0 23-1 25 3-1 3-31-2-24 2-1 0-18 4-33-3 48 3 0-3 7 1 15 2 3-2 2 1 8-1 2 0 2 1 1 0 23 1 3-2 3 3-38 2-3 1-8-3 0 1-3-1-1 3-2 0-2-2-6 1-5-2-1 2-31 5 0-2 21 1 1 1 0-3 10 0 4 0 9 2 0 0 18-1 4 2 20 0 3 4-14-2-8-1-3 0-1 2-1-1 0 0-8 1-11-1-2 2-1 0-6 0-33 0-2-1-2 0-2 0-1 2-1 2 4-1 15-1 3 3 7-2 4 1 0-1 6 2 1 0 3 0 12 0 3-2 2-1 1 2 3 1 3-2 1 2 1-1 1-1 2 2 0-3 2 2 0-1 3 1 4-2 15 2 1 1 0-1 2 0 1 0 7-2 2 7-8 0-40-2 0-1 0 1-2 0-2-1-5 2-1-1-3 1-6-1 0-1-6 2-1 1-1-1-1-1-1 1-2-1 0-1-6 3-22 4 23 0 2-2 5-1 2 1 4 2 0-2 5 2 0-2 7 0 4 1 1 0 8 1 0-2 3 6 19-1-6-2-11 2-3-1-4-1-1 1-1-1-6 0-3 2-5-1-6 0-5 0-3 6-4-1 4-2 2 1 10-1 1 3 3 0 13-2 1-1 10 3 17 0 10-3 1 2 10 4-29-1-17 2-4-1-5 0-3-1-2 1-2 1-1-1-8-2-5 2-19 2-17 3 0-2 17-1 13 0 17 2 0 1 0-3 1 3 0-3 1 3 0-1 25 0 7-1 4-1 18 2 3 3 13-1-41 1-3 2-2-2 0 2-3-1-1 1-3 0-1 0-3 0-8 0-3-2-5 1-1 0-7-1-45 3 2 0 15 3 1 0 1-1 3-2 3 3 11 0 2-1 7 1 10-2 5 2 0-3 6 3 7 0 3-1 1 1 16 3 1-1-11 2-6-1 0-1-2 0-2 2-1-3-8 0-4 2-9-1-2 1-3-2 0 2-6 1-11-2-9 0-1 5 12-1 2 1 4-2 15 3 1 0 3 0 1-1 3 1 2-3 7 0 22 3 11 2-17-1-2 1-18 1-2 0-6-2-3 3-11-3-3 0-8 0-1 5 13 0 1 0 10-1 4 0 3 0 1 1 6 1 9-1 2 2 4-3 1 3 12 0 3 1-13 1-16 0-6 1-1 1-2-3-9 3-6-1-26 5-2-3 2 0 14 1 10-1 14 1 12-1 1 2 13-1 12 3 0 2-10-1-3 2-1-1-2-1-6 2-11-2-2-1-4 2-3-2-9 5-25 0 13 0 9 1 17 0 1-2 1 0 3 1 14-1 1 2 1 5 8-2-7-1-4 2-2-1-5 2-2-1-1-2-20 0-3 0-2 2-2-2-9 7-6-2 15 1 1 0 11 1 3-3 2 1 0 2 2-2 4-1 2 3 1 0 3-2 1 2 4-1 1 1 2 0 3 0 3-2 3 0 34 3-14 3-1-2-5 0-11 0-3-1 0 0-10 3-14 0-3-3-8 3-2 4 6-3 5 2 1 1 0-2 2 2 5 0 6 0 3 0 3 0 1-3 3 3 2-1 4 0 16-1 17 4-1-1-31 3-1-2-6 2-3-2-9 0-3 1-11-2-1 3-3-2 0 5-9-2 8 3 0-1 8-2 2 2 1 0 2 1 2-3 2 3 2-3 5 7 28-1-3 1-7-3-17 1-2-1-6 1-5 1-8-2 0 1-2-1-4 7-9-3 25 2 0 1 4-3 4 3 6-2 10 1 1-1 1 1 0 1 3-2 3 0 3 5-7-2-1 1-3-1-6 1-1 1-12-2-1 2-2 1-5-1-6 1-1-3 0 2-1-1-11 1-2-1-2 1-3-1-3 4 19 0 1 2 8-2 8 2 3-1 3-2 3 0 8 0 9 1 14-1 4 5-19 2-16-1-1-1-1 2-2-2 0-1-5 3-1-1 0 1-1-3 0 3-3-3 0 1-1 1-5 0-11 5-18-2 13 0 2 0 21 1 3-2 3 1 5 0 4 2 2 0 10-1 2 2 3 3-6 0-3-3-3 0-5 2-13-2-1 1-1 1-2 0-2 0-1-1-6 2-17-1-10 5-3-2 10 0 2 0 1 2 5-1 9-1 1-1 4 3 2-3 7 1 5 2 13-3 1 0 2 1 0 1 0-2 1 2 1 0 1 1 3 3 3-2-7 2-2-2-1 1-3 0-4 1-2-2-7 1-4 0-2 0-8 2-2-2 0 2-4-2-3 0-4 0-15 6 10-1 4-2 5 2 2 0 3-2 11 1 0 1 0-1 2 2 7-2 4 2 1-1 3 0 14 5-3-3-5 1-4 1-4-2-5 3-2-2-5 1-3 0-6 1-3-2-1-1-8 2-3 0-2-1-6-1-3 6 18-2 7 2 0-2 6 3 0 0 1-3 2 3 4-1 1-2 2 3 0-3 11 1 1-1 3 4 4 3-6 0-3-1-8 0-3 1-1-3-1 0-2 3-3-2-1 2-3-1 0 4 2 0 1 1 2-2 4 1 0 1 0 0 4-1 10 1 7-2 6 4 0 1-7-2-7 0-3 2-2 0-1 0-3-2-1 0-2 2-4 0-2-1 0-1 0 0-1 2-1 1-2-1-1 1-27 2 4 0 21 2 0-1 1 0 2-2 6 2 0 0 2-2 2 1 0 2 0-3 2 2 0-2 3 1 4-1 1 2 4-1 4 5 20-1-9 1-2-1-9 2-13 0-1-2-12 0-2 0-12 2-1 0-4 4 14-1 3 1 0 0 3-1 1 1 0 0 2-2 7 2 0-3 2 3 0-2 2 1 9-2 9 3 12-3 2 5-14 1-3-1-4-1 0 1-3 1-3-1-5 1-1 1-1-3-1 3-1 0-1 0-6 0-3-2-1 0-1 0-1-1 0 2-8 4 9 1 1-2 4 1 0 1 1-1 3-2 1 2 2-1 2-1 1 3 1-2 1-1 1 2 4 5 4-3-6 2-2-2-1 2-3 1-1-3 0 0-1 0-2 1-2-1 0 2-4-1 0 1-1-2-2 6-1-2 6 1 1-1 3 3 5-2 10 5 10 1-5-1 0-2-1 0-5 2-6 1-2 0-4-1 0-2 0 1-2 2-1 0-2-2-1 2-2-2-8 1-3-1-6 3 10 0 6 1 2-1 2 0 4 3 1-3 2 1 1 2 0 0 1-1 2 1 0-3 1 0 3 1 0-1 2 2 0 0 1-2 1 3 2-2 4 3-1 0-10 3-3-2 0 2-1-1 0 1-2-1-2-2-1 3-1 0-1 0-1-2 0-1-6 4 7 1 0 1 0-1 1 1 0 1 0 0 3-2 1 2 0-2 1 1 0-2 2 2 0-1 1 1 0 1 0-2 1 1 4 2 4 0-3 2-2-2-3 3-1-2 0 1-1-1 0 0-1 1-1-1 0 1-1 0-1-1-1 1-1-1 0 1-1-1-1 1-3 2 0 0 4 3 2-1 3 3 2-1 0 0-1 0-1 2-1 1-2-1-1 1-1 1-1 1 1 1 0 1 0-3 2 1 1 1 1-2 1 1 0 1 0-1 1 4 0 2-1-2 0 2-1-2 0-1-1 1-1-1 0 1-3 4 1 1 0-1 1-1 1 3 2-2 1-1 1 2 0-1 1 5 0-2 0 3-1-1 0-2 0 0-1 2-1-1 0-1 0 3-1-1 0-1 0-1 0 3-1-2 0-1 0 3-1-1-1 2 0 3 0-3 1 2 0-1 1 1 1 0 1-2 1 0 1 2 0 1 0-2 1 2 0 2 0-1 0 0-2 3-1 0-1-2 0-1-2 0-1 7 0-2 1-1 2 2 0-2 1 1 0 1 1-2 1 1 0 4 0 2-2-3 0 0-1 0-2 3-1-1 0 5 0-3 1 3 0-2 1 1 0 1 0-3 1 2 0-1 1 2 0-3 1 1 0 2 0-2 1 2 0 1 0 3-1 0-2-2-1-1 0 0-2 6 0 0 1 1 1-2 1 0 1 2 0-2 1 2 0-2 1 2 0 2 0 1-3-2 0 2-1-2 0 1-1 3-1 0 1 1 0 1 1-1 2 1 0-2 1 3 0-2 1 6 0-1-1-1 0-1 0 3-1-2 0 2-2-1 0-1 0-1 0 5-1-1 1 3 0-3 1 1 0 2 0-3 1 2 0-2 1 2 0 1 0-3 1 7-1-1 0-1 0-1 0 2-2-1-1-1 0 3-1-2 0-1 0 5 1 1 0-1 2 2 0-2 1 1 0 1 0 3 0-1 0 1-1-1 0-1 0 3-1 0-1-1 0-1 0 6-1-2 1 1 0 1 0 0 1-2 1 2 0-3 1 6 0-1-4-1 0 5 0-1 1 2 1-2 1 1 0 1 0-2 1 2 0 4 0-1 0-1 0 3-1-1 0-1 0-1 0 0-1 3-1-1 0-1-1 3 1 2 0-2 1 1 0 2 0-3 1 1 0 1 0 0 1 3-3-1 0 3-1-2 0 4-1 2 1-1 1 1 0 3 0 0-1 1-1-1 0 5 0-2 1 1 0 1 0-1 1 1 0 4 0-3 0 2-1-2-1 4 1 1 0 0 1 5 0-2 0 0-1 1-1 5 0-1 2 4 0 2-1-1 0-1 0 4 0 2 0-3 1 1 0 4 0 1-1-2 0 6 0 1 0-3 1 2 0 5 0 0-1-3 0 5 0 1 0-2 1 3 0 2 0-1 0 4-1 1 0 1 0 1 0-3 1 1 0 1 0 1 0 2 0 1-1 2 1 1 0 1 0 1 0 4 1-1 0 1-1-1 0 2 0 1 0 1 0 1 0 4 1-2 0 1-1-2 0 4 0 1 0 2 0-2 1 1 0 2 0 2-1 3 0 1 0 1 0-3 1 2 0 4 0 1-1-1 0-1 0-1 0 6 0 1 0-3 1 2 0 1 0 4 0-1 0-1 0 0-1-1 0 5 1 1 0 1 0 4 0-1 0-1 0-1 0 1-1 3 1 1 0 1 0 5 0-1 0-1 0 3 0 1 0 1 0 1 0 3 0-1 0-1 0 4 0 1 0 1 0 5 0-1 0-1 0-1 0" fill="none" stroke="none" marker-start="url(#k0)" marker-mid="url(#k0)" marker-end="url(#k0)"/>
<line x1="790" x2="980.6" y1="329.2" y2="329.2" stroke="#0000ff" stroke-width="4.5"/>
<path transform="scale(.5)" d="M1395 607l0 5 4-1-2-5 1-1 1-2 2-2 0 2 0 13 6-1-3-1 3-1 0-6-1-2 3 12 1 1 0 3 1 4 4-5 0-3-1-2-1 0 0-2 0-14 6 3-2 8 2 9 0 1-3 1 1 6 6 7-2-7-1-4 2-4 0-1-1-1 0-8 6 0 4 8-2 0 3-3 1 4 6 15-2-10 2-2 0-1-2-6 3-8 1 8 1 7-2 5 1 3 6-7-2-3-1-5 2-9 2 2 3 8 0 5-3 12 5 1 2-5 0-6 0-1 0-6 0-1-3 0 1-1 0-3 4 9 0 2 0 2 0 9 2 3 2-5 2-8-3-3 2-3 5-3-3 6 2 5 0 3 0 4-2 7 4 15 1-18 1-13 4-14 0 17 0 9 0 3 4-1-2 0 2-1 1-7-1-3 1-5-2-9 4-3 0 7-1 3 1 3 0 1 2 3 0 3-2 8 6-1 0-2-3-7 4 13 0 1 6 8-1-14-1 0 3-4-3 0 3-3-2-2 6 7-3 8 1 8 5 6-1-10-1-4 0-5 0-5 4-6 0 6 3 5-1 3 0 6 0 13 2-4 1-9-1 0 3-1-2-4-1 0 5-2 1 5-2 5 0 6 6-3-2-4 6-20 1 7-3 6 0 5 3 6 2 6-1-6 0-2 2-6 0-8 3 0 1 10 5 11-3-3 2-3-1-8 3-3 4 20 0-1 0-1 3-2-3 0 3-2-1-2 0-3 0-2-2-7 4 11 1 0 2 3-3 6 6 14-1-9 2-2 0-4-3-7 0-3 3-4 2 8-1 1 0 5 2 9 4 3-1-8-1-18 5 7 1 1-2 2 1 0 1 3 1 2-2 5 4-6 2-1-2 0 0-6 3-2 2 0 1 4 0 9-2 1 6 0 0-2 0-7 1-2 2 0 1 1-1 1-1 4 2 3 0 1 4 5-3-2 3-1-3 0 1-1 1-1-1-1-1 0 2-1-1 0 0-2-1 0 3-2 0-1-3 0 2-1-1 0 1-3-1 0-1-1 3-1 1 4 0 1 1 0 2 0-2 1 1 0 0 1 1 0-2 2 1 0-2 1 1 0 1 1 1 0-2 1 2 0-2 2 2 0-3 1 2 0 3 0 1-1-2 0 2-1 1-2-1 0 1-1-1 0 0-1-1 0-1 0 1-2 1-1 0-1-1-1 5 1 1 0 0 1-2 1 1 0 1 0-3 1 1 0 0 1 0 1 1 1-2 1 1 1 1 0 1 0-2 3 1 0-1 5 6-5-3-2 3-1 0-1-1-1 1-1 0-1 0-1 0-1-2 0 2-1-1-1 0-2 0-1 2 3 0 2 1 0 1 0-2 3 0 2 3 0-1 3-2 3 6-2-2 0 3-1 0-1-1 0-2-2 2-1 1-1 0-1-3 0 3-1-3-1 2-1 0-1-2 0 5 3-1 5 1 0 2 0-2 2 1 0 4 0-2 0 2-2-1 0-1 0 3-1-1-1-1-1 0-1 0-1 1-2-1 0 6-1-2 1 0 1 2 1-3 1 2 0 1 1 0 1-1 1 1 0-3 2 6 2 0-1-2 0 2-1-1-1 2-1 0-2-1 0 1-1-3 0 3-2-1-2 2 2 1 3 2 0-3 4 3 0-1 1-1 1 6-2-1 0 0-1 1-3-1 0-2 0 1-1 0-2 6 0 0 1 0 1-1 1-2 1 2 1 1 0 0 2 2 0-1-1 2-1-1-1 0-1-1-2 1-1-1 0 1-1 3 0 1 0 1 0-1 2 0 3 2 0-2 1-1 2 3 0 2 1 1-2 1-1-1 0 1-1-3 0 2-2-2 0 3-2-2 0 3-1 0 1 3 0-3 1 0 1 3 0-2 3 2 0-2 1 2 0-1 1-2 1 1 0 1 0 5-1-1 0 1-1-2 0-1 0 3-1-2 0 1-1-2 0 2-2-2 0 3-2-3 0 0-1 5 1 2 0-1 2 1 2-1 2 2 0 0-4" fill="none" stroke="none" marker-start="url(#k1)" marker-mid="url(#k1)" marker-end="url(#k1)"/>
<path d="M605.0 292.6 L638.7 293.9 L647.9 294.5 L654.1 295.1 L663.4 296.4 L675.9 298.4 L682.3 299.6 L696.6 302.8" stroke="#0000ff" stroke-width="2.6" fill="none" stroke-linejoin="round"/>
<path d="M696.6 302.8 L696.0 304.3 L697.3 304.5 L698.6 304.8 L699.9 305.7 L701.2 304.8 L702.5 306.7 L703.8 305.7 L705.1 305.9 L706.4 307.4 L707.7 308.8 L709.0 309.7 L710.3 310.1 L711.6 312.8 L712.9 313.1 L714.2 310.8 L715.5 310.5 L716.8 309.8 L718.1 311.2 L719.4 309.2 L720.7 309.4 L722.0 310.5 L723.3 308.8 L724.6 309.3 L725.9 310.4 L727.2 309.2 L728.5 306.8 L729.8 308.7 L731.1 307.1 L732.4 310.1 L733.7 310.6 L735.0 311.1 L736.3 312.2 L737.6 314.7 L738.9 317.2 L740.2 310.1 L741.5 313.6 L742.8 312.7 L744.1 318.5 L745.4 318.0 L746.7 314.8 L748.0 317.8 L749.3 317.9 L750.6 319.7 L751.9 318.1 L753.2 321.2 L754.5 318.9 L755.8 321.1 L757.1 319.8 L758.4 318.9 L759.7 317.7 L761.0 317.9 L762.3 319.8 L763.6 320.0 L764.9 319.0 L766.2 320.6 L767.5 322.4 L768.8 323.5 L770.1 323.2 L771.4 327.8 L772.7 328.0 L774.0 325.6 L775.3 326.9 L776.6 327.1 L777.9 326.1 L779.2 328.4 L780.5 329.9 L781.8 328.7 L783.1 326.4 L784.4 323.8 L785.7 324.4 L787.0 326.8 L788.3 328.1 L789.6 326.2 L790.9 326.5 L792.2 327.4 L793.5 328.3 L794.8 328.0 L796.1 326.3 L797.4 329.4 L798.7 328.1 L800.0 328.0" stroke="#0000ff" stroke-width="2.2" fill="none" stroke-linejoin="round"/>
</g></g>
<g>
<line x1="605.0" x2="980.6" y1="400.10" y2="400.10" stroke="#ffc0cb" stroke-width="2"/>
<line x1="605.0" x2="980.6" y1="386.60" y2="386.60" stroke="#ffc0cb" stroke-width="2"/>
<line x1="605.0" x2="980.6" y1="386.60" y2="386.60" stroke="#dd66dd" stroke-width="2"/>
<line x1="605.0" x2="980.6" y1="373.10" y2="373.10" stroke="#ffc0cb" stroke-width="2"/>
<line x1="605.0" x2="980.6" y1="359.60" y2="359.60" stroke="#ffc0cb" stroke-width="2"/>
<line x1="605.0" x2="980.6" y1="346.10" y2="346.10" stroke="#ffc0cb" stroke-width="2"/>
<clipPath id="c15"><rect x="605.0" y="345.00" width="375.60" height="68.10"/></clipPath>
<g clip-path="url(#c15)">
<line x1="845" x2="980.6" y1="386.4" y2="386.4" stroke="#008000" stroke-width="3"/>
<path transform="scale(.5)" d="M1211 698l0 30 0 44 2 0 2-17-3-8 2-17-2-17 2-2 3-16 2 3-3 12 2 13-2 3 0 3 2 4-2 3 2 2-1 1-1 1 3 9-2 23 2 2-1 2-1 22 6 0-2-1 2-2 0-10-2-7 0-6 2-3-1-10-2-1 2-13 1-3-2-4-1-1 1-3-1-3 2-1 0-30 4 44-2 1 0 2 0 2 1 1 2 0-2 27 0 4 0 2 0 14 3-29 2-2 0-2-2 0 3-14-1 0 0-3-2 0 3-1-3 0 3-1-1-10-2-1 3-5-1-30 4 33-2 3 2 11-2 5 3 1-1 20-1 3 1 44 4 1-2-52 2-5 0-3 1-1-1-1-1-16 0-11 2-10 0-10-2-1 0-2 2-1 1 0 0 1 1 15 1 6 0 7 0 3 1 2-2 11 2 2-2 1-1 2 2 5 1 14-1 2-2 40 5-42-1-10 2-5 0-2-2-3 0-5 1-6-1-2 3-2-2-5 0-5 0-4 0-1 0-3 1-3 5-16 0 11-3 11 0 3 1 10 2 10 0 8-1 2-2 17 0 5 1 11-1 9 3 4 2 3-1-6 3-34-3 0 1-1-1-2 0-4 3-11-1-12 1-1 0-5 0-11 0-17 2 4 2 25 0 1-1 2-2 4 3 2-1 17-2 1 0 14 3 4 4 20-2-17-1-7 0-3 2-26 1-2-3-2 3-12 0-23-3-6 3-2 4-4 0 10-3 3 2 16-2 2 3 5-3 6 2 0 1 2 0 2-1 1 0 3 1 12-3 1 3 2-1 3 1 4-1 6-1 3 2 3-2 2 0 1 1 6 3 12 2-18-3-10 3-4-3-4 1-9 1-12-1-1 2-2-2 0 0-17 6 6-2 3 1 1-2 4 2 2-1 2-1 3 1 2 1 3-1 5 2 8-3 1 0 1 1 3-1 4 0 3 0 6 3 7-3 13 0 15 2 2 4-36 1-2-1-1 0-2 1-1-1-8-1-11 0-2 0-1 0-2 2-6-2 0 0-6 0-3 2-2 0-2-1-2 0-2 0-2 1-12 0-4 2-4-1 2 3 25-3 3 0 3 3 0-3 1 1 0 0 3 2 1-1 9 0 10-2 1 3 4-2 4 2 0 0 2 0 12 0 3-1 1 5-7 0-3 0-6 0-4-2-9-1-8 0-12 2-2 0-2 0-1 0-5-1-4 0-23 3 1 0 33 2 2 1 25-2 4 0 3 0 5 6 20-3-40 2-9-1 0 2-2 0-3 0-4 0-6-1-3-2-1 3-6 2-9 1 16-2 5 1 3 1 2-2 3 1 2-1 3 0 10 3 6 0 4-2 1 0 3 6 0-3-5 3-8-1 0-1-8 2-7-2-1-1 0 1-4 2-11-3-21 4-8 1 14 2 1-3 5 3 33-2 4 0 1 2 0-2 2 0 15 0 12 1 9 2-35 1-7 1-2-2-35 5 9 0 3 2 0-2 1 2 1 0 7 0 1-1 7-1 25 1 16-2 3 1 2 3 1 0-7 1-15 1-1 1-3-2-3-1-2 2-14 1-3-1-9-2-1 3-2-1 0 1-2-1 0 0-9-2-14 3-1 1-7 0 11 0 18 3 2-1 2 0 11 1 13-2 8 1 0-1 3 2 21 0 5 2 3-1-1 3-7-1-3 0-8-1-10-1-1 1-17 2-3-2 0 0-2 2-2 0-13-1-12 1-4-3-2 5 1 2 13-3 1 1 0 0 2 1 6 0 1-1 1 1 6-2 1 2 6 1 20-2 21 6-3-1-14 1-5-2-6 2-2 0-2-1-13 0-3-2-2 1-4-1-8 0-26 7 11-1 2 0 17 1 4-1 13-2 6 3 3 0 3-3 1 2 0 1 2-1 5-2 1 1 1 1 4 0 11 4-6 0-4 1-1-1-4-1-1 2-8-2-1 0-6 2-1-2-2-1-1 2-3 1-2 0-9-1-17-1-1 1-1-1-2 0-1 3 0 0 2 1 1 1 5 1 10-2 12 1 2 0 8-2 14 1 3 1 11-1 13 4-4 2-3-3-36 0-1 0-3 0-3 3-13-1-1 4-13 1 14 0 3-2 32 0 21 2 2 1 3 1-16-1 0 0-2 0-2 3-10-1 0 0-3-2 0 2-2 1-1 0-1 0-8-2-3 1-4 0-4-2-5 0-3 1-20 2-9 0-2 1 25 0 7 2 3-2 1 1 2 0 4 1 6-2 2 3 2-2 8 0 2 0 1 1 3-2 6 2 18-1 5 6-3-1-20-1-16-1-2 3-2-1-9-2-5 3-9 0-4 0-1 4-12 0 7 0 3 0 5-2 1-1 1 0 7 0 14 2 2-1 4 2 1-2 3 0 4 1 5-1 5 0 2-1 1 2 10-2 3 2 1-1 10 4-31 1-5-1-7-1-9 2-15 0-4 0-3 1-5-1-8-1-5-1-4 4 6 3 11-2 3 2 7-2 1 2 22 0 6-3 1 3 2-1 1 0 29-1 15 3-2 1-23 2-11-3-16 2-1 1-1-2 0 2-4-1 0 1-7-1 0-2-9 0-6 2-2 5-21-2 20-1 6 1 6 0 10-1 6 0 1 2 14-2 8 2 25 3-5 1-1 1-19 0-21-3-10 2-5 4-43-2 10 1 12 2 6-1 13-2 1 3 1-2 5 2 1 0 10-3 13 3 0 0 7-1 15-1 3 3-5 0-15 3-1 0-3 0-4 0-4 0-6-1-1 0-1 0-6-2-5 3-1 1 4 1 1 1 8-2 1 2 1 1 0 0 11-2 2 1 0-1 14-1 4 0 12 4 8 3-1-2-2-1-4 0-7 0-23 2-13-1-2 0-1-1-7 1-1 0-2 1-6 0-38 5-3-1 2-2 20 1 9 2 11-2 2 1 1-2 1 1 0-1 20 0 31 7-8-3-1 3-9-1-2-1-1-1-4 2-3 0-2 0-5 0-1-1-4 2-7-3 0 2-16 1-1-3 0 1-2 2-12-2-2 2-2-2-7 1-4 4 6-2 1 2 20 0 5 0 1-2 10 3 0-1 3 0 3 0 3 0 2-2 1 3 2-2 10 2 3 0 2 0 7-2 3 1 16 0 11 3 1 2-20-1-3 1-14-1 0-1-1 0-2 2-9-1-3-1-1 2-3-2-2-1-1 3-7-2-11-1-4 7 9-2 4 0 2 2 2-3 7 3 0-1 3-2 3 3 1-3 3 3 0-1 3-2 4 1 5-1 10 1 5 5 4 0-3-2-3 2-5-1-14 1-2 1-2-2-1 0-1 1-26 1-3-2-4 0-6 4-31 1 43 1 0-2 1 2 0-2 1 0 2 1 17 1 4 0 5-2 3-1 14 2 1 3 11-1-9 0-8 1-3 2-2-3-3 2-3 1-1-2 0 1-2-2 0 1-2-1-9 2-11-2-1 1-2 0-23 2-2-2-1 3 0 2 20-1 3 2 12 0 4 0 10-2 3 1 1-1 1-1 2 2 2 1 7 1-14 2-5 1-13-1 0 1-3-2-37 6 14-3 9 2 1-2 17 0 2 3 3-2 5 1 0 1 1 0 47 1 3 2-7 0-33 1-1-3-8 3-2-3-8 2-2 0-3-1-9 0-2 2-8-3-2 7-8-1 3 1 2-3 18 2 2-1 14 1 3-1 3 0 1 2 20 0 2 4 1 0-3 0-2-2 0 1-9 0-4 0-4-1 0 2-2-1-4 1-1-2 0 2-3-3 0 3-4-1 0-1-1-1-1 1-7-1-18 1-3 4 1-1 18 1 3 2 6-1 3-1 3 0 1 0 2 0 3 2 0 0 16-3 3 3 1-2 2 0 2-1 1 7-9-1-3 0-9 0-10-2-3 3-1-2-2 0-1 2-4-1-10 5-4-1 14 0 8 1 3 0 9 0 15-3 3 2 2 0 6 4 2-2-6 3-5-1-1 1-2 0-6-3-11 1-3 1-2-1-7 2-1-2 0 1-3 1-2 3-10 0 3 1 5-1 1-2 9 1 10 2 0-3 20 0 3 0 7 6 15-1-9 1-5 1-13-3 0 2-11-1-5-1-1 0-2 2-18 2-5 3 2 0 6-3 3 2 0-1 10-1 1 1 1 2 2-2 10 2 3-3 3 0 1 0 1 1 9 2 1-3 6 0 5 1 3 6-14-1-3-2-20 0-2 1-3-1-4 1-4 0-11 0-2 2-4-1-3 0-3 0-2 3 3 0 2 0 1-1 16 2 4 0 3-2 1 3 1-2 1 2 12-2 3 1 11 1 5-3 14 7-19-1 0-1-3 2-6-3-9 3-2-1-2 0-6 0-4-2-1 1-4 6-18 0 3 0 15-2 9-1 3 1 2-1 1 3 4 0 1 0 1-2 2 1 1 0 2-2 1 3 1-1 1 0 9 2 2 2-15 1-5 0-1 0-4-3-12 3-6-1-5 5-8-2 7-1 26 3 0-2 2 1 2 0 3 0 10 5 1-1 0-1-2 2-3-3-3 3-1-1-1-2-1 1-2 1-2 0-1 1-2-2 0 2-2 0-3-1-4-1-8 3 4 0 2 2 1-1 1 1 3-2 2 1 6 1 5 0 1 0 11 1 1 3 4 1-3-2-2-1-2 0-2 3-1-3-5 1-2 2-1 0-7-2-4-1 0 1-4-1 0 0-4 6-9 1 11-3 3 2 1-2 1 3 6 0 1-2 1-1 1 2 0-2 3 0 3 1 0 2 8-3 1 4 5 3-8-2 0-1-1 1-10 2-2-1-9 0-1-1-5 3-2 3 1-3 3 1 3 0 2 2 7 0 3-3 8 0 1 3 2 4 7-2-1 2-10-1 0-1-1 0-3 2-1-3 0 1-1-1-3 0-4 2-1-1 0-1-3 2-2-1-6-1-2 4 9 1 2 1 2-1 7 1 0-1 2 2 0-3 1 2 2 1 1-1 5-2 13 5-12 2-3-2 0 1-2 0-6 1-1-3-6 1-4 1-7 1-2-3-10 2-3 5 11-2 2 1 0-2 2 1 1 1 1-1 3 2 6-3 1 2 0-2 4 2 0-2 3 1 1 0 1 1 1-2 5 1 0 2 1 4-2-2-2-1 0 1-4 2-1 0-1-1-1 0-1 0-1 1-1-3 0 3-3-3 0 2-4 0-1 3-3 0 3-1 2 3 0 0 3 0 1-1 4-1 1-1 2 1 0 0 1 1 0-1 2 2 5-2 2 6 2-1-1-2 0 1-3 2-2 0-2-2 0 2-1-1 0 0-2-2 0 0-3 3-1 0-1-3-1 6-7 1 4-2 1-1 1 3 4-2 1 2 2 4 17 0-10-3-1 1-1 0-1 1-2-2-1 0-1 3-1-2 0 1-2-1 0-1 0 1-1-1 0 3-1-1 0 0-1-1 0-1 0 3-1 0-1-2 0-1-1 0-4 5 4-1 2 1 0-1 1 1 0 1 0 1 0 0 1-1 2-1 1 0 2 1 0-1 3-1 2 3 0-2 1-1 5 2 1 1 1 3 2-1-8-1 0 3-1-1 0 1-1-1-1 0-1 1-2-1 0 1-1-1 0-1 0 2-1-1 0-1 0-1 0 3-1-2 0 2-2-2 0 1-2-1-2 2-3 0-2 0-3 2 2 1 8-1 1-1 1 1 0 2 0-3 1 1 0 1 1 1 0 0 1-1 2 1 0-3 2 1 0 1 0-2 1 1 0 0 1 1 0 1 0-3 1 0 1 2 8 2-9 2-2-2 0 2-1-1 0 1-1-1 0-1 0 3-1-1 0 1-1-1 0 1-1 0-1-2 0-1 0 1-2-1 0 1-1-1 0 0-2 6-6-2 1 2 1 0 1 1 1 0 3-3 2 0 1 2 1 1 0-3 1 3 0-3 1 1 0 1 0 1 0-2 1 1 0-1 2 0 1 1 0 1 0-3 1 1 0 1 1 1 0-2 1 2 0-1 1 1 0-2 4 5-2 1-1-2-1 0-1-1-1 3-1-2 0 1-1-1 0 2-1-2 0 2-1-2 0 2-1-2-1-1 0 3-1-1 0-1 0 2-1-3 0 2-1 1-1-1 0 0-1-1 0-1 0 2-4 2 4 1 0 2 1-3 1 1 0 0 1 2 0 0 1 0 3-3 1 2 0 1 3-3 1 6 0-1-1-1-1 2-2-1-1-1 0 0-1 2-1-1 0 2-3-1 0-2-1 4 1 1 0 1 0 1 0-2 1-1 1 2 0-2 1 2 1-2 1 1 0 1 0-1 1 2 1-2 1 2 0-2 1 4 0 1-1-2 0 3-1-3 0 3-1-1 0 1-1-1 0-2 0 3-1-1 0-1 0 1-2-1 0 2-2-3 0 3-1-1 0-1 0-1 0 7 0-2 2 1 0 1 0 0 1-1 1 1 0-1 2 1 0-2 1 1 0-2 1 3 0 0 1-1 1 1 0 2 0 2-1-2 0 2-1-2 0 0-1 1-1-1 0 1-2 1-1-1 0-1 0 0-1 1-1-1 0 2-1-3 0 4 0 2 0-1 2-1 2 1 0 1 4 1 0-1 1-1 1 5-1-1 0 1-1-1 0-1-1 0-1 3-3-1-1-1 0 2-1-2-1-1 0 4 0 0 1 2 0 1 4-3 3 2 0 1 0 3 1-2 0 3-1-1 0-1 0 0-1 2-1-3 0 2-1-1 0 2-1-2 0-1 0 1-2 1-2 3 1 1 1-1 1 0 1 1 0 1 0-3 1 3 0 0 3-2 1 6 0-2 0 0-1 2-1 0-1-1 0 0-1-1 0 0-1 1-2-2-1 4 0 0 1 0 1 1 0 2 0-1 1-2 1 3 0-3 1 2 0-1 1 1 0-1 1 6 1 0-2-1 0-1 0 2-1-1 0 0-1-1 0-1 0 0-1 1-1-1 0 2-1-1 0 0-1 3 1 1 0 2 0-2 1 1 4 1 1-2 1 6 0-1-2 0-1-1-1-1 0 3-1-1 0-1 0-1 0 3-1-1 0-1 0-1-1 0-1 5 0 0 1 2 0-3 1 3 0-3 1 2 0 1 0 0 1-2 1 1 1-2 1 1 0 5 0-1 0 2-1-1 0-2 0 3-1-1 0 0-1-2 0 1-1-1-1 0-2 7 0-2 1 0 1 1 0-2 1 1 0 1 0 1 0-2 2 1 0-2 1 0 1 1 0 1 0 5 0 0-1-1 0-1 0 0-1-1 0 2-1 0-2-2 0 1-1 5 1 1 0-3 1 1 0 1 0-2 1 3 0-3 2 5 1-1-1 2-1-1 0-1 0 3-1-2 0-1 0 3-1-1 0 1-1-3 0 2-1-2 0 4 0 2 0-2 1 1 0 1 0-2 1 1 0 1 0 1 0-3 2 1 0 2 0-2 1 6 0-1 0-1 0 2-1-2 0-1 0 2-1-2 0 3-2-2 0 1-1-2 0 4 0 1 0 1 0-2 1 1 0 1 0 1 0-3 1 2 0 1 0-2 1 1 0 1 1-2 1 6 0-2 0-1 0 2-1-2 0 3-1-2 0-1 0 3-1 0-1-1 0-1-1-1 0 1-1 6 0-2 1 2 0-2 1 1 1 1 0-3 1 3 0-2 1 2 0-1 1 5 0-2 0 2-1-1 0-1 0 1-1-2 0 3-1-2 0-1 0 3-1-1 0-1 0-1 0 2-1-2 0 3-1 1 0 1 1-1 1 2 0 1 0-3 1 1 0 1 0 1 0-2 1-1 1 1 0 1 1 4 0-1 0 2-1-1 0-2 0 1-1-1 0 2-1-1 0-1 0 2-1-1 0 1-1-2 0 3-1-3 0 4 1 1 0-1 1 2 0 1 0-3 2 0 1 7-3 0-1-2 0 5 0 1 0-3 1 1 0 1 0-1 1 3 0 1-1 0-1-1 0 7 0-3 1 1 0 1 0 1 0 1 0 3-1-3 0 5 0 1 0-1 1 2 0 2 1-1 0 1-1-1 0 3-1-1 0-2 0 5 1-1 1 7-1-1 0-1-1 3 0 0 1 7 1-1 0-2-1 3-1 1 1 1 0 1 0 0 1 1 0 2 0-1 0 2-1 1-1 1 1 3 0-3 1 7 0-2-1 4 0 1 0 1 0 4 1 0-1-1 0-1 0-1 0 5 0 2 0-3 1 2 0 1 0 3 0-1 0-1 0 3-1-3 0 4 0 3 0-3 1 3 0 4 0-3 0 4-1 0 1 1 0 2 0 4 0-1 0-1 0-1 0 6-1-2 1 1 0 1 0 1 0 2 0-1 0 5 0 1 0 1 0 3 0-1 0-1 0 4 0 1 0 1 0 1 0 3 0-1 0-1 0 5 0 1 0 1 0 4 0-1 0-1 0 3 0 1 0 2 0 3 1-1 0 2-1-2 0-1 0 4 0 1 0 1 0 1 0-3 1 1 0 5 0-1 0-1 0 3-1-3 0 6 1 1 0 4 0-1 0-1 0-1 0 4 0 1 0 1 0 1 0 3 0-2 0 4 0" fill="none" stroke="none" marker-start="url(#k0)" marker-mid="url(#k0)" marker-end="url(#k0)"/>
<path transform="scale(.5)" d="M1573 773l1 1-1 1 0 2 0 3 1 0 1 1-2 3 1 0 0 3 1 0 0 1 2 2 1-2-2 0 3-1-1-1-2 0 0-1 2-1 0-1-1 0 1-1-1-2 1-1-1 0 2-5-3 0 7 0-2 5-1 1 2 1 1 2-3 1 2 0-2 2 2 0-2 1 2 0-2 1 2 4 5-5-2 0-1 0 3-1-1-3-2 0 2-2-2-1 2-1-2-3 3-1-2-1 5 5-1 1-1 3 2 0 1 0-3 2 2 0 1 0-3 5 5 1 0-6-1 0 3-1-1 0 0-2 1-2-3-1 5 3-1 1 1 0-1 3 1 0 2 0-1 1 0 2-2 2 1 2 6 1-3-3 3-2-2 0 0-1-1-1 1-1 2-1-2 0 1-1-1 0-1-1 1-1-1 0 1-2 0-1 2-1-3-1 5 0-1 3 3 0-3 1 1 1 2 2-1 1 1 0-1 4-2 1 3 0-2 2 1 0 1 1 0 5 1-7 2-1-1-1 1-1 1-1 0-3-3-1 1-2-1-2 3-1-3-2 7 4-1 1 1 0-2 6-1 1 1 1 4 5 2-1-3 0 1-2-1 0 0-2 3-1 0-1-3-1 3-1-2 0 2-2-2 0-1 0 0-1 4 1 2 1 0 1 1 0 0 2-3 1 1 1 1 1 1 0 0 4-1 1 5 5-2-2 1-2-2 0 1-4-1-1 2-1-2 0 3-1-2 0 2-3 0-3-3-1 6-1 1 2-3 1 3 3 0 1-1 2-1 1 2 0-3 1 1 0 2 1-2 3 4 0 1-1-2 0 1-1 0-1 0-1 1-1-2 0 1-3-1 0 2-2-2-1 4 1 1 2 0 1 0 1 1 0 0 1-2 1 2 1 1 0-3 8 4-2 0-2 0-2 1-1 2-1-2 0-1 0 0-1 3-1-1 0 1-1-1 0-1 0 1-1-2-2 3-2-2-1 6 1-3 1 2 1-2 1 0 1 2 0-2 1 0 4 2 0 0 2-2 3 1 1 6 1-1 0-2-1 1-1-1-4 3-2-1 0-1-1-1 0 2-2 0-2 0-1-1-4 4 5-1 1 1 1 0 1-1 1 0 1 1 1-1 1 1 0 0 1 1 0 1 1-2 1 6 4-2-5 1-1-2 0 2-1-1 0-1 0 3-1-1-1 0-2 1-1-2 0 0-2 3 2 3 1-1 1-2 5 1 0 2 0-1 1 3 8 2-1-2-3 1-2-1-2 2-1-2-1-1 0 3-2 0-2 0-1 0-1-3 0 3-1 0-1 2-1-1 4 2 2-1 2 2 0 0 2-2 1 1 0 1 2-2 3 1 0 1 1-2 1 5 11-2-13 3-2-3-1 1-4-1-1 3-1-2 0-1 0 5 0 1 5-1 3 1 0 0 2-2 1 3 0-3 1 3 0 4 2-1 0 0-1-1-1 2-1-3 0 2-2-2-1 2-1-1-2-1 0 3-2-1 0-1-6-1 0 2-3 3 4-1 2 3 5 0 1-1 2-2 3 0 1 1 2 2 2-1 4 0 1 5-8-2 0-1 0 0-2 0-1 1-1-1-1 0-5 1-1 4-1-1 6 2 0-2 3 0 1 2 0 0 2-2 6 0 2 1 2 6-4-1-2 1-1-3-1 0-3 3-2-3 0 2-2 1-1-1 0-2 0 1-1 2-1-2-2 1-5 3-3 1 9-2 7 3 0-1 2-1 1 2 0-2 1 2 3-3 3 2 1 1 0-1 9 4-6 0-6-1 0 2-1-3 0 0-1 3-1-2-1 0-1-1 0 2-2-1-1 1-2-2-1 0-7 2-4 1-5 2 8 2 6 0 1 0 3-2 1 0 1 0 2 0 2 1 2 1 1-2 11 4-6 0-1 0-2-1 0 1-5 2-3-2-2 2-6-2-4 0-2 2-9 4 12-1 3-1 2 2 0-3 1 2 0 0 2 1 3-3 1 3 1-1 1 1 1-3 1 3 2 0 4-1 1 3 5 2-2-1-1-1 0-1-3 3-6 0-3-3 0 0-1 3-1-1 0 1-3-1-1-2-2 2-2 2 4 3 6-3 2 1 0 1 1-2 2 0 2 2 6 3 3 1-1-1-4 0-1 2-5-1-3-2 0 3-2-1 0 1-1-2-2-1-1 2-1-1 0 2-1-1 0-2-4 0-1 1-2 3-4 0 4 3 0 0 1-2 3 0 2 0 2 2 0-3 1 2 0-2 2 1 0 1 0 1 0-2 1 1 0 1 0-2 1 0 1 1 1 1 0-3 1 1 0 1 0 1 0-2 1 0 1 1 0-2 1 0 1 3 0-3 1 1 1 2 0-3 2 1 0 2 1-2 1 1 2 0 1 2-1 3-2-2-1 0-1 1-2-1 0 2-1 0-1 0-1-3 0 1-1-1 0 3-1-2 0 1-1-2 0 1-1 1-1-1 0-1 0 3-1-1 0-1 0 2-1-1 0-1 0-1 0 3-1-1 0 0-1-1 0-1-1 2-1-1-1-1-2 3-1-1-1 0-3-1-4 3 12 1 3 2 0 0 2 0 1-3 1 1 0 1 0-2 1 1 0 2 0-1 1-2 1 0 1 3 0-2 1-1 1 1 0 2 1-2 4 1 0-2 1 3 1 1 0 2-1-2-1 0-2 1-1 1-1-1 0-1 0 2-1-1 0-1 0 3-2-2 0-1 0 1-1-1 0 3-1-2 0 2-1-1 0 1-1-1-1 1-1-3 0 2-1-2 0 3-1-2 0 2-2-2 0-1-1 7 2-3 1 2 0 1 0-3 1 2 0 1 0-3 1 2 0 1 0-2 1 2 0-3 1 1 0 2 0-1 1 1 0-1 1 1 0-3 1 1 0 2 0-2 2-1 2 1 0 1 0 1 0-1 2 0 3-2 1 2 0 4 1 1-2-2 0 0-2-1 0 0-1 2-1-2 0 3-1-2-1-1 0 1-3-1 0 0-1 2-2-1 0 2-1-2 0 1-1-2 0 3-1-3 0 1-1 3-2 2 1-2 1 2 1-2 1 1 0 0 1-1 1 1 0-1 1 1 0 1 0 1 0-1 1 1 0-3 1 2 0-1 1-1 3 2 2 1 2 1 2 1-2-1 0 2-1 1-1-1-1-2-1 1-2 2-1 0-1 0-1-1 0-1 0 2-1-1-1-2 0 1-1-1 0 2-1-1 0-1 0 3-1 0-1 0-2-3 0 6-1 1 0-2 1 2 0-1 1 0 2-1 1-1 1 1 0 1 0 1 0-3 1 1 0 2 0-2 1 1 0-2 1 0 1 2 0-1 1 1 0-2 3 1 0 0 3 0 1 0 1 0 1 6-1-2-1-1 0 0-2 3-1 0-1-2 0 1-2-2-1 3-1-2 0-1 0 3-1-1 0-2 0 2-1 1-1-2 0-1 0 2-1-1 0 0-1 1-1-1 0 2-1-1 0-1 0-1-1 3-1 1 1 0 1 2 0 0 2-2 1 1 0 1 0 1 0-3 1 1 0 2 0-1 1-1 1-1 2 3 0-2 1-1 1 2 0-1 2 1 1-2 1 2 0 0 1-1 2 6 1-1 0-2-1 0-1 2-2-1-2 0-1 2-1-1 0-2-1 2-1 0-1-1 0-1 0 3-1-3 0 3-1 0-1-3 0 3-1 0-1-3 0 1-1-1 0 0-1 0-1 3-1-2 0 5-1-1 1 2 0-3 3 1 2 2 0-2 1 2 0-3 1 1 0-1 2 1 0 2 0-3 1 1 0 1 0 0 1 1 3-3 2 3 0 1 4 1-1 2-1-2 0 2-1-2 0 0-1-1 0 2-1-1-1 0-1-1 0 2-1 1-1-1 0 1-1-3 0 1-1 2-2-1-1-2 0 1-1 2-1-1 0-1 0 2-1-2 0 0-1-1-1 3-2-1 0 5 1-2 1 0 1 0 1 1 0 1 0-3 2 1 0 1 0-1 1 2 0-3 1 1 1-1 1 2 0 1 0 0 3-2 1 0 2 1 0 0 1 0 1-2 1 2 0 0 2 5-1-2 0 2-1-2 0 2-1-1-1 0-2-1-1-1-2 3-2-3 0 3-1-1 0-1 0-1 0 3-1 0-1-3 0 0-1 3-1-1 0 0-1-2 0 2-1 0-2-2 0 0-1 5 1-1 2 1 0 0 1 1 0 1 0-3 1 2 0 1 0-1 1-1 1 1 0 1 0-2 1 2 0-2 2 2 0-1 1-1 1 1 1-2 3 1 2 2 0-3 1 7 1-1-4-1-1 1-2 1-2-1 0-1-1-1-1 2-1 0-1 1-1-1 0-2 0 2-1-1 0-1 0 3-1-1 0-2 0 3-1-3 0 2-1-1 0-1 0 2-1-2 0 2-1-2 0 4 2 1 0 2 1-2 1-1 1 2 0 1 0 0 1-3 1 3 0-2 2 1 0 1 0-2 1-1 6 0 3 2 1 1 0-2 1 6-5-2 0 2-1-2 0-1 0 0-1 2-1 1-1-1 0 1-1-1 0-1-1 0-1-1-1 3-1-2 0-1 0 2-1-2-1 3-1-2 0 1-1 1-1-1 0 1-1 4-1-2 1 0 1 1 0-2 1 1 0 2 0-3 1 1 0 1 0-1 1 1 0 1 0-3 2 1 0 2 0-3 1 3 0-3 1 0 1 2 0-1 1 1 1 1 1-2 1 1 0 0 1 1 3-2 1 4 2-1 0 3-1-1-3 0-1 1-1 0-1-1 0 0-2-1-1 1-2 1-1-3 0 2-1-1-1-1 0 2-2-1 0-1 0 2-1-1-2-1-1 5 1-1 2 3 0-1 2-2 1 2 0 0 1-2 1 2 0 1 0-3 1 2 0 1 1 0 1-3 1 2 0 1 1-3 1 2 0-1 1 2 1-1 2-2 1 2 2 3-1-1-1 2-4-1 0 2-2 0-3-2 0 2-1-1 0-1-1 1-1-1 0 1-1-1 0 1-1-2 0 3-1 0-1-3-1 1-1-1-1 6 1-2 2 0 2 1 1 1 0-2 1 1 0 1 0-2 1 1 0-1 1 1 0 2 0-3 1 2 0 1 0-1 1 0 1-1 2 1 0 1 1-3 2 1 1-1 1 3 0-2 1 2 0 4-4-1 0-1 0-1 0 3-1-3 0 1-2 2-3-1 0-1 0 2-1-1 0-2 0 0-1 3-1-2 0 2-1-1 0-1 0-1 0 3-1-1 0-1 0 2-1-1-1-2 0 3-1-3 0 2-1-1 0 3 0 3 0 0 1-3 2 1 0 2 0-3 2 2 0 1 1-2 1-1 1 1 0 2 0-3 1 1 0 2 0-2 1 1 1-1 1 2 2-2 1 0 1 2 2-3 1 3 1 4-1-1 0-2 0 0-2 3-3-2 0-1 0 2-1-1-1-1 0 2-1 1-1 0-1 0-1-2 0-1 0 1-1-1-1 3-1-3 0 3-1-1 0-2 0 2-1 1-3-3 0 2-1 4 2-2 1 3 0-2 1 2 0-3 2 1 1 2 0-2 1 2 0-3 1 2 0-1 2 1 0-1 1 1 1 1 0-3 1 1 4 1 0 0 1 5 1-1 0-1 0-1 0 2-1-2-1 3-1-1-1-1 0-1-4 2-1-1 0 2-1-1 0-2 0 3-1-1 0-2 0 3-1-2 0-1 0 3-1-1 0 0-1-2 0 0-1 3-1-3 0 0-1 2-2 0-1 4 3 1 0-1 1 0 1 1 0-2 1-1 3 2 0-2 1 2 0 1 0-2 1-1 1 3 1-3 3 1 2 1 0-2 1 2 0 1 0-1 1-2 1 1 0 6-1-1 0-1-1-1-1 3-1-1 0 1-1-3-4 0-1 2-1 0-1-1 0-1 0 2-1 1-1-1 0 0-1-1 0-1 0 2-1-2 0 3-1-1 0-1 0 2-1-3 0 3-1-1-2 2 2 0 1 3 0-2 1-1 2 1 0-1 2 1 0 1 0-2 1 0 1 3 1-3 2 1 0 2 1-2 1 1 0-2 1 2 2 1 0-2 1 2 0-2 1 3 1 2-3-1-1 0-1 2-2-2 0 2-1-3 0 2-2-1 0-1-1 1-1-1 0 1-1 1-1-1 0 1-1-2 0 2-1-1-1 1-1-1 0 4-3 0 2 0 1 1 0-1 1 1 0-1 1-1 1 3 0-1 1 1 0 0 1-2 1 1 0 1 0 0 1-1 2-2 1 2 0 1 1-3 1 1 0 0 1 0 3 1 0-1 1 1 0-2 1 1 0 6-4-1 0-1-1 1-1-2-3 3-1-3 0 2-1-2 0 2-2 0-1-2 0 1-1 2-1-3 0 3-1-1 0 0-2-2 0 3-2 4 0-3 1 1 0 2 1-3 1 2 0 1 0-2 1 1 0-2 1 2 0 1 0 0 1-1 1 0 1 1 0-3 1 1 1 1 0-2 3 0 1 1 0 1 0 0 1 1 0-3 1 2 0-2 1 1 0 1 1 1 2 4 0 0-1-2 0 0-1 2-2-3 0 3-1-1-1-2-1 2-1-1 0 2-1-1-1-1 0 2-1-1 0-1 0 2-1 0-1-3 0 3-1-2 0 2-1-1 0 1-1-1 0-1 0 2-1-2 0-1 0 2-1 0-1-2 0 4 0 3 0-3 2 1 0 0 2 1 0-2 1 1 0-1 1 1 0 2 1-2 1-1 1 1 0 2 0-1 1 1 0-2 1 1 1 1 1-3 1 1 1 1 1-2 2 3 1 3 1-2 0 2-2-1 0-1 0 3-1-3-1 3-2 0-1-2-2-1-1 3-1-1 0 1-1-2 0 2-1-1 0-1 0 2-1 0-2 0-2-3 0 3-1-3-1 3-1 1 1 3 2-2 1 1 0 1 0-2 1 2 0-3 1 0 1 2 0 1 0 0 1-2 1 1 0 1 1-3 1 1 0-1 2 0 1 2 2 1 1 0 1-2 2 3 1 2-2 1-1-3 0 1-1 2-2-1 0-2-1 2-2 1-1-1 0-2 0 2-1-2 0 3-2-3 0 1-1-1 0 1-1-1 0 2-1-1 0 0-1-1 0 3-1-2 0-1-1 3-2 1 1 2 0 1 0-2 2 1 0-1 1 2 0 0 1-3 1 1 0 1 0-1 1 1 0-2 1 3 0-1 1-2 1 1 1 1 1-2 2 3 0-3 1 1 0 0 2-1 1 0 1 1 1 2 0 3-1-1 0 0-1 1-2 1-1-2 0 2-1-1 0-2 0 3-1-1-1 1-1-1 0-1 0 2-1-1 0-1 0-1 0 1-1 2-1-1 0 1-1-1 0-1 0 0-1 0-1-1 0 1-1 1-1-1-1 0-1 2-1 2 1 2 1-2 1 1 0-2 1 1 0 1 0 1 0-2 1 1 0-1 1-1 1 3 0-3 1 3 0-1 1-2 1 2 0-1 1 1 0 0 1 1 2 0 4 0 1 0 1 3 0 1-1-2-2 0-6 0-1-1 0 1-1 0-1 1-1-1 0-1-1 2-1 0-1-1 0-1 0 2-1-1 0-1 0 1-3-1 0 4 1 2 0 0 1-2 1 0 1 1 2 0 1 2 0-1 1 1 1-2 1 2 0-1 1 0 1 0 3 1 2 0 2-3 2 7-1-3 0 3-1-2 0-1-2 1-1 1-1 1-1-3 0 1-1 1-1 1-1-2 0 2-1-3 0 0-1 2-1-1-1 2-1-1 0-1 0 2-1-1 0-2 0 2-1 1-1-2-1-1-1 3-1 1 1 1 0-1 2 1 0 2 0-3 1 1 0 1 1 1 0-1 1 1 1-3 1 1 0 0 2 2 0-3 2 2 0-2 1 1 0 2 0-1 2 1 2-3 3 1 0 2 0 2 0-1-1 0-6 1-1 1-1-1 0 0-1 1-1-1 0-1 0 3-1-1 0-1 0 1-1-1 0-1 0 3-1-1 0 1-1-2-1-1 0 3-1-3 0 3-1 3 0-1 1 1 0-2 1 1 0 1 0 1 0-2 1-1 1 1 0 1 0 1 0-3 1 2 0-2 1 3 0-3 1 1 1 1 1 1 1-1 1-1 2 1 1 1 2 0 1 0 1 3 1-2-1 1-1-1 0 2-2-1-2 0-1 1-1-2-1 0-1 3-1-2 0 1-1-2 0 3-1 0-2-3 0 0-1 3-1-3 0 3-2-3 0 2-1-1 0-1 0 4 0 0 1 1 1 2 0-3 1 2 0 1 0 0 1-2 1 1 0 1 0-3 1 1 0 1 0 1 0-3 1 1 0 1 0 0 1 1 0-3 1 1 0 2 0-3 1 1 3 2 0-3 1 1 0 0 1 2 0-2 1 0 1 1 0-2 1 2 0 2 2 1-1 1-1-2 0 1-1-1 0 2-1-1 0 2-1 0-1-1 0-2-2 2-1-1 0 2-1-2 0 2-1-1 0 0-1-2 0 3-1-3 0 3-1-1 0 1-2-1 0 1-1-1 0-1 0 0-1 0-2-1 0 7-1-1 2 1 0-3 1 1 0 1 0-2 1 1 1 0 1 1 0 1 0-3 1 3 0-3 2 2 1-1 2 0 1 1 0 1 0-3 4 2 0 1 1 0 1-3 1 2 1 4-1-1 0 2-2-3 0 3-1-2 0 1-2-1-2-1 0 3-1-1 0-1 0 1-1-2 0 2-1 1-1-1 0 1-1-3 0 0-1 1-1-1 0 2-1-2 0 1-2-1 0 1-1-1 0 1-1 0-1 6 2-2 2 1 0 1 0-3 1 1 0 1 0-2 1 2 0 1 1 0 1-2 1 1 0 1 0-3 1 1 0 2 0-3 1 0 1 1 0 0 1 1 0-1 1 1 1 1 0-1 1-1 1-1 1 2 0 0 1-2 1 2 0 2-1 0-1 0-2 1-2-1 0 1-1 0-2-1 0 1-4-1 0 0-2 1-1-1 0" fill="none" stroke="none" marker-start="url(#k2)" marker-mid="url(#k2)" marker-end="url(#k2)"/>
<path transform="scale(.5)" d="M1424 746l1 3 0 11 0 3 6-5 0-3-1-3 3-5-1 15 6 4-1-4 2-20 4 12 0 6-3 5 7-1-2-1-1-1 3-5 0-1-2-1-1 0 2-1 5-9-3 2 3 13-1 5 3-1 2-5-3-6 2-3 2 7 2 0 1 5-3 1 3 6 3 0-2 0 2-2 0-1 2-27 0 19 2 3-1 6 6 1 0-2-2-18 3-7 3 13-3 2 0 6 1 3-1 10 5 0 0-5 1-4-2-2 3-8 3-5-2 7 1 1 2 3 0 2 1 9 3-1-1-1-2 0 1-4 2-1 0-3-3-5 6-2 1 3-2 3 0 4 0 2 1 0-1 1 1 0 0 2 5-1-2 0 6-19 0 8 0 5-2 1 2 0-3 3 1 2 2 4-2 3 1 5 5-8 0-5-3-3 5-12 1 3-1 6 1 7 1 0 3 16-1-3 0-15 1-1-1-1-1-8 2-4 2 7 2 2 1 14 3 14-1-16-1 0 1-3 1-2 0-2 1-1 1-10 0 11 2 0-2 10 3 0-1 5 0 1 5-2-1-9 1-2-2-5-1-6 3-1 3 1 1 5 0 8 0 1 0 1 0 14 4-20-1-4 1-7-3-6 7 20 0 2 0 1 0 12 1-7 2-5-1 0 2-2-1 0-1-9 6 5-3 9 3 2 0 2 2 3 1-7 3-5 1 1-2 2 0 1 0 1 2 4-2 1 5 12-1-22 3-9 2 3-1 9 1 0-1 12 7-8-1-4 0-7 4 1-2 1 1 16 1 0 0 1 5-17 3 6 1 8" fill="none" stroke="none" marker-start="url(#k1)" marker-mid="url(#k1)" marker-end="url(#k1)"/>
<path d="M605.0 360.0 L669.6 364.8 L685.1 366.2 L697.8 367.7 L702.8 368.5 L706.1 369.4 L707.7 369.9 L709.9 371.6 L712.0 374.0" stroke="#0000ff" stroke-width="2.6" fill="none" stroke-linejoin="round"/>
<path d="M712.0 374.0 L712.0 377.0 L713.3 376.0 L714.6 377.3 L715.9 376.7 L717.2 378.1 L718.5 375.7 L719.8 377.8 L721.1 381.3 L722.4 378.9 L723.7 377.4 L725.0 379.1 L726.3 380.1 L727.6 381.5 L728.9 379.6 L730.2 379.5 L731.5 376.4 L732.8 375.2 L734.1 375.3 L735.4 379.8 L736.7 379.4 L738.0 381.0 L739.3 383.3 L740.6 385.5 L741.9 384.2 L743.2 386.2 L744.5 387.0 L745.8 386.1 L747.1 383.5 L748.4 390.0 L749.7 388.6 L751.0 388.7 L752.3 387.6 L753.6 386.3 L754.9 386.0 L756.2 383.4 L757.5 383.8 L758.8 383.0 L760.1 383.5 L761.4 386.6 L762.7 385.8 L764.0 381.7 L765.3 381.6 L766.6 382.4 L767.9 382.7 L769.2 384.5 L770.5 388.9 L771.8 390.2 L773.1 390.5 L774.4 390.8 L775.7 390.9 L777.0 392.5 L778.3 392.1 L779.6 391.4 L780.9 390.9 L782.2 391.6 L783.5 390.1 L784.8 387.1 L786.1 389.3 L787.4 388.8 L788.7 390.2 L790.0 389.7" stroke="#0000ff" stroke-width="2.2" fill="none" stroke-linejoin="round"/>
</g></g>
<g>
<line x1="605.0" x2="980.6" y1="468.20" y2="468.20" stroke="#ffc0cb" stroke-width="2"/>
<line x1="605.0" x2="980.6" y1="454.70" y2="454.70" stroke="#ffc0cb" stroke-width="2"/>
<line x1="605.0" x2="980.6" y1="454.70" y2="454.70" stroke="#dd66dd" stroke-width="2"/>
<line x1="605.0" x2="980.6" y1="441.20" y2="441.20" stroke="#ffc0cb" stroke-width="2"/>
<line x1="605.0" x2="980.6" y1="427.70" y2="427.70" stroke="#ffc0cb" stroke-width="2"/>
<line x1="605.0" x2="980.6" y1="414.20" y2="414.20" stroke="#ffc0cb" stroke-width="2"/>
<clipPath id="c16"><rect x="605.0" y="413.10" width="375.60" height="68.10"/></clipPath>
<g clip-path="url(#c16)">
<line x1="785" x2="980.6" y1="454.2" y2="454.2" stroke="#008000" stroke-width="3"/>
<path transform="scale(.5)" d="M1211 862l0 41-1 4 1 16 3 5-1-11 1-19 0-3 0-5-2-1 2-2 1-1-1-3-2 0 1-8 1-2 0-2-1-1 1-3-2-2 5-28 0 20 1 33 1 3-2 5 0 2 0 29 3 2 1-1 0-4 2-22-2-3-1 0 0-4 0-9 1-2 0-1 1-2 2-53 3 25-3 10 2 7 1 2 0 1-2 3 2 8 0 2 0 1 0 3-2 14-1 9 2 0 3-11 0-2 2-4-1-4-2-8 2-11-1-4 2-6-2 0 1-1-2-3 0-1 2-2 4-23 0 20 1 8-2 2 0 1-1 1 0 3 2 0-2 3 3 9-3 4 1 3 2 12 0 3-3 2 1 13 0 1 1 3 0 1 1 3 2-1 1-21-1-18-1 0 2-7 1-9-1-5 0-3-1-5-1-3 3-16-3-4 6 1-2 3 3 0-2 24-1 11 1 3 2 0-3 5 0 3 3 14-1 3-2 1 2 3 1 8-3 2 3 2-2 17 5-17 0-20-2 0 1-14 0-2 1-1 0-2-2-2 2-1-1 0 1-4-1-6 6 0-1 7-1 1 0 6 0 2 0 1-1 6 3 14-1 10 4 26-1-3 2-1-3-9 1-23-1-4 0-4 2-14-1-2 0-4-1-3 1-1 2-10 0-6-3-1 4-22 3 2-2 13-1 2 3 13-3 3 2 17-1 2-1 2 3 2-1 2 1 2-3 5 0 2 2 0-2 2 1 4 2 5-2 28 1 1 0 2 0 5-1 3 5-5-1-3 1-38-2-2 1-2 0-1 1-2-1-1 1-6 0-1-2-11 2-16-1-10-1-3 5 12 1 4-2 9 2 15-1 3-1 3 3 3-3 4 0 5 6-10 0-1-2-3 2-3 1-7-2-3 2-1-2 0-1-1 2-1 0-11-1-2-1-4 2-8 5-9-1 4-2 8 3 12-2 4 0 3 1 2 0 2 1 0-2 3 0 6 2 3 0 23-1 10 2 33 3-26-3-2 3-2 0-6 0-16-1 0 0-7-2-11 3-14-2-2-1-3 3-5-1-18-2 0 0-6 2-1 5 17-1 31-1 9-1 4 1 2 0 3 0 4 1 8-1 2 3 36 2-37-1-1 2-13-3-2 3-1-1-13 0-28 1-3-3-6 1-1 3-4 2 3 0 7 1 1-2 2 2 4-1 9 1 2-2 15-1 1 3 0 0 1 0 1-1 2-1 7-1 1 2 1 1 0-1 3 1 0-3 1 2 0-1 6 1 12 1 6-1 3 2-6 1-2 0-2 2-8 0-5-3-1 3-9-1-2 0-15 0-4-1-1-1-12 1-2 2-10 0-7-2-6 2-6 1 9 2 5 0 4 0 10-2 2 1 3-1 2 1 11 1 2-2 2 3 0-2 2 1 0 0 3-1 8 0 1 1 0-2 1 2 1-1 3 0 4 2 13 3 18-1-3 2-2 0-12-2-5-1 0 2-3-1-5-1-2 0-3 3-1-1-1-2-1 0-3 2-8-1-22 5-16-2 15 0 12 0 25 3 9 0 7-3 4 0 7 1 6 6 5-2-22-1-11 2-1 1-3-3-15 1-2-1-2 3-31 1-7 0 9 3 1-3 13 2 0 1 1-3 5 1 3-1 15 1 0-1 3 2 1-2 4 1 7-1 12 1 3 3-8 2-4 0-3 0-2-1-1 1-1 1-4-3-4 2-12 0-1-2-34 1-5-1 0 6 24-2 6 2 0 1 1 0 6-1 5-2 1 2 2 0 2-2 5 3 2-2 38 2 2-1 8 1 3 4-11 0-23-1-3 1-4-2-4-1-2 2-9-1-5 1-2 1-2-3-1 0-10 2-19 1-8-2-8 3-10 3 2-2 58 1 5 1 2 0 3-1 28 2 22 0-13 2-5 1-1-2-2 2-2-1-3 0-15 0-7-1-1 2-1-3 0 0-4 0-6 0-2 2-2-1-4 3-6 1 9 0 2 0 16 1 7-1 12-1 2 3 1-3 1 3 1 0 20-2 13 3 0 2-13 1-11 0-14-2 0 2-1-2-10-1-23 1-5 1-18-2 0 3-5-3-19 4 8 2 12-1 3-1 7 1 3 1 1-2 9 3 13 0 1-3 11 1 1 1 10-2 4 0 16 4-19 3-1-3-20 3-4-2-8 0-1-1-10 1-1 2-13-2-1-1-2 3-16 0-6 2-1 0 5-1 7 3 3 0 25-2 16 2 11-3 4 3 0 0 4 0 9 2 37 2-14 0-5-2-21 0-6 0-3-1-1 2-2-2 0 0-2 2-1 1-7 0-3-2-3-1-13 7-38-1 3 1 18-1 4-1 1 0 4 2 5 0 3-2 1-1 12 1 3 1 0 0 1 0 11-2 6 2 3 1 3-1 17-1 3 0 6 3-13 0-12 3-2 0-12-3-2 3-6 0-3-1-3-1-9 1-1 0-10-1-23 1-1-1-1 0-3 4-2 1 22-2 6 2 5-1 4 0 1-1 2 2 3 0 1 1 7 0 1-3 4 0 2 0 1 1 2 0 1-1 1 0 27 3 0-2 14 3-40 0-8 2-1-2-1 3-11-3-2 3-3-3-1 0-1 3-3 0-12-3 0 2-3 3 17-1 3 1 4 1 2-2 1 2 4-1 8 0 3 2 11-3 4 2 23 2 2 3-11-1-16-2-1 2-6 1-3-3 0 0-1 0-6 0-3 1-2 2-4-3 0 1-2 2-1-3-5 3-1-3-4 0-10 2-8 1-3-1-2 1-8 3 7-1 2 0 29 2 1 0 1-2 1-1 18 1 9 1 1 1 9-2 8 0 7-1 3 1 3 4-24 0-2 2-34 0-6 0-4 0-6-1-4 1-1 2 2 2 0 0 8-3 9 2 10 1 26 4 6-2-3-1-2 2-1 1-1-1-6-2-10 2-6 0-4 1-1-1 0 1-2-1-13-1 0 0-2-1-1 3-6-2-4 5 2 0 3 1 3 0 2-3 4 2 6-2 7 2 0-1 2 0 1 1 2-2 3 1 0 2 0-1 3 1 0-1 2-1 2 2 7-2 3-1 2 2 4 0 9 1 2 3 1-1-1 0-10 1-14 0-4-2-3 0-2 2-24-1-1 4 22-1 3 2 5-2 1 3 3-3 3 3 4 0 3-3 1 1 1 0 2 2 3 2 0-1-3 0-2 1-1-1-27 3-23 3 2-2 19 3 7 0 18-3 1 2 8-2 30 2 2 3-1 2-19-1-5-1-1-1-7 2-4-1-10 1-2 0-4 1-2-1-1 0-17 1-2-1-29 1-3 2 2 1 0-2 29 1 3 2 5-3 10 1 1 0 6 1 0 0 2-1 3 0 9 2 5-3 27 3 3 2-31 1-2-1-1 2-5-2-4 1-3-2-3 3-1-3 0 0-7 0-13 1-4 1-3-2-2 2-2-2-4 2-1 5 9 0 5-2 2 2 7-3 2 3 2-1 11 0 2-1 1-1 4 3 22 3 15-1-36 1-2 0-1-2-2 3-12-1-4 1-11 0-2-3 0 1-2 1-12 1-10 2 23 2 4-2 2-1 1 0 5 0 4 3 1-1 1-2 5 3 1 0 3-2 8 0 10-1 7 2 2 0 3-1 14 6-26-3 0 1-1 1-3 0-14 0-9 1-11 3-39-2 49 0 1 2 0 1 4-1 4-2 7 0 10 2 12 3-6 1-21-2-5 3-1-1 0-1-1-1 0 3-4 0-1-1-3-1-9 0-36 3 19 3 18-3 1 1 5-1 3 2 2-1 1 2 2-1 1-1 2 0 2 1 0-1 2 1 1 0 24 4 12 1-18 0-3-3-1 2-4 1-6-1-1-1-3-1-1 3-8-1-4 1-6 2-8 1 1 0 8-1 1 1 1-2 2 3 5-2 4 1 1-2 2 2 1-1 1 1 4 0 1-1 3 2 1-1 2-2 2 3 0-1 5-2 17 5-15 2-1-1-1 0-1 1-1-3 0 3-2-2 0-1 0 1-2 0-9 2-9-1 0-2 0 2-2 0-2-2-5 3-3-3-1 3-2-2-1-1-4 5-3 2 2 0 5-1 18-2 4 3 3-1 17-1 1 3-3 1-3 2-5-2-1 2-5-1-6 0-1 1-4 0-1-2-1 2-3-3 0 0-1 2-5 0-2-2-10 1-8 3-2 0 19 0 7 3 4-2 1 0 7 2 1-1 1-1 1 2 2-1 1 0 1-1 2 2 9-1 3 0 6 1 14-3 2 5-14 2-15-3-6 1-4 2-7 0-2-3-2 3-5-2 0 1-4-2-11 2-2 3 11 2 4-3 4 0 8 2 3 1 0-2 3 0 3 1 0-2 2 2 3-1 1 2 1-2 5 6-2-2 0-1-3 0-3 0-1 0-1 0-4 2-7-2-5 1-1-1 0 2-2-1-5 0-5 0-12 3 10 3 6-3 1 3 1-1 2 0 5 0 2-2 6 2 0-2 7 1 2 1 4-1 5 6 6-2-6-1 0 3-2-3-1 3-8-2-2 2-1-2-1 1-2 1-8-3-4 0-1 0-2 3-5-1-16 2-2 1 19 0 13 0 2 1 0 0 1 0 2-1 5 1 0-2 5 0 1 1 1 2 0-3 1 3 0-1 4-1 1 6 1 0-2-3 0 0-2 3-3-2-2 1-7 0-20 5-13-1 15-1 4-1 12 2 5 0 1-1 1 1 2 1 2-3 6 3 0 4 2 0-3-2-2 1-3 1-1-2-3 2-1-3-1 4-18 2 2 0 3-2 2 0 3 1 1 0 4-1 2 3 7-2 1 2 2 0 4 4 2 0-2-2 0 1-2 1-1-1-2 0-4 0-1-1-8 0-5-1 0 1-5 1-4 1-11 1 22 2 2 1 0-3 9 2 0-1 1 1 0-1 12 2 2-1 5-2 1 6 4 0-2-2-2 1-18 2-5 0-2-2-2 0-2-1-1 1-5 2-4-3-1 5-2-1 5 0 5 3 3-2 2 2 2 0 1-3 2 3 3-3 1 6 6 1-3-1 0 0-9 0-1-2 0 1-4 2-2-2-4-1-1 3-1-1-1 0-4 0-3 2 1 3 0-2 6 0 6 0 1 1 3 1 2-2 2 2 0-2 2 1 0-1 2 2 1-1 1 1 3 3-1-1 0 0-2 1-1 0-2 0-4-1-2 1-1 1-1-3 0 0-3 7-2-1 7 0 3-2 8 2 1-1 1 1 0-1 1 1 3-1 1 2 3-3 1 6-2-1-3 0-5 2-1 0-4-3-1 3-1-1-2-1-2 1-1-1-1 5-14 0 9 1 4-2 6 0 5 2 1 0 14 2-11-1-4 3-1-3-3 1-9 0-3 1-3 1-1-3 0 7-2-3 1 3 0-3 9 3 1 0 1-3 1 0 1 0 2 1 1 1 1-1 2 0 1 2 0-1 4 2-1 2-2-1-2 0-2 2-1-1 0-2 0 3-1-1 0-2 0 1-1-1 0 3-1 0-2 0-1-1-1 1-4-1-5 3 8 0 2 2 2-3 1 1 0 1 1-1 1 0 1 2 0-3 1 2 0 0 1 0 1-2 1 2 0-1 2-1 1 3 0-3 2 4-8 1-2 0-1 2-1-1 0-2 0 0-1 6 2-2 1 2 0 4 0-1-2-1 0 4 1 1 0-1 1 1 0 1 1 1 0 4-1 0-1-1 0 2-1 0 1 1 0 1 0 1 0-2 1-1 1 3 0 1 0 2-1 1-1-2 0 3-1 0 1 1 0 1 0 1 0 0 1-1 1 1 0 2 0-1 0 3-1-2 0 1-1 4 0 1 0-1 1-2 1 7 0 0-1-2 0-1 0 1-1 3 0 1 1 6 1-1 0 0-1 1-1-2 0 6 0-3 1 1 0 1 0-1 1 5 0-1 0 2-1-1 0-2 0 0-1 4 0 1 0 1 1 1 0-3 1 2 0 1 0 1 0 2-1-1 0-1 0 6-1-1 1 2 0-2 1 5 0 2-1 1 0-1 1 7 0-1 0-2 0 3-1-1 0 2 0 2 1 1 0 2 1-1-1 1-1 5 0 1 0-3 1 1 0 1 0 0 1 3 0 1-1-1 0-1 0 1-1 3 0 0 1 2 0 1 0 3 0 1-1-2 0 3 0 0 1 1 0 1 0 1 0-1 1 5 0-1-1 1-1-3 0 4 1 1 0 6 1-2 0 0-1-1 0 5 0 1 0 1 0-3 1 4 0 3-1-1 0-2 0 5 0 2 0-2 1 3 0 3-1-1 0-1 0-1 0 5 0 2 0-2 1 2 0 2 0-1 0 3-1-2 0-1 0 4 0 3 0-3 1 1 0 2 0 3-1-1 0-1 0 4 0 2 1 1 0 4 0-1 0-1 0 1-1 3 0 1 0-2 1 1 0 1 0 1 0 4 0-1 0-1 0-1 0 4 0 1 0 2 0 4 0-1 0-1 0 3 0 1 0 6 0-1 0-1 0-1 0 4 0 1 0 1 0 1 0 4 0-1 0-1 0-1 0 4 0 1 0 1 0 1 0 4 0-1 0-2 0 4 0 1 0 1 0 1 0 4 0-1 0-2 0 4 0 1 0 1 0 1 0 3 0-1 0-1 0 4 0" fill="none" stroke="none" marker-start="url(#k0)" marker-mid="url(#k0)" marker-end="url(#k0)"/>
<line x1="770" x2="980.6" y1="456.1" y2="456.1" stroke="#0000ff" stroke-width="3"/>
<path transform="scale(.5)" d="M1379 884l0 1 2 6 1-1-1-8 2-2-3 0 2-6 5 21 0 2 4 2-1-6 0-6-1-1 2-6 1 9 5 6 2-10-3-3 7 1-2 4 2 2 2 20 2-19-2-2 0-2 2-5 0-5 2-2-1 7 2 8-2 6 4 4 1-10 2-8-3-12 4-3 1 9-1 3 3 0-1 5-2 7 5 12 2-2-3-9 0-1 0-4 0-1 3-1-2-1 1-1 4-6-1 4 0 5 0 7-1 4 2 7 4 4 0-5-1-13 0-2 0-4 6 4-1 7 4 11 0-10 0-1-1-1 0-2 6 9-1 7-1 3 3 1 1-6 1-3 1-1-2-15 3-4 3 18 0 1-2 4 2 5-1 1 4 10 0-11-1-5 2-4-2 0 0-3 0-6 1-4 4-5-2 5 2 11 1 12-2 5 3-4 3-5 0-1-1-8-1 0-1-1 1-1 0-1 0-3-1-5 3-2 2-3 1 2 1 9-2 1 0 10 3 10 1-3 2-2 0-8-1-4-1-10 1-4 5 7 0 1 3 20-1 0 1-8-1-14 5-2 1 2-2 3-1 10 2 7 2-7 2-10 2-15 3 8-1 11 3 17 3-31 1 21-1 4 3 2 4 9-2-13 1-3-1-5 5-11 0 9-1 1 4 8 2-6-1-1-2-5 5 9 0 3 0 1-1 1 0 2 0 10 3 5 2-2 1-3 0-4 5-5-3 4 0 9 7 2-3-7 2-3-1 0-1 0 1-6 0-3 2-4 1-2 2 10-2 5 2 1 0 7 1 0 0 3 4-8-2-11 1-1 0-4 3 4 1 1-1 5 0 3-1 1 1 2 2 2 3 0-1-6 3-10 2 6-1 3 1 0 1 1-1 1 1 3 2-7 1-2-2-3" fill="none" stroke="none" marker-start="url(#k1)" marker-mid="url(#k1)" marker-end="url(#k1)"/>
<path d="M605.0 428.0 L638.8 429.8 L648.0 430.5 L655.7 431.4 L657.4 431.7 L659.0 432.2 L662.3 433.5 L667.3 435.8 L670.6 436.9 L676.8 438.3 L689.1 440.6" stroke="#0000ff" stroke-width="2.6" fill="none" stroke-linejoin="round"/>
<path d="M689.1 440.6 L689.0 440.3 L690.3 443.7 L691.6 447.7 L692.9 450.4 L694.2 448.4 L695.5 447.6 L696.8 446.2 L698.1 445.8 L699.4 447.0 L700.7 444.0 L702.0 442.4 L703.3 444.0 L704.6 444.2 L705.9 445.9 L707.2 443.3 L708.5 441.2 L709.8 442.7 L711.1 441.7 L712.4 442.7 L713.7 445.0 L715.0 446.5 L716.3 446.9 L717.6 443.9 L718.9 441.7 L720.2 443.6 L721.5 446.7 L722.8 447.1 L724.1 447.0 L725.4 446.1 L726.7 443.3 L728.0 442.0 L729.3 447.2 L730.6 446.0 L731.9 446.4 L733.2 445.2 L734.5 446.9 L735.8 446.0 L737.1 444.1 L738.4 448.4 L739.7 449.6 L741.0 449.2 L742.3 451.3 L743.6 447.9 L744.9 451.1 L746.2 450.7 L747.5 447.9 L748.8 446.4 L750.1 447.5 L751.4 452.2 L752.7 449.5 L754.0 451.0 L755.3 451.0 L756.6 453.9 L757.9 453.0 L759.2 453.6 L760.5 456.9 L761.8 457.9 L763.1 456.4 L764.4 456.4 L765.7 453.6 L767.0 451.8 L768.3 450.8 L769.6 452.5 L770.9 454.3 L772.2 452.7 L773.5 452.7 L774.8 453.7" stroke="#0000ff" stroke-width="2.2" fill="none" stroke-linejoin="round"/>
</g></g>
<g>
<line x1="605.0" x2="980.6" y1="536.30" y2="536.30" stroke="#ffc0cb" stroke-width="2"/>
<line x1="605.0" x2="980.6" y1="522.80" y2="522.80" stroke="#ffc0cb" stroke-width="2"/>
<line x1="605.0" x2="980.6" y1="522.80" y2="522.80" stroke="#dd66dd" stroke-width="2"/>
<line x1="605.0" x2="980.6" y1="509.30" y2="509.30" stroke="#ffc0cb" stroke-width="2"/>
<line x1="605.0" x2="980.6" y1="495.80" y2="495.80" stroke="#ffc0cb" stroke-width="2"/>
<line x1="605.0" x2="980.6" y1="482.30" y2="482.30" stroke="#ffc0cb" stroke-width="2"/>
<clipPath id="c17"><rect x="605.0" y="481.20" width="375.60" height="68.10"/></clipPath>
<g clip-path="url(#c17)">
<line x1="800" x2="980.6" y1="523.3" y2="523.3" stroke="#008000" stroke-width="3"/>
<path transform="scale(.5)" d="M1210 990l1 20 0 15 0 16 4 5-2-12 1-3-1-1 1-2 0-1 0-9-2-4 3-4-2-5 2-4 0-1-2-1 1-1-1-25 4 1 2 9-3 11 1 6-1 4 1 1-1 8 0 1 3 3-1 16-2 1 3 1-1 7-2 1 1 6 1 4 1 3 3 5-1-17-1-3 2-1 0-6-1-8 1-12 0-5 0-1-2-5 0-2 3-13 4-3-3 6 2 3 1 2-1 2 1 3-2 3 1 0 1 5-3 2 1 1 1 15-2 1 1 1 1 8-2 9 3 27 4 5-1-23 1-3-1-1 1-2-1-5-1-3-1-4 3-2-2-9 2-5-3-1 0-1 2-8-2 0 1-3-1-2 1-1 1-10 1-9 0-1 0-9 2 1 0 12 1 4 0 2-1 2 1 13 1 3-1 1-2 13 0 3 1 5 1 1-2 18 1 37 3-2 1-16-1-26 2-1 0-3 0-6-1-1 2-15-1-5 1-1-1 0 1-1 0-1-1-5 1-3 0-7-2-2 1-3 3 5 0 4 1 13-2 2 1 0 1 3-2 24 1 1 6 39-1-13 1-13 0-5 0-4-1 0 1-21 0-1 0-3-3-4 3-7-2-22 4 3 2 15 0 1-1 2 1 8 0 1-3 3 1 18 1 7 0 36 4-29 0-4 1-5-3-7 1-24 0-11 2-3 0-2-3-5 6-5-1 6 2 0-3 20 0 3 0 2 0 2 0 3 3 8-3 16 4 9 3-3-3-6 2-1-2-8 0-4 1-4 0-1-1-1 0-1 2-5-2-3 2-22-2-1 0-3 2-3 0-24 3 47 1 0-1 2 2 1-2 2 1 0 1 0-1 22 0 2-2 1 3 0-2 2 1 4 2 2 2-8-2-5 3-10-1-5-1-9 0-10 1-12-1-1 0-2 2-17 2-3 1 0 0 12 1 24 0 3-2 19 1 3-1 2 0 1-1 5 3 7 0 5-1 8 2-3 3-1-3-1 3-1-1-23-1-15 0-3-1-6 3-6-2-18 1-3 1-8 2-3 2 19 0 10-1 2 1 0-3 7 1 0 1 2 1 3-1 2 1 0 0 3 0 11-1 9-1 7-1 16 6-10 1-12-2 0 1-2-2-21 2-1-2-5 3-2-3 0 2-3-1 0 1-3 1-9 2-26 0 15 0 26 0 1-1 1 0 6 2 0-2 22 1 1-1 6 3 2-3 12 5 30-1-4 0-40 2-1 1-26-1-10 0-1-1-1-1 0 1-8-1-3 3-1-3-8 0-5 4-2 3 27-2 14 0 15-1 7 0 4 0 4 5-4 0-30 2-2-1-2 0-2 1-1-2-5 2-1 0-19 3-10-1 5 0 25-1 2 0 12 3 11-1 1-1 2-1 17 0 3 0 5 2 1-1 8 6 3-3-2 3-6 0-24-2-2 0-21 2-9-1-4 1-6-1 0-1 0 2-24-3 0 5 20 1 5 0 5-2 1 3 1-2 4 1 0 0 19 1 5-1 29-1 8 5-9-1-25 1-1-1-1 1-4 0-4-2-7 2-2 1-3-2-3-1-1 0-1 1-2 1-16 2 19 2 2-1 2 0 1 1 1-2 2 3 2-2 5 2 3-1 7 1 3-1 4-1 19 1 10-2 2 7 4-3-12 2-24-1-14 1-1 0-1-1-1 1-2-1-2 1-3-1-3 1-3 1-3-2-2-1-1 3-1 0-6 1-5 1 5 1 2 1 1-3 14 3 0-3 1 0 7 2 2 0 5 1 5-2 22 2 2-2 8-1 2 3 1-3 16 2 3 1 4 1-8 2-1 0-24-2-1 1-8 1-2-2-1 1-6-1-2 3-3-3 0 0-10 2-3 1-9-3 0 2-3-2-1 1-2-1-2 1-3-1-12 1-7 2-2 3 30-2 20 0 4 3 0-3 7 0 4 1 17 3 20 3-16-2-1 1-2 0-2 0-24 1-2 0-17-2 0 1-5-1-7 2-6-3-14 2-13 1-3-1-3 3 7 1 20-2 2 3 13-3 1 3 0-1 3-2 4 3 1-2 1 2 0-2 5 2 16-3 1 1 1 2 2-2 3-1 13 2 0-2 3 0 1 1 1 4-5-1-17 3-9-1-9-2-6 2-3 1-8-1 0-2-12 3-2-1-6 1-4 4-1-1 13 0 12 1 0 0 4-1 3-2 5 2 6-1 1 2 3-2 2 2 12-1 2 1 1 1 17 0-4 0-2 0-9 3-1 0-14-2-6-1 0 0-2 2-1 1-21-3 0 1-24 5 19 0 6-2 3 3 0-2 2 1 4 0 3 0 5-1 4-1 2 2 4 1 0-1 2-1 2 0 5 0 10 1 4 5 25-1-3 1-18-2-3 1-2 0-14 0-9-1 0 2-3-2-2 1-2-1-1 0-10 0-7 1-15 1-2-2-4-1-2 5-13-1 3 3 0-1 2-2 1 0 17 3 2-2 3 1 1 0 5-2 1 1 5 1 5-1 10 1 4-2 3 0 10 3 1 0 1 0 3-2 5 1 1 1 13 4-14-3-2 2-7 1-1-3-1 0-14 1-1-1-8 2-1-1-3 2-5 0-2-1-7 0-4-2-21 6 14-2 3 1 5 0 13 1 3-2 1 0 1 3 8-1 9-1 5 0 3 0 6-1 4 2 0-1 1 1 0 1 12-1 3 1 3 3 0-1-3-1-26 1-14 1-6-1-8 1-4 3-16 1 19 1 1-1 1 0 3 0 2 1 0-1 8 1 0-2 17 1 19 0 3 3 19 2-40-3-14 3-6-1-3-2 0 3-1 0-2-3 0 1-7 1-8 0-1 0-21 4-4-1 1 0 3 2 2-2 12-1 5 1 1 2 1-3 3 2 9-2 3 3 4-2 5-1 2 3 15-1 1 1 5 0 6-2 3 0 8 4 7 1-15-1-5 1-4-1-3-1 0 2-1-2 0 0-5 0-17 2-3-1 0 1-11 1-1-1 0 0-3 0-2-2-5 4-31 0 23 0 3 1 14 0 2 0 12 2 6-1 3 1 11-2 4-1 9 3 1-1 2-2 3 6 2 1-3 0-26 0-5-2-3-1-23 2-4 4-13 0 9-2 2 1 27 1 2 0 7 1 2-2 19 3 9 1-5 2-3-3-2 1-17 0-4 0-14 1-2-1-4-1 0 5-24 2 7 0 14-2 6-1 5 0 16 1 6 1 5 4 18 0-23-2 0 3-4 0-6-3-1 2-3-1 0 2-4 0-11-2-2 2-3 0-15 1 1 3 6-3 17 3 0-1 3-2 1 1 0 2 2-3 1 1 1 1 0-1 3 0 1 1 0 1 2-1 7 0 4-1 23 6 4-1-1-2 0 3-12-1 0 0-3-1-1 1-4 0-24 5-39-2 17 2 5-1 8-2 6 1 0 0 3 0 8-1 3 1 6 2 2-3 3 2 24 1 14-1 2 2-10 1-2 2-8-3-21 2-1 0-3-2 0 1-4 2-2-1 0-1-5 1-22-1-7 2-5 4 3-1 4 0 1 0 2 0 1 1 1-3 1 1 1-1 17 3 11-2 2 2 0-2 6-1 3 1 15 4 1 1-21-2-2 2-5-1-10-1-2 1-3 0-14 0-1-1-1 5-2 2 7 0 3-1 3-1 15 1 5-2 2 0 1 0 3 2 21 2 2 1-7-1-7 1-3 2-1-2-1 1-7 1-12-2-3-1-11 1-1 1-45 3 1 0 22-1 34 2 1-1 23 0 3 1 0-2 2 2 4-1 2 5 4-1-12 0-12-1-2 2-7-2-2 1-4 1-2-2-1 1-3 0-12-1-1 5 5 1 4 1 0 0 7 0 2 0 2-3 1 3 12-3 2 1 0 1 0-1 4 1 9 1 2 1 3 3-2-1-6-1 0 2-1-3-5 0-3 3-8-1 0 1-3-1-1 1-1 0-2 0-4-2-2 0-3-1 0 2-1-2 0 3-11 3 8 0 7 1 8-1 1-2 2 1 9 1 5-2 3 0 2 3 6-1 15 3 1-1-14 2-2-1-12 1-3 1-3-1 0 1-8 0-1 0-8 0-6-3-1 3-5 0-2-1-6-1-1 2-1-3-2 5-2 2 13-1 10 1 4-2 7 2 3-3 1 3 1-2 2 1 0 0 3 1 12 0 3-3 7 7-8-3-1 3-5-3-4 1-10 0-4-1-2 2-9 1-2-1-10-1 0-1-3 3-2 2 12 2 8-3 1 1 15 0 1-1 8 2 3 1 1-2 2 1 4 1 0 0 6 4-11-1-3-1 0-1-1 3-3-2-5 0-1-1-1 2-1 0-2-1-3 2-4-1-6 5-10 0 4-2 3 2 6-3 6 3 0-3 1 1 3-1 1 0 3 3 5-3 11 3 1 0 6 3 0 0-8-1-7-1-5 2-2-2-1 0-20 2-4 1-12 1 15 1 17-1 3 1 2-1 1 3 0-3 4 0 3 2 5 0 3-2 4 5-4 1-3 1-2-2 0 1-6 1-2-1-2 1-1-1-1 0-1-2 0 2-10 3-10 1 16-1 3-1 4 3 1-2 4 2 1-1 3 1 0-3 2 6 16-1-15 1-5 1-2-1-1-2 0 1-2-1-2 2-1-1 0-1-1 2-2 1-2-2-7 6-19-2 16-1 5 2 2 1 3 0 1-3 16 2 2 0 1 1 2 2 10 2-19-1-1-1 0 2-6 0-3-1-3-2 0 1-5 1-3-2-16 7 11-1 4 0 6-1 2-1 2 2 0-2 2 1 10 2 0-3 1 2 0 0 1-2 1 3 0 4 15-2-1 2-16 0-2-1 0-2 0 2-1 1-1-1-2 0-3 0-1 1-1-2-1 0-2 1-1 1-2-3 0 3-3-2-4-1 0 2-8 3 1-1 7 3 7 0 1-2 2 0 1 2 1 0 1-2 1 0 2 0 3 1 1 1 1 0 2-3 2 2 12 3 1 2-8 0-3-2-1 2-1-3 0 2-4-1-3 1-2 0-2-1-1 0-1 0-1 0-1 0-1 0-1 2-4 1 0 1 4-1 5 1 2-1 4 2 4-2 1 2 2 0 1 3 13 1-3-2-1 2-9 1-1-2-2-1-1 2-1-1-5 2-1-1-1 1-1-2-1 2-3-2 0-1-3 4 3 2 0 0 1-2 3 1 1-1 2 1 0 2 1-3 2 1 0 1 1-2 2 0 1 1 0 2 1 4 8-3 0 0-3 2-3 0-8-1-2 0-5 2-7 3 1-2 4 3 1-3 3 0 3 3 0-2 1 2 0-1 6-1 3 1 6 2-7 1-2 0-2 2-1-3 0 1-1-1 0 3-1-3-1 3-1-1 0-1-1 2-2-3 0 0-2 3-1-1-2-1 0-1-2 1-1 3 0 2 2-1 3-1 3 2 2-2 2 1 3 1 0 0 2-2 1 3 0-2 2-1 4 5 2 1-4 1-3 0-1-2 0 1-1-1-3 0-1-1 0 3-1-1 0 0-1-1 0 2-1-3-1 1-1-1-3 1-4 4 3 0 5 2 0-3 2 1 3 0 1 0 3-1 7 5-6 2-1-3 0 3-1-2 0 1-1 1-1-1 0-1 0 1-1-2 0 3-1-1 0-1-2 1-2 1-1-2-2 1-2 2-2 3 0-2 6-1 1 0 3 2 1 1 0-3 1 2 0 1 0-3 1 2 0-1 1 1 0 0 1 1 0-3 1 1 0-1 1 2 0 1 0-1 1 5 4-1-3 1-2 0-1-2 0 2-1 0-1-3 0 2-1-2 0 3-1-1 0-1-1 0-1 1-4 4-2-1 1 1 0-2 3 2 0-2 2 2 0 0 1 1 0-3 1 1 0 2 0-2 1 2 0-2 1 2 0-1 1 1 0-1 1 1 0-3 1 1 0 1 0 1 1-2 1-1 1 2 0 0 1 3 0-1 0 2-3-1 0-1 0 3-2-1 0-2 0 3-1-2 0-1 0 3-1-3 0 2-1-1 0 2-1-3 0 3-1-3 0 3-1-1 0 0-1-1-1-1-1 0-1 3-1-2-1 3 6 1 0 1 0 0 1-2 1 0 1 3 0 0 1-2 1 2 0-1 1-1 1 6 1 0-1-1 0-2 0 2-3 1-1 0-1 0-1-1 0-2-1 5 0 1 0-1 3 0 1-1 1 3 0-3 1 1 0 6 1-1 0-2 0 2-1-2 0 3-2-2-1 1-1-1 0 3-2 2 1 1 0-3 1 0 1 0 2 6 2-2 0 3-1-1-2 0-2-2 0 0-1 5 0 2 0-3 1 1 0 1 0 0 1-2 1 2 0 0 1 1 1 2-1 1-1-1 0 0-1 0-1 2-1-1 0 3 0 2 0-2 1-1 1 1 0 2 1-3 1 1 0 1 0 0 2 2 0 1-1 2-1 0-1 0-3-2 0 4 1 1 0-1 1-1 1 2 0 0 1-2 1 2 0 3 0 2-3 0-2-2 0 0-1 5 1-2 1 2 0 1 0-2 1 1 2-2 1 1 0 1 0 5 1-1 0-1 0 0-1 2-1-2 0 1-1-1-1 2-2-3 0 7 1-3 1 3 0-2 1-1 1 0 1 5 0-1 0 3-1-1 0-1 0 0-1-1 0 3-1-1-1-1 0-1 0 3-1-1 0-2 0 5 0 1 0 1 0-3 1 1 0 2 0-3 1 0 1 1 0 0 1 2 0-2 1 2 0 2 1 2-1-1 0-2 0 2-1-1 0 2-2-1 0-1 0 2-2-1 0-2 0 7 1-2 1 1 1-2 1 3 0 4 1-2 0 0-1 2-1-2-1-1 0 3-2-3 0 4 0 1 0 1 0 1 2-3 1 2 0 1 0-2 1 2 0-3 1 7 0-2-1 1-1-2 0 2-2 1-1 2 0-1 1 3 0-3 3 1 0-1 1 1 0 3-5 6 0 0 1-1 1-1 1 3 0 0 1-2 1 1 0 1 0 4 0-1-1 0-1-1 0 2-1 0-1-1 0-2 0 5 1 0 1-1 1 1 0 2 0 0 1 4 0-1-1-2 0 2-1-1 0 2-1-3 0 3-1-3 0 4 0 3 0-2 1 1 0-1 1 0 1 1 0 1 1 3-1-1 0 1-2-1 0-1 0 2-1 3 0 1 0-1 1 1 0-1 1 2 0-3 1 1 0 6 1-1-1-1 0-1 0 0-1 1-1 2-1-2 0-1 0 6 0-2 1 1 1 1 0 1 0-3 1 0 1 3 0 3-1-1 0 0-1-1-1 1-1-1 0 5 0 2 0-3 2 1 1 1 0 4 0-2 0 1-1 0-1-1-1 4 1 1 0 1 0 1 0-3 1 1 0 1 0 1 0-3 1 1 0 1 0 5 0-2 0-1 0 1-1-1 0 3-1-1 0-1 0-1 0 0-1 5 0 1 0 1 0-2 1 1 0-2 1 2 0 1 0-2 1 1 0 1 0 4-1-1 0-2 0 3-1-1 0-1 0 1-1 2 1 0 1" fill="none" stroke="none" marker-start="url(#k0)" marker-mid="url(#k0)" marker-end="url(#k0)"/>
<line x1="760" x2="980.6" y1="523.1" y2="523.1" stroke="#0000ff" stroke-width="3"/>
<path transform="scale(.5)" d="M1401 1008l-1 6 1 3 6 22 0-16-3-3 6 9 1 0-1 13 4 3 1-4-2-9-1-4 3-8-2-2 1-1 1-9 2 5-1 1 2 6-1 1-1 2 0 7 0 7 5 9 2-18 4-24-3 12 3 7-3 3 1 4 0 19 6-8-2-11 2-7-3-3 3-6 2-4 0 18 2 3-2 3 2 3 2 2 2-4-1-8-1-2-1-20 4 14 1 3 1 9 1 2-2 2 4 12-1-5 1-13 0-2 1-2-2 0 2-11 4 20-1 3 2 2 1-5 0-4 2-3-1-22 5 8 0 3 0 6-1 3 1 4-2 7 7 13-1-7 1-2-3-4 2-28 5 16-2 2-1 21 2 4 4-12-1-1-1-5 2-20 3 16-1 6 4 12 2-9-1-2-1-16 4 0 3 8 0 7-1 15 3 6 2-13-3-5 3-12-2-7 6-8-1 20-1 8 1 1 1 9 0 6 1-7 2-5-2 0 0-8 0-14 5 11 1 3-2 6 3 2-3 2 1 0 1 4 2 15 0-17 1-2 2-5-2 0-1 0 2-4 2-20 2 15 0 4 1 5-2 2 0 8 0 7 5 2-1-8 1-11 4 3-2 16 4-7 0-6 2-2-1 0 0-11 6 13 0 4 2 2 0-3-1-7 3-2-3-3 6 6-1 1-1 6 0 2 0 1" fill="none" stroke="none" marker-start="url(#k1)" marker-mid="url(#k1)" marker-end="url(#k1)"/>
<path d="M605.0 496.0 L634.0 498.1 L651.0 499.6 L660.4 500.6 L665.0 501.2 L668.1 501.8 L679.0 504.9 L682.1 505.6 L688.2 506.5 L700.3 507.7" stroke="#0000ff" stroke-width="2.6" fill="none" stroke-linejoin="round"/>
<path d="M700.3 507.7 L700.0 508.4 L701.3 510.5 L702.6 511.6 L703.9 510.7 L705.2 509.8 L706.5 513.7 L707.8 514.6 L709.1 516.5 L710.4 516.2 L711.7 515.2 L713.0 513.6 L714.3 515.5 L715.6 513.3 L716.9 516.8 L718.2 507.4 L719.5 516.9 L720.8 509.5 L722.1 512.5 L723.4 516.7 L724.7 516.1 L726.0 517.8 L727.3 516.9 L728.6 516.2 L729.9 516.8 L731.2 518.3 L732.5 517.5 L733.8 514.0 L735.1 519.3 L736.4 520.4 L737.7 521.5 L739.0 523.0 L740.3 518.1 L741.6 518.0 L742.9 520.8 L744.2 521.9 L745.5 518.1 L746.8 515.6 L748.1 515.8 L749.4 514.7 L750.7 519.0 L752.0 518.2 L753.3 521.4 L754.6 523.5 L755.9 522.5 L757.2 523.5 L758.5 523.4 L759.8 523.3 L761.1 525.8 L762.4 522.5 L763.7 523.4 L765.0 523.0" stroke="#0000ff" stroke-width="2.2" fill="none" stroke-linejoin="round"/>
</g></g>
<g>
<line x1="605.0" x2="980.6" y1="604.40" y2="604.40" stroke="#ffc0cb" stroke-width="2"/>
<line x1="605.0" x2="980.6" y1="590.90" y2="590.90" stroke="#ffc0cb" stroke-width="2"/>
<line x1="605.0" x2="980.6" y1="590.90" y2="590.90" stroke="#dd66dd" stroke-width="2"/>
<line x1="605.0" x2="980.6" y1="577.40" y2="577.40" stroke="#ffc0cb" stroke-width="2"/>
<line x1="605.0" x2="980.6" y1="563.90" y2="563.90" stroke="#ffc0cb" stroke-width="2"/>
<line x1="605.0" x2="980.6" y1="550.40" y2="550.40" stroke="#ffc0cb" stroke-width="2"/>
<clipPath id="c18"><rect x="605.0" y="549.30" width="375.60" height="68.10"/></clipPath>
<g clip-path="url(#c18)">
<line x1="795" x2="980.6" y1="590.2" y2="590.2" stroke="#008000" stroke-width="3"/>
<path transform="scale(.5)" d="M1212 1104l0 3 1 8 1 11 0 1-2 6 1 1 2 5-1 1-1 2 1 13-2 7 3 5 4 17-2-15 2-13-2-13 1-2 0-6-2-11 0-8 6-11 0 32 1 4-3 1 2 3-2 1 3 2-1 1 1 1-3 2 1 8 1 1-2 5 1 11 1 3 0 3 1 19 3 1 0-23-2 0 0-15 0-19 0-1 2-2-1-2-1 0 0-1 2-2-1-1 0-1-1-7 3-2-2-1 1-14-2-4 0-6 5 24 2 10-2 4-1 4 1 12 1 4 1 4-3 8 0 15 1 5 0 25 2 3-3 1 3 1 1 3 0-38 3-19 0-3-3-2 0-1 2-2 1-7-1-1 1-11-1-2-1 0 1-8-2-7 7-7-3 1 3 2-1 29-1 1 0 1 0 7 1 7 1 4 0 9-3 7 2 21 5 14-2 0 1-35 1-17-3-51 6-7 0 9-2 7 1 3-1 15 3 0-2 3 0 21 1 0 0 3 0 2 0 3 1 0-2 5 2 1 0 18 2 7 1-8 0-4-1-17 2-5-2-4 0-2 1-2 0-1-1-9 2-3-1-4-1-31 0-2 1-8-2 0 4 10 0 2 0 4 1 46 2 14 0 9-2 3-1 13 2 3 3-2 1-12-1-7 0-4 2-11-1-3 0-4-1-12 0-3 2-5-1-1-2-10 6-9 0 6-2 6 2 14-2 1 0 4 3 9-2 2 1 1-2 7 6 52-1-3 1-37-1-3 2-15-3 0 2-2 1-3-2 0 0-1 2-3-1-18-2-9 0-1 2-7 3-3 2 2-1 4 1 10-1 9-2 3 0 1 2 0-2 2 0 2 1 4-1 2 3 0-2 2-1 1 1 17 6 38-3-7 0-30 3-4-1 0 1-4-2 0 2-25-3 0 2-10-1-3 1-11 3-3 1 17-2 5 1 3 2 4 0 4-3 1 2 3 1 23 0 2-1 10 1 2-2 2 0 24 5-16 1-24-2-4-1 0 3-2-3-3 2-5-1-9 2-1-3-1 2-2-1-13 4-37 2 2-2 41 1 3-2 1 0 1 0 3 2 2-2 1 0 11 2 2 1 4-2 2 1 0-1 3 1 3 2-11 3-1-3 0 0-3 2-1-2-7 2-3-2 0 3-2-1-1-2 0 2-2 0-4-1-9 2-10-2-12 1-1-2-7 6 14-1 6 1 1 1 2-3 6 2 9-2 1 1 6-1 4 1 0 1 1 0 15 1 33 2-4 2-29-3-2 1-3 2-19-1-6 0-5-1-3 2-3 0-3-1 0-1-5 2-9 3-13 0 8 0 2 0 2 0 13 0 20 0 2-1 1 1 5 1 12-1 6-2 3 0 2 0 4 1 8-1 11 5 24 2-3 0-11-2-22 0-4-1-22 2-10-1-7-1-18 1-29 6 37-2 12 0 22 2 0-1 11 0 16 0 24 1 6 1-44 0-11 3-8 0-10-3-6 0-3 1-4 1-7 5-33 0 33-2 7-1 1 1 2 1 1-2 1 3 0-2 3 2 1 0 3-3 26 0 10 2 19 2 0 1-16 2-1-3-1 1-30 1-3-2-1 2-3-1 0 2-1-2-2-1 0 0-14 2-4 0-4 1-2 1 3 2 1-2 5 2 3 1 1-3 6 3 4-3 6 1 0 1 2-2 2 3 13-3 2 3 3 4 15-1-4-2-8 1-4-1-15 3-7-1-3 0-1 0-1-2-2 0-8 0-4 0-3 6-16 0 15 1 3-3 12 2 7-1 6 2 2-3 1 1 1-1 1 2 2 1 6-1 14 2 3 0-6 1-10 1-2-2-2 3-3 0-11 0-16-1-2-2-4 3-2-2-1 0-2 0-12 2-1 1 13 2 0-2 13 3 2-2 2-1 2 1 2 1 8-1 5 1 10 1 6-3 33 4-1 3-18-3-3 1-8 1-8 1-3-2-3 2-2-2-4 0-7-1-7 2-3 0-11 1-2-3-7 4 5 1 0 2 3-1 2 1 1 0 1-2 1-1 19 0 16 1 15 6-31 0-2-2-3-1-1 2-2 1-9-1-2-2-8 4-17 2 14-2 3 0 4 0 4 0 2 2 1-1 6 0 21 1 4 1 8 1 3 1-1 2-2 0-6-1-14 0-1 1-4-3-3 0-2 0-5 2-14-1-6 0-9 4-6-1 3 0 41 1 8 2 2-3 1 1 2-1 4 0 4 1 3 0 1 1 12 1 2-3 3 6-8 0-12-2-4 0-2 1-7 0-14 2-1-1-6 0-2 0-10-2-2 0-3 0-10 3-6 2-7 0 2 1 7 1 11-3 6 2 0-1 11-1 10 0 7 1 5 1 0 0 3 0 5-2 2 3 0-2 2 1 2 1 10-3 6 0 2 4-7 2-2 0-1-2-3 1-9 0-16 0-1 0-11 2-1-1-1-2-3 2-12 1-2-3 0 2-14-2-4 1-5 5 8 0 6 1 4-1 2 1 4-2 1 0 2-1 15 0 1 2 0 0 1-2 8 3 1-2 3-1 13 0 7 2 10 1 2-1 4 4 3-2-12 3-1 0-1-3-1 1-4 2-1-2-3 2-4-3-10 2-5 1-1-1-11 0-1 1-2 0-9 1-23 2 29-1 20 1 14 0 5-1 3 1 3 0 5-2 1 3 13 1-11 0-19 1-4 2-1-3 0 1-1 2-3 0-4-3 0 0-7 3-2 0-9 0-5 4-4 0 1-3 16 3 6-3 1 0 4 2 15-1 8-1 1 0 1 1 1 2 1-3 12 0 3 5 17 2-19-2-14 0-20 1-1-2-3 3-1-2-1-1-6 3-3-3 0 1-11 0-6 6-4-3 1 0 11 1 0 2 2-2 1-1 1 2 0 1 1 0 3-1 3-2 3 0 2 2 4 0 2 1 2 0 11-3 10 1 4 1 3 3-5 1-14 1-2-1-7-2 0 0-3 2-2 1-3-3-4 0-3 0-2 2-6 5-5-2 1 1 1 0 4 1 1 0 4-1 9-1 10 0 7-1 1 2 4-2 2 3 0-1 1-1 8 2 2 4 33-2-24 1-1-2-2 2-9 0-1 1-3-2 0 0-4-1-34 1-1 2-6 3-6-1 5 2 1-2 3 2 9-2 12 1 3-1 5-1 3 2 8 1 3 0 1-2 5-1 29 7-4-2-3-1-36 0-4 1-7 2-1-1-8-2-3 2-3 0-3-2-1 2-1-1-1 1-2-2 0 0-1 3-4 0-6 4 6 0 5-3 1 3 6-3 3 3 5 0 3-1 2-1 2 1 1-1 2 1 0-2 11 0 3 2 5-1 4 3 29 3-39-1-1-2-2 0-2 0-11 2-6 0-11 1-5-1-4 1-7 1 4 0 13 0 2 1 17-1 3 7 19-3-3 2-4 1-8-1 0-1-1 1-2-2-1 0-1 0-1 1-7 2-2-3-8 3-1-3-8 2-16 3-8-1 10 0 14 0 4 2 2-1 13-1 1 2 4 1 9-3 1 2 14 0 24 2 1 2-31-1-4 0-13 2-4-1 0 0-2 1-20-2 0 2-1 1-6 2 0 0 6-1 3 1 7-2 2 3 8 0 1 0 1 0 1-1 4 1 9-3 6 0 3 0 2 0 14 0 2 3 7 3-1 0-27-2 0 2-3-2-6 3-1-1-5-1-1 2-5-2-3 1-1-2-6 1-2 0-2 2-1-1-2-1-1 1-1-2 0 1-2 0-4 3-17 0 3 3 28-3 1 2 0-2 1 3 1-3 3 3 0-1 1-1 3 2 3 0 15-3 3 2 31 3-13 2-17-1-13 0-2-2-2 1-1 1-8 1-2-1 0 0-2 0-4-2-2 3-11 0-12 0-3 2 19 1 3 1 8-1 4-1 4 2 2-2 3 2 0-2 2 2 0-3 2 1 1-1 1 0 6 1 0 0 22 2 1 1 2 1-25 0-6 2-1-1-1-2-2 1-1 2-5-2-1 2-1-1-7-2-3 2-11 5-5-2 7-1 9 0 4 1 10 1 6-1 8 0 8 0 1 1 3 4 6 0-2-2-1 1-2-1 0 0-4 1-1-1-1 2-4-2-3 3-3-2-2 1-4-2-3 0-27 1-3 5 11 1 4-1 5-2 3 0 10 0 2 3 1 0 4 0 3-3 10 1 1 2 0-1 3 1 3 0 3 0 3-2 1 3-16 1-14-1-2 1-4 0-1-1 0 1-2 0-10 0-5 1-2-1-1-1-3 0-9 7 6-3 9 3 2 0 7-1 7 1 0-1 2 1 0-3 1 2 3 1 10 0 12-1 2-1 1 5 0-1-18 0-1 0-6 0-4 2-2-2-1 1-5-1-2-1-2 1-2 6 0-2 2 0 2 1 0 0 8 0 5 0 2-2 2 0 2 0 1 2 0 1 0-3 1 1 1-1 11 2 0-1 6 6-10-1-9-2-3 1-4 1-1-2-3 0-6 1-1 6 2-3 2 3 1-2 1 1 18 0 2-1 16 5-8-1-8 0-2 2-4 0-1-2 0 2-4 0-8-2 0 1-1 0-8 0-3 0-3 2 6 3 3 0 2-3 5 2 1 1 1-2 2 0 3 0 1-1 1 2 2 1 0-3 4 1 1 0 1-1 2 3 8-3 1 3 3 3-1-1-7-1-2 1-9-1-7 2-10-2-5 4-20 0 21 3 4-1 2-1 1 2 0-2 1 2 2-2 1 0 1 2 1-3 1 2 1 1 8-2 2-1 1 0 1 1 0 0 4 1 0-1 2 6-5-3-2 1-2 0-1 1-1 1-1-2-1-1-4 1-3-1-3 1-1 0-3 5 6-2 1 1 3-1 1 2 1 0 6 0 1-2 5 3 0 0 4 2 7-1-3 1-5 0-10-1 0 3-1-3-2 0-4 2-3 0-5-1-6 1-3 3-7 0 17 1 1 1 1-3 1 3 5-3 4 0 1 2 0-2 2 2 1 1 2 0 3 4-1-2-2 0-3 1-1 0-2 1-5-2 0 2-13 0-9-2-1 5 11-2 3 0 4 3 1 0 1 0 1-3 1 1 0 0 1 1 1 1 0-3 1 2 0-1 2 2 2 0 19 3 0 1-12 0-3-2 0 1-2 1-5-1-3-1 0 2-3-1-2-2-1 3-2-2 0-1-3 0-10 4 7 0 4 2 1 0 5-1 2-1 1 0 2 2 0-1 1-1 1 0 1 1 1-1 1 3 0-2 2 2 0 2 7-1-2 3-4-2 0 2-3-2 0 0-2 2-1-3 0 2-1-2 0 0-2 0-1 2-1 0-4 1-7-1-1-2 0 0-3 7 5-1 5-1 4 2 0-3 1 3 3-3 2 2 2 0 2 1 1-1 2 1 0 0 5-1 1 5 0-2-3 0-2 0-3 2-1 0-1-1-1 0-1-1 0 0-2 2-1 0-2-1 0-2 0 3-2-3-2 1-7 3 3 0 7 0 1 2 2-2 1 2 0 1 0 0 1-3 1 0 1 3 0-2 2 1 0-1 2 2 0 0 1-3 2 2 0 0 1 1 2 4-4-2 0 1-6-1-1-1 0 3-2 0-1 0-1 0-1-3-1 2-9 3 8 0 2 1 2 0 1 1 0-3 1 1 1 1 1 0 1-1 2 2 0 0 1-1 1-2 9 2 0-2 2 6-7-2-1 1-2 2-5 0-1-2-1 1-1-2 0 3-1-1 0-1 0 2-3-1 0 0-1-2-3 3-4 3 3-2 5 1 1 1 2 1 0-3 1 0 1 1 0 2 0-3 1 2 0-1 3 1 1-2 1 2 0 5-2-3-1 3-3-2 0-1 0 0-6 2-3-2-3 6 6 1 1-3 2 0 1 3 0-2 2 0 1 2 0 3-2 1-2-1 0 4-1 1 0-3 1 2 1 1 0 0 1 4-1-3 0 1-2 4 1 0 1 2 0-1 1 3 0 0-2 1-1-1 0-1 0 6 0 1 1-3 1 1 0 1 0 0 1 3 0 2-1-1 0-1 0 0-1-1 0 6-1-1 1 1 0 1 1 0 1 2 0 2-1-1 0 0-1-1 0 4-1-1 1 1 0 1 0 1 0-1 1 2 1 0-1 1-1-1 0 3-1-2 0 3 1 3 0-2 1 1 0 1 0-3 1 7 0 0-1-1 0-1 0-1 0 3-1-1 0-1 0 3 1 1 0 0 1 1 0 5 0-1 0 1-1-1 0 1-1-3 0 5 0 2 0-1 1 3 1-1 0 3-1-1 0-2 0 0-1 4 0 3 0-1 1 1 0-3 1 1 0 1 0 1 0 1-1 3-1-2 0 5 0-1 1 1 0 1 0 4 1 0-1-3 0 0-1 4 1 1 0 1 0-1 1 1 0 1 0 4-1-2 0-1 0 6-1-2 1 3 0-2 1 2 0 4 0-1 0 1-1-1 0-1 0-1-1 7 1-2 1 2 0 2 0 2-1-3 0 1-1 6 1-3 1 1 0 1 0 1 0 4 0-1 0-1 0 2-1-1 0-2 0 4 0 1 0-1 1 1 0 2 0 4 0-2 0-1 0 3-1-1 0 4 0 1 0-3 1 7 0-2 0 1-1-2 0 4 0 1 0 2 0-1 2 5 0 0-1-1 0-2 0 0-1 4 0 1 1 1 0 1 0 4 0-1 0-2 0 0-1 5 0 0 1 1 0 1 0-3 1 4 0 3-1-1 0-1 0-1 0 3-1-1 0 3 0 2 0-1 1 1 0 4 0-1 0-1 0-1-1 5 1 1 0-2 1 7-1-1 0-1 0-1 0 4 0 1 0 2 0 3 1-1 0 2-1-1 0-1 0 3 0 3 0-1 1 3 0 1-1-1 0-1 0 4 0 1 0 1 0 1 0-2 1 1 0 4 0-1 0-1 0 3-1-2 0 3 0 2 0 1 0-3 1 1 0 1 0 1 0 1 0 1-1-1 0 6 0 0 1 1 0 3 0 0-1-1 0 3 0 3 0-3 1 7 0-1 0-2 0 3-1 1 0 3 0-3 1 1 0 1 0 1 0 2 0 2-1 2 1 2 0 4 0-1 0-1 0-1 0 4 0 1 0 6 0-1 0-1 0 3 0 2 0 1 0 2 0-1 0 4 0 1 0 1 0 1 0 4 0-1 0-1 0-1 0 4 0 1 0 1 0 1 0 4 0-1 0-1 0 4 0 1 0 1 0 4 0-1 0-1 0-1 0 5 0 1 0 5 0-1 0-2 0" fill="none" stroke="none" marker-start="url(#k0)" marker-mid="url(#k0)" marker-end="url(#k0)"/>
<line x1="815" x2="980.6" y1="599.8" y2="599.8" stroke="#0000ff" stroke-width="3"/>
<path transform="scale(.5)" d="M1530 1166l-2 13 3 2 0 2-1 4-1 4 0 6 4 9 2-3-2-7 2-2-3-1 1-2-1 0 2-2-1 0 1-2 1-1 0-2 0-2-1-5-1-2-1 0 2-6 2 17 2 1-1 1 1 1-1 2 2 3 0 1-3 1 1 0 2 1 3 11-1-4 0-1 1-5 0-3-1-2 0-19 4-1 0 3-1 1 0 1 2 8 1 0-2 1-1 2 0 2 2 0-1 6-1 1 1 1 0 2 3-5 2-1-1 0-1-2 3-3-1-1 0-5 2-2 3 1 0 2-2 2 0 4-1 6 3 4-3 3 3 6 2 4 0-6-1-5 3-5-1-8 1-4-3-6 5 0-1 6 1 5 2 3-2 2 0 1 1 1-2 2 0 2 3 0 1 15 0-6 3-5-1-2-2 0 0-3 1-6 1-4 0-3 1-2 2 3-1 1 2 2-2 2 1 7 2 8 0 2-1 2-2 3 5 6 0-6 0-11 1-1-1-2-1 0 2-1-2 0 3-3-1-6 4-11 0 5 0 4-1 1 0 7-1 6 3 1-3 3 3 0 0 4-1 2 1 1-1 4-1 3 6 10 0-6-1-14-2-4 3-7-1-2-1-2 2-1-2-1 1-1-2-7 2-1 1-5 4-2-2 9 0 2 2 2 0 2-1 4 1 0-2 3 2 0 0 3 0 1-2 17 3-9 3-7-3-3 2-1 1-9-2-10 0-5 4 2 2 8-1 1-1 3 0 1-1 4 2 5 1 0-3 2 0 1 1 1 2 4-2 8 2 2 1 1 1-7 2-1-1-1 0-1-1-2 0-7 2-4-1 0-1-1-1-10 5 0 1 9 0 5 1 0-3 12 3 0 4-8-1-2 1-3-2-1-1-2 0-2 2-5-2 0 4 0 2 4-1 5 1 0-1 1 0 4 0 3-1 7 4-11 2-1 1-9-2-3 5-8 1 13-2 3 2 4-1 1 1 1 0 3-1 2 0 3 2 0 2-1-1-10-1-4 0-2 1-2 3 1 3 1-3 1 2 1-1 1-1 4 2 1 5 10 0-4 0-1 0-3-1 0-1 0 0-3 1-2 1-2 0-5-3-1 4-6 3 2 0 6-2 2-1 1 2 1-1 1 1 2 1 0-2 3-1 1 2 0-1 3 0 5 5-1-2-6 3-1-1-1 0-3 1-1-3-2 1-8 2-2 1 15" fill="none" stroke="none" marker-start="url(#k2)" marker-mid="url(#k2)" marker-end="url(#k2)"/>
<marker id="k4" markerUnits="userSpaceOnUse" markerWidth="1" markerHeight="1" overflow="visible"><circle r="1.6" fill="#0000ff"/></marker>
<path transform="scale(.5)" d="M1626 1195l0 1 0 1 1 0-1 2 1 0 0 2 0 1-1 1-2 1 2 1 5 0-2-1 0-1 1-2-1 0 2-1 0-1 0-1-3 0 2-1-1 0 0-1-1 0 0-1 3-1-2 0 6 0-3 2 3 0-3 1 1 1 0 1 1 0 0 1 0 1 1 0-3 1 1 2 2 0 2 1-1 0 2-1-1 0 1-1-2 0 3-1 0-1-2 0-1 0 2-1-1 0 1-3 1-1-1 0 4-2-2 1 1 0 1 0-1 1 1 0 1 1 0 2 0 2-1 1-1 1-1 1 2 0-2 1 2 0 1 0 3-1-2 0 2-1-2 0 1-1-1-1 2-1-2 0 3-1-1 0-2 0 0-1 3-1-2-1-1-1 5-1 1 0-2 1 0 2 2 0-1 1-1 2 0 1 3 0-2 1 1 2 1 0 4 0-2 0-1 0 0-1 3-1-2 0-1 0 3-1-1 0 1-1-2 0 0-1 1-1-2 0 3-1-2 0 1-1-2 0 1-1-1-1 4 1 2 0-1 1 1 0 1 0-3 1 0 1 2 2 0 1-1 1 1 0 1 0-3 2 1 0 2 0-2 1 5 0 0-1 0-1-2 0 1-1-1 0 3-1-3 0 1-2-1 0 3-2-1 0 1-1-1 0-2 0 0-1 6 0-2 1 2 1-2 2 3 0-2 1 1 0 1 0-3 1 3 1-1 2 1 0 3 1-2 0 2-1-2 0 2-1-1 0 2-1-1 0-2 0 3-2-1-1 1-1 0-1-1 0-1-1 1-1-2 0 5-1 1 1 1 0-3 3 2 0-1 1-1 1 2 0-1 2-1 2 2 0 5 0-3 0 1-1 0-1 0-1-1 0 1-1-1 0 3-1-1 0-1 0 2-1-3 0 3-1-3 0 1-2-1 0 2-1 5 0-3 1 1 0 1 0 1 1-3 1 1 1 1 0-2 1 1 0 1 0 0 1-1 1-1 1 1 0-1 1 3 0-3 1 4-1 3-1-1 0-2-1 2-3-2-1 3-1-1 0 1-1-1 0-1 0-1 0 3-1 1 1 3 0-3 1 2 0-1 1 0 2 1 0-1 2 0 1 2 0-2 2 1 0 5 1-1 0-1 0 1-1-1 0 0-1 1-3-1 0-1 0 3-1-3 0 2-2-1-1 2-1 3-1 0 1-1 1-1 1 2 0 1 0-2 3 1 0 1 0-3 1 1 0 1 0-2 3 1 0-1 1 7-1-1-1-1 0-1-1 2-1-2 0 0-1 2-1 1-1-2 0 1-3 2-1 3 0-2 1 2 0-2 1-1 1 3 0 0 2-1 1 1 0 0 1 0 1-2 1 0 1 1 0 5 1-1 0-2 0 2-1-1 0 0-1 2-2-3 0 1-1-1 0 3-1-1 0-2-1 3-1-3 0 2-2 3 0 1 0 0 1-1 1 2 0-3 1 3 2-1 1 1 0-3 3 2 0 5 0-2 0 2-1-2 0 2-1-3 0 3-1-3 0 3-1-1 0-1 0-1 0 2-1-2 0 2-1 1-1-1 0-1 0 0-3 4 2 1 0-1 1-1 1 3 0 0 1 0 1-2 1 0 1 0 1 2 0-3 1 7 1-1-1 1-1-1 0-1 0-1 0 2-1 1-1-1 0-2 0 2-1-1 0 0-1 1-1 1-3 3 0 1 0-3 1 1 1 2 0-3 1 0 1 1 0 1 1 1 0-1 2 1 0-1 2 1 0 0 1 4 0-1 0-2 0 1-1-1 0 1-1 2-1-3 0 2-1-2 0 2-1 1-1-1 0 1-1-2 0-1-1 3-1 0-1-2 0 4-1 1 0-1 1 2 1-3 1 2 1-1 1 0 1 0 1 2 2-3 1 1 0 1 0 1 0-2 1 4 0 0-2 0-1 2-1-2-1 0-1-1 0 2-1-1 0-1-1 2-1-1 0 1-1 4 0 1 0-3 1 1 0 0 1 0 1 1 0-2 1 1 0-1 1 1 1 2 1-1 1 1 0-2 1 2 0 4 0-2 0-1 0 1-1 2-1-1 0 0-1-1-1-1 0 2-1 1-1 0-1-1 0-1-1 2-1-1 0 3-1 1 0-2 1 1 2 1 0-2 1 2 0-2 2 0 1 2 0 1 0-1 1 1 0-2 1 2 0-3 1 0 1 3 0 3 0 1-1-3 0 3-1-1 0-1 0 2-1-2 0-1 0 3-1 0-1-3 0 0-2 1-1-1 0 3-1-2 0-1 0 3-1 1-1 2 1 0 1 1 2-2 2 1 0 1 0-3 1 3 0-3 1 2 1 1 0-2 1 2 0-3 1 5-1-1 0 2-1 0-2-1 0 1-1-1 0 1-1-2 0 3-1-1 0-1-1-1 0 3-1-1 0 3-1 1 0-2 1 3 0-2 1 1 0 0 1-2 1 3 0-2 1-1 1 1 0 1 0-2 1 1 0-1 2 3 0 0 1 4 0-1 0-1 0 2-2-2 0-1 0 3-3-2 0-1-1 2-1-2 0 0-2 2-1 0-1 2 1 2 1-1 1-1 1 1 0-1 1 1 0-1 2 1 0 1 0 1 0-2 1 2 0-3 1 0 1 1 0 2 0 3 0-1 0 0-2-1 0 1-2 2-1 0-1-1 0-2-1 1-1 2-1-3 0 5 0 2 0-3 1 1 0 1 0-2 1 0 1 1 0 0 1 1 0 1 0-1 1-2 1 1 1 2 0-1 1 1 0-1 2 2 0 3-2-1 0 0-1-1 0 1-1-1 0 0-1-1-1 3-1 0-2-1 0-2-1 2-1 3 1 1 0-2 1 3 0-2 2 0 1 1 0 1 0-1 1 1 1 0 1 0 1-2 1 1 0 1 1 4 0-3-1 2-1-1 0-1 0 2-2-1 0-1 0 0-1 3-1-1 0-1 0 0-1 1-1-1-1 0-2 4 0 2 0-2 1 1 0-2 3 1 0 0 1 1 0 1 1-2 2 6 3 0-1 0-1-3 0 2-1 0-1 0-1-1-1 1-2-1 0 2-1 3-2-2 1 3 0 0 1-1 2-1 1 1 0 1 0-2 1 1 0 0 2 1 0 0 1-3 1 3 0 4 1-2 0-1-1 3-1-3 0 3-2-1-1 0-1-1 0-1-1 3-1-2-2-1 0 3-1 1 2 1 0 1 0 0 1-2 1 1 0 1 0 0 1-1 1 1 0 1 0 0 1-3 2 2 0-2 1 1 0 3-1 2-4-1 0 1-1 1-2-2 0-1 0 3-1 0-1-2 0 4 0 0 2 1 1-2 1 1 0-1 1 1 1 1 0 1 0-2 1 1 1 1 0-1 1-1 1 1 0 4 1-1 0 2-2-1-1 1-2-1-1-2 0 2-1-2-1 0-1 3-1-1 0 0-1 3 0-1 2 2 0-2 1 2 0 0 1-1 1 1 0-2 1 2 0-1 1 1 1 1 0-3 1 1 0 1 0 0 1 2 1 3-1-3 0 1-1-1-1 2-2-2-1 3-1-2 0-1 0 1-2-1 0 2-1 1-1 1 1 1 0 2 0-2 1 0 1 1 0 1 0-3 1 1 3 0 1 0 1-1 1 2 0 1 0-3 1 6 0-1-1-1-1 2-1 1-1-1 0-1 0-1 0 3-1-1 0 1-1 0-1 0-2-3 0 3-1-1 0-2-1 7 0-3 1 2 0-1 1 2 0-2 1 2 0-2 1-1 1 3 0-3 1 2 0 1 0-2 2 2 0-1 1-2 1 2 0 4 1-1 0 2-2-3-1 3-1 0-1-2 0-1 0 1-1-1 0 1-1-1 0 2-3-2 0 1-1 4 0 1 1 0 2 1 0 0 1-2 1 0 2 2 0-2 1 1 0 1 0-1 1-2 1 1 1 6-2-2 0 0-1 2-1-1 0 0-1 0-1-1 0 1-1 1-2-2 0-1 0 2-1 3-1 1 0-2 1 1 0 1 0 1 0-3 1 1 0 0 1 1 0 1 0 0 3-3 1 1 0 2 0 0 1-1 1-2 1 1 0 1 0 5 1 0-1-2 0 1-1-2 0 2-1-1 0-1-2 1-1-1 0 3-3 0-2 1 0 3 0 0 2-3 1 0 1 3 1 0 1-2 3 6 2-2-1 2-1-3 0 2-1 1-1-1 0 1-1 0-1-1 0-2-1 3-1-2 0 1-1 1-1 1 0 2 0 1 3 0 3-3 1 1 0-1 1 1 0 6 1 0-1-1 0-1 0 2-1-2 0 2-1-2 0 2-1-1-1-2 0 1-1 1-1-2 0 2-1 2-2 1 0 2 0-2 1 1 0 0 2 1 0-1 1-2 1 1 1 2 0-3 1 1 0 1 0-2 2 1 0 2 1-2 1 1 0 1 0 4 0-1 0-1 0 0-2 2-1-1 0-1 0 0-1 2-2-1 0-2 0 2-1 1-1-1 0-2-1 3-1 1 2 3 0-1 2 1 0-3 1 0 2 1 0 1 0 1 0 0 1-3 1 1 0 0 1 2 0 3 0-2 0 3-1-2-1 1-2-2-1 2-2 1-1-1-1 1-1-2 0 2-1-3 0 7 2-3 2 0 1 2 1 1 0 0 1-2 3 2 1 2-1 2-1-1 0-1-1-1 0 2-1 0-1-2-2 2-1-1 0-1 0 1-1 2-1 1-1 3 0-3 1 2 0 1 0-2 1 2 1-3 1 1 0-1 1 2 0-2 1 1 0 0 1 0 1-1 2 3 0-1 1 3-1 0-2 1-1-1 0-1 0 3-1-2 0-1 0 2-1 0-1-2-2 3-1 2-1 2 0-3 2 3 1-2 1 2 0-2 1 0 1 2 0-2 2 1 0 1 1 0 1-1 1 3 0 0-1 1-1 0-1 0-2-1-1 1-1 0-1-1 0-1 0 3-2-2 0 3-1 2 0-2 1 0 1 3 0-3 1 0 1 1 0 2 0-3 2 1 0 1 1-2 2 2 0-2 1 1 0 0 1 1 0 5 0 0-1-1 0 0-1-1-2 0-1-1 0 2-1-2 0 2-3 0-1-1-1 5 0-1 1 1 0 1 0-3 2 0 1 2 0-1 1 2 0-3 1 3 0-3 1 2 0-2 1 2 0-2 1 3 1-2 1 2 0 4-2-1-1 0-1 1-1-3 0 2-1-1 0 1-1-2 0 3-2-1 0-1 0 6-2-2 1 0 1 2 0-2 1 1 1-2 1 1 1 2 0-3 2 2 1 1 0 0 1 0 1 3 0 1-1-1 0-2 0 2-1-2 0 2-1 0-1-1 0 1-1 1-1-1 0-1-1-1 0 0-1 3-2-3 0 3-1-1 0 4 1-2 1 2 0 1 0-2 1-1 1 3 0-2 1 2 1-1 1-1 1 1 0-1 1 1 2 1 0 2-2-1 0 3-1-1 0-1 0 2-1-2 0-1 0 2-1 1-1-3-1 1-2 1-2 2 2 1 1 0 1-1 2 0 1 1 0-1 1 0 1 1 0" fill="none" stroke="none" marker-start="url(#k4)" marker-mid="url(#k4)" marker-end="url(#k4)"/>
<path transform="scale(.5)" d="M1404 1153l2 3 4 12 0-11 0-1 1-2 0-1-1 0-2-3 5 3 0 2 1 2 1 4 4 6-3 0 0-2 3-2-2 0 2-1-3-11 6 5-2 2 1 7 2 2 1 1 2-3-1-8 1-1 2 0 1 3 0 2 1 0 0 1-2 3 3 0-2 1 1 3 5 4 0-3 0-4 0-1-3 0 2-2-2-7 6 3 0 1 1 1-1 14 2-9 7-5-1 6 1 0 0 2-2 3 1 3 1 0 1-1 1-7 1-1-2-2 3-3-3-2 6-3-2 5 0 4 3 3-3 12 7-8-1-1 1-11 4 1-2 9 1 1-2 3 2 9 3-5-1-1 2-11-2-3 5-7 1 1 1 4 0 5-2 4 2 6-3 3 4 0 0-3 1-1-1-1 0-11 4 5 2 7 4 15-2-12 3-1-3-3 3-8-3-10 4 15 2 14 2-12 1-4 0-3 5-1-2 15 2 13 4-1-1-6 1-4 1-8-1-1-1-4 6 7-2 2 0 7 1 1 6 14 1-13 2-1 1-15 1 0 0 4-1 1 3 4 2 3 1-2-2-4 2-2 0-4 4-1-2 4 3 9-3 3 1 0 2 1 2 6 1-3-2-3 3-1-1-5-2-5 4-11 0 11 2 0 4 15-1-5-1-1 3-4-1-1 1-8-3-5 4 11" fill="none" stroke="none" marker-start="url(#k1)" marker-mid="url(#k1)" marker-end="url(#k1)"/>
<path d="M605.0 564.6 L624.9 567.0 L634.0 568.0 L641.8 568.6 L657.2 569.5 L665.0 570.1 L669.6 570.9 L679.0 573.7 L683.6 574.8 L689.8 575.8 L702.1 577.6" stroke="#0000ff" stroke-width="2.6" fill="none" stroke-linejoin="round"/>
<path d="M702.1 577.6 L702.0 577.7 L703.3 577.4 L704.6 578.7 L705.9 581.3 L707.2 582.1 L708.5 581.6 L709.8 581.2 L711.1 582.5 L712.4 583.9 L713.7 583.3 L715.0 582.5 L716.3 583.3 L717.6 589.4 L718.9 583.3 L720.2 582.8 L721.5 583.7 L722.8 586.2 L724.1 583.5 L725.4 584.0 L726.7 580.6 L728.0 578.5 L729.3 583.4 L730.6 584.6 L731.9 583.1 L733.2 584.9 L734.5 585.1 L735.8 586.9 L737.1 587.0 L738.4 585.8 L739.7 588.0 L741.0 587.8 L742.3 588.4 L743.6 588.7 L744.9 588.5 L746.2 590.6 L747.5 596.0 L748.8 588.0 L750.1 588.0 L751.4 587.2 L752.7 586.0 L754.0 586.0 L755.3 586.3 L756.6 595.1 L757.9 592.6 L759.2 590.2 L760.5 590.9 L761.8 589.9 L763.1 589.2 L764.4 589.1 L765.7 590.7 L767.0 593.8" stroke="#0000ff" stroke-width="2.2" fill="none" stroke-linejoin="round"/>
</g></g>
<g>
<line x1="605.0" x2="980.6" y1="672.50" y2="672.50" stroke="#ffc0cb" stroke-width="2"/>
<line x1="605.0" x2="980.6" y1="659.00" y2="659.00" stroke="#ffc0cb" stroke-width="2"/>
<line x1="605.0" x2="980.6" y1="659.00" y2="659.00" stroke="#dd66dd" stroke-width="2"/>
<line x1="605.0" x2="980.6" y1="645.50" y2="645.50" stroke="#ffc0cb" stroke-width="2"/>
<line x1="605.0" x2="980.6" y1="632.00" y2="632.00" stroke="#ffc0cb" stroke-width="2"/>
<line x1="605.0" x2="980.6" y1="618.50" y2="618.50" stroke="#ffc0cb" stroke-width="2"/>
<clipPath id="c19"><rect x="605.0" y="617.40" width="375.60" height="68.10"/></clipPath>
<g clip-path="url(#c19)">
<line x1="790" x2="980.6" y1="658.6" y2="658.6" stroke="#008000" stroke-width="3"/>
<path transform="scale(.5)" d="M1211 1264l0 77 4-36-3-4 3-15-2-1 0-1 1-12-1-3 2-26-2-3 5 20-1 8-1 2 2 0-1 2 0 15-1 1 3 0-3 3 2 6 1 9-1 9-2 4 0 2 1 1 0 1-1 6 6-7 1-2-1-7-2 0 1-2 2-3-1-1-2-13 0-1 3-1-2 0 1-1 0-9-1-1 0-2 1-8-1-10 0-3 1-10 2 3 1 3 2 22-3 25 1 4 2 1-1 1-2 3 1 5 4 27-1-19 2-11-2-1 2-1 1-5 0-6 4-56-3 8 2 14-1 25 1 10 0 4-1 5 0 3-1 10 1 6 1 2 0 6 2 5 3-7-3 0 0-8 3-2-1-1-2-13 3-2-3-1 2-6 0-12 1-3-3-18 0-8 1-2 2-17 3 2-1 2 0 1-1 10 2 25-2 23 3 15-2 3 1 0 3 19 0-3 0-6 0-16 1-4-2-8 1-7 2-6-3-6 1-2-1-2 3-2-2-1-1-36 5 16-1 2 0 7 0 7 2 2 0 2 0 4-2 9 3 0 0 7 0 6-1 13-2 34 3 3 1-20 3-2-1-4 0-3-2-5 0-1 2-2 1-9-1 0 0-4 0-1-2-1 3-24-1-3-1-3-1-12 0-6 4-1 0 22 2 4 1 18-1 6 0 7-1 6 2 11-1 37-2 2 7-20 0-13-1-5 1-7-1-2 0-4-2-3 1-3-1 0 1-2 2-18-3-23 6-20 0 7-2 10 1 7-1 9 1 11 1 1 0 3-2 16 3 7-2 10 0 4 0 3-1 8 1 2 5-24 0-1 0-6 1-5-3-4 0-7 3-29-2-15-1-10 6 29 1 9-3 4 2 1-2 17 1 7 2 5 1 23 3-1-3-1 1-22 0-3 1-18-2-2 1-5 2-3-1-1-2 0 1-3 2-2-1-3 0-14-2 0 7-5 0 3-3 5 2 9-2 11 0 1 3 1-3 2 3 0 0 4-1 11 1 0-1 4 1 1-3 4 1 20-1 2 2 19 4 2-2-51 1-3 1-3-2 0 1-3-1-1 0-2 0-3 2-17-1-3 2-17-1-1 3-1 2 0-1 2 1 11-2 3 1 1-2 14 3 0-1 3-1 3 2 2-3 1 3 13 0 21-3 6 3 0 2-7 1-3 1-1 0-27-1-2-2 0 3-15-2-7 1-1-2-2 5-10 1 7 1 4-2 1-1 1 1 2 1 3-1 1 1 11-1 2-1 2 1 1 2 1-1 7 0 3 1 1-1 2-1 1 2 4 0 11 2-9 2-5-1-6 0-10 0-6 0-3 1-5-2-16 1-2 2-2 3 16-2 1 0 2-1 10 0 7 2 3-2 13 0 1 3 2-3 1 3 2 0 5-2 6-1 10 4 5 0-15 1-1 0-7-1-1 3-12-2-9 0-8-1-10 1-1 1-1 1-25-2-2 5 6 1 2 0 3-2 12 1 9-2 4 1 3 0 4 1 5-2 2 0 3 2 14-2 3 2 3 1 24 1 2 3-21-3-6 2-9-1-7 2-13-2-5 1-2-2-2 0-3 0-1 0-1 0-15 6-3 1 13-2 5 1 3-2 4 1 4 1 1-2 6 2 3-2 3 3 4-3 3 3 6-3 5 6 25 1-4-2-2-1-8 3-3-3-2 0-8 1-14-1-8 3-5-1-3-2-12 0-24 4-6 2 3 0 3 1 3-1 38-1 1 1 2 1 2 0 8-3 1 0 22 2 2 1 18 3 8-1-6 1-3 0-11 0-27-1-13 0-7 1-7-1-7 1-19 2-2 0 4 1 17 2 12-2 14 1 2-1 6 0 16-1 27 1 4 2 1 1-8 0-25 1-3 0-9 1-3 0-6-1 0-1-5 1-12 1-2 1-5 0-2-1-3-2-2 2-1-1-13 0-2-1-2 0-1 4 2 2 14 1 6 0 4 0 2-1 1-2 1 3 0-2 1 1 0-2 2 2 1 1 0-2 4-1 4 3 3 0 6-1 2-1 5 1 7-2 21 3 3 2 15 0-22 1-1-2-5 2-3-1-3 0-3 1-1 1-2-2-1 2-5-2-1 2-13-2-2 0-1-1-4 2-1 1-3-2-2-1-1 1-2-1-1 2-2 1-5 0-4-3-8 0-9 5 14 2 10-3 4 2 1-2 1 2 1 1 0-1 2-2 9 1 3 1 0-1 3-1 8 0 21 0 4 2 1-1 2 4 31 2-33-1-1-1-1 0-5-1-2 3-3-1-9 1-10-3-1 1-3 0-14 1-11-2 0 0-5 2-1-1-2 3-19 0 3 2 29-1 12-1 6 3 0-3 1 3 5 0 7-2 2 1 2 1 7-1 1-2 30 6-15-2-19 0-4 3-18-1-2-1-1 1-3-2-9 6 14 0 7 0 18-2 20 1 14 6-27 0-1-1-2 1-1 0-7-1-16-1 0 2-12-1 0 1-3-3-4 3-3-2-10 2-10 0-11 3 3-1 9-1 11 1 6 2 5-1 13 0 1-2 3 1 1 0 1 2 2-3 1 2 2-1 13-1 17 7-13 0-3-3-1 3-4-2-1 2-2-2-1 0-2 0-1 2-1-2-1 1-7 1-4-3-2 1-3 1-8 0-25-2-3 5 25-1 13 3 1-1 8-2 3 2 9 0 15 4 7-2-9 0-10 1-1 1-2 0-3 1-25-3-1 4-28 3 9-1 3 0 18 1 0-3 1 0 1 0 8 1 3 1 4-2 9 0 3 0 23 2 0-1 2 4-10 2-13 0-2-2-3 2-4-1-4-1-14 2-2-2-4 2-3-1-19 1-11 4 5-2 5-1 6 2 2-1 4 1 9-1 2-1 4 2 18-1 6 2 11-2 1-1 5 1 0 1 3-2 7 5-15-1-2 2-10 0-1-2-1 3-7-3-3 1-21 2-4-2-1-1-2 2-2-1-6-1-3 0-2 3-4-3-2 6 23-1 12 2 0 0 9 0 1-2 3 2 10-3 3 0 4 0 8 3 5-3 4 6-5 1-7-3-3 3-3-2 0-1-3 2-1-1 0 1-1 1-1-1-11 0-2-2 0 3-7 0-16 0-8 1 20 3 4-2 10 1 4 1 4-2 2 2 1-3 2 2 1-2 6 7 10-2-6 2-12-2-7 2-3 0-4-1 0 0-5 1-7-1-4 5-12-1 2-2 3 1 4 0 3 1 3-2 2 3 0 0 1-1 10-1 1 2 14-1 11-2 3 1 1-1 10 2 10-2 3 2 14 4-31 0-4 0-6-2-6 0-1 1-2 0-2 1-1 1-2-3-3 3-9-1-3 1-1-3-1 0-3 3-4-2-2 1-5 2-7 1 25 1 1-1 6-1 2 2 1-1 3 0 2 6 21-1-28-2 0 3-4-1-6-1-5 2-4 0-29-2-15 6 46-3 9 2 1-1 6 2 7 0 5-2 2 1 3 0 12-2 1 3 0 0 3 0 7-1 11 5-21-1-20-2-2 0-2 3-1-2 0 0-4 1-14-1-5-1 0 3-1-1 0 1-2-3 0 3-2 0-16 3 7 0 12-2 4 3 2-2 2 0 1 1 5-1 6 2 1-1 3 0 3-1 2 0 2 1 2-2 5 3 4 4-8-2-1-1-5 3-9 0-1-1-2 1-5 0-6-2-8-1-11 1-15 2-2 1 25 0 12 0 2 2 0 1 3-3 2 0 2 1 2 2 0-1 10-2 4 1 6-1 3 2 0-1 1 0 5 2 8-1 3 3-42 1-2-2 0 3-3-3-1 7-32-2 3 2 19-1 6 0 3-2 8 3 1 0 7-1 2-1 1 2 5 0 24 2 18 0-3 1-27-1-5 1-2-1-3 1-3 0-7 0-9 1-5-1 0-1-8 5-9 0 5 1 1-3 2 0 6 0 14 2 0-2 1 1 2 0 1 0 3 2 0-1 16-2 2 4 21 1-3 0-13 1-3-2-12 0-9 0-1 2-4-1-3 1-13 1-1-3-1 1-6 5-1 1 3 0 4 0 2-3 2 2 0 1 1-3 7 3 1-3 3 3 0-1 4 0 1-1 3 0 11 1 2 0 1-2 1 2 8-1 10 2 2-2 11 6-10-1-10 0-3-2-5 0-4 2-1-2 0 3-12 0-1-3-1 0-1 2-1 0-16 0-10-1-4-1-15 2-2 1-3 2 17-1 15 2 7 0 1 1 2 0 1-1 3 1 0-2 3 1 4-1 4-1 6 1 2 0 2-1 11 6 1-2 0 1-10 2-2-1-2 0-11 1-1 0-2-3-2 1-11 0-2-1-3 1-3 1-4 0-8 0-1 2 7 1 7 2 5-2 2 1 2-2 2 0 2 1 0 1 6-1 1 2 1-3 11 1 1 1 5 1 1-1 3 3 3 1-7 1-1-2 0 1-1-1 0 0-1 0-1-1 0 3-1 0-1-3 0 3-1 0-2-1 0 1-1-1-1 1-1-1 0-2-1 1-1-1 0 1-1 0-2 0-2-1 0 0-2 0-11 3-1-3-4 2-4 3-17 2 0 0 17-3 2 3 6-2 14 0 2 1 2-2 1 1 0-1 1 2 1-2 2 0 1 1 0 0 1 0 1 2 0-3 2 1 0 1 0-2 1 1 2-1 1 0 2 1 6-1 1 2 12-1 1 5-22-1 0-1 0 0-1 1-1-1 0 0-1 3-1-3 0 3-1-2 0 2-3-1 0 1-2-2 0-1 0 3-2-1 0 1-2-1 0-2-1 3-1-3 0 1-1-1 0 0-11 6 11-2 5 1 0 2 0-3 2 0 4 2 1 0 3 1 0-3 1 3 0-2 1 6-3-3-1 1-1 2-1-1-1-1-2 1-1 1-1-1 0-1 0 2-1-2 0-1-2 0-1 3-1-1 0 0-1 4 0-1 1 2 4 0 1-2 5 1 0 1 0-2 1-1 1 0 2 1 0 2 0-3 1 2 0 5 0-1 0-1-2 0-3 2-4-3-2 3-2-2 0 1-1 0-2 2 0 3 0-3 1 0 1 3 0-1 1-2 3 0 1 1 0 2 0-3 1 0 2 2 3 1 0-2 1 0 1-1 1 6-1-1-2-1 0 2-1-1-1 2-2-3-1 0-1 1-4-1 0 2-1-2 0 2-1 0-1 4 0-2 2 3 2-3 1 1 1 2 0-3 1 1 0 1 0-2 1 0 2 3 0-2 1 0 5 1 0 2 0 0-1 0-1 0-2 2-1-1 0 2-1-2 0 0-2 2-1-1-1-2 0 2-3-2 0 3-1-2 0-1 0 3-1 1 0 3 0-1 1 1 1 0 1-2 2 1 0-2 3 0 1 1 0 1 1 1 2 0 1-2 1 1 0 1 0 1 1 3-1-1 0-1 0 2-2-3 0 2-1-1 0 2-1-1 0 1-1-2-1 0-1 2-1-1-4-1-1 2-1-3-1 4 2 0 4 3 2-1 2 0 2-1 1 2 0-2 3 5 0 1-2-2 0 2-1-1 0 1-1-3 0 2-2-2 0 1-1 0-1 2-1-3 0 3-2-1 0-1 0-1 0 3-4 1 0 2 0 0 1 0 1 0 2-1 2-1 1 1 0 1 0 1 0-2 2 2 1-2 2 1 2 4 1 1-1-2 0 1-1-1 0-1-2 0-2 2-1-1 0 1-2-2 0 3-1-1 0-1 0 1-2-2 0 3-1-3 0 2-1-2 0 3-1-1 0 2 0 2 0-2 2 1 0 1 1 1 3-2 1 1 0 1 0-3 1 2 1-2 1 0 1 2 0-1 1-1 1 2 0 3 2 2-1-2 0-1 0 2-1-1 0 1-1-2 0 0-1 2-1-1 0 2-1 0-2 0-2-2-1 1-1-1 0 3 1 1 0 1 0-1 2 2 0-1 2 0 4-2 1 0 2 6-2-2 0 2-2-1 0 2-1 0-3-1 0-1-1 1-1-1 0 2-1-3 0 2-1 1-1-1 0-1 0 0-2 5 0 0 1-1 1 0 1 2 0-3 1 3 0-1 1 0 1-2 1 1 0 1 0-2 1 3 0-3 1 2 1 0 1 1 0-1 2-2 1 3 0 4-1-1 0-1 0 0-1-1 0 1-1-1-1 3-2-1-1 1-1-2 0 2-2-3 0 1-1-1 0 0-2 3-1 3 0-1 2 0 1 0 2-1 1 2 0-2 1 2 1 1 0-3 2 1 0-1 2 3 1-1 1 1 0 1 0 0-1 1-1 2-1 0-1-1-1-1-1-1 0 0-1 3-2-2 0 1-2-2 0 2-1 1-1-1 0-1 0 4 0 0 2 1 0-1 1 2 0-2 2-1 1 1 0 2 0-3 1 0 1 2 0 0 1 0 1 1 0-2 1 0 1 3 0 3-1-3-3 2-1-1 0 1-1-2 0 2-1-1 0 2-1-2 0-1 0 2-1-1 0 2-3-3 0 7 0-1 2-1 1 1 3-1 2 1 1 1 0 0 1-3 1 3 0 4 1-2 0 1-1-1-2-1 0 0-2 3-1 0-1-1 0-1-2 1-1-1 0 1-1 1-1 2 0 1 0-1 1 1 0-1 1 2 0-2 1 0 2 1 0 0 1-1 1 1 4 1 0-1 1 5-2-1 0-2 0 1-1 1-1 0-4-1-1 0-1 1-1 3-1 0 1 1 0 1 0-2 1 2 0-2 4 1 0 1 1-3 4 1 1 0 1 5 0-2 0 3-2-3 0 0-1 2-1-1-1-1-1 3-1-2 0-1-1 2-2-2-1 3-1-2-1 3 0 0 1 1 0 2 0-2 2-1 2 2 1-2 1 0 3 1 0 2 1-2 1 1 0 4 0-1 0 1-1-2 0 2-1-2 0 1-1 2-1-3-2 2-1-2 0 3-1-1-1-1 0 2-1-3-1 5 0 0 1 1 0 0 1 1 0-2 1 1 0 1 0 0 1-1 1-1 2 2 3-3 1 2 0 5 0 0-2-2-1 1-1-2-1 2-1-1-2-1-1 3-1-1 0-1-2 4 1-1 2 0 1 1 2-1 1 0 2 1 1 2 0-1 1 1 0-3 1 7-1-2 0-1 0 1-1 2-1 0-1-2 0-1 0 2-1-2 0 1-1-1 0 1-1-1 0 3-1-2 0 2-2-2 0 0-1 1-1 2 0 0 1 1 0 1 2-2 1 0 1 1 1 2 0-3 1 3 0-3 1 1 1 0 1 2 0-3 1 2 0-2 1 1 0 6 0-3 0 0-1 0-1 1-1-1-1 2-1-1 0-1 0 2-1-2-1 1-1-1 0 1-1 1-1-1 0 2-1-1 0 1-1 1 1 3 0-2 1 1 0 0 1-2 1 0 2 3 1-1 1 0 1 1 1-3 1 1 0 3 1 3-1-1-1-1 0 2-2-3 0 3-1-1 0 1-1-2 0 0-2-1 0 2-1-2-1 3-1-1 0-1 0 3 0 3 0-2 1 1 2-2 2 3 0-1 1 1 0-2 2 1 0-1 1 1 2 3 0-1-1 2-1-1 0 0-1 2-3-1 0 1-1-2 0-1-1 3-2 1 1 1 0-1 1 1 0-1 2 1 0 1 1-1 1 2 0-3 1 3 2 4 0-1 0-1 0-1 0 0-1 2-1-1 0 2-1-1-2 0-2-1-1 1-1 1-1 1 0 2 0-1 1 2 0-2 1 0 1-1 1 2 0-2 3 3 0 0 1-2 1 2 1 4 0-3 0 3-2-1 0-2 0 1-1 1-1 1-1-1 0-1 0 2-1-1 0-2-4 5 0 0 1 1 0 1 0-2 1 2 0-3 1 2 0 1 0-3 1 0 1 3 0-2 1 1 0 1 0-3 1 0 1 2 0 1 0-2 1-1 1 1 0 2 0 1 0 0-1 2-1-1-2 1-1 1-1-1 0-1 0-1 0 1-1 2-2-3 0 3-1-1 0 2 1 2 1 1 0-3 1 2 0-2 1 0 2 3 0-2 1-1 1 0 1 1 0 1 0 1 0 1 1 3-1-2 0 0-1 1-1-1 0 2-1-1 0-1 0-1 0 3-2-1 0 0-1 0-1-2 0 5 0 1 0 1 0-2 2-1 1 1 0 1 0 1 0-1 1 1 1-2 1 2 0-2 1 1 0 1 0-1 1 5 0 0-1-2 0-1 0 2-1-2 0 2-1-1-2 2-1-2 0 1-1-2 0 3-1-1-1-1 0-1 0 5 0 2 0-3 1 1 0-1 2 2 0 0 1 1 1-2 1 1 0 1 0-1 1 1 0-2 1-1 1 5-1 2-1-1 0 1-1-1 0-2 0 2-1-1 0 2-1-2 0-1 0 0-1 2-1-2-1 2-1-2 0 6 0 1 0-3 1 1 0 1 0 1 0-3 1 0 1 2 2-2 2 2 0 1 0-3 1 1 0 1 0 1 0 2 0-1 0 3-1-1 0-2 0 2-1-1 0 2-1-1 0-1 0 2-2-1 0-2 0 1-1 1-1-1 0-1 0 6-1-2 1 3 0-1 1-2 1 1 0-1 2 2 0-1 1 2 0-3 1 2 0-2 1 3 0 2 0-1 0 3-2-2 0-1 0 3-1-2 0-1 0 3-1-3 0 1-1-1 0 2-1-1-1 1-1-1 0 3 0 3 1-3 2 3 0-2 1 2 0-2 1 1 0-2 1 3 0-3 1 1 0 0 1 1 0 3-1-1 0 3-1 0-1-2 0 2-1-2-1 1-1-1 0 2-1-1 0-1 0 0-1 6 1 0 1-2 1 1 1-2 1 1 0 0 1 0 1 1 0 1 0-3 1 2 0 3 0-1 0 3-1-2 0-1 0 3-1-3 0 0-1 3-1-1 0-1 0 1-1-1 0-1 0 2-1-1 0 6-2-2 1 2 0-1 1-2 1 1 0 2 0-3 2 3 1-2 1 1 0 1 0 0 1 4 0-1 0-2 0 2-1-2 0 3-1-1 0-2 0 3-1-2 0 2-1-1 0-1 0-1 0 0-1 3-1 0-1 2-1 0 1-1 1 1 0 1 0 1 0-2 1-1 1 1 0-1 2 2 0 0 1-2 1 6 0-1 0-1-1 3-1-1 0-2 0 3-2-2 0 2-1 0-1-2 0 0-1-1 0 4 0 1 1 1 0-2 1 2 0 1 0-3 1 2 0 1 1-2 1-1 1 1 0 2 0-2 1 1 0 1 0 2 0 1-1-2 0 2-2-1 0 2-1-3 0 3-1-1 0-1 0 1-1 1-1-1 0-2 0 5 0 2 0-3 1 2 0 1 0-3 1 0 1 1 0 2 0-3 1 2 0 1 2 4 0-1 0-2 0 1-1-1 0 3-1-2 0-1 0 1-1 2-1-1 0-2 0 2-1-2 0 4-1 3 0-2 1 1 0 0 1 1 0-3 2 1 0 1 0 1 0-3 1 1 0 1 0-2 1 1 0 2 0 2 0-1 0 2-1-1 0-1 0 3-1-3 0 2-1-1 0 1-1 1-2-3 0 5 0 0 1 2 0-3 1 2 0 1 2-3 1 1 0 1 0-2 1 1 0 1 0 5 0-1 0-1 0-1 0 1-1-1 0 3-1-2 0-1 0 0-1 3-1-1 0-1 0 2-1-1 0 4-1-2 1 1 0 1 1 1 0-2 1 1 0-1 1 1 0 1 0-3 1 2 0 1 0-2 1 5 0-1 0-1 0 3-1-2 0 2-1 0-1-2 0 0-1 2-1-1 0-1 0-1 0 5-1 0 1 1 0 0 1 1 0-3 1 0 1 2 0 1 0-3 1 1 0 1 1 5 0-1 0-1 0-1 0 2-1-1 0 1-1 1-1-1 0-1 0-1 0 3-1-2 0-1 0 1-1-1 0 0-1 4 0 1 0 1 0 1 0-2 1 1 0 1 0 0 1-2 1 0 1 1 0 1 0-3 1 1 0 2 0 3 1-2 0 1-1-1 0 3-1-2 0-1 0 3-1-3-1 2-1 1-1 1 0 1 1 1 0 1 0-3 1 2 0 1 0-2 1 2 0-3 1 2 0 0 1-2 1 7 0-1 0-1 0 1-1-1 0 2-1-2 0-1 0 2-1-1 0-1 0 3-1 0-1-1 0-2 0 3-1-3 0 5 0-1 1 2 0 1 0-2 1 2 0-3 1 1 0 2 0-2 1 1 0 1 0-3 2 1 0 4 0-1 0 2-1-1 0-1 0 2-1-1 0-1 0 3-1-1 0-2 0 3-1-1 0-1 0 0-1 3-1 0 1 2 1-2 1 1 0 2 0-3 1 1 0-1 1 1 0 2 0-2 1 2 0 4 0-1 0 1-1-2 0-1 0 2-1-2 0 2-1 0-1-1-1-1 0 1-1-1 0 7 0-3 1 2 0-2 1 1 0 1 0 0 2 1 0-3 1 1 0 1 0 1 0 0 1 4 0-2-1-1 0 3-1-2 0 2-1-1 0-1 0-1 0 3-1-2 0-1 0 7-1-2 1 1 0-2 1 2 0 1 0-2 1 1 0-2 1 3 0-3 1 4 0 3-1 0-1-2 0-1 0 3-1-1 0-1 0-1-2 3-1 1 1 1 0 2 0-2 1-1 1 1 0 1 0-1 1 1 0 0 1-2 1 2 0 4 0-1 0 2-1-2 0-1 0 3-1-1 0-1 0-1 0 2-1-2 0 3-1-2 0-1 0 3-1-1 0-1 0-1 0 4-1 0 1 2 0-1 1-1 1 1 0 2 0-2 2 2 0-1 1 2 0 2-1-1 0-1 0 3-1-1 0-1 0 2-1-2 0-1 0 3-1-1 0-2 0 3-2-1 0-1 0 5 0 0 2-1 1 2 0-2 1 1 0 1 0-2 2 1 0 1 0 3 0-1 0 2-2-1 0-1 0-1 0 2-1-1-1-1 0 3-1-1 0-1 0 3-1 3 0 0 1-2 1 1 0 1 0-3 1 2 0 1 0-3 2 1 0-1 1 2 0 1 0 1 0 2-1-2 0 1-1-1 0 3-1-2 0 1-1-1 0-1 0 1-1-1 0 2-1 2 1 1 0 2 0-3 1 2 0 1 0-2 1 1 0-1 1-1 1 3 0-3 1 1 0 2 0 2 0 1-1-1 0 2-1-1 0-2 0 3-1-2 0 2-1-1 0-1 0-1 0 3-1-3 0 2-1 4 0-2 1 1 0 1 0 1 0-2 1 1 0 1 0-2 1 1 0 1 0-2 1 1 0 1 0-3 1 0 1 1 0 6 0-1 0 1-1-1 0-1 0-1 0 3-1-1 0-1 0 2-1-3 0 3-1-1 0-1 0-1 0 2-1-1 0 0-1-1 0 6 0 1 0-3 1 1 0 2 0-2 1 1 0-2 1 2 0-2 1 2 0-2 1 2 0-1 1 1 0 5 0-1 0-1 0-1 0 3-1-3 0 3-1-1 0-1 0 1-2-2 0 4-2 1 0 2 0-3 1 1 0 1 0-1 1 2 0-2 1 1 0-2 1 1 0 1 0 1 0-3 1 1 0 1 0 1 0-2 1 6 0-2 0-1 0 3-1-1 0-2 0 3-1-1 0-1 0 2-1-1 0-1 0-1 0 3-1-2 0 1-1 0-1 3 0 1 0 1 0-1 1 1 0-2 1 1 0 1 0-2 1-1 1 2 1-1 1 5 0-1 0-1 0 3-1-1 0-1 0-1 0 3-1-1-1-1 0-1 0 3-1-1 0-1 0 2-1-1 0-2 0 3-1-1 0 2 1 2 0 1 0-3 1 1 0 2 0-3 1 1 0 1 0 0 1-2 1 1 0 1 0-1 1 1 0 1 0 3 0-2 0 3-1-1 0-2 0 3-1 0-1-1 0-1 0-1 0 3-1-1 0 1-1-3 0 3-1-2 0 3 0 1 0 0 1 1 0 0 1 1 0-3 1 2 0 1 0-3 1 1 0 1 0 1 0-2 1 1 0-2 1 2 0 1 0 3 0-1 0-1 0 3-1-1 0-1 0-1 0 3-1-1 0-1 0-1 0 2-1-1 0 0-1-1 0 0-1 3-1 2 0 0 1-1 1 1 1 0 1 0 2" fill="none" stroke="none" marker-start="url(#k0)" marker-mid="url(#k0)" marker-end="url(#k0)"/>
<line x1="740" x2="980.6" y1="647.2" y2="647.2" stroke="#0000ff" stroke-width="3"/>
<path transform="scale(.5)" d="M1402 1285l-1 3 0 2 1 3-1 3 2 1 4 0-3-3 3-1 4-4 0 3 0 3-3 1 1 0 3-2 3-2-3-2 0-1 4 3 2 2-1 3 1 0 1 12 2-2-1-4 1-1 0-8 4 1 0 5 0 3 6 11 0-3-2-1-1-3 3-5-3 0 0-5 3-1-1-1-2-2 0-1 2-2 4 7 1 0-2 10 1 0 2-3 2-3-1 0 1-4-1-4 1-2 0-1 5-6 0 7 0 1-3 6 1 2 1 0 0 1 1 5 3 5-1-24-1-7 4 6 0 7 3 1-1 2-1 6 3-5 2-7 2-1 2 3 1 9-3 2 6-2-1-3-1-2 6-11-1 1-1 2 2 1 0 1 0 5-1 1-1 5 11 4-1-1-2-8 1-1 3-1 3 1-3 2 3 5-1 7-2 2 3 2 2-15 2-1-3 0 3-1-1-5 0-3" fill="none" stroke="none" marker-start="url(#k1)" marker-mid="url(#k1)" marker-end="url(#k1)"/>
<path d="M605.0 632.6 L631.0 634.0 L638.6 634.5 L643.3 635.0 L665.0 638.1 L686.7 640.9 L692.9 641.9 L700.0 643.5" stroke="#0000ff" stroke-width="2.6" fill="none" stroke-linejoin="round"/>
<path d="M700.0 643.5 L700.0 645.3 L701.3 643.1 L702.6 643.2 L703.9 644.3 L705.2 644.1 L706.5 644.5 L707.8 647.4 L709.1 649.2 L710.4 650.9 L711.7 648.3 L713.0 651.3 L714.3 649.3 L715.6 646.8 L716.9 645.5 L718.2 653.4 L719.5 648.2 L720.8 646.6 L722.1 651.1 L723.4 646.6 L724.7 649.3 L726.0 648.3 L727.3 647.0 L728.6 645.5 L729.9 645.3 L731.2 654.3 L732.5 648.7 L733.8 648.9 L735.1 650.8 L736.4 650.7 L737.7 651.7 L739.0 652.0 L740.3 649.4 L741.6 647.6" stroke="#0000ff" stroke-width="2.2" fill="none" stroke-linejoin="round"/>
</g></g>
<path d="M67.80 3.65V72.95M443.70 3.65V72.95" stroke="#5a5a5a" stroke-width="1.7" fill="none"/>
<path d="M67.00 4.25H444.50M67.00 72.35H444.50" stroke="#484848" stroke-width="1.3" fill="none"/>
<line x1="63.90" x2="67.5" y1="21.50" y2="21.50" stroke="#222" stroke-width="1"/>
<text x="58.40" y="27.80" font-size="18.5" text-anchor="end" fill="#000" textLength="34.7" lengthAdjust="spacingAndGlyphs">0.75</text>
<line x1="63.90" x2="67.5" y1="39.20" y2="39.20" stroke="#222" stroke-width="1"/>
<text x="58.40" y="45.50" font-size="18.5" text-anchor="end" fill="#000" textLength="34.7" lengthAdjust="spacingAndGlyphs">0.50</text>
<line x1="63.90" x2="67.5" y1="56.90" y2="56.90" stroke="#222" stroke-width="1"/>
<text x="58.40" y="63.20" font-size="18.5" text-anchor="end" fill="#000" textLength="34.7" lengthAdjust="spacingAndGlyphs">0.25</text>
<line x1="443.5" x2="447.30" y1="13.30" y2="13.30" stroke="#222" stroke-width="1"/>
<text x="453.10" y="19.70" font-size="18.5" text-anchor="start" fill="#000" textLength="18.6" lengthAdjust="spacingAndGlyphs">10</text>
<line x1="474.10" x2="481.10" y1="9.10" y2="9.10" stroke="#000" stroke-width="1.2"/>
<text x="483.30" y="12.90" font-size="13" text-anchor="start" fill="#000" textLength="5.6" lengthAdjust="spacingAndGlyphs">1</text>
<line x1="443.5" x2="447.30" y1="35.15" y2="35.15" stroke="#222" stroke-width="1"/>
<text x="453.10" y="41.55" font-size="18.5" text-anchor="start" fill="#000" textLength="18.6" lengthAdjust="spacingAndGlyphs">10</text>
<line x1="474.10" x2="481.10" y1="30.95" y2="30.95" stroke="#000" stroke-width="1.2"/>
<text x="483.30" y="34.75" font-size="13" text-anchor="start" fill="#000" textLength="6.2" lengthAdjust="spacingAndGlyphs">2</text>
<line x1="443.5" x2="447.30" y1="57.00" y2="57.00" stroke="#222" stroke-width="1"/>
<text x="453.10" y="63.40" font-size="18.5" text-anchor="start" fill="#000" textLength="18.6" lengthAdjust="spacingAndGlyphs">10</text>
<line x1="474.10" x2="481.10" y1="52.80" y2="52.80" stroke="#000" stroke-width="1.2"/>
<text x="483.30" y="56.60" font-size="13" text-anchor="start" fill="#000" textLength="6.2" lengthAdjust="spacingAndGlyphs">3</text>
<rect x="426.55" y="10.35" width="15.20" height="18.50" rx="3.2" fill="#fff" fill-opacity="0.5" stroke="#ff2a2a" stroke-width="1.1"/>
<text x="434.55" y="23.50" font-size="13.4" text-anchor="middle" fill="#000">1</text>
<path d="M67.80 71.75V141.05M443.70 71.75V141.05" stroke="#5a5a5a" stroke-width="1.7" fill="none"/>
<path d="M67.00 72.35H444.50M67.00 140.45H444.50" stroke="#484848" stroke-width="1.3" fill="none"/>
<line x1="63.90" x2="67.5" y1="89.60" y2="89.60" stroke="#222" stroke-width="1"/>
<text x="58.40" y="95.90" font-size="18.5" text-anchor="end" fill="#000" textLength="34.7" lengthAdjust="spacingAndGlyphs">0.75</text>
<line x1="63.90" x2="67.5" y1="107.30" y2="107.30" stroke="#222" stroke-width="1"/>
<text x="58.40" y="113.60" font-size="18.5" text-anchor="end" fill="#000" textLength="34.7" lengthAdjust="spacingAndGlyphs">0.50</text>
<line x1="63.90" x2="67.5" y1="125.00" y2="125.00" stroke="#222" stroke-width="1"/>
<text x="58.40" y="131.30" font-size="18.5" text-anchor="end" fill="#000" textLength="34.7" lengthAdjust="spacingAndGlyphs">0.25</text>
<line x1="443.5" x2="447.30" y1="81.40" y2="81.40" stroke="#222" stroke-width="1"/>
<text x="453.10" y="87.80" font-size="18.5" text-anchor="start" fill="#000" textLength="18.6" lengthAdjust="spacingAndGlyphs">10</text>
<line x1="474.10" x2="481.10" y1="77.20" y2="77.20" stroke="#000" stroke-width="1.2"/>
<text x="483.30" y="81.00" font-size="13" text-anchor="start" fill="#000" textLength="5.6" lengthAdjust="spacingAndGlyphs">1</text>
<line x1="443.5" x2="447.30" y1="103.25" y2="103.25" stroke="#222" stroke-width="1"/>
<text x="453.10" y="109.65" font-size="18.5" text-anchor="start" fill="#000" textLength="18.6" lengthAdjust="spacingAndGlyphs">10</text>
<line x1="474.10" x2="481.10" y1="99.05" y2="99.05" stroke="#000" stroke-width="1.2"/>
<text x="483.30" y="102.85" font-size="13" text-anchor="start" fill="#000" textLength="6.2" lengthAdjust="spacingAndGlyphs">2</text>
<line x1="443.5" x2="447.30" y1="125.10" y2="125.10" stroke="#222" stroke-width="1"/>
<text x="453.10" y="131.50" font-size="18.5" text-anchor="start" fill="#000" textLength="18.6" lengthAdjust="spacingAndGlyphs">10</text>
<line x1="474.10" x2="481.10" y1="120.90" y2="120.90" stroke="#000" stroke-width="1.2"/>
<text x="483.30" y="124.70" font-size="13" text-anchor="start" fill="#000" textLength="6.2" lengthAdjust="spacingAndGlyphs">3</text>
<rect x="426.55" y="78.45" width="15.20" height="18.50" rx="3.2" fill="#fff" fill-opacity="0.5" stroke="#ff2a2a" stroke-width="1.1"/>
<text x="434.55" y="91.60" font-size="13.4" text-anchor="middle" fill="#000">2</text>
<path d="M67.80 139.85V209.15M443.70 139.85V209.15" stroke="#5a5a5a" stroke-width="1.7" fill="none"/>
<path d="M67.00 140.45H444.50M67.00 208.55H444.50" stroke="#484848" stroke-width="1.3" fill="none"/>
<line x1="63.90" x2="67.5" y1="157.70" y2="157.70" stroke="#222" stroke-width="1"/>
<text x="58.40" y="164.00" font-size="18.5" text-anchor="end" fill="#000" textLength="34.7" lengthAdjust="spacingAndGlyphs">0.75</text>
<line x1="63.90" x2="67.5" y1="175.40" y2="175.40" stroke="#222" stroke-width="1"/>
<text x="58.40" y="181.70" font-size="18.5" text-anchor="end" fill="#000" textLength="34.7" lengthAdjust="spacingAndGlyphs">0.50</text>
<line x1="63.90" x2="67.5" y1="193.10" y2="193.10" stroke="#222" stroke-width="1"/>
<text x="58.40" y="199.40" font-size="18.5" text-anchor="end" fill="#000" textLength="34.7" lengthAdjust="spacingAndGlyphs">0.25</text>
<line x1="443.5" x2="447.30" y1="149.50" y2="149.50" stroke="#222" stroke-width="1"/>
<text x="453.10" y="155.90" font-size="18.5" text-anchor="start" fill="#000" textLength="18.6" lengthAdjust="spacingAndGlyphs">10</text>
<line x1="474.10" x2="481.10" y1="145.30" y2="145.30" stroke="#000" stroke-width="1.2"/>
<text x="483.30" y="149.10" font-size="13" text-anchor="start" fill="#000" textLength="5.6" lengthAdjust="spacingAndGlyphs">1</text>
<line x1="443.5" x2="447.30" y1="171.35" y2="171.35" stroke="#222" stroke-width="1"/>
<text x="453.10" y="177.75" font-size="18.5" text-anchor="start" fill="#000" textLength="18.6" lengthAdjust="spacingAndGlyphs">10</text>
<line x1="474.10" x2="481.10" y1="167.15" y2="167.15" stroke="#000" stroke-width="1.2"/>
<text x="483.30" y="170.95" font-size="13" text-anchor="start" fill="#000" textLength="6.2" lengthAdjust="spacingAndGlyphs">2</text>
<line x1="443.5" x2="447.30" y1="193.20" y2="193.20" stroke="#222" stroke-width="1"/>
<text x="453.10" y="199.60" font-size="18.5" text-anchor="start" fill="#000" textLength="18.6" lengthAdjust="spacingAndGlyphs">10</text>
<line x1="474.10" x2="481.10" y1="189.00" y2="189.00" stroke="#000" stroke-width="1.2"/>
<text x="483.30" y="192.80" font-size="13" text-anchor="start" fill="#000" textLength="6.2" lengthAdjust="spacingAndGlyphs">3</text>
<rect x="426.55" y="146.55" width="15.20" height="18.50" rx="3.2" fill="#fff" fill-opacity="0.5" stroke="#ff2a2a" stroke-width="1.1"/>
<text x="434.55" y="159.70" font-size="13.4" text-anchor="middle" fill="#000">3</text>
<path d="M67.80 207.95V277.25M443.70 207.95V277.25" stroke="#5a5a5a" stroke-width="1.7" fill="none"/>
<path d="M67.00 208.55H444.50M67.00 276.65H444.50" stroke="#484848" stroke-width="1.3" fill="none"/>
<line x1="63.90" x2="67.5" y1="225.80" y2="225.80" stroke="#222" stroke-width="1"/>
<text x="58.40" y="232.10" font-size="18.5" text-anchor="end" fill="#000" textLength="34.7" lengthAdjust="spacingAndGlyphs">0.75</text>
<line x1="63.90" x2="67.5" y1="243.50" y2="243.50" stroke="#222" stroke-width="1"/>
<text x="58.40" y="249.80" font-size="18.5" text-anchor="end" fill="#000" textLength="34.7" lengthAdjust="spacingAndGlyphs">0.50</text>
<line x1="63.90" x2="67.5" y1="261.20" y2="261.20" stroke="#222" stroke-width="1"/>
<text x="58.40" y="267.50" font-size="18.5" text-anchor="end" fill="#000" textLength="34.7" lengthAdjust="spacingAndGlyphs">0.25</text>
<line x1="443.5" x2="447.30" y1="217.60" y2="217.60" stroke="#222" stroke-width="1"/>
<text x="453.10" y="224.00" font-size="18.5" text-anchor="start" fill="#000" textLength="18.6" lengthAdjust="spacingAndGlyphs">10</text>
<line x1="474.10" x2="481.10" y1="213.40" y2="213.40" stroke="#000" stroke-width="1.2"/>
<text x="483.30" y="217.20" font-size="13" text-anchor="start" fill="#000" textLength="5.6" lengthAdjust="spacingAndGlyphs">1</text>
<line x1="443.5" x2="447.30" y1="239.45" y2="239.45" stroke="#222" stroke-width="1"/>
<text x="453.10" y="245.85" font-size="18.5" text-anchor="start" fill="#000" textLength="18.6" lengthAdjust="spacingAndGlyphs">10</text>
<line x1="474.10" x2="481.10" y1="235.25" y2="235.25" stroke="#000" stroke-width="1.2"/>
<text x="483.30" y="239.05" font-size="13" text-anchor="start" fill="#000" textLength="6.2" lengthAdjust="spacingAndGlyphs">2</text>
<line x1="443.5" x2="447.30" y1="261.30" y2="261.30" stroke="#222" stroke-width="1"/>
<text x="453.10" y="267.70" font-size="18.5" text-anchor="start" fill="#000" textLength="18.6" lengthAdjust="spacingAndGlyphs">10</text>
<line x1="474.10" x2="481.10" y1="257.10" y2="257.10" stroke="#000" stroke-width="1.2"/>
<text x="483.30" y="260.90" font-size="13" text-anchor="start" fill="#000" textLength="6.2" lengthAdjust="spacingAndGlyphs">3</text>
<rect x="426.55" y="214.65" width="15.20" height="18.50" rx="3.2" fill="#fff" fill-opacity="0.5" stroke="#ff2a2a" stroke-width="1.1"/>
<text x="434.55" y="227.80" font-size="13.4" text-anchor="middle" fill="#000">4</text>
<path d="M67.80 276.05V345.35M443.70 276.05V345.35" stroke="#5a5a5a" stroke-width="1.7" fill="none"/>
<path d="M67.00 276.65H444.50M67.00 344.75H444.50" stroke="#484848" stroke-width="1.3" fill="none"/>
<line x1="63.90" x2="67.5" y1="293.90" y2="293.90" stroke="#222" stroke-width="1"/>
<text x="58.40" y="300.20" font-size="18.5" text-anchor="end" fill="#000" textLength="34.7" lengthAdjust="spacingAndGlyphs">0.75</text>
<line x1="63.90" x2="67.5" y1="311.60" y2="311.60" stroke="#222" stroke-width="1"/>
<text x="58.40" y="317.90" font-size="18.5" text-anchor="end" fill="#000" textLength="34.7" lengthAdjust="spacingAndGlyphs">0.50</text>
<line x1="63.90" x2="67.5" y1="329.30" y2="329.30" stroke="#222" stroke-width="1"/>
<text x="58.40" y="335.60" font-size="18.5" text-anchor="end" fill="#000" textLength="34.7" lengthAdjust="spacingAndGlyphs">0.25</text>
<line x1="443.5" x2="447.30" y1="285.70" y2="285.70" stroke="#222" stroke-width="1"/>
<text x="453.10" y="292.10" font-size="18.5" text-anchor="start" fill="#000" textLength="18.6" lengthAdjust="spacingAndGlyphs">10</text>
<line x1="474.10" x2="481.10" y1="281.50" y2="281.50" stroke="#000" stroke-width="1.2"/>
<text x="483.30" y="285.30" font-size="13" text-anchor="start" fill="#000" textLength="5.6" lengthAdjust="spacingAndGlyphs">1</text>
<line x1="443.5" x2="447.30" y1="307.55" y2="307.55" stroke="#222" stroke-width="1"/>
<text x="453.10" y="313.95" font-size="18.5" text-anchor="start" fill="#000" textLength="18.6" lengthAdjust="spacingAndGlyphs">10</text>
<line x1="474.10" x2="481.10" y1="303.35" y2="303.35" stroke="#000" stroke-width="1.2"/>
<text x="483.30" y="307.15" font-size="13" text-anchor="start" fill="#000" textLength="6.2" lengthAdjust="spacingAndGlyphs">2</text>
<line x1="443.5" x2="447.30" y1="329.40" y2="329.40" stroke="#222" stroke-width="1"/>
<text x="453.10" y="335.80" font-size="18.5" text-anchor="start" fill="#000" textLength="18.6" lengthAdjust="spacingAndGlyphs">10</text>
<line x1="474.10" x2="481.10" y1="325.20" y2="325.20" stroke="#000" stroke-width="1.2"/>
<text x="483.30" y="329.00" font-size="13" text-anchor="start" fill="#000" textLength="6.2" lengthAdjust="spacingAndGlyphs">3</text>
<rect x="426.55" y="282.75" width="15.20" height="18.50" rx="3.2" fill="#fff" fill-opacity="0.5" stroke="#ff2a2a" stroke-width="1.1"/>
<text x="434.55" y="295.90" font-size="13.4" text-anchor="middle" fill="#000">5</text>
<path d="M67.80 344.15V413.45M443.70 344.15V413.45" stroke="#5a5a5a" stroke-width="1.7" fill="none"/>
<path d="M67.00 344.75H444.50M67.00 412.85H444.50" stroke="#484848" stroke-width="1.3" fill="none"/>
<line x1="63.90" x2="67.5" y1="362.00" y2="362.00" stroke="#222" stroke-width="1"/>
<text x="58.40" y="368.30" font-size="18.5" text-anchor="end" fill="#000" textLength="34.7" lengthAdjust="spacingAndGlyphs">0.75</text>
<line x1="63.90" x2="67.5" y1="379.70" y2="379.70" stroke="#222" stroke-width="1"/>
<text x="58.40" y="386.00" font-size="18.5" text-anchor="end" fill="#000" textLength="34.7" lengthAdjust="spacingAndGlyphs">0.50</text>
<line x1="63.90" x2="67.5" y1="397.40" y2="397.40" stroke="#222" stroke-width="1"/>
<text x="58.40" y="403.70" font-size="18.5" text-anchor="end" fill="#000" textLength="34.7" lengthAdjust="spacingAndGlyphs">0.25</text>
<line x1="443.5" x2="447.30" y1="353.80" y2="353.80" stroke="#222" stroke-width="1"/>
<text x="453.10" y="360.20" font-size="18.5" text-anchor="start" fill="#000" textLength="18.6" lengthAdjust="spacingAndGlyphs">10</text>
<line x1="474.10" x2="481.10" y1="349.60" y2="349.60" stroke="#000" stroke-width="1.2"/>
<text x="483.30" y="353.40" font-size="13" text-anchor="start" fill="#000" textLength="5.6" lengthAdjust="spacingAndGlyphs">1</text>
<line x1="443.5" x2="447.30" y1="375.65" y2="375.65" stroke="#222" stroke-width="1"/>
<text x="453.10" y="382.05" font-size="18.5" text-anchor="start" fill="#000" textLength="18.6" lengthAdjust="spacingAndGlyphs">10</text>
<line x1="474.10" x2="481.10" y1="371.45" y2="371.45" stroke="#000" stroke-width="1.2"/>
<text x="483.30" y="375.25" font-size="13" text-anchor="start" fill="#000" textLength="6.2" lengthAdjust="spacingAndGlyphs">2</text>
<line x1="443.5" x2="447.30" y1="397.50" y2="397.50" stroke="#222" stroke-width="1"/>
<text x="453.10" y="403.90" font-size="18.5" text-anchor="start" fill="#000" textLength="18.6" lengthAdjust="spacingAndGlyphs">10</text>
<line x1="474.10" x2="481.10" y1="393.30" y2="393.30" stroke="#000" stroke-width="1.2"/>
<text x="483.30" y="397.10" font-size="13" text-anchor="start" fill="#000" textLength="6.2" lengthAdjust="spacingAndGlyphs">3</text>
<rect x="426.55" y="350.85" width="15.20" height="18.50" rx="3.2" fill="#fff" fill-opacity="0.5" stroke="#ff2a2a" stroke-width="1.1"/>
<text x="434.55" y="364.00" font-size="13.4" text-anchor="middle" fill="#000">6</text>
<path d="M67.80 412.25V481.55M443.70 412.25V481.55" stroke="#5a5a5a" stroke-width="1.7" fill="none"/>
<path d="M67.00 412.85H444.50M67.00 480.95H444.50" stroke="#484848" stroke-width="1.3" fill="none"/>
<line x1="63.90" x2="67.5" y1="430.10" y2="430.10" stroke="#222" stroke-width="1"/>
<text x="58.40" y="436.40" font-size="18.5" text-anchor="end" fill="#000" textLength="34.7" lengthAdjust="spacingAndGlyphs">0.75</text>
<line x1="63.90" x2="67.5" y1="447.80" y2="447.80" stroke="#222" stroke-width="1"/>
<text x="58.40" y="454.10" font-size="18.5" text-anchor="end" fill="#000" textLength="34.7" lengthAdjust="spacingAndGlyphs">0.50</text>
<line x1="63.90" x2="67.5" y1="465.50" y2="465.50" stroke="#222" stroke-width="1"/>
<text x="58.40" y="471.80" font-size="18.5" text-anchor="end" fill="#000" textLength="34.7" lengthAdjust="spacingAndGlyphs">0.25</text>
<line x1="443.5" x2="447.30" y1="421.90" y2="421.90" stroke="#222" stroke-width="1"/>
<text x="453.10" y="428.30" font-size="18.5" text-anchor="start" fill="#000" textLength="18.6" lengthAdjust="spacingAndGlyphs">10</text>
<line x1="474.10" x2="481.10" y1="417.70" y2="417.70" stroke="#000" stroke-width="1.2"/>
<text x="483.30" y="421.50" font-size="13" text-anchor="start" fill="#000" textLength="5.6" lengthAdjust="spacingAndGlyphs">1</text>
<line x1="443.5" x2="447.30" y1="443.75" y2="443.75" stroke="#222" stroke-width="1"/>
<text x="453.10" y="450.15" font-size="18.5" text-anchor="start" fill="#000" textLength="18.6" lengthAdjust="spacingAndGlyphs">10</text>
<line x1="474.10" x2="481.10" y1="439.55" y2="439.55" stroke="#000" stroke-width="1.2"/>
<text x="483.30" y="443.35" font-size="13" text-anchor="start" fill="#000" textLength="6.2" lengthAdjust="spacingAndGlyphs">2</text>
<line x1="443.5" x2="447.30" y1="465.60" y2="465.60" stroke="#222" stroke-width="1"/>
<text x="453.10" y="472.00" font-size="18.5" text-anchor="start" fill="#000" textLength="18.6" lengthAdjust="spacingAndGlyphs">10</text>
<line x1="474.10" x2="481.10" y1="461.40" y2="461.40" stroke="#000" stroke-width="1.2"/>
<text x="483.30" y="465.20" font-size="13" text-anchor="start" fill="#000" textLength="6.2" lengthAdjust="spacingAndGlyphs">3</text>
<rect x="426.55" y="418.95" width="15.20" height="18.50" rx="3.2" fill="#fff" fill-opacity="0.5" stroke="#ff2a2a" stroke-width="1.1"/>
<text x="434.55" y="432.10" font-size="13.4" text-anchor="middle" fill="#000">7</text>
<path d="M67.80 480.35V549.65M443.70 480.35V549.65" stroke="#5a5a5a" stroke-width="1.7" fill="none"/>
<path d="M67.00 480.95H444.50M67.00 549.05H444.50" stroke="#484848" stroke-width="1.3" fill="none"/>
<line x1="63.90" x2="67.5" y1="498.20" y2="498.20" stroke="#222" stroke-width="1"/>
<text x="58.40" y="504.50" font-size="18.5" text-anchor="end" fill="#000" textLength="34.7" lengthAdjust="spacingAndGlyphs">0.75</text>
<line x1="63.90" x2="67.5" y1="515.90" y2="515.90" stroke="#222" stroke-width="1"/>
<text x="58.40" y="522.20" font-size="18.5" text-anchor="end" fill="#000" textLength="34.7" lengthAdjust="spacingAndGlyphs">0.50</text>
<line x1="63.90" x2="67.5" y1="533.60" y2="533.60" stroke="#222" stroke-width="1"/>
<text x="58.40" y="539.90" font-size="18.5" text-anchor="end" fill="#000" textLength="34.7" lengthAdjust="spacingAndGlyphs">0.25</text>
<line x1="443.5" x2="447.30" y1="490.00" y2="490.00" stroke="#222" stroke-width="1"/>
<text x="453.10" y="496.40" font-size="18.5" text-anchor="start" fill="#000" textLength="18.6" lengthAdjust="spacingAndGlyphs">10</text>
<line x1="474.10" x2="481.10" y1="485.80" y2="485.80" stroke="#000" stroke-width="1.2"/>
<text x="483.30" y="489.60" font-size="13" text-anchor="start" fill="#000" textLength="5.6" lengthAdjust="spacingAndGlyphs">1</text>
<line x1="443.5" x2="447.30" y1="511.85" y2="511.85" stroke="#222" stroke-width="1"/>
<text x="453.10" y="518.25" font-size="18.5" text-anchor="start" fill="#000" textLength="18.6" lengthAdjust="spacingAndGlyphs">10</text>
<line x1="474.10" x2="481.10" y1="507.65" y2="507.65" stroke="#000" stroke-width="1.2"/>
<text x="483.30" y="511.45" font-size="13" text-anchor="start" fill="#000" textLength="6.2" lengthAdjust="spacingAndGlyphs">2</text>
<line x1="443.5" x2="447.30" y1="533.70" y2="533.70" stroke="#222" stroke-width="1"/>
<text x="453.10" y="540.10" font-size="18.5" text-anchor="start" fill="#000" textLength="18.6" lengthAdjust="spacingAndGlyphs">10</text>
<line x1="474.10" x2="481.10" y1="529.50" y2="529.50" stroke="#000" stroke-width="1.2"/>
<text x="483.30" y="533.30" font-size="13" text-anchor="start" fill="#000" textLength="6.2" lengthAdjust="spacingAndGlyphs">3</text>
<rect x="426.55" y="487.05" width="15.20" height="18.50" rx="3.2" fill="#fff" fill-opacity="0.5" stroke="#ff2a2a" stroke-width="1.1"/>
<text x="434.55" y="500.20" font-size="13.4" text-anchor="middle" fill="#000">8</text>
<path d="M67.80 548.45V617.75M443.70 548.45V617.75" stroke="#5a5a5a" stroke-width="1.7" fill="none"/>
<path d="M67.00 549.05H444.50M67.00 617.15H444.50" stroke="#484848" stroke-width="1.3" fill="none"/>
<line x1="63.90" x2="67.5" y1="566.30" y2="566.30" stroke="#222" stroke-width="1"/>
<text x="58.40" y="572.60" font-size="18.5" text-anchor="end" fill="#000" textLength="34.7" lengthAdjust="spacingAndGlyphs">0.75</text>
<line x1="63.90" x2="67.5" y1="584.00" y2="584.00" stroke="#222" stroke-width="1"/>
<text x="58.40" y="590.30" font-size="18.5" text-anchor="end" fill="#000" textLength="34.7" lengthAdjust="spacingAndGlyphs">0.50</text>
<line x1="63.90" x2="67.5" y1="601.70" y2="601.70" stroke="#222" stroke-width="1"/>
<text x="58.40" y="608.00" font-size="18.5" text-anchor="end" fill="#000" textLength="34.7" lengthAdjust="spacingAndGlyphs">0.25</text>
<line x1="443.5" x2="447.30" y1="558.10" y2="558.10" stroke="#222" stroke-width="1"/>
<text x="453.10" y="564.50" font-size="18.5" text-anchor="start" fill="#000" textLength="18.6" lengthAdjust="spacingAndGlyphs">10</text>
<line x1="474.10" x2="481.10" y1="553.90" y2="553.90" stroke="#000" stroke-width="1.2"/>
<text x="483.30" y="557.70" font-size="13" text-anchor="start" fill="#000" textLength="5.6" lengthAdjust="spacingAndGlyphs">1</text>
<line x1="443.5" x2="447.30" y1="579.95" y2="579.95" stroke="#222" stroke-width="1"/>
<text x="453.10" y="586.35" font-size="18.5" text-anchor="start" fill="#000" textLength="18.6" lengthAdjust="spacingAndGlyphs">10</text>
<line x1="474.10" x2="481.10" y1="575.75" y2="575.75" stroke="#000" stroke-width="1.2"/>
<text x="483.30" y="579.55" font-size="13" text-anchor="start" fill="#000" textLength="6.2" lengthAdjust="spacingAndGlyphs">2</text>
<line x1="443.5" x2="447.30" y1="601.80" y2="601.80" stroke="#222" stroke-width="1"/>
<text x="453.10" y="608.20" font-size="18.5" text-anchor="start" fill="#000" textLength="18.6" lengthAdjust="spacingAndGlyphs">10</text>
<line x1="474.10" x2="481.10" y1="597.60" y2="597.60" stroke="#000" stroke-width="1.2"/>
<text x="483.30" y="601.40" font-size="13" text-anchor="start" fill="#000" textLength="6.2" lengthAdjust="spacingAndGlyphs">3</text>
<rect x="426.55" y="555.15" width="15.20" height="18.50" rx="3.2" fill="#fff" fill-opacity="0.5" stroke="#ff2a2a" stroke-width="1.1"/>
<text x="434.55" y="568.30" font-size="13.4" text-anchor="middle" fill="#000">9</text>
<path d="M67.80 616.55V685.85M443.70 616.55V685.85" stroke="#5a5a5a" stroke-width="1.7" fill="none"/>
<path d="M67.00 617.15H444.50M67.00 685.25H444.50" stroke="#484848" stroke-width="1.3" fill="none"/>
<line x1="63.90" x2="67.5" y1="634.40" y2="634.40" stroke="#222" stroke-width="1"/>
<text x="58.40" y="640.70" font-size="18.5" text-anchor="end" fill="#000" textLength="34.7" lengthAdjust="spacingAndGlyphs">0.75</text>
<line x1="63.90" x2="67.5" y1="652.10" y2="652.10" stroke="#222" stroke-width="1"/>
<text x="58.40" y="658.40" font-size="18.5" text-anchor="end" fill="#000" textLength="34.7" lengthAdjust="spacingAndGlyphs">0.50</text>
<line x1="63.90" x2="67.5" y1="669.80" y2="669.80" stroke="#222" stroke-width="1"/>
<text x="58.40" y="676.10" font-size="18.5" text-anchor="end" fill="#000" textLength="34.7" lengthAdjust="spacingAndGlyphs">0.25</text>
<line x1="443.5" x2="447.30" y1="626.20" y2="626.20" stroke="#222" stroke-width="1"/>
<text x="453.10" y="632.60" font-size="18.5" text-anchor="start" fill="#000" textLength="18.6" lengthAdjust="spacingAndGlyphs">10</text>
<line x1="474.10" x2="481.10" y1="622.00" y2="622.00" stroke="#000" stroke-width="1.2"/>
<text x="483.30" y="625.80" font-size="13" text-anchor="start" fill="#000" textLength="5.6" lengthAdjust="spacingAndGlyphs">1</text>
<line x1="443.5" x2="447.30" y1="648.05" y2="648.05" stroke="#222" stroke-width="1"/>
<text x="453.10" y="654.45" font-size="18.5" text-anchor="start" fill="#000" textLength="18.6" lengthAdjust="spacingAndGlyphs">10</text>
<line x1="474.10" x2="481.10" y1="643.85" y2="643.85" stroke="#000" stroke-width="1.2"/>
<text x="483.30" y="647.65" font-size="13" text-anchor="start" fill="#000" textLength="6.2" lengthAdjust="spacingAndGlyphs">2</text>
<line x1="443.5" x2="447.30" y1="669.90" y2="669.90" stroke="#222" stroke-width="1"/>
<text x="453.10" y="676.30" font-size="18.5" text-anchor="start" fill="#000" textLength="18.6" lengthAdjust="spacingAndGlyphs">10</text>
<line x1="474.10" x2="481.10" y1="665.70" y2="665.70" stroke="#000" stroke-width="1.2"/>
<text x="483.30" y="669.50" font-size="13" text-anchor="start" fill="#000" textLength="6.2" lengthAdjust="spacingAndGlyphs">3</text>
<rect x="418.25" y="622.75" width="23.50" height="18.50" rx="3.2" fill="#fff" fill-opacity="0.5" stroke="#ff2a2a" stroke-width="1.1"/>
<text x="430.40" y="635.90" font-size="13.4" text-anchor="middle" fill="#000">10</text>
<path d="M605.30 3.65V72.95M980.80 3.65V72.95" stroke="#5a5a5a" stroke-width="1.7" fill="none"/>
<path d="M604.50 4.25H981.60M604.50 72.35H981.60" stroke="#484848" stroke-width="1.3" fill="none"/>
<line x1="601.40" x2="605.0" y1="6.30" y2="6.30" stroke="#222" stroke-width="1"/>
<text x="595.90" y="12.60" font-size="18.5" text-anchor="end" fill="#000" textLength="34.7" lengthAdjust="spacingAndGlyphs">0.75</text>
<line x1="601.40" x2="605.0" y1="28.60" y2="28.60" stroke="#222" stroke-width="1"/>
<text x="595.90" y="34.90" font-size="18.5" text-anchor="end" fill="#000" textLength="34.7" lengthAdjust="spacingAndGlyphs">0.50</text>
<line x1="601.40" x2="605.0" y1="50.90" y2="50.90" stroke="#222" stroke-width="1"/>
<text x="595.90" y="57.20" font-size="18.5" text-anchor="end" fill="#000" textLength="34.7" lengthAdjust="spacingAndGlyphs">0.25</text>
<line x1="980.6" x2="984.40" y1="13.30" y2="13.30" stroke="#222" stroke-width="1"/>
<text x="990.20" y="19.70" font-size="18.5" text-anchor="start" fill="#000" textLength="18.6" lengthAdjust="spacingAndGlyphs">10</text>
<line x1="1011.20" x2="1018.20" y1="9.10" y2="9.10" stroke="#000" stroke-width="1.2"/>
<text x="1020.40" y="12.90" font-size="13" text-anchor="start" fill="#000" textLength="5.6" lengthAdjust="spacingAndGlyphs">1</text>
<line x1="980.6" x2="984.40" y1="35.15" y2="35.15" stroke="#222" stroke-width="1"/>
<text x="990.20" y="41.55" font-size="18.5" text-anchor="start" fill="#000" textLength="18.6" lengthAdjust="spacingAndGlyphs">10</text>
<line x1="1011.20" x2="1018.20" y1="30.95" y2="30.95" stroke="#000" stroke-width="1.2"/>
<text x="1020.40" y="34.75" font-size="13" text-anchor="start" fill="#000" textLength="6.2" lengthAdjust="spacingAndGlyphs">2</text>
<line x1="980.6" x2="984.40" y1="57.00" y2="57.00" stroke="#222" stroke-width="1"/>
<text x="990.20" y="63.40" font-size="18.5" text-anchor="start" fill="#000" textLength="18.6" lengthAdjust="spacingAndGlyphs">10</text>
<line x1="1011.20" x2="1018.20" y1="52.80" y2="52.80" stroke="#000" stroke-width="1.2"/>
<text x="1020.40" y="56.60" font-size="13" text-anchor="start" fill="#000" textLength="6.2" lengthAdjust="spacingAndGlyphs">3</text>
<rect x="961.85" y="7.65" width="15.20" height="18.50" rx="3.2" fill="#fff" fill-opacity="0.5" stroke="#ff2a2a" stroke-width="1.1"/>
<text x="969.85" y="20.80" font-size="13.4" text-anchor="middle" fill="#000">1</text>
<path d="M605.30 71.75V141.05M980.80 71.75V141.05" stroke="#5a5a5a" stroke-width="1.7" fill="none"/>
<path d="M604.50 72.35H981.60M604.50 140.45H981.60" stroke="#484848" stroke-width="1.3" fill="none"/>
<line x1="601.40" x2="605.0" y1="74.40" y2="74.40" stroke="#222" stroke-width="1"/>
<text x="595.90" y="80.70" font-size="18.5" text-anchor="end" fill="#000" textLength="34.7" lengthAdjust="spacingAndGlyphs">0.75</text>
<line x1="601.40" x2="605.0" y1="96.70" y2="96.70" stroke="#222" stroke-width="1"/>
<text x="595.90" y="103.00" font-size="18.5" text-anchor="end" fill="#000" textLength="34.7" lengthAdjust="spacingAndGlyphs">0.50</text>
<line x1="601.40" x2="605.0" y1="119.00" y2="119.00" stroke="#222" stroke-width="1"/>
<text x="595.90" y="125.30" font-size="18.5" text-anchor="end" fill="#000" textLength="34.7" lengthAdjust="spacingAndGlyphs">0.25</text>
<line x1="980.6" x2="984.40" y1="81.40" y2="81.40" stroke="#222" stroke-width="1"/>
<text x="990.20" y="87.80" font-size="18.5" text-anchor="start" fill="#000" textLength="18.6" lengthAdjust="spacingAndGlyphs">10</text>
<line x1="1011.20" x2="1018.20" y1="77.20" y2="77.20" stroke="#000" stroke-width="1.2"/>
<text x="1020.40" y="81.00" font-size="13" text-anchor="start" fill="#000" textLength="5.6" lengthAdjust="spacingAndGlyphs">1</text>
<line x1="980.6" x2="984.40" y1="103.25" y2="103.25" stroke="#222" stroke-width="1"/>
<text x="990.20" y="109.65" font-size="18.5" text-anchor="start" fill="#000" textLength="18.6" lengthAdjust="spacingAndGlyphs">10</text>
<line x1="1011.20" x2="1018.20" y1="99.05" y2="99.05" stroke="#000" stroke-width="1.2"/>
<text x="1020.40" y="102.85" font-size="13" text-anchor="start" fill="#000" textLength="6.2" lengthAdjust="spacingAndGlyphs">2</text>
<line x1="980.6" x2="984.40" y1="125.10" y2="125.10" stroke="#222" stroke-width="1"/>
<text x="990.20" y="131.50" font-size="18.5" text-anchor="start" fill="#000" textLength="18.6" lengthAdjust="spacingAndGlyphs">10</text>
<line x1="1011.20" x2="1018.20" y1="120.90" y2="120.90" stroke="#000" stroke-width="1.2"/>
<text x="1020.40" y="124.70" font-size="13" text-anchor="start" fill="#000" textLength="6.2" lengthAdjust="spacingAndGlyphs">3</text>
<rect x="961.85" y="75.75" width="15.20" height="18.50" rx="3.2" fill="#fff" fill-opacity="0.5" stroke="#ff2a2a" stroke-width="1.1"/>
<text x="969.85" y="88.90" font-size="13.4" text-anchor="middle" fill="#000">2</text>
<path d="M605.30 139.85V209.15M980.80 139.85V209.15" stroke="#5a5a5a" stroke-width="1.7" fill="none"/>
<path d="M604.50 140.45H981.60M604.50 208.55H981.60" stroke="#484848" stroke-width="1.3" fill="none"/>
<line x1="601.40" x2="605.0" y1="142.50" y2="142.50" stroke="#222" stroke-width="1"/>
<text x="595.90" y="148.80" font-size="18.5" text-anchor="end" fill="#000" textLength="34.7" lengthAdjust="spacingAndGlyphs">0.75</text>
<line x1="601.40" x2="605.0" y1="164.80" y2="164.80" stroke="#222" stroke-width="1"/>
<text x="595.90" y="171.10" font-size="18.5" text-anchor="end" fill="#000" textLength="34.7" lengthAdjust="spacingAndGlyphs">0.50</text>
<line x1="601.40" x2="605.0" y1="187.10" y2="187.10" stroke="#222" stroke-width="1"/>
<text x="595.90" y="193.40" font-size="18.5" text-anchor="end" fill="#000" textLength="34.7" lengthAdjust="spacingAndGlyphs">0.25</text>
<line x1="980.6" x2="984.40" y1="149.50" y2="149.50" stroke="#222" stroke-width="1"/>
<text x="990.20" y="155.90" font-size="18.5" text-anchor="start" fill="#000" textLength="18.6" lengthAdjust="spacingAndGlyphs">10</text>
<line x1="1011.20" x2="1018.20" y1="145.30" y2="145.30" stroke="#000" stroke-width="1.2"/>
<text x="1020.40" y="149.10" font-size="13" text-anchor="start" fill="#000" textLength="5.6" lengthAdjust="spacingAndGlyphs">1</text>
<line x1="980.6" x2="984.40" y1="171.35" y2="171.35" stroke="#222" stroke-width="1"/>
<text x="990.20" y="177.75" font-size="18.5" text-anchor="start" fill="#000" textLength="18.6" lengthAdjust="spacingAndGlyphs">10</text>
<line x1="1011.20" x2="1018.20" y1="167.15" y2="167.15" stroke="#000" stroke-width="1.2"/>
<text x="1020.40" y="170.95" font-size="13" text-anchor="start" fill="#000" textLength="6.2" lengthAdjust="spacingAndGlyphs">2</text>
<line x1="980.6" x2="984.40" y1="193.20" y2="193.20" stroke="#222" stroke-width="1"/>
<text x="990.20" y="199.60" font-size="18.5" text-anchor="start" fill="#000" textLength="18.6" lengthAdjust="spacingAndGlyphs">10</text>
<line x1="1011.20" x2="1018.20" y1="189.00" y2="189.00" stroke="#000" stroke-width="1.2"/>
<text x="1020.40" y="192.80" font-size="13" text-anchor="start" fill="#000" textLength="6.2" lengthAdjust="spacingAndGlyphs">3</text>
<rect x="961.85" y="143.85" width="15.20" height="18.50" rx="3.2" fill="#fff" fill-opacity="0.5" stroke="#ff2a2a" stroke-width="1.1"/>
<text x="969.85" y="157.00" font-size="13.4" text-anchor="middle" fill="#000">3</text>
<path d="M605.30 207.95V277.25M980.80 207.95V277.25" stroke="#5a5a5a" stroke-width="1.7" fill="none"/>
<path d="M604.50 208.55H981.60M604.50 276.65H981.60" stroke="#484848" stroke-width="1.3" fill="none"/>
<line x1="601.40" x2="605.0" y1="210.60" y2="210.60" stroke="#222" stroke-width="1"/>
<text x="595.90" y="216.90" font-size="18.5" text-anchor="end" fill="#000" textLength="34.7" lengthAdjust="spacingAndGlyphs">0.75</text>
<line x1="601.40" x2="605.0" y1="232.90" y2="232.90" stroke="#222" stroke-width="1"/>
<text x="595.90" y="239.20" font-size="18.5" text-anchor="end" fill="#000" textLength="34.7" lengthAdjust="spacingAndGlyphs">0.50</text>
<line x1="601.40" x2="605.0" y1="255.20" y2="255.20" stroke="#222" stroke-width="1"/>
<text x="595.90" y="261.50" font-size="18.5" text-anchor="end" fill="#000" textLength="34.7" lengthAdjust="spacingAndGlyphs">0.25</text>
<line x1="980.6" x2="984.40" y1="217.60" y2="217.60" stroke="#222" stroke-width="1"/>
<text x="990.20" y="224.00" font-size="18.5" text-anchor="start" fill="#000" textLength="18.6" lengthAdjust="spacingAndGlyphs">10</text>
<line x1="1011.20" x2="1018.20" y1="213.40" y2="213.40" stroke="#000" stroke-width="1.2"/>
<text x="1020.40" y="217.20" font-size="13" text-anchor="start" fill="#000" textLength="5.6" lengthAdjust="spacingAndGlyphs">1</text>
<line x1="980.6" x2="984.40" y1="239.45" y2="239.45" stroke="#222" stroke-width="1"/>
<text x="990.20" y="245.85" font-size="18.5" text-anchor="start" fill="#000" textLength="18.6" lengthAdjust="spacingAndGlyphs">10</text>
<line x1="1011.20" x2="1018.20" y1="235.25" y2="235.25" stroke="#000" stroke-width="1.2"/>
<text x="1020.40" y="239.05" font-size="13" text-anchor="start" fill="#000" textLength="6.2" lengthAdjust="spacingAndGlyphs">2</text>
<line x1="980.6" x2="984.40" y1="261.30" y2="261.30" stroke="#222" stroke-width="1"/>
<text x="990.20" y="267.70" font-size="18.5" text-anchor="start" fill="#000" textLength="18.6" lengthAdjust="spacingAndGlyphs">10</text>
<line x1="1011.20" x2="1018.20" y1="257.10" y2="257.10" stroke="#000" stroke-width="1.2"/>
<text x="1020.40" y="260.90" font-size="13" text-anchor="start" fill="#000" textLength="6.2" lengthAdjust="spacingAndGlyphs">3</text>
<rect x="961.85" y="211.95" width="15.20" height="18.50" rx="3.2" fill="#fff" fill-opacity="0.5" stroke="#ff2a2a" stroke-width="1.1"/>
<text x="969.85" y="225.10" font-size="13.4" text-anchor="middle" fill="#000">4</text>
<path d="M605.30 276.05V345.35M980.80 276.05V345.35" stroke="#5a5a5a" stroke-width="1.7" fill="none"/>
<path d="M604.50 276.65H981.60M604.50 344.75H981.60" stroke="#484848" stroke-width="1.3" fill="none"/>
<line x1="601.40" x2="605.0" y1="278.70" y2="278.70" stroke="#222" stroke-width="1"/>
<text x="595.90" y="285.00" font-size="18.5" text-anchor="end" fill="#000" textLength="34.7" lengthAdjust="spacingAndGlyphs">0.75</text>
<line x1="601.40" x2="605.0" y1="301.00" y2="301.00" stroke="#222" stroke-width="1"/>
<text x="595.90" y="307.30" font-size="18.5" text-anchor="end" fill="#000" textLength="34.7" lengthAdjust="spacingAndGlyphs">0.50</text>
<line x1="601.40" x2="605.0" y1="323.30" y2="323.30" stroke="#222" stroke-width="1"/>
<text x="595.90" y="329.60" font-size="18.5" text-anchor="end" fill="#000" textLength="34.7" lengthAdjust="spacingAndGlyphs">0.25</text>
<line x1="980.6" x2="984.40" y1="285.70" y2="285.70" stroke="#222" stroke-width="1"/>
<text x="990.20" y="292.10" font-size="18.5" text-anchor="start" fill="#000" textLength="18.6" lengthAdjust="spacingAndGlyphs">10</text>
<line x1="1011.20" x2="1018.20" y1="281.50" y2="281.50" stroke="#000" stroke-width="1.2"/>
<text x="1020.40" y="285.30" font-size="13" text-anchor="start" fill="#000" textLength="5.6" lengthAdjust="spacingAndGlyphs">1</text>
<line x1="980.6" x2="984.40" y1="307.55" y2="307.55" stroke="#222" stroke-width="1"/>
<text x="990.20" y="313.95" font-size="18.5" text-anchor="start" fill="#000" textLength="18.6" lengthAdjust="spacingAndGlyphs">10</text>
<line x1="1011.20" x2="1018.20" y1="303.35" y2="303.35" stroke="#000" stroke-width="1.2"/>
<text x="1020.40" y="307.15" font-size="13" text-anchor="start" fill="#000" textLength="6.2" lengthAdjust="spacingAndGlyphs">2</text>
<line x1="980.6" x2="984.40" y1="329.40" y2="329.40" stroke="#222" stroke-width="1"/>
<text x="990.20" y="335.80" font-size="18.5" text-anchor="start" fill="#000" textLength="18.6" lengthAdjust="spacingAndGlyphs">10</text>
<line x1="1011.20" x2="1018.20" y1="325.20" y2="325.20" stroke="#000" stroke-width="1.2"/>
<text x="1020.40" y="329.00" font-size="13" text-anchor="start" fill="#000" textLength="6.2" lengthAdjust="spacingAndGlyphs">3</text>
<rect x="961.85" y="280.05" width="15.20" height="18.50" rx="3.2" fill="#fff" fill-opacity="0.5" stroke="#ff2a2a" stroke-width="1.1"/>
<text x="969.85" y="293.20" font-size="13.4" text-anchor="middle" fill="#000">5</text>
<path d="M605.30 344.15V413.45M980.80 344.15V413.45" stroke="#5a5a5a" stroke-width="1.7" fill="none"/>
<path d="M604.50 344.75H981.60M604.50 412.85H981.60" stroke="#484848" stroke-width="1.3" fill="none"/>
<line x1="601.40" x2="605.0" y1="346.80" y2="346.80" stroke="#222" stroke-width="1"/>
<text x="595.90" y="353.10" font-size="18.5" text-anchor="end" fill="#000" textLength="34.7" lengthAdjust="spacingAndGlyphs">0.75</text>
<line x1="601.40" x2="605.0" y1="369.10" y2="369.10" stroke="#222" stroke-width="1"/>
<text x="595.90" y="375.40" font-size="18.5" text-anchor="end" fill="#000" textLength="34.7" lengthAdjust="spacingAndGlyphs">0.50</text>
<line x1="601.40" x2="605.0" y1="391.40" y2="391.40" stroke="#222" stroke-width="1"/>
<text x="595.90" y="397.70" font-size="18.5" text-anchor="end" fill="#000" textLength="34.7" lengthAdjust="spacingAndGlyphs">0.25</text>
<line x1="980.6" x2="984.40" y1="353.80" y2="353.80" stroke="#222" stroke-width="1"/>
<text x="990.20" y="360.20" font-size="18.5" text-anchor="start" fill="#000" textLength="18.6" lengthAdjust="spacingAndGlyphs">10</text>
<line x1="1011.20" x2="1018.20" y1="349.60" y2="349.60" stroke="#000" stroke-width="1.2"/>
<text x="1020.40" y="353.40" font-size="13" text-anchor="start" fill="#000" textLength="5.6" lengthAdjust="spacingAndGlyphs">1</text>
<line x1="980.6" x2="984.40" y1="375.65" y2="375.65" stroke="#222" stroke-width="1"/>
<text x="990.20" y="382.05" font-size="18.5" text-anchor="start" fill="#000" textLength="18.6" lengthAdjust="spacingAndGlyphs">10</text>
<line x1="1011.20" x2="1018.20" y1="371.45" y2="371.45" stroke="#000" stroke-width="1.2"/>
<text x="1020.40" y="375.25" font-size="13" text-anchor="start" fill="#000" textLength="6.2" lengthAdjust="spacingAndGlyphs">2</text>
<line x1="980.6" x2="984.40" y1="397.50" y2="397.50" stroke="#222" stroke-width="1"/>
<text x="990.20" y="403.90" font-size="18.5" text-anchor="start" fill="#000" textLength="18.6" lengthAdjust="spacingAndGlyphs">10</text>
<line x1="1011.20" x2="1018.20" y1="393.30" y2="393.30" stroke="#000" stroke-width="1.2"/>
<text x="1020.40" y="397.10" font-size="13" text-anchor="start" fill="#000" textLength="6.2" lengthAdjust="spacingAndGlyphs">3</text>
<rect x="961.85" y="348.15" width="15.20" height="18.50" rx="3.2" fill="#fff" fill-opacity="0.5" stroke="#ff2a2a" stroke-width="1.1"/>
<text x="969.85" y="361.30" font-size="13.4" text-anchor="middle" fill="#000">6</text>
<path d="M605.30 412.25V481.55M980.80 412.25V481.55" stroke="#5a5a5a" stroke-width="1.7" fill="none"/>
<path d="M604.50 412.85H981.60M604.50 480.95H981.60" stroke="#484848" stroke-width="1.3" fill="none"/>
<line x1="601.40" x2="605.0" y1="414.90" y2="414.90" stroke="#222" stroke-width="1"/>
<text x="595.90" y="421.20" font-size="18.5" text-anchor="end" fill="#000" textLength="34.7" lengthAdjust="spacingAndGlyphs">0.75</text>
<line x1="601.40" x2="605.0" y1="437.20" y2="437.20" stroke="#222" stroke-width="1"/>
<text x="595.90" y="443.50" font-size="18.5" text-anchor="end" fill="#000" textLength="34.7" lengthAdjust="spacingAndGlyphs">0.50</text>
<line x1="601.40" x2="605.0" y1="459.50" y2="459.50" stroke="#222" stroke-width="1"/>
<text x="595.90" y="465.80" font-size="18.5" text-anchor="end" fill="#000" textLength="34.7" lengthAdjust="spacingAndGlyphs">0.25</text>
<line x1="980.6" x2="984.40" y1="421.90" y2="421.90" stroke="#222" stroke-width="1"/>
<text x="990.20" y="428.30" font-size="18.5" text-anchor="start" fill="#000" textLength="18.6" lengthAdjust="spacingAndGlyphs">10</text>
<line x1="1011.20" x2="1018.20" y1="417.70" y2="417.70" stroke="#000" stroke-width="1.2"/>
<text x="1020.40" y="421.50" font-size="13" text-anchor="start" fill="#000" textLength="5.6" lengthAdjust="spacingAndGlyphs">1</text>
<line x1="980.6" x2="984.40" y1="443.75" y2="443.75" stroke="#222" stroke-width="1"/>
<text x="990.20" y="450.15" font-size="18.5" text-anchor="start" fill="#000" textLength="18.6" lengthAdjust="spacingAndGlyphs">10</text>
<line x1="1011.20" x2="1018.20" y1="439.55" y2="439.55" stroke="#000" stroke-width="1.2"/>
<text x="1020.40" y="443.35" font-size="13" text-anchor="start" fill="#000" textLength="6.2" lengthAdjust="spacingAndGlyphs">2</text>
<line x1="980.6" x2="984.40" y1="465.60" y2="465.60" stroke="#222" stroke-width="1"/>
<text x="990.20" y="472.00" font-size="18.5" text-anchor="start" fill="#000" textLength="18.6" lengthAdjust="spacingAndGlyphs">10</text>
<line x1="1011.20" x2="1018.20" y1="461.40" y2="461.40" stroke="#000" stroke-width="1.2"/>
<text x="1020.40" y="465.20" font-size="13" text-anchor="start" fill="#000" textLength="6.2" lengthAdjust="spacingAndGlyphs">3</text>
<rect x="961.85" y="416.25" width="15.20" height="18.50" rx="3.2" fill="#fff" fill-opacity="0.5" stroke="#ff2a2a" stroke-width="1.1"/>
<text x="969.85" y="429.40" font-size="13.4" text-anchor="middle" fill="#000">7</text>
<path d="M605.30 480.35V549.65M980.80 480.35V549.65" stroke="#5a5a5a" stroke-width="1.7" fill="none"/>
<path d="M604.50 480.95H981.60M604.50 549.05H981.60" stroke="#484848" stroke-width="1.3" fill="none"/>
<line x1="601.40" x2="605.0" y1="483.00" y2="483.00" stroke="#222" stroke-width="1"/>
<text x="595.90" y="489.30" font-size="18.5" text-anchor="end" fill="#000" textLength="34.7" lengthAdjust="spacingAndGlyphs">0.75</text>
<line x1="601.40" x2="605.0" y1="505.30" y2="505.30" stroke="#222" stroke-width="1"/>
<text x="595.90" y="511.60" font-size="18.5" text-anchor="end" fill="#000" textLength="34.7" lengthAdjust="spacingAndGlyphs">0.50</text>
<line x1="601.40" x2="605.0" y1="527.60" y2="527.60" stroke="#222" stroke-width="1"/>
<text x="595.90" y="533.90" font-size="18.5" text-anchor="end" fill="#000" textLength="34.7" lengthAdjust="spacingAndGlyphs">0.25</text>
<line x1="980.6" x2="984.40" y1="490.00" y2="490.00" stroke="#222" stroke-width="1"/>
<text x="990.20" y="496.40" font-size="18.5" text-anchor="start" fill="#000" textLength="18.6" lengthAdjust="spacingAndGlyphs">10</text>
<line x1="1011.20" x2="1018.20" y1="485.80" y2="485.80" stroke="#000" stroke-width="1.2"/>
<text x="1020.40" y="489.60" font-size="13" text-anchor="start" fill="#000" textLength="5.6" lengthAdjust="spacingAndGlyphs">1</text>
<line x1="980.6" x2="984.40" y1="511.85" y2="511.85" stroke="#222" stroke-width="1"/>
<text x="990.20" y="518.25" font-size="18.5" text-anchor="start" fill="#000" textLength="18.6" lengthAdjust="spacingAndGlyphs">10</text>
<line x1="1011.20" x2="1018.20" y1="507.65" y2="507.65" stroke="#000" stroke-width="1.2"/>
<text x="1020.40" y="511.45" font-size="13" text-anchor="start" fill="#000" textLength="6.2" lengthAdjust="spacingAndGlyphs">2</text>
<line x1="980.6" x2="984.40" y1="533.70" y2="533.70" stroke="#222" stroke-width="1"/>
<text x="990.20" y="540.10" font-size="18.5" text-anchor="start" fill="#000" textLength="18.6" lengthAdjust="spacingAndGlyphs">10</text>
<line x1="1011.20" x2="1018.20" y1="529.50" y2="529.50" stroke="#000" stroke-width="1.2"/>
<text x="1020.40" y="533.30" font-size="13" text-anchor="start" fill="#000" textLength="6.2" lengthAdjust="spacingAndGlyphs">3</text>
<rect x="961.85" y="484.35" width="15.20" height="18.50" rx="3.2" fill="#fff" fill-opacity="0.5" stroke="#ff2a2a" stroke-width="1.1"/>
<text x="969.85" y="497.50" font-size="13.4" text-anchor="middle" fill="#000">8</text>
<path d="M605.30 548.45V617.75M980.80 548.45V617.75" stroke="#5a5a5a" stroke-width="1.7" fill="none"/>
<path d="M604.50 549.05H981.60M604.50 617.15H981.60" stroke="#484848" stroke-width="1.3" fill="none"/>
<line x1="601.40" x2="605.0" y1="551.10" y2="551.10" stroke="#222" stroke-width="1"/>
<text x="595.90" y="557.40" font-size="18.5" text-anchor="end" fill="#000" textLength="34.7" lengthAdjust="spacingAndGlyphs">0.75</text>
<line x1="601.40" x2="605.0" y1="573.40" y2="573.40" stroke="#222" stroke-width="1"/>
<text x="595.90" y="579.70" font-size="18.5" text-anchor="end" fill="#000" textLength="34.7" lengthAdjust="spacingAndGlyphs">0.50</text>
<line x1="601.40" x2="605.0" y1="595.70" y2="595.70" stroke="#222" stroke-width="1"/>
<text x="595.90" y="602.00" font-size="18.5" text-anchor="end" fill="#000" textLength="34.7" lengthAdjust="spacingAndGlyphs">0.25</text>
<line x1="980.6" x2="984.40" y1="558.10" y2="558.10" stroke="#222" stroke-width="1"/>
<text x="990.20" y="564.50" font-size="18.5" text-anchor="start" fill="#000" textLength="18.6" lengthAdjust="spacingAndGlyphs">10</text>
<line x1="1011.20" x2="1018.20" y1="553.90" y2="553.90" stroke="#000" stroke-width="1.2"/>
<text x="1020.40" y="557.70" font-size="13" text-anchor="start" fill="#000" textLength="5.6" lengthAdjust="spacingAndGlyphs">1</text>
<line x1="980.6" x2="984.40" y1="579.95" y2="579.95" stroke="#222" stroke-width="1"/>
<text x="990.20" y="586.35" font-size="18.5" text-anchor="start" fill="#000" textLength="18.6" lengthAdjust="spacingAndGlyphs">10</text>
<line x1="1011.20" x2="1018.20" y1="575.75" y2="575.75" stroke="#000" stroke-width="1.2"/>
<text x="1020.40" y="579.55" font-size="13" text-anchor="start" fill="#000" textLength="6.2" lengthAdjust="spacingAndGlyphs">2</text>
<line x1="980.6" x2="984.40" y1="601.80" y2="601.80" stroke="#222" stroke-width="1"/>
<text x="990.20" y="608.20" font-size="18.5" text-anchor="start" fill="#000" textLength="18.6" lengthAdjust="spacingAndGlyphs">10</text>
<line x1="1011.20" x2="1018.20" y1="597.60" y2="597.60" stroke="#000" stroke-width="1.2"/>
<text x="1020.40" y="601.40" font-size="13" text-anchor="start" fill="#000" textLength="6.2" lengthAdjust="spacingAndGlyphs">3</text>
<rect x="961.85" y="552.45" width="15.20" height="18.50" rx="3.2" fill="#fff" fill-opacity="0.5" stroke="#ff2a2a" stroke-width="1.1"/>
<text x="969.85" y="565.60" font-size="13.4" text-anchor="middle" fill="#000">9</text>
<path d="M605.30 616.55V685.85M980.80 616.55V685.85" stroke="#5a5a5a" stroke-width="1.7" fill="none"/>
<path d="M604.50 617.15H981.60M604.50 685.25H981.60" stroke="#484848" stroke-width="1.3" fill="none"/>
<line x1="601.40" x2="605.0" y1="619.20" y2="619.20" stroke="#222" stroke-width="1"/>
<text x="595.90" y="625.50" font-size="18.5" text-anchor="end" fill="#000" textLength="34.7" lengthAdjust="spacingAndGlyphs">0.75</text>
<line x1="601.40" x2="605.0" y1="641.50" y2="641.50" stroke="#222" stroke-width="1"/>
<text x="595.90" y="647.80" font-size="18.5" text-anchor="end" fill="#000" textLength="34.7" lengthAdjust="spacingAndGlyphs">0.50</text>
<line x1="601.40" x2="605.0" y1="663.80" y2="663.80" stroke="#222" stroke-width="1"/>
<text x="595.90" y="670.10" font-size="18.5" text-anchor="end" fill="#000" textLength="34.7" lengthAdjust="spacingAndGlyphs">0.25</text>
<line x1="980.6" x2="984.40" y1="626.20" y2="626.20" stroke="#222" stroke-width="1"/>
<text x="990.20" y="632.60" font-size="18.5" text-anchor="start" fill="#000" textLength="18.6" lengthAdjust="spacingAndGlyphs">10</text>
<line x1="1011.20" x2="1018.20" y1="622.00" y2="622.00" stroke="#000" stroke-width="1.2"/>
<text x="1020.40" y="625.80" font-size="13" text-anchor="start" fill="#000" textLength="5.6" lengthAdjust="spacingAndGlyphs">1</text>
<line x1="980.6" x2="984.40" y1="648.05" y2="648.05" stroke="#222" stroke-width="1"/>
<text x="990.20" y="654.45" font-size="18.5" text-anchor="start" fill="#000" textLength="18.6" lengthAdjust="spacingAndGlyphs">10</text>
<line x1="1011.20" x2="1018.20" y1="643.85" y2="643.85" stroke="#000" stroke-width="1.2"/>
<text x="1020.40" y="647.65" font-size="13" text-anchor="start" fill="#000" textLength="6.2" lengthAdjust="spacingAndGlyphs">2</text>
<line x1="980.6" x2="984.40" y1="669.90" y2="669.90" stroke="#222" stroke-width="1"/>
<text x="990.20" y="676.30" font-size="18.5" text-anchor="start" fill="#000" textLength="18.6" lengthAdjust="spacingAndGlyphs">10</text>
<line x1="1011.20" x2="1018.20" y1="665.70" y2="665.70" stroke="#000" stroke-width="1.2"/>
<text x="1020.40" y="669.50" font-size="13" text-anchor="start" fill="#000" textLength="6.2" lengthAdjust="spacingAndGlyphs">3</text>
<rect x="953.55" y="620.05" width="23.50" height="18.50" rx="3.2" fill="#fff" fill-opacity="0.5" stroke="#ff2a2a" stroke-width="1.1"/>
<text x="965.70" y="633.20" font-size="13.4" text-anchor="middle" fill="#000">10</text>
<line x1="67.50" x2="67.50" y1="685.50" y2="689.10" stroke="#222" stroke-width="1"/>
<text x="67.50" y="705.80" font-size="18.5" text-anchor="middle" fill="#000" textLength="34.7" lengthAdjust="spacingAndGlyphs">0.00</text>
<line x1="130.17" x2="130.17" y1="685.50" y2="689.10" stroke="#222" stroke-width="1"/>
<text x="130.17" y="705.80" font-size="18.5" text-anchor="middle" fill="#000" textLength="34.7" lengthAdjust="spacingAndGlyphs">0.25</text>
<line x1="192.83" x2="192.83" y1="685.50" y2="689.10" stroke="#222" stroke-width="1"/>
<text x="192.83" y="705.80" font-size="18.5" text-anchor="middle" fill="#000" textLength="34.7" lengthAdjust="spacingAndGlyphs">0.50</text>
<line x1="255.50" x2="255.50" y1="685.50" y2="689.10" stroke="#222" stroke-width="1"/>
<text x="255.50" y="705.80" font-size="18.5" text-anchor="middle" fill="#000" textLength="34.7" lengthAdjust="spacingAndGlyphs">0.75</text>
<line x1="318.17" x2="318.17" y1="685.50" y2="689.10" stroke="#222" stroke-width="1"/>
<text x="318.17" y="705.80" font-size="18.5" text-anchor="middle" fill="#000" textLength="34.7" lengthAdjust="spacingAndGlyphs">1.00</text>
<line x1="380.83" x2="380.83" y1="685.50" y2="689.10" stroke="#222" stroke-width="1"/>
<text x="380.83" y="705.80" font-size="18.5" text-anchor="middle" fill="#000" textLength="34.7" lengthAdjust="spacingAndGlyphs">1.25</text>
<line x1="443.50" x2="443.50" y1="685.50" y2="689.10" stroke="#222" stroke-width="1"/>
<text x="443.50" y="705.80" font-size="18.5" text-anchor="middle" fill="#000" textLength="34.7" lengthAdjust="spacingAndGlyphs">1.50</text>
<line x1="605.00" x2="605.00" y1="685.50" y2="689.10" stroke="#222" stroke-width="1"/>
<text x="605.00" y="705.80" font-size="18.5" text-anchor="middle" fill="#000">0</text>
<line x1="703.84" x2="703.84" y1="685.50" y2="689.10" stroke="#222" stroke-width="1"/>
<text x="703.84" y="705.80" font-size="18.5" text-anchor="middle" fill="#000">1</text>
<line x1="802.68" x2="802.68" y1="685.50" y2="689.10" stroke="#222" stroke-width="1"/>
<text x="802.68" y="705.80" font-size="18.5" text-anchor="middle" fill="#000">2</text>
<line x1="901.53" x2="901.53" y1="685.50" y2="689.10" stroke="#222" stroke-width="1"/>
<text x="901.53" y="705.80" font-size="18.5" text-anchor="middle" fill="#000">3</text>
<text x="155.40" y="727.80" font-size="20" text-anchor="start" fill="#000" textLength="200.3" lengthAdjust="spacingAndGlyphs">time (orbital periods)</text>
<text x="691.50" y="727.80" font-size="20" text-anchor="start" fill="#000" textLength="200.3" lengthAdjust="spacingAndGlyphs">time (orbital periods)</text>
<text x="412.90" y="727.00" font-size="18.5" text-anchor="start" fill="#000" textLength="29" lengthAdjust="spacingAndGlyphs">1e4</text>
<text x="948.00" y="727.00" font-size="18.5" text-anchor="start" fill="#000" textLength="31.3" lengthAdjust="spacingAndGlyphs">1e4</text>
<text transform="translate(14.7,672) rotate(-90)" font-size="20.5" fill="#008000" textLength="37.2" lengthAdjust="spacingAndGlyphs">spin</text>
<text transform="translate(551.4,672) rotate(-90)" font-size="20.5" fill="#008000" textLength="37.2" lengthAdjust="spacingAndGlyphs">spin</text>
<text transform="translate(509.6,638.9) rotate(-90)" font-size="20.5" fill="#0000ff" textLength="109.8" lengthAdjust="spacingAndGlyphs">eccentricity</text>
<text transform="translate(1046.5,638.9) rotate(-90)" font-size="20.5" fill="#0000ff" textLength="109.8" lengthAdjust="spacingAndGlyphs">eccentricity</text>
</svg></body></html>
